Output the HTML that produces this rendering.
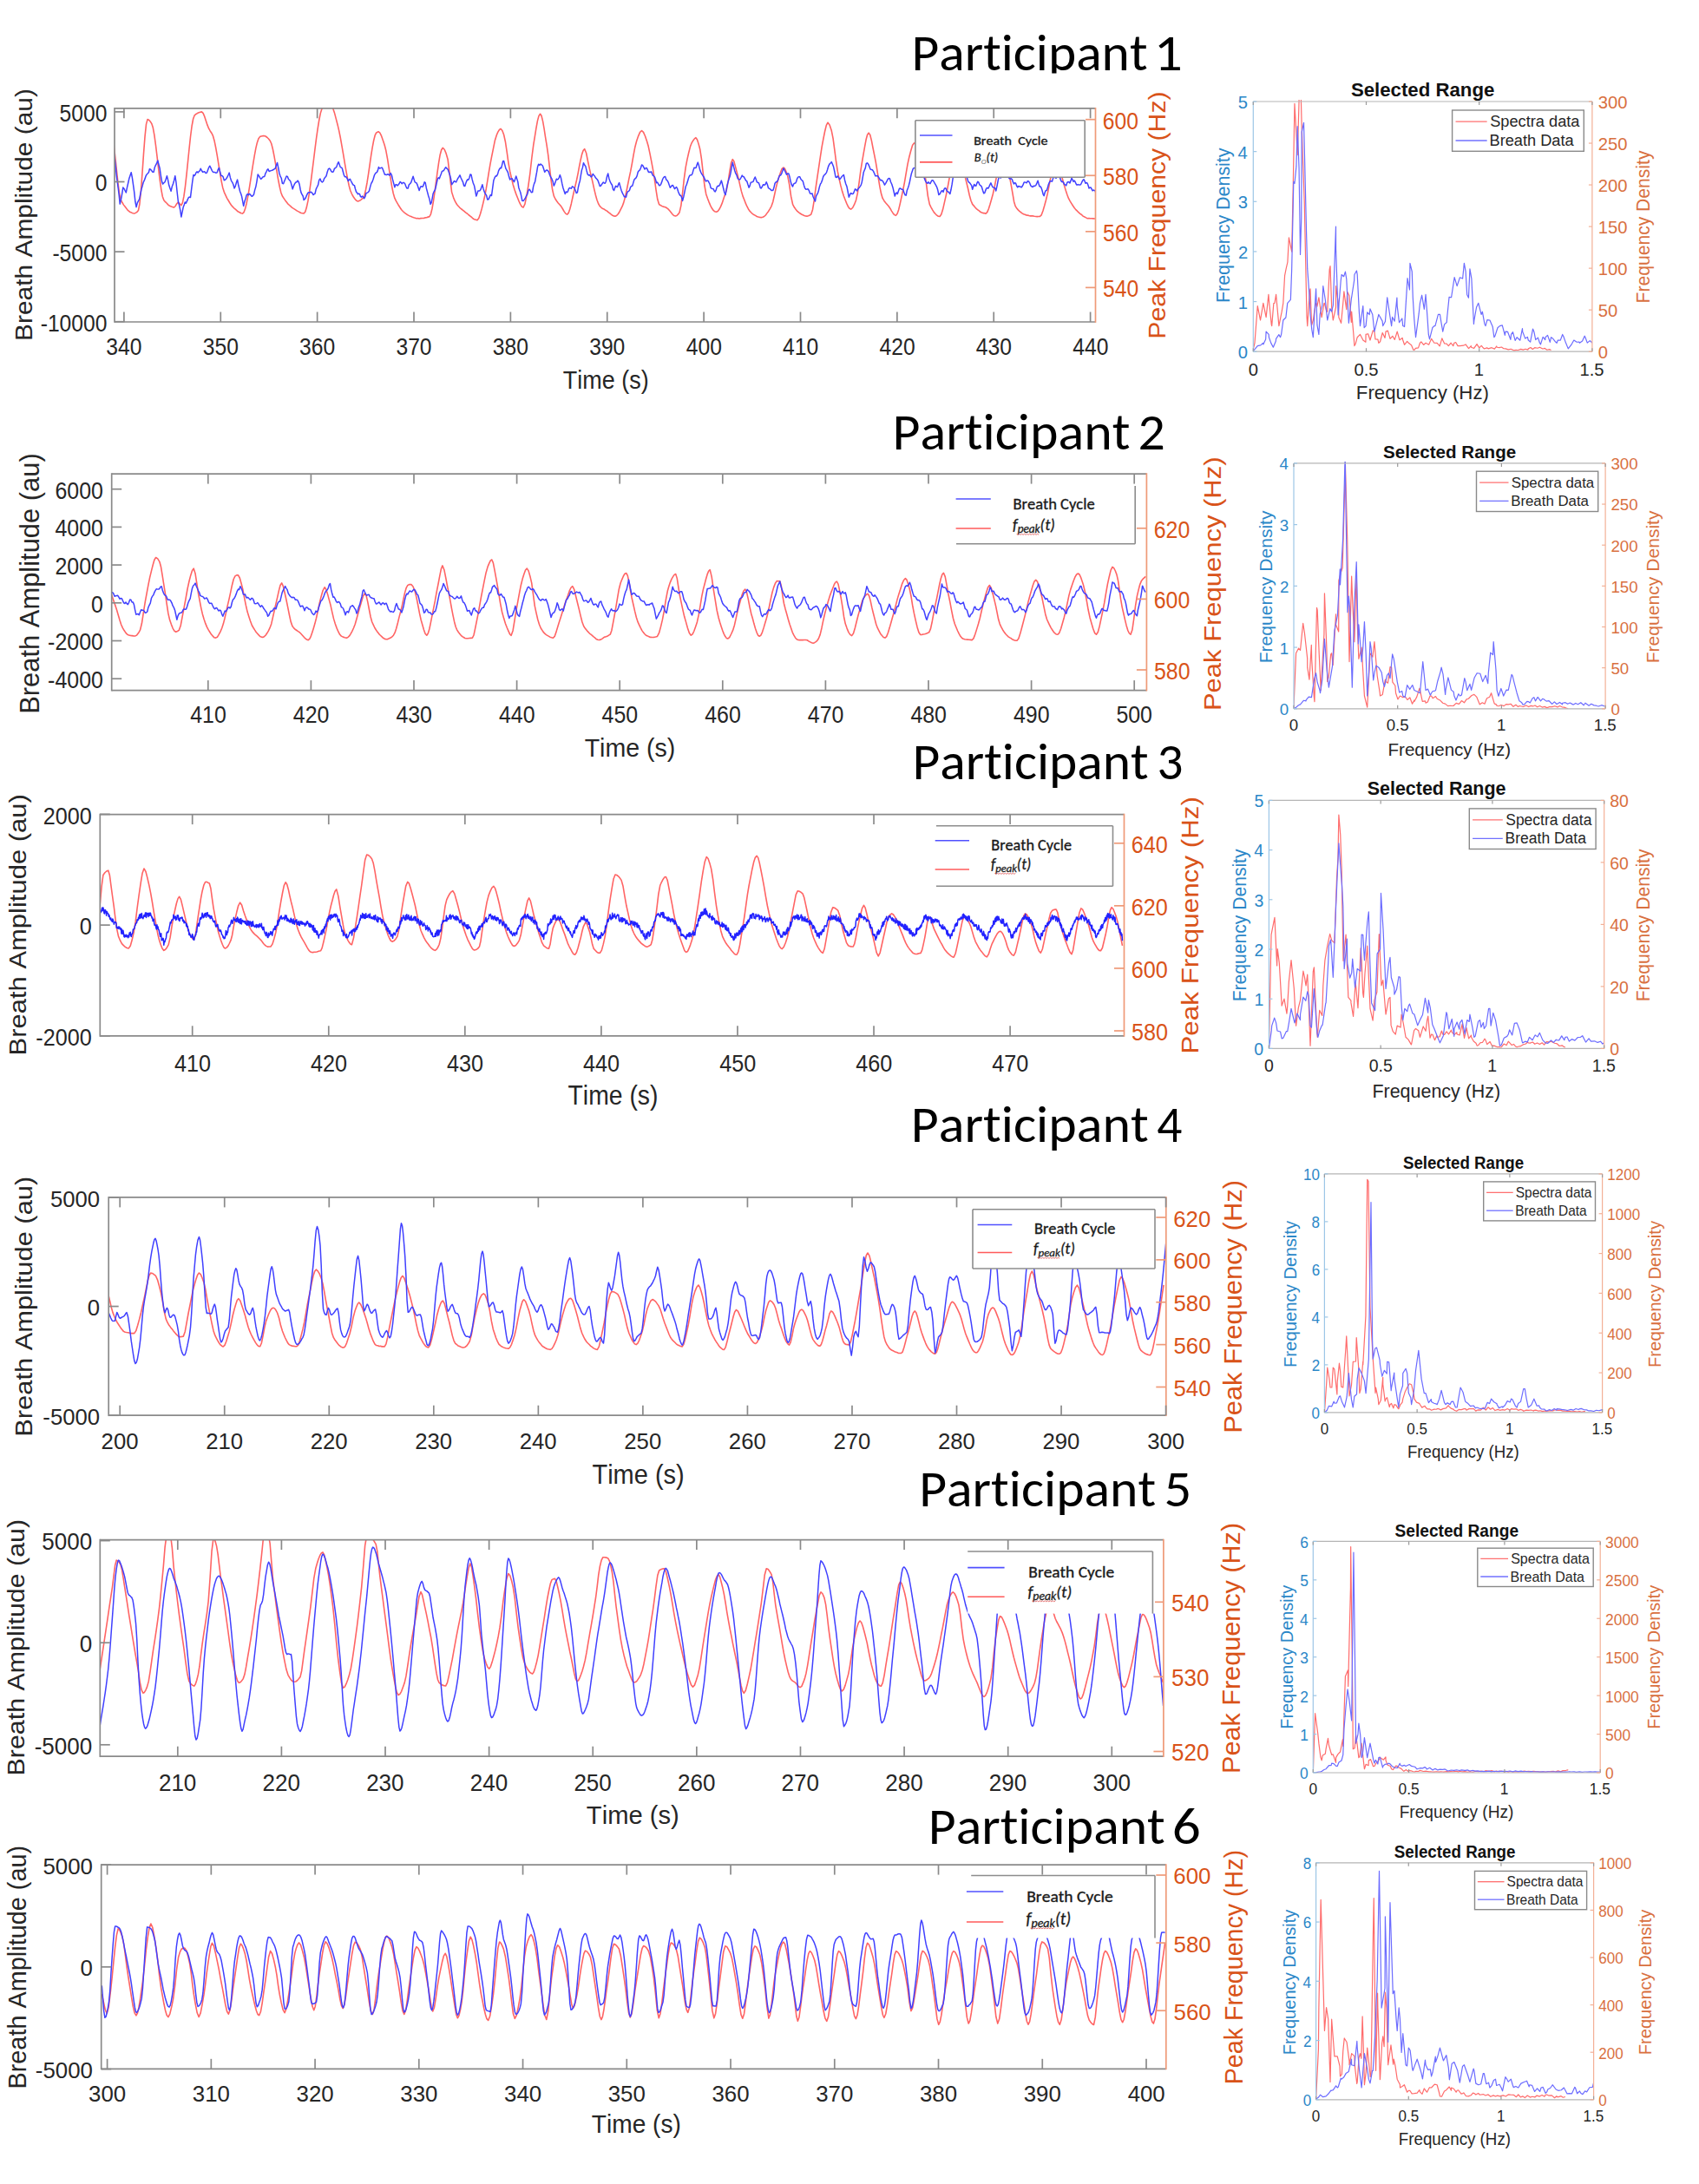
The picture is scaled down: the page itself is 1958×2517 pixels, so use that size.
<!DOCTYPE html>
<html><head><meta charset="utf-8"><title>Participants breath cycle and peak frequency</title>
<style>html,body{margin:0;padding:0;background:#fff;}svg{display:block;}text[font-family^=Carlito]{font-size-adjust:0.4775;}text{font-variant-ligatures:none;font-kerning:none;white-space:pre;}</style></head>
<body><svg width="1958" height="2517" viewBox="0 0 1958 2517">
<rect width="1958" height="2517" fill="#fff"/>
<clipPath id="cp1"><rect x="132" y="124.8" width="1130.5" height="246.2"/></clipPath>
<g clip-path="url(#cp1)">
<polyline points="131.18,166.94 132.83,181.47 134.47,197.2 136.12,212.01 137.77,224.05 139.42,230.63 140.95,233.52 142.48,236.12 144.01,238.11 145.54,240.08 147.07,242.11 148.6,243.36 150.13,244.61 151.66,245.11 153.19,245.77 154.72,246.05 156.29,245.37 157.86,244.39 159.43,242.59 160.94,235.04 162.46,219.53 163.97,199.34 165.48,177.67 167,157.6 168.51,143.11 170.02,137.63 171.59,138.15 173.16,139.96 174.73,142.34 176.3,147.11 177.87,155.66 179.44,167.08 181.01,180.15 182.58,193.82 184.15,206.72 185.72,217.82 187.29,226.47 188.86,230.68 190.54,232.69 192.22,234.27 193.9,236.12 195.58,237.31 197.27,237.95 198.95,238.62 200.63,238.98 202.2,237.45 203.77,234.71 205.34,232.98 207.1,234.91 208.87,236.61 210.4,233.67 211.93,226.21 213.46,215.12 214.99,201.44 216.52,186.34 218.05,171.29 219.58,157.01 221.11,145.25 222.64,137 224.17,132.91 225.82,131.52 227.47,130.57 229.12,129.78 230.77,129.21 232.41,128.9 234.06,130.41 235.71,134.18 237.36,139.22 239.01,144.17 240.65,148.21 242.22,150.92 243.79,153.17 245.36,156.31 246.98,161.93 248.6,169.76 250.22,178.9 251.84,188.9 253.45,198.89 255.07,208.29 256.69,216.15 258.31,221.34 259.93,224.89 261.55,228.32 263.17,231.02 264.79,233.76 266.4,236.25 268.02,238.12 269.64,239.79 271.26,241.16 272.91,242.61 274.56,244.05 276.2,244.74 277.85,245.79 279.5,246.08 281.04,244.67 282.58,240.59 284.12,234.47 285.66,226.56 287.2,217.57 288.74,207.78 290.28,197.62 291.81,188.12 293.35,178.81 294.89,170.58 296.43,164.18 297.97,159.67 299.51,157.61 301.08,157.02 302.65,156.67 304.22,156.54 305.99,157.02 307.75,158.26 309.52,159.97 311.28,162.27 312.85,165.78 314.42,171.97 315.99,179.91 317.56,188.83 319.13,198.2 320.7,207.3 322.27,215.22 323.84,221.94 325.41,226.01 326.98,228.37 328.55,230.66 330.12,232.73 331.69,234.85 333.26,236.28 334.83,237.66 336.4,239.14 337.97,240.17 339.54,241.08 341.05,242.06 342.56,243.15 344.08,243.88 345.59,244.7 347.1,245.49 348.62,245.79 350.13,245.89 351.73,244.18 353.32,239.07 354.92,231.63 356.52,221.94 358.12,210.54 359.71,198.12 361.31,185.51 362.91,172.4 364.51,159.82 366.11,148.55 367.7,138.75 369.3,130.63 370.9,125.42 372.5,123.39 374.07,123.3 375.63,122.79 377.2,122.77 378.77,122.58 380.34,122.41 381.91,122.24 383.68,124.66 385.44,129.89 387.21,136.67 388.98,143.43 390.62,150.39 392.27,158.49 393.92,167.77 395.57,177.43 397.22,187.44 398.86,196.8 400.51,205.74 402.16,213.68 403.81,219.71 405.46,223.51 407.22,226.75 408.99,229.17 410.75,231.29 412.52,231.93 414.48,231.3 416.44,229.95 418.4,228.1 419.94,225.26 421.47,218.77 423,210.73 424.53,200.96 426.06,190.27 427.59,179.61 429.12,170.16 430.65,162 432.18,155.96 433.71,152.96 436.06,151.73 437.83,153.13 439.59,156.71 441.36,161.83 443.13,167.06 444.81,173.56 446.49,182.66 448.17,193.45 449.85,204.22 451.53,214.48 453.22,222.78 454.9,228.45 456.47,231.7 458.04,234.3 459.61,237.03 461.18,239.45 462.74,241.79 464.31,243.51 465.88,244.85 467.45,246.05 469.02,247.2 470.59,248.09 472.16,248.91 473.73,249.41 475.3,250.28 476.87,250.78 478.44,251.17 480.01,251.73 481.58,251.66 483.15,251.93 484.83,251.62 486.51,251.5 488.19,251.54 489.88,250.91 491.56,250.69 493.24,250.12 494.92,249.62 496.45,246.77 497.98,240.5 499.51,231.54 501.04,221.06 502.57,209.39 504.1,198.02 505.63,187.45 507.16,178.49 508.69,172.8 510.22,170.46 512.19,172.23 514.15,176.92 516.11,183.71 518.35,202.38 520.59,221.37 522.56,227.57 524.52,232.21 526.48,235.47 528.16,237.45 529.84,239.33 531.53,240.75 533.21,242.07 534.89,243.4 536.57,244.87 538.25,245.98 539.93,247.5 541.62,248.79 543.3,250.18 544.98,251.72 546.66,252.84 548.34,253.26 550.02,253.79 551.79,251.57 553.56,246.54 555.32,240.14 557.09,232.82 558.66,226.01 560.23,217.89 561.8,208.35 563.36,198.62 564.93,189.38 566.5,181.11 568.47,171.33 570.43,161.67 572.39,155.48 573.96,151.9 575.53,149.5 577.1,148.42 578.86,150.45 580.63,155.22 582.4,163.24 584.16,174.83 585.93,187.55 587.69,197.51 589.46,205.24 591.22,212.66 592.99,218.5 594.76,223.63 596.4,227.78 598.05,231.85 599.7,235.3 601.35,238.12 603,239.08 604.96,235.07 606.92,225.23 608.88,214.06 610.84,199.79 612.81,182.25 614.77,167.1 616.32,157.55 617.88,147.93 619.43,139.39 620.98,133.57 622.54,131.22 624.04,133.55 625.55,139.62 627.06,148.23 628.56,158.07 630.07,167.07 631.72,178.64 633.37,192.73 635.01,207.08 636.66,218.77 638.31,225.87 639.96,229.25 641.61,231.75 643.25,233.96 644.9,235.82 646.55,237.64 648.32,240.49 650.08,243.66 651.85,246.15 653.61,247.17 655.18,245.4 656.75,241 658.32,234.94 659.89,227.75 661.46,220.7 663.03,214 664.54,207.51 666.06,200.07 667.57,191.88 669.09,184.45 670.6,177.89 672.11,173.6 673.63,171.66 675.59,176.24 677.55,186.03 679.51,195.17 681.19,202.36 682.87,209.42 684.56,217.09 686.24,224.19 687.92,230.23 689.6,234.77 691.28,237.56 693.05,239.3 694.81,240.61 696.58,241.32 698.35,242.58 699.86,243.36 701.37,244.89 702.89,245.79 704.4,247.07 705.91,248.27 707.43,248.89 708.94,249.18 710.59,248.52 712.24,246.76 713.88,244.2 715.53,240.93 717.18,237.69 718.75,233.39 720.32,227.78 721.89,220.79 723.46,212.98 725.03,205.06 726.6,197.88 728.36,188.65 730.13,178.47 731.9,169.19 733.66,162.52 735.62,156.85 737.58,152.39 739.55,150.54 741.51,152.36 743.47,156.72 745.43,162.44 747.2,168.55 748.96,176.81 750.73,185.85 752.5,195.28 754.26,206.21 756.03,218.87 757.79,229.76 759.56,235.49 761.13,236.57 762.7,237.42 764.27,238.12 765.84,238.5 767.41,239.02 768.98,240.08 770.55,241.45 772.11,243.36 773.68,245.29 775.25,247.23 776.82,248.59 778.39,248.91 779.96,248.45 781.53,246.93 783.1,244.67 784.87,236.85 786.63,222.13 788.4,205.88 790.16,193.15 791.93,183.95 793.7,175.97 795.46,169.08 797.23,164.56 798.8,161.93 800.37,159.88 801.94,158.71 803.51,160.96 805.08,165.88 806.65,171.72 808.41,182.83 810.18,198.62 811.94,213.76 813.71,223.67 815.39,228.53 817.07,232.87 818.75,236.82 820.43,240.01 822.12,242.44 823.8,243.81 825.48,244.18 827.16,243.44 828.84,241.3 830.52,238.18 832.21,234.13 833.89,229.1 835.57,224.22 837.25,218.97 839.02,210.2 840.78,198.48 842.55,187.92 844.31,183.66 845.88,185.86 847.45,191.85 849.02,197.82 850.79,204.63 852.55,212.33 854.32,220.13 856.09,226.13 857.66,229.97 859.23,234.15 860.79,237.73 862.36,240.71 863.93,243.16 865.5,244.76 867.18,246.29 868.87,247.54 870.55,248.4 872.23,249.48 873.91,250.03 875.59,250.37 877.27,250.6 878.96,250.17 880.64,249.5 882.32,247.99 884,245.64 885.68,243.43 887.36,240.63 889.05,237.56 890.81,232.42 892.58,224.54 894.34,216.36 896.11,209.27 897.82,203.88 899.53,198.63 901.24,194.4 902.95,193.04 904.52,194.46 906.09,198.07 907.66,202.28 909.62,212.43 911.58,226.18 913.54,235.27 915.31,238.82 917.07,241.3 918.84,243.42 920.61,244.9 922.18,245.97 923.75,247.03 925.31,247.73 926.88,248.4 928.45,249 930.02,249.12 931.59,248.8 933.16,248.07 934.73,247.05 936.5,241.69 938.26,230.88 940.03,217.11 941.8,204.85 943.56,193.17 945.33,181.16 947.09,169.6 948.86,160.21 950.58,151.5 952.31,144.32 954.04,141.22 956.16,144.13 958.28,150.61 960.04,159.43 961.81,172.57 963.57,186.23 965.34,197.67 967.1,206.21 968.87,213.89 970.64,220.6 972.4,226.06 974.05,230.31 975.7,234.37 977.35,237.95 978.99,240.28 980.64,241.13 982.6,239.5 984.57,235.71 986.53,230.69 988.29,222.8 990.06,210.56 991.82,197.15 993.59,186.12 995.1,177.48 996.6,168.83 998.11,160.78 999.62,155.24 1001.12,153.16 1002.77,155.55 1004.42,162.11 1006.07,170.73 1007.72,178.87 1009.29,186.87 1010.86,196.25 1012.42,206.35 1013.99,215.67 1015.56,223.32 1017.13,228.44 1018.9,231.42 1020.67,233.77 1022.43,235.79 1024.2,237.82 1025.84,240.2 1027.49,243.1 1029.14,245.67 1030.79,247.61 1032.44,248.36 1034.08,246.35 1035.73,241.4 1037.38,234.4 1039.03,226.65 1040.68,218.99 1042.44,210.07 1044.21,199.57 1045.97,189.41 1047.74,181.25 1049.7,173.71 1051.66,167.32 1053.63,164.82 1055.59,166.33 1057.55,169.73 1059.51,174.01 1061.47,180.23 1063.44,188.29 1065.4,197.68 1067.36,210.62 1069.32,225.84 1071.28,235.46 1072.96,238.82 1074.65,241.86 1076.33,244.59 1078.01,246.44 1079.69,248.19 1081.37,249.33 1083.05,249.56 1084.82,247.09 1086.59,241.32 1088.35,233.64 1090.12,225.83 1091.88,217.4 1093.65,207.74 1095.41,197.92 1097.18,190.46 1099.14,184.3 1101.1,178.78 1103.07,176.45 1105.03,178.85 1106.99,184.42 1108.95,190.5 1110.52,196.35 1112.09,203.05 1113.66,209.59 1115.43,216.81 1117.19,224.72 1118.96,231.22 1120.72,235.39 1122.25,237.1 1123.78,239.07 1125.31,240.66 1126.85,241.82 1128.38,242.98 1129.91,244.28 1131.44,244.98 1132.97,245.61 1134.5,245.65 1136.03,246.12 1137.68,244.59 1139.32,240.74 1140.97,235.54 1142.62,229.67 1144.27,223.7 1146.03,215.94 1147.8,206.93 1149.56,197.67 1151.33,190.82 1152.9,185.33 1154.47,180.96 1156.04,178.95 1157.61,180.79 1159.18,185.16 1160.75,190.64 1162.32,197.17 1163.89,205.6 1165.46,214.26 1167.03,223.19 1168.6,232.42 1170.16,237.61 1171.73,239.99 1173.3,241.88 1174.87,243.34 1176.44,244.63 1178.01,245.87 1179.58,246.8 1181.15,247.34 1182.72,247.87 1184.29,248.13 1185.86,248.58 1187.43,248.9 1189,248.82 1190.57,248.91 1192.14,249.31 1193.71,249.47 1195.28,249.61 1196.85,249.52 1198.42,249.42 1200.18,247.8 1201.95,242.91 1203.71,237.04 1205.48,230.49 1207.25,223.15 1209.01,213.99 1210.78,204.84 1212.54,197.56 1214.11,192.31 1215.68,187.99 1217.25,185.91 1218.82,187.99 1220.39,192.49 1221.96,197.78 1223.53,202.81 1225.1,208.7 1226.67,214.34 1228.24,219.58 1229.81,224.18 1231.38,228.42 1233.06,231.67 1234.74,234.37 1236.42,237.02 1238.1,239.43 1239.79,241.62 1241.47,243.2 1243.15,244.93 1244.83,246.31 1246.51,247.48 1248.19,249.11 1249.88,249.91 1251.56,250.88 1253.24,251.69 1254.92,251.67 1256.57,251.79 1258.22,251.69 1259.86,251.83 1261.51,251.98 1263.16,252" fill="none" stroke="#ff6464" stroke-width="1.6" stroke-linejoin="round"/>
<polyline points="131.18,174.48 132.19,181.71 133.2,191.33 134.2,201.86 135.21,209.61 136.22,217.01 137.23,225.22 138.24,235.12 139.42,230.19 140.59,223.86 141.77,216.02 142.95,217.39 144.13,219.74 145.3,221.97 146.48,216.21 147.66,210.98 148.83,205.72 150.01,202.29 151.19,198.68 152.37,204.61 153.54,212.84 154.72,221.33 155.9,232.47 157.07,238.65 158.25,233.95 159.43,231.69 160.61,229.71 161.78,224 162.96,218.11 164.14,214.17 165.31,209.79 166.32,207.91 167.33,205.13 168.34,202.24 169.35,200.83 170.36,199.81 171.37,198.7 172.38,194.81 173.56,195.18 174.73,196.67 175.91,198.34 177.09,198.32 178.26,193.08 179.44,190.32 180.62,188.1 181.8,184.98 182.97,189.62 184.15,194.02 185.33,202.3 186.5,209.15 187.68,212.11 188.86,210.73 190.04,209.73 191.21,206.57 192.39,202.8 193.57,207.44 194.74,213.6 195.92,217.08 197.1,220.29 198.28,215.07 199.45,212.06 200.63,207.94 201.81,202.64 202.98,210.27 204.16,221.52 205.34,231.97 206.52,236.33 207.69,241.87 208.87,250 210.05,244.43 211.22,238.67 212.25,235.94 213.28,233 214.31,234.19 215.34,232.14 216.37,229.63 217.4,227.55 218.43,227.12 219.46,227.59 220.64,218.08 221.82,208.9 223,201.47 224.03,202.49 225.06,201.3 226.09,198.78 227.12,197.88 228.15,199.03 229.18,197.65 230.21,196.97 231.24,194.23 232.41,196.5 233.59,198.37 234.77,198.03 235.94,197.82 237.12,199.57 238.3,199.34 239.48,196.16 240.65,193.08 241.83,191.23 243.01,193.66 244.18,196.35 245.36,198.18 246.54,198.55 247.72,198.49 248.89,199.31 250.07,199.13 251.25,195.58 252.42,193.4 253.6,197.92 254.78,202.46 255.96,202.57 257.13,203.81 258.31,207.84 259.49,207.29 260.67,206.23 261.84,204.1 263.02,201.72 264.2,199.08 265.37,204.63 266.55,208.33 267.73,210.05 268.91,212.72 270.08,217.02 271.26,214.67 272.44,210.24 273.61,207.13 274.62,212.49 275.63,216.75 276.64,220.71 277.65,223.3 278.66,226.56 279.67,231.89 280.68,237.33 281.85,232.32 283.03,228.93 284.21,224.68 285.39,223.6 286.39,224.8 287.4,223.32 288.41,224.03 289.42,225.6 290.43,226.32 291.44,225.43 292.45,224.34 293.63,219.15 294.8,215.29 295.98,209.07 297.16,201.02 298.33,202.66 299.51,204.6 300.69,206.34 301.87,205.26 302.87,203.9 303.88,203.8 304.89,203.16 305.9,199.91 306.91,198.06 307.92,195.83 308.93,194.74 310.11,197.49 311.28,197.07 312.46,196.65 313.64,196.3 314.81,195.76 315.99,194.84 317.17,194.23 318.35,190.66 319.52,187.44 320.7,193.26 321.88,199.49 323.05,203.08 324.23,205.26 325.41,211.39 326.59,211.69 327.76,208.71 328.94,205.97 330.12,203.08 331.29,203.37 332.47,206.47 333.65,207.47 334.83,209.09 336,213.14 337.18,217.88 338.36,214.55 339.54,211.9 340.71,210.25 341.89,209.73 343.07,208.08 344.08,209.44 345.08,212.44 346.09,218.23 347.1,222.2 348.11,224.29 349.12,225.73 350.13,230.48 351.31,229.51 352.48,227.5 353.66,224.65 354.84,222.21 356.02,221.74 357.02,222 358.03,221.16 359.04,221.71 360.05,222.83 361.06,224.58 362.07,223.74 363.08,223.04 364.26,217.88 365.43,215.48 366.61,213.11 367.79,207.4 368.96,206.07 370.14,209.01 371.32,209.98 372.5,208.94 373.67,205.67 374.85,204.37 376.03,202.79 377.2,198.3 378.38,194.88 379.56,194.07 380.74,195.31 381.91,197.56 383.09,198.4 384.27,197.77 385.44,194.25 386.62,193.54 387.8,192.38 388.98,188.93 390.15,186.67 391.18,189.53 392.21,192.63 393.24,193.06 394.27,193.75 395.3,197.74 396.33,201.65 397.36,203.65 398.39,203.74 399.4,204.39 400.41,206.41 401.42,208.6 402.43,206.85 403.44,206.4 404.45,208.51 405.46,210.35 406.47,212.4 407.47,213.38 408.48,213.74 409.49,217.77 410.5,221.04 411.51,222.18 412.52,223.75 413.53,223.15 414.54,223.67 415.55,226.69 416.56,227.19 417.56,226.05 418.57,226.99 419.58,228.74 420.76,226.94 421.94,222.5 423.11,222.16 424.29,221.66 425.47,219.95 426.65,215.34 427.82,211.36 429,209.48 430.18,206.21 431.35,202.2 432.36,200.24 433.37,198.98 434.38,198.59 435.39,196.4 436.4,192.58 437.41,193.96 438.42,193.72 439.43,193.33 440.43,193.27 441.44,195.85 442.45,198.56 443.46,201.16 444.47,201.19 445.48,201.53 446.66,200.81 447.83,201.1 449.01,202.07 450.19,199.52 451.37,201.78 452.54,206.93 453.72,211.34 454.9,215.69 455.94,212.78 456.99,212.78 458.04,213.85 459.08,213.02 460.13,211.49 461.18,209.45 462.22,210.35 463.27,211.66 464.31,210.56 465.49,210.52 466.67,211.79 467.85,214.83 469.02,217.08 470.2,216.94 471.38,212.81 472.55,211.68 473.73,210.21 474.91,206.69 476.09,203.32 477.09,206.61 478.1,209.73 479.11,210.5 480.12,210.92 481.13,213.39 482.14,216.39 483.15,219.57 484.16,216.37 485.17,214.67 486.18,215.14 487.18,215.13 488.19,213.1 489.2,209.82 490.21,210.66 491.39,216.96 492.57,221.4 493.74,225.78 494.92,229.39 496.1,235.38 497.13,233.52 498.16,228.53 499.19,222.95 500.22,220.72 501.25,219.22 502.28,215.22 503.31,210.49 504.34,206.11 505.35,204.74 506.36,205.83 507.36,202.93 508.37,200.45 509.38,197.37 510.39,197.09 511.4,196.51 512.58,194.34 513.76,192.77 514.93,194.21 516.11,195.06 517.23,198.16 518.35,201.43 519.47,205.7 520.59,212.72 521.6,211.36 522.61,209.83 523.62,208.53 524.63,209.31 525.64,209.85 526.65,207.79 527.66,205.63 528.83,203.95 530.01,201.83 531.19,205.01 532.37,207.53 533.54,209.94 534.72,214.3 535.75,214.47 536.78,211.25 537.81,208.51 538.84,206.82 539.87,207.29 540.9,205.01 541.93,201.03 542.96,201.18 544.14,206.67 545.31,210.96 546.49,213.7 547.67,219.5 548.85,226.1 549.86,223.29 550.86,219.91 551.87,219.99 552.88,219.69 553.89,218.54 554.9,215.63 555.91,212.83 557.09,217.68 558.26,221.19 559.44,223.56 560.62,225.12 561.8,230 562.97,229.86 564.15,227.12 565.33,224.64 566.5,225.48 567.68,216.93 568.86,208.03 570.04,204.89 571.21,202.84 572.39,202.88 573.57,200.61 574.58,196.84 575.58,194.95 576.59,193.51 577.6,193.74 578.61,190.08 579.62,185.78 580.63,185.45 581.81,190.15 582.98,194.45 584.16,196.29 585.34,198.63 586.52,203.31 587.69,206.92 588.87,206.16 590.05,205.77 591.22,207.59 592.4,209.61 593.58,206.84 594.76,203.01 595.76,206.12 596.77,209.35 597.78,216.18 598.79,219.07 599.8,221.72 600.81,226.07 601.82,231.25 603,231.56 604.17,230.11 605.35,228.45 606.53,225.75 607.7,224.03 608.88,219.5 610.06,218.13 611.24,219.78 612.41,221.79 613.59,221.63 614.6,215.16 615.61,211.66 616.62,209.41 617.63,203.58 618.64,198.17 619.64,191.96 620.65,189.3 621.83,190.39 623.01,189.08 624.18,189.95 625.36,191 626.54,194.58 627.72,198.35 628.89,196.81 630.07,195.94 631.25,196.43 632.42,198.26 633.6,201.78 634.78,204.26 635.96,206.23 637.13,209.05 638.31,214.13 639.32,211.97 640.33,209.11 641.34,206.21 642.35,206.98 643.36,206.32 644.36,204.51 645.37,201.62 646.55,205.27 647.73,211.41 648.91,216.47 650.08,219.9 651.26,223.5 652.29,220.99 653.32,221.68 654.35,220.87 655.38,217.68 656.41,216.48 657.44,216.86 658.47,217.31 659.5,214.82 660.68,215.69 661.85,216.27 663.03,219.22 664.21,222.54 665.39,221.95 666.39,216 667.4,211.63 668.41,208.2 669.42,201.91 670.43,196.1 671.44,193.13 672.45,187.64 673.63,190.01 674.8,191.39 675.98,196.42 677.16,200.77 678.33,201.95 679.34,201.53 680.35,202.78 681.36,203.94 682.37,202.73 683.38,200.42 684.39,201.87 685.4,203.03 686.57,205.14 687.75,206.2 688.93,207.79 690.11,210.86 691.28,214.57 692.29,214.37 693.3,212.73 694.31,211.31 695.32,210.09 696.33,210.96 697.34,211.23 698.35,209.25 699.52,203.38 700.7,199.99 701.88,205.69 703.05,209.08 704.23,211.47 705.41,213.24 706.59,218.3 707.6,219.58 708.6,216.63 709.61,214.34 710.62,215.14 711.63,215.47 712.64,212.47 713.65,210.58 714.83,215.07 716,219.16 717.18,222.15 718.36,224.47 719.54,226.87 720.54,226.52 721.55,227.1 722.56,222.74 723.57,220.73 724.58,220.39 725.59,219.04 726.6,215.76 727.68,214.4 728.76,214.19 729.84,210.6 730.91,206.92 731.99,205.88 733.07,204.9 734.15,202.62 735.23,198.21 736.31,196.78 737.39,195.82 738.47,193.51 739.55,189.99 740.72,190.61 741.9,192.9 743.08,195.09 744.26,193.6 745.43,193.79 746.44,196.16 747.45,198.48 748.46,198.28 749.47,198.42 750.48,197.86 751.49,200.17 752.5,202.32 753.5,202.94 754.51,203.93 755.52,207.02 756.53,210.69 757.54,210.03 758.55,211.71 759.56,213.67 760.57,213.65 761.58,212.46 762.59,209.9 763.59,206.77 764.6,204.74 765.61,203.67 766.62,203.39 767.8,207.06 768.98,207.97 770.15,210.05 771.33,213.56 772.36,216.3 773.39,215.09 774.42,213.8 775.45,213.48 776.48,215.61 777.51,217.64 778.54,216.54 779.57,215.57 780.58,217.27 781.59,220.68 782.6,223.1 783.61,225.14 784.62,225.15 785.62,227.79 786.63,231.42 787.81,226.76 788.99,221.14 790.16,215.26 791.34,212.49 792.52,208.69 793.59,205.06 794.66,202.44 795.73,201.83 796.8,201.66 797.87,200.35 798.94,196.37 800.01,193.19 801.08,193.64 802.15,193.3 803.22,189.81 804.29,187.14 805.47,191.08 806.65,195.88 807.82,198.8 809,200.79 810.18,202.7 811.35,204.21 812.53,207.26 813.71,208.95 814.89,207.96 816.06,208.4 817.07,210.43 818.08,212.11 819.09,216.4 820.1,217.21 821.11,217.53 822.12,217.64 823.13,219.97 824.16,220.98 825.19,219.17 826.22,215.4 827.25,214.24 828.28,214.42 829.31,213.34 830.34,210.9 831.37,208.13 832.54,212.31 833.72,217.24 834.9,222 836.07,224.61 837.1,218.67 838.13,213.11 839.16,209.17 840.19,205.87 841.22,203.04 842.25,198.37 843.28,192.08 844.31,187.13 845.49,191.96 846.67,196.5 847.85,199.9 849.02,201.97 850.2,205.73 851.21,206.53 852.22,207.11 853.23,206.26 854.24,204.22 855.25,202.15 856.25,203.47 857.26,203.77 858.44,205.85 859.62,208.07 860.79,208.94 861.97,212.79 863.15,216.15 864.16,214.08 865.17,210.35 866.18,209.91 867.18,209.73 868.19,209.04 869.2,205.99 870.21,203.98 871.22,206.6 872.23,209.59 873.24,210.39 874.25,210.4 875.26,212.98 876.27,216.57 877.27,216.97 878.45,214.9 879.63,212.68 880.81,213.28 881.98,212.67 883.16,209.79 884.34,212.58 885.52,216.68 886.69,217.33 887.87,218.15 889.05,219.38 890.06,219.48 891.06,219 892.07,215.62 893.08,211.17 894.09,210.03 895.1,209.47 896.11,208.61 897.25,205.2 898.39,202.22 899.53,201.95 900.67,200.3 901.81,196.91 902.95,193.95 904.13,196.25 905.3,198.49 906.48,201.25 907.66,200.04 908.83,200 910.01,203.63 911.19,209.32 912.37,213.1 913.54,215.04 914.57,212.03 915.6,211.33 916.63,211.11 917.66,209.36 918.69,205.8 919.72,204.12 920.75,203.85 921.78,203.86 922.96,206.55 924.14,207.71 925.31,208.89 926.49,213.4 927.67,217.05 928.85,218.16 930.02,218.05 931.2,217.78 932.38,219.73 933.56,222.95 934.73,223.34 935.91,222.86 937.09,226.8 938.26,229.28 939.44,232.04 940.45,226.31 941.46,224.23 942.47,222.64 943.48,219.23 944.49,214.93 945.49,211.98 946.5,210.56 947.68,207.38 948.86,203.25 950.04,201.62 951.21,200.58 952.39,199.14 953.57,195.56 954.74,191.58 955.92,189.13 957.1,188.05 958.28,186.6 959.45,189.23 960.63,192.35 961.81,197.73 962.98,204.05 964.16,204.43 965.34,202.86 966.52,204.49 967.69,206.91 968.87,205.39 970.05,203.8 971.22,202.38 972.4,201.55 973.58,207.68 974.76,212.03 975.93,214.84 977.11,220.76 978.29,227.22 979.32,224.94 980.35,222.64 981.38,223 982.41,223.56 983.44,223.01 984.47,220.52 985.5,217.89 986.53,218.46 987.7,219.94 988.88,217.59 990.06,216.53 991.24,214.88 992.25,213.35 993.25,210.12 994.26,204.48 995.27,198.44 996.28,196.06 997.29,193.64 998.3,188.44 999.48,187.82 1000.65,189.17 1001.83,191.75 1003.01,194.9 1004.18,195.55 1005.36,195.82 1006.54,197.39 1007.72,200.07 1008.89,202.87 1010.07,202.83 1011.25,202.59 1012.42,204.07 1013.43,205.67 1014.44,207.78 1015.45,207.52 1016.46,208.02 1017.47,208.95 1018.48,210.77 1019.49,213.12 1020.67,211.35 1021.84,209.23 1023.02,206.85 1024.2,205.47 1025.37,205.69 1026.55,209.75 1027.73,212.31 1028.91,215.91 1030.08,220.89 1031.26,225.96 1032.27,222.92 1033.28,222.02 1034.29,223.53 1035.3,220.43 1036.3,217.69 1037.31,216.93 1038.32,217.78 1039.5,218.36 1040.68,218.43 1041.85,221.79 1043.03,224.7 1044.21,225.11 1045.24,219.57 1046.27,217.02 1047.3,213.89 1048.33,209.74 1049.36,204.56 1050.39,199.97 1051.42,197.06 1052.45,194.12 1053.46,193.59 1054.47,193.9 1055.48,193.63 1056.48,195.22 1057.49,198.37 1058.5,196.6 1059.51,197.33 1060.56,199.37 1061.6,202.2 1062.65,203.29 1063.7,203.68 1064.74,203.71 1065.79,206.94 1066.84,209.15 1067.88,210.67 1068.93,211.29 1069.94,209.78 1070.95,211.12 1071.96,211.65 1072.96,209.64 1073.97,207.78 1074.98,207.82 1075.99,209 1077.17,211.2 1078.35,213.21 1079.52,215.26 1080.7,218.83 1081.88,224.48 1082.91,223.77 1083.94,222.18 1084.97,220.15 1086,219.61 1087.03,221.37 1088.06,217.91 1089.09,216.77 1090.12,217.21 1091.29,220.18 1092.47,220.94 1093.65,221.86 1094.83,223.46 1096,218.52 1097.18,212.18 1098.36,204.18 1099.39,201.65 1100.42,203.62 1101.45,202.73 1102.48,200.53 1103.51,199.14 1104.54,199.88 1105.57,199.81 1106.6,197.68 1107.61,197.68 1108.62,199.31 1109.62,201 1110.63,202.81 1111.64,203.72 1112.65,203.73 1113.66,203.88 1114.67,205.46 1115.68,208.85 1116.69,210.22 1117.7,210.97 1118.71,212.4 1119.71,213.95 1120.72,218.25 1121.73,215.07 1122.74,212.51 1123.75,213.97 1124.76,214.22 1125.77,211.39 1126.78,209.24 1127.79,210.14 1128.96,213 1130.14,213.82 1131.32,215.3 1132.5,219.27 1133.67,222.79 1134.7,222.56 1135.73,219.63 1136.76,217.11 1137.79,216.5 1138.82,217.12 1139.85,215.11 1140.88,212.87 1141.91,210.85 1143.09,213.84 1144.27,215.88 1145.44,216.39 1146.62,216.48 1147.8,219.94 1148.98,214.62 1150.15,208.4 1151.33,203.38 1152.34,204.58 1153.35,205.03 1154.36,203.16 1155.37,201.19 1156.38,200.09 1157.38,201.2 1158.39,202.01 1159.57,201.17 1160.75,201.07 1161.92,202.82 1163.1,205.7 1164.17,205.93 1165.24,205.83 1166.31,206.6 1167.38,209.65 1168.45,211.95 1169.52,210.73 1170.59,211.27 1171.66,214.27 1172.73,215.91 1173.8,214.49 1174.87,215.12 1175.92,215.07 1176.97,215.88 1178.01,214.86 1179.06,212.9 1180.11,210.27 1181.15,209.9 1182.2,210.46 1183.24,210.71 1184.29,208.64 1185.47,208.96 1186.65,210.85 1187.82,213.9 1189,214.99 1190.18,215.47 1191.35,214.19 1192.53,214.39 1193.71,213.7 1194.89,211.1 1196.06,208.17 1197.07,211.91 1198.08,214.94 1199.09,215.02 1200.1,216.63 1201.11,219.71 1202.12,223.91 1203.13,225.71 1204.13,221.96 1205.14,219.66 1206.15,219.62 1207.16,216.73 1208.17,213.14 1209.18,210.57 1210.19,208.7 1211.37,208.75 1212.54,209.13 1213.72,205.11 1214.9,203.77 1216.07,204.8 1217.25,205.24 1218.43,203.05 1219.61,201.92 1220.61,201.71 1221.62,205 1222.63,207.97 1223.64,209.54 1224.65,209.17 1225.66,210.43 1226.67,212.65 1227.71,213.03 1228.76,213.84 1229.81,210.45 1230.85,209.63 1231.9,209.83 1232.95,211.02 1233.99,208.37 1235.04,205.32 1236.09,207.14 1237.09,209.37 1238.1,208.15 1239.11,209.54 1240.12,211.93 1241.13,213.2 1242.14,212.57 1243.15,212.99 1244.33,213 1245.5,212.72 1246.68,210.21 1247.86,207.85 1249.03,206.7 1250.04,208.67 1251.05,211.33 1252.06,210.46 1253.07,211.06 1254.08,213.74 1255.09,217.05 1256.1,216.16 1257.11,216.11 1258.12,217.98 1259.12,219.81 1260.13,219.09 1261.14,219.4 1262.15,220.04 1263.16,223.32" fill="none" stroke="#4040ff" stroke-width="1.5" stroke-linejoin="round"/>
</g>
<line x1="132" y1="124.8" x2="1262.5" y2="124.8" stroke="#8a8a8a" stroke-width="1.7"/>
<line x1="132" y1="371" x2="1262.5" y2="371" stroke="#8a8a8a" stroke-width="1.7"/>
<line x1="132" y1="123.95" x2="132" y2="371.85" stroke="#8a8a8a" stroke-width="1.7"/>
<line x1="1262.5" y1="123.95" x2="1262.5" y2="371.85" stroke="#ef9a78" stroke-width="1.7"/>
<line x1="142.9" y1="371" x2="142.9" y2="359.5" stroke="#8a8a8a" stroke-width="1.7"/>
<line x1="142.9" y1="124.8" x2="142.9" y2="136.3" stroke="#8a8a8a" stroke-width="1.7"/>
<line x1="254.27" y1="371" x2="254.27" y2="359.5" stroke="#8a8a8a" stroke-width="1.7"/>
<line x1="254.27" y1="124.8" x2="254.27" y2="136.3" stroke="#8a8a8a" stroke-width="1.7"/>
<line x1="365.64" y1="371" x2="365.64" y2="359.5" stroke="#8a8a8a" stroke-width="1.7"/>
<line x1="365.64" y1="124.8" x2="365.64" y2="136.3" stroke="#8a8a8a" stroke-width="1.7"/>
<line x1="477.01" y1="371" x2="477.01" y2="359.5" stroke="#8a8a8a" stroke-width="1.7"/>
<line x1="477.01" y1="124.8" x2="477.01" y2="136.3" stroke="#8a8a8a" stroke-width="1.7"/>
<line x1="588.38" y1="371" x2="588.38" y2="359.5" stroke="#8a8a8a" stroke-width="1.7"/>
<line x1="588.38" y1="124.8" x2="588.38" y2="136.3" stroke="#8a8a8a" stroke-width="1.7"/>
<line x1="699.75" y1="371" x2="699.75" y2="359.5" stroke="#8a8a8a" stroke-width="1.7"/>
<line x1="699.75" y1="124.8" x2="699.75" y2="136.3" stroke="#8a8a8a" stroke-width="1.7"/>
<line x1="811.12" y1="371" x2="811.12" y2="359.5" stroke="#8a8a8a" stroke-width="1.7"/>
<line x1="811.12" y1="124.8" x2="811.12" y2="136.3" stroke="#8a8a8a" stroke-width="1.7"/>
<line x1="922.49" y1="371" x2="922.49" y2="359.5" stroke="#8a8a8a" stroke-width="1.7"/>
<line x1="922.49" y1="124.8" x2="922.49" y2="136.3" stroke="#8a8a8a" stroke-width="1.7"/>
<line x1="1033.86" y1="371" x2="1033.86" y2="359.5" stroke="#8a8a8a" stroke-width="1.7"/>
<line x1="1033.86" y1="124.8" x2="1033.86" y2="136.3" stroke="#8a8a8a" stroke-width="1.7"/>
<line x1="1145.23" y1="371" x2="1145.23" y2="359.5" stroke="#8a8a8a" stroke-width="1.7"/>
<line x1="1145.23" y1="124.8" x2="1145.23" y2="136.3" stroke="#8a8a8a" stroke-width="1.7"/>
<line x1="1256.6" y1="371" x2="1256.6" y2="359.5" stroke="#8a8a8a" stroke-width="1.7"/>
<line x1="1256.6" y1="124.8" x2="1256.6" y2="136.3" stroke="#8a8a8a" stroke-width="1.7"/>
<line x1="132" y1="128.9" x2="143.5" y2="128.9" stroke="#8a8a8a" stroke-width="1.7"/>
<line x1="132" y1="209.5" x2="143.5" y2="209.5" stroke="#8a8a8a" stroke-width="1.7"/>
<line x1="132" y1="290.1" x2="143.5" y2="290.1" stroke="#8a8a8a" stroke-width="1.7"/>
<line x1="132" y1="370.7" x2="143.5" y2="370.7" stroke="#8a8a8a" stroke-width="1.7"/>
<line x1="1262.5" y1="331.4" x2="1251" y2="331.4" stroke="#ef9a78" stroke-width="1.7"/>
<line x1="1262.5" y1="266.83" x2="1251" y2="266.83" stroke="#ef9a78" stroke-width="1.7"/>
<line x1="1262.5" y1="202.27" x2="1251" y2="202.27" stroke="#ef9a78" stroke-width="1.7"/>
<line x1="1262.5" y1="137.7" x2="1251" y2="137.7" stroke="#ef9a78" stroke-width="1.7"/>
<text x="122.34" y="408.73" font-family="'Liberation Sans', Arial, sans-serif" font-size="27.4" fill="#262626" textLength="41.14" lengthAdjust="spacingAndGlyphs">340</text>
<text x="233.71" y="408.73" font-family="'Liberation Sans', Arial, sans-serif" font-size="27.4" fill="#262626" textLength="41.14" lengthAdjust="spacingAndGlyphs">350</text>
<text x="345.08" y="408.73" font-family="'Liberation Sans', Arial, sans-serif" font-size="27.4" fill="#262626" textLength="41.14" lengthAdjust="spacingAndGlyphs">360</text>
<text x="456.45" y="408.73" font-family="'Liberation Sans', Arial, sans-serif" font-size="27.4" fill="#262626" textLength="41.14" lengthAdjust="spacingAndGlyphs">370</text>
<text x="567.82" y="408.73" font-family="'Liberation Sans', Arial, sans-serif" font-size="27.4" fill="#262626" textLength="41.14" lengthAdjust="spacingAndGlyphs">380</text>
<text x="679.19" y="408.73" font-family="'Liberation Sans', Arial, sans-serif" font-size="27.4" fill="#262626" textLength="41.14" lengthAdjust="spacingAndGlyphs">390</text>
<text x="790.75" y="408.73" font-family="'Liberation Sans', Arial, sans-serif" font-size="27.4" fill="#262626" textLength="41.14" lengthAdjust="spacingAndGlyphs">400</text>
<text x="902.12" y="408.73" font-family="'Liberation Sans', Arial, sans-serif" font-size="27.4" fill="#262626" textLength="41.14" lengthAdjust="spacingAndGlyphs">410</text>
<text x="1013.49" y="408.73" font-family="'Liberation Sans', Arial, sans-serif" font-size="27.4" fill="#262626" textLength="41.14" lengthAdjust="spacingAndGlyphs">420</text>
<text x="1124.86" y="408.73" font-family="'Liberation Sans', Arial, sans-serif" font-size="27.4" fill="#262626" textLength="41.14" lengthAdjust="spacingAndGlyphs">430</text>
<text x="1236.23" y="408.73" font-family="'Liberation Sans', Arial, sans-serif" font-size="27.4" fill="#262626" textLength="41.14" lengthAdjust="spacingAndGlyphs">440</text>
<text x="68.6" y="139.86" font-family="'Liberation Sans', Arial, sans-serif" font-size="27.4" fill="#262626" textLength="54.86" lengthAdjust="spacingAndGlyphs">5000</text>
<text x="109.75" y="220.46" font-family="'Liberation Sans', Arial, sans-serif" font-size="27.4" fill="#262626" textLength="13.71" lengthAdjust="spacingAndGlyphs">0</text>
<text x="60.39" y="301.06" font-family="'Liberation Sans', Arial, sans-serif" font-size="27.4" fill="#262626" textLength="63.07" lengthAdjust="spacingAndGlyphs">-5000</text>
<text x="46.68" y="381.66" font-family="'Liberation Sans', Arial, sans-serif" font-size="27.4" fill="#262626" textLength="76.79" lengthAdjust="spacingAndGlyphs">-10000</text>
<text x="1271.01" y="342.26" font-family="'Liberation Sans', Arial, sans-serif" font-size="27.4" fill="#D95319" textLength="41.14" lengthAdjust="spacingAndGlyphs">540</text>
<text x="1271.01" y="277.7" font-family="'Liberation Sans', Arial, sans-serif" font-size="27.4" fill="#D95319" textLength="41.14" lengthAdjust="spacingAndGlyphs">560</text>
<text x="1271.01" y="213.13" font-family="'Liberation Sans', Arial, sans-serif" font-size="27.4" fill="#D95319" textLength="41.14" lengthAdjust="spacingAndGlyphs">580</text>
<text x="1270.75" y="148.56" font-family="'Liberation Sans', Arial, sans-serif" font-size="27.4" fill="#D95319" textLength="41.14" lengthAdjust="spacingAndGlyphs">600</text>
<text x="648.79" y="447.7" font-family="'Liberation Sans', Arial, sans-serif" font-size="29.94" fill="#262626" textLength="98.88" lengthAdjust="spacingAndGlyphs">Time (s)</text>
<text transform="translate(37.2 392.95) rotate(-90)" x="0" y="0" font-family="'Liberation Sans', Arial, sans-serif" font-size="26.89" fill="#262626" textLength="290.81" lengthAdjust="spacingAndGlyphs">Breath Amplitude (au)</text>
<text transform="translate(1343.3 390.68) rotate(-90)" x="0" y="0" font-family="'Liberation Sans', Arial, sans-serif" font-size="26.89" fill="#D95319" textLength="285.25" lengthAdjust="spacingAndGlyphs">Peak Frequency (Hz)</text>
<clipPath id="tc1"><rect x="0" y="0" width="1958" height="84.4"/></clipPath><g clip-path="url(#tc1)">
<text x="1050.59" y="81" font-family="Carlito, Calibri, 'Liberation Sans', sans-serif" font-size="60.56" fill="#000" textLength="271.89" lengthAdjust="spacingAndGlyphs">Participant</text>
<text x="1329.86" y="81" font-family="Carlito, Calibri, 'Liberation Sans', sans-serif" font-size="60.56" fill="#000" textLength="33.07" lengthAdjust="spacingAndGlyphs">1</text>
</g>
<rect x="1054.9" y="138.8" width="195.3" height="65.4" fill="#fff" stroke="none"/>
<line x1="1054.9" y1="138.8" x2="1250.2" y2="138.8" stroke="#8c8c8c" stroke-width="1.6"/>
<line x1="1054.9" y1="204.2" x2="1250.2" y2="204.2" stroke="#8c8c8c" stroke-width="1.6"/>
<line x1="1054.9" y1="138.8" x2="1054.9" y2="204.2" stroke="#8c8c8c" stroke-width="1.6"/>
<line x1="1250.2" y1="138.8" x2="1250.2" y2="204.2" stroke="#8c8c8c" stroke-width="1.6"/>
<line x1="1060" y1="156" x2="1097.5" y2="156" stroke="#5050ff" stroke-width="1.6"/>
<line x1="1060" y1="186.9" x2="1097.5" y2="186.9" stroke="#ff5a5a" stroke-width="1.6"/>
<text x="1122.17" y="166.5" font-family="Carlito, Calibri, 'Liberation Sans', sans-serif" font-size="14.6" fill="#1a1a1a" textLength="85.21" lengthAdjust="spacingAndGlyphs" stroke="#1a1a1a" stroke-width="0.35">Breath  Cycle</text>
<text x="1122.8" y="185.5" font-family="Carlito, Calibri, 'Liberation Sans', sans-serif" font-size="14.6" fill="#1a1a1a" stroke="#1a1a1a" stroke-width="0.3" font-style="italic">B<tspan stroke="none" font-size="9.05" dy="3" fill="#777">O</tspan><tspan dy="-3">(t)</tspan></text>
<clipPath id="cp2"><rect x="128.7" y="546.1" width="1192.7" height="249.5"/></clipPath>
<g clip-path="url(#cp2)">
<polyline points="128.53,685.22 130.49,691.1 132.46,696.63 134.42,702.53 136.18,708.56 137.95,714.55 139.71,719.96 141.48,723.8 143.25,726.82 145.01,729.37 146.78,731.24 148.54,731.99 150.31,732.39 152.07,732.6 153.84,732.87 155.61,733.03 157.57,732.11 159.53,729.59 161.49,726.21 163.45,718.28 165.42,705.44 167.38,693.09 169.14,683.7 170.91,674.11 172.68,665.32 174.44,658.12 176.17,651.19 177.89,645.24 179.62,642.55 181.74,643.86 183.86,647.3 185.43,652.95 187,662.42 188.57,672.29 190.33,683.35 192.1,695.49 193.86,706.94 195.63,714.58 197.4,719.6 199.16,724.04 200.93,727.06 202.69,728.24 204.46,727.51 206.22,726.43 208.19,721.01 210.15,710.68 212.11,700.44 214.07,689.92 216.03,678.74 218,669.74 219.72,663.16 221.45,657.7 223.18,655.14 224.98,660.65 226.79,672.23 228.59,684.01 230.16,692.47 231.73,700.6 233.3,707.43 235.06,713.52 236.83,718.67 238.6,722.91 240.36,726.12 242.01,728.74 243.66,731.32 245.31,733.13 246.95,734.83 248.6,735.09 250.37,734.33 252.13,731.45 253.9,728.08 255.67,723.96 257.31,719.1 258.96,712.7 260.61,705.44 262.26,697.91 263.91,690.85 265.67,682.87 267.44,674.43 269.2,667.51 270.97,663.9 272.73,662.84 274.5,662.8 276.27,666.01 278.03,672.25 279.8,679.26 281.56,688.58 283.33,697.44 285.09,705.11 286.86,710.77 288.63,716.03 290.39,720.72 292.16,723.72 293.67,726.15 295.18,728.44 296.7,730.17 298.21,731.86 299.72,733.45 301.24,734.14 302.75,734.56 304.4,733.71 306.05,732.25 307.7,729.82 309.34,727.13 310.99,723.71 312.76,718.94 314.52,711.15 316.29,703.23 318.05,695.44 319.7,688.36 321.35,680.88 323,674.46 324.65,671.96 326.37,675.54 328.1,682.97 329.83,690.74 331.59,699.31 333.36,708.23 335.12,716.37 336.89,721.47 338.46,723.63 340.03,725.25 341.6,726.24 343.17,727.4 344.74,728.35 346.31,729.75 348.1,731.68 349.89,733.72 351.67,735.71 353.46,737.08 355.25,737.68 356.76,736.46 358.27,733.33 359.77,728.92 361.28,724.17 362.79,719.1 364.55,712.22 366.32,704.02 368.08,695.77 369.85,688.42 371.97,680.95 374.09,676.75 375.81,679.23 377.54,684.65 379.27,691.11 381.03,697.55 382.8,705.57 384.56,713.14 386.33,718.98 388.1,723.87 389.86,727.97 391.63,731.26 393.39,733.11 395.36,734.12 397.32,734.77 399.28,735.24 400.93,734.53 402.58,732.95 404.22,730.36 405.87,727.33 407.52,723.77 409.28,719.23 411.05,712.96 412.82,706.42 414.58,700.39 416.54,693.54 418.51,686.89 420.47,683.76 422.12,686.64 423.76,693.63 425.41,702.25 427.06,710.74 428.71,716.78 430.28,720.14 431.85,723.48 433.42,726.02 434.99,728.33 436.56,730.36 438.13,732.01 439.89,733.67 441.66,735.3 443.42,736.39 445.19,736.75 446.84,736.65 448.48,735.83 450.13,735.1 451.78,733.82 453.43,732.21 455.08,729.17 456.72,724.2 458.37,717.98 460.02,711.1 461.67,705.01 463.32,698.33 464.96,690.4 466.61,682.88 468.26,677.35 469.91,674.39 471.91,673.61 473.91,673.43 476.03,676.02 478.15,681.42 479.91,688.36 481.68,697.28 483.45,706.63 485.21,714.54 486.86,720.21 488.51,726.01 490.16,730.55 491.8,732.19 493.31,729.95 494.82,724.99 496.32,717.88 497.83,710.07 499.34,702.58 501.3,692.91 503.26,681.96 505.22,672 506.79,663.6 508.36,655.81 509.93,651.91 511.89,656.7 513.86,666.48 515.82,676.82 517.38,684.19 518.95,692.56 520.51,701.3 522.08,709.45 523.64,716.69 525.21,722.48 526.77,726.07 528.29,728.54 529.8,730.44 531.31,732.32 532.83,733.67 534.34,734.51 535.85,735.47 537.37,735.76 539.13,735.72 540.9,735.54 542.66,735.34 544.43,735.17 546,732 547.57,724.55 549.14,716.83 550.9,708.09 552.67,698.47 554.43,688.46 556.2,679.32 558.16,669.45 560.12,659.94 562.09,653.14 563.66,649.39 565.23,646.19 566.8,644.98 568.36,648.59 569.93,656.65 571.5,665.06 573.27,674.84 575.04,685.54 576.8,696.3 578.57,705.25 580.53,712.35 582.49,718.78 584.45,723.71 586.02,727.41 587.59,730.92 589.16,732.32 591.12,726.73 593.09,714.53 595.05,702.61 596.81,693.14 598.58,683.47 600.34,674.44 602.11,667.35 603.84,661.79 605.56,656.94 607.29,655.15 609.09,657.9 610.9,664.17 612.7,671.92 614.47,684.79 616.24,698.07 618,706.39 619.77,714.01 621.53,719.74 623.3,723.96 625.06,726.68 626.83,729.2 628.6,730.91 630.36,732.15 632.13,733.09 633.89,734.19 635.66,734.73 637.42,735.22 639.19,733.41 640.96,728.38 642.72,722.51 644.49,716.81 646.14,711.77 647.78,706.44 649.43,701 651.08,695.64 652.73,690.91 654.49,686.18 656.26,680.95 658.03,677.26 659.79,675.68 661.75,679.37 663.71,687.51 665.68,695.52 667.44,702.64 669.21,710.09 670.97,716.96 672.74,721.72 674.31,724.11 675.88,725.97 677.45,727.92 679.02,729.54 680.59,730.98 682.16,732.18 683.81,733.68 685.45,734.81 687.1,736.46 688.75,737.28 690.4,737.58 692.36,737.13 694.32,735.87 696.28,734.32 698.05,733.86 699.81,733.21 701.58,732.15 703.35,731.04 704.92,726.52 706.49,718.18 708.05,709.88 709.82,699.78 711.59,689.03 713.35,678.98 715.12,671.99 716.77,667.81 718.41,664 720.06,661.21 721.71,660.5 723.3,663.3 724.89,670.89 726.48,680.38 728.07,688.7 729.83,696.45 731.6,704.43 733.36,711.45 735.13,716.89 736.7,720.34 738.27,723.61 739.84,726.62 741.41,728.86 742.98,730.75 744.55,732.22 746.31,732.89 748.08,733.87 749.84,734.4 751.61,734.44 753.57,734.41 755.53,734.05 757.5,733.44 759.46,729.72 761.42,722.6 763.38,714.42 765.34,704.04 767.31,691.56 769.27,681.31 770.84,675.78 772.41,671.11 773.98,667.32 775.55,664.64 777.11,662.36 778.68,661.47 780.25,666.38 781.82,676.39 783.39,686.27 785.16,694.67 786.92,702.9 788.69,710.58 790.46,716.65 792.42,723.73 794.38,729.48 796.34,732.18 798.11,730.87 799.87,727.25 801.64,722.23 803.4,716.95 805.17,708.95 806.94,698.63 808.7,687.7 810.47,679.16 812.02,673.23 813.58,667.19 815.13,661.91 816.68,658.1 818.24,656.68 820.24,665.15 822.24,679.04 824.2,691.02 826.16,703.25 828.13,711.95 829.64,717.31 831.15,722.02 832.67,726.49 834.18,730.34 835.69,733.27 837.21,735.4 838.72,735.99 840.68,734.56 842.64,730.75 844.61,726.39 846.37,720.73 848.14,712.85 849.9,704.86 851.67,698.16 853.43,691.79 855.2,685.58 856.97,680.93 858.73,679.03 860.5,682.55 862.26,690.32 864.03,699.66 865.79,707.52 867.36,712.8 868.93,718.83 870.5,724.27 872.07,728.84 873.64,732.23 875.21,733.24 876.86,732.09 878.51,728.55 880.16,723.38 881.8,717.78 883.45,712.29 885.1,705.83 886.75,698.02 888.4,689.92 890.04,682.54 891.69,676.9 893.46,672.31 895.22,669.65 896.99,669.78 898.76,669.8 900.32,675.09 901.89,686.26 903.46,695.5 905.1,701.95 906.74,707.77 908.37,713.67 910.01,719.34 911.65,724.09 913.28,728.81 914.92,732.15 916.56,734.9 918.2,736.8 919.83,737.42 921.56,737.65 923.29,737.63 925.02,737.58 926.75,737.45 928.48,737.5 930.22,737.76 931.95,738.92 933.68,739.84 935.41,740.72 937.14,741.24 938.68,740.65 940.23,739.65 941.77,738.32 943.32,736.08 945.17,731.37 947.03,723.45 948.88,714.45 950.73,706.55 952.59,699.66 954.44,693.02 956.3,686.88 958.15,681.75 959.69,677.95 961.24,673.99 962.78,671.09 964.33,670.1 965.98,673.08 967.63,680.67 969.27,689.41 970.92,699.33 972.57,710.96 974.22,718.79 976.07,724.11 977.93,728.57 979.78,731.36 981.63,732.64 983.49,730.02 985.34,723.7 987.2,716.24 989.05,709.01 990.6,703.62 992.14,697.91 993.69,692.67 995.23,689.41 996.88,686.94 998.53,685.1 1000.17,684.35 1001.72,686.97 1003.26,692.91 1004.81,700.16 1006.35,706.56 1008,712.91 1009.65,719.27 1011.3,723.7 1013.03,727.06 1014.76,730.44 1016.49,732.57 1018.22,734.57 1019.95,735.08 1021.68,733.6 1023.41,729.17 1025.14,723.61 1026.87,717.55 1028.6,711.33 1030.46,704.86 1032.31,697.65 1034.17,690.38 1036.02,684.19 1037.87,678.59 1039.73,672.58 1041.58,668.49 1043.44,666.59 1045.08,668.39 1046.73,673.63 1048.38,679.28 1050.03,687.47 1051.68,697.75 1053.32,706.43 1055.18,714.84 1057.03,722.67 1058.89,728.78 1060.74,731.47 1062.39,731.36 1064.04,731.03 1065.68,730.75 1067.33,730.34 1068.98,729.43 1070.63,728.82 1072.48,724.57 1074.34,715.96 1076.19,705.67 1078.04,696.57 1079.61,689.33 1081.18,681.37 1082.74,673.52 1084.31,666.78 1085.87,662.06 1087.44,660.27 1089.25,664.64 1091.06,674.38 1092.88,684.5 1094.73,693.45 1096.59,703.28 1098.44,712.53 1100.29,718.99 1101.94,723.03 1103.59,727.02 1105.24,730.44 1106.89,733.29 1108.53,735.26 1110.18,736.2 1111.83,736.72 1113.48,737.03 1115.13,737.17 1116.77,737.32 1118.42,737.35 1120.07,737.59 1121.92,735.85 1123.78,730.95 1125.63,725.13 1127.49,719.02 1129.34,712.27 1131.19,704.04 1133.05,696.21 1134.9,689.15 1136.71,682.72 1138.53,677.02 1140.34,674.5 1142.24,677.47 1144.13,684.33 1146.03,691.83 1147.57,698.43 1149.12,706.14 1150.66,713.82 1152.21,719.07 1153.85,722.67 1155.5,725.72 1157.15,728.19 1158.8,730.49 1160.45,732.26 1162.09,733.83 1163.74,734.91 1165.39,735.81 1167.04,737.03 1168.69,737.77 1170.34,738.21 1171.98,738.21 1173.84,735.91 1175.69,730.36 1177.55,723.52 1179.4,716.55 1181.25,709.33 1183.11,701.63 1184.96,693.63 1186.82,686.77 1188.55,680.75 1190.28,674.85 1192.01,670.1 1193.74,668.32 1195.55,670.37 1197.36,675.89 1199.18,681.77 1201.03,689.54 1202.88,698.66 1204.74,707.69 1206.59,714.01 1208.14,717.31 1209.68,720.55 1211.23,723.64 1212.77,725.94 1214.32,728.33 1215.86,729.95 1217.41,731.04 1218.95,731.28 1220.81,729.34 1222.66,724.41 1224.51,718.04 1226.37,711.42 1228.22,703.94 1230.08,695.07 1231.93,686.15 1233.78,679.37 1235.52,674.28 1237.25,669.18 1238.98,664.84 1240.71,662.01 1242.44,660.99 1243.98,661.98 1245.53,665.36 1247.07,669.76 1248.62,674.6 1250.47,682.25 1252.33,692.48 1254.18,703.03 1256.03,711.66 1257.89,718.16 1259.74,724.44 1261.6,729.57 1263.45,731.18 1265.3,728.49 1267.16,721.66 1269.01,712.79 1270.87,704.2 1272.72,694.63 1274.57,683.73 1276.43,673.07 1278.28,664.69 1280.14,657.07 1281.99,653.46 1283.64,654.55 1285.29,657.75 1286.93,662.12 1288.48,668.88 1290.02,679.17 1291.57,690.42 1293.11,699.33 1294.76,706.54 1296.41,713.81 1298.06,720.68 1299.71,726.29 1301.35,729.77 1303,731.22 1304.86,726.04 1306.71,713.25 1308.56,698.17 1310.42,686.88 1312.07,679.85 1313.71,673.57 1315.36,669.58 1317.01,667.45 1318.66,665.89 1320.31,664.44" fill="none" stroke="#ff6464" stroke-width="1.6" stroke-linejoin="round"/>
<polyline points="128.53,683.19 129.71,682.7 130.89,684.19 132.06,687.17 133.24,686.82 134.42,686.53 135.59,686.21 136.77,687.86 137.95,690.25 139.13,689.5 140.3,689.63 141.48,692.21 142.66,694.89 143.83,695.48 145.01,693.99 146.19,695.59 147.37,696.59 148.54,694.36 149.72,691.1 150.9,691.2 152.07,694.06 153.25,693.89 154.43,696.73 155.61,702.85 156.78,708.17 157.96,707.72 159.14,707.42 160.31,708.76 161.49,705.57 162.67,702.76 163.85,703.28 165.02,703.3 166.2,704.33 167.38,706.31 168.56,705.93 169.73,705.03 170.91,699.95 172.09,697.41 173.26,695.1 174.44,689.52 175.62,687.13 176.8,685.68 177.97,682.63 179.15,680.36 180.33,678.65 181.5,679.12 182.68,678.98 183.86,678.48 185.04,676.31 186.21,675.83 187.39,680.59 188.57,683.67 189.74,685.79 190.92,686.13 192.1,688.15 193.28,691.26 194.45,691.13 195.63,691.25 196.81,692.56 197.98,694.79 199.16,698.2 200.34,700.11 201.52,703.21 202.69,708.5 203.87,714.19 205.05,709.92 206.22,707.37 207.4,706.4 208.58,706.33 209.76,705.53 210.93,703.06 212.11,701.85 213.29,702.35 214.46,702.12 215.64,699.05 216.82,694.82 218,692.15 219.17,689.81 220.35,683.64 221.53,677.96 222.7,674.96 223.88,674 225.06,672.1 226.24,675.45 227.41,677.96 228.59,680.71 229.77,683.1 230.94,686.42 232.12,687.13 233.3,687.41 234.48,688.24 235.65,689.96 236.83,689.71 238.01,688.93 239.18,690.63 240.36,693.76 241.54,695.38 242.72,695.31 243.89,695.37 245.07,698 246.25,700.42 247.42,701.81 248.6,700.81 249.78,700.58 250.96,702.46 252.13,704.05 253.31,703.12 254.49,703.86 255.67,707.88 256.84,710.27 258.02,707.21 259.2,704.07 260.37,704.8 261.55,702.95 262.73,700.43 263.91,699.85 265.08,700.91 266.26,699.22 267.44,694 268.61,690.85 269.79,689.89 270.97,687.68 272.15,684.64 273.32,681.35 274.5,679.06 275.68,679.58 276.85,675.65 278.03,677.75 279.21,680.68 280.39,685.12 281.39,685.35 282.4,684.79 283.41,687.49 284.42,689.03 285.43,688.44 286.44,689.13 287.45,690.41 288.63,691.32 289.8,689.43 290.98,689.58 292.16,691.48 293.33,695.53 294.51,695.72 295.69,695.52 296.87,694.57 298.04,696.17 299.22,698.23 300.4,699.35 301.57,697.76 302.75,699.13 303.93,701.3 305.11,702.86 306.28,704.57 307.46,706.11 308.64,710.23 309.81,709.1 310.99,706.34 312.17,704.18 313.35,704.61 314.52,703.19 315.7,701.05 316.88,700.85 318.05,701.81 319.23,697.51 320.41,694.45 321.59,693.29 322.76,692.96 323.94,688.09 325.12,683.12 326.29,680.36 327.47,678.31 328.65,675.63 329.83,677.81 331,679.56 332.18,683.77 333.36,685.55 334.54,687.21 335.71,688.28 336.89,688.78 338.07,688.32 339.24,689.01 340.42,691.36 341.6,691.34 342.78,691.48 343.95,693.79 345.13,696.87 346.31,699.26 347.48,698.43 348.66,698.15 349.84,700.54 351.02,703.81 352.19,700.66 353.37,699.78 354.55,700.44 355.72,702 356.9,701.95 358.08,703.04 359.26,705.86 360.43,707.48 361.61,708.56 362.79,707.16 363.96,704.15 365.14,705.36 366.32,703.96 367.5,699.56 368.67,696.02 369.85,692.52 371.03,691.57 372.2,689.4 373.38,686.44 374.56,683.06 375.74,681.02 376.91,680.14 378.09,678.19 379.27,674.13 380.44,672.49 381.62,679.41 382.8,684.31 383.98,688.24 385.15,688 386.33,690.38 387.51,693.25 388.68,694.46 389.86,693.44 391.04,693.98 392.22,695.83 393.39,699.74 394.57,700.12 395.75,701.64 396.92,704.95 398.1,708.71 399.28,705.16 400.46,704.66 401.63,705.87 402.81,702.32 403.99,698.89 405.16,698.62 406.34,697.67 407.52,699.17 408.7,701.05 409.87,702.78 411.05,706.92 412.23,704.24 413.4,699.59 414.58,696.9 415.76,691.98 416.94,687.94 418.11,681.01 419.29,679.79 420.47,682.51 421.65,684.93 422.82,686.15 424,685.42 425.18,685.25 426.35,687.73 427.53,688.77 428.71,689.23 429.89,689.67 431.06,689.75 432.24,693.5 433.42,695.93 434.59,695.76 435.77,694.65 436.95,694.03 438.13,695.79 439.13,696.92 440.14,695.66 441.15,694.69 442.16,695.3 443.17,696.66 444.18,695.57 445.19,695.21 446.37,698.18 447.54,702.05 448.72,703.79 449.9,705.1 451.07,704.53 452.25,705.11 453.43,705.42 454.61,703.58 455.78,698.45 456.96,695.53 458.14,698.8 459.31,702.07 460.49,702.23 461.67,703.61 462.85,706.02 464.02,702.45 465.2,698.2 466.38,691.8 467.55,687.14 468.73,684.19 469.91,684.95 471.09,682.58 472.26,680.93 473.44,681.73 474.62,682.07 475.79,680.59 476.97,679.27 478.15,679.94 479.33,682.15 480.5,684.79 481.68,685.82 482.86,690.07 484.03,695.45 485.21,696.31 486.39,697.8 487.57,701.48 488.74,706.2 489.92,705.32 491.1,702.25 492.27,702.39 493.45,705.55 494.63,706.07 495.81,705.87 496.98,707.82 498.16,708.11 499.34,707.26 500.52,704.79 501.69,704.65 502.87,700.33 504.05,695.01 505.22,689.18 506.4,683.56 507.58,681.43 508.76,679.69 509.93,676.55 511.11,672.45 512.29,675.07 513.46,677.87 514.64,680.78 515.82,681.18 516.86,681.95 517.9,685.9 518.94,686.52 519.98,687.1 521.02,687.43 522.06,688.57 523.24,689.72 524.42,690.05 525.59,689 526.77,687.26 527.95,688.81 529.13,689.57 530.3,688.9 531.48,686.87 532.66,691.26 533.83,694.11 535.01,694.75 536.19,697.05 537.37,700.55 538.54,704.16 539.72,703.79 540.9,703.6 542.07,706.69 543.25,708.99 544.43,704.93 545.61,701.57 546.78,700.7 547.96,703.93 549.14,703.99 550.31,705.82 551.49,706.97 552.67,706.03 553.85,703.44 555.02,701.59 556.2,700.14 557.38,700.15 558.56,696.7 559.73,695.18 560.91,693.28 562.09,690.32 563.26,686.04 564.44,683.01 565.48,683.01 566.51,679.98 567.55,676.21 568.58,675.79 569.62,674.53 570.68,676.58 571.74,677.7 572.8,679.21 573.86,684.37 575.04,685.66 576.21,685.94 577.39,684.45 578.57,686.32 579.74,688.16 580.92,688.24 582.1,692.23 583.28,696.56 584.45,703.27 585.63,708.49 586.81,712.55 587.98,710.06 589.16,710.04 590.34,709.52 591.52,706.13 592.69,702.97 593.87,698.37 595.05,702.85 596.22,707.74 597.4,709.5 598.58,710.4 599.76,704.52 600.93,700.34 602.11,695.28 603.29,691 604.46,686.22 605.64,682.67 606.82,680.58 608,677.28 609.17,676.19 610.35,677.41 611.53,679.03 612.7,679.7 613.88,678.53 615.06,679.36 616.24,681.85 617.41,683.89 618.59,685.52 619.77,687.78 620.94,690 622.12,691.44 623.3,692.19 624.48,690.83 625.65,690.46 626.83,691.42 628.01,691.68 629.18,690.57 630.36,693.39 631.54,696.82 632.72,701.52 633.89,706.5 635.07,711.51 636.25,707.98 637.42,706.31 638.6,706.03 639.78,703.38 640.96,699.84 642.13,694.79 643.31,697.54 644.49,702.34 645.67,703.44 646.84,702.15 648.02,701.77 649.2,704.16 650.37,699.43 651.55,695.04 652.73,691.01 653.91,690.2 655.08,687.61 656.26,685.97 657.44,682.25 658.61,681.56 659.79,683.87 660.97,684.54 662.15,683.52 663.32,683.2 664.5,682.08 665.68,682.6 666.85,683.24 668.03,682.41 669.21,684.69 670.39,686.56 671.56,690.31 672.74,692.78 673.92,692.43 675.09,691.92 676.27,692.5 677.45,694.47 678.63,693.7 679.8,691.63 680.98,689.41 682.16,693.11 683.33,696.1 684.51,697.12 685.69,696.22 686.87,696.22 688.04,698.08 689.22,699.94 690.4,695.4 691.57,693.38 692.75,693.1 693.93,697.14 695.11,699.51 696.28,702.11 697.46,704.05 698.64,706.65 699.81,710.02 700.99,711.16 702.17,706.44 703.35,703.81 704.52,701.75 705.7,703.59 706.88,703.96 708.05,703.45 709.23,704.84 710.41,704.1 711.59,702.78 712.76,700.29 713.94,696.12 715.12,696.89 716.29,697.5 717.47,696.58 718.65,690.4 719.83,685.46 721,681.76 722.18,679.39 723.36,674.01 724.54,668.06 725.71,673.68 726.89,680.02 728.07,685.35 729.24,684.23 730.42,683.44 731.6,684.22 732.78,685.88 733.95,687.13 735.13,687.28 736.31,687.35 737.48,690.02 738.66,691.75 739.84,692.34 741.02,693.06 742.19,692.91 743.37,695.41 744.55,697.47 745.72,696.98 746.9,696.76 748.08,697.12 749.26,695.9 750.43,695.74 751.61,694.97 752.79,698.31 753.96,701.18 755.14,707.45 756.32,713.17 757.5,711.05 758.67,708.96 759.85,706.11 761.03,704.62 762.2,702.15 763.38,697.96 764.56,698.65 765.74,702.04 766.91,705.21 768.09,706.48 769.27,700.63 770.44,694.08 771.62,691.49 772.8,687.49 773.98,682.06 775.15,676.31 776.33,679.49 777.51,681.18 778.68,681.59 779.86,681.36 781.04,682.99 782.22,683.77 783.39,682.47 784.57,681.69 785.75,681.68 786.92,685.56 788.1,690.81 789.28,693.23 790.46,694.67 791.47,696.99 792.47,699.88 793.48,702.2 794.49,702.85 795.5,703.6 796.51,707.13 797.52,708.97 798.7,705.48 799.87,702.97 801.05,703.3 802.23,703.66 803.4,703.4 804.58,703.99 805.76,706.1 806.94,706.06 808.11,704.24 809.29,702.2 810.47,702.45 811.65,697.09 812.82,691.89 814,684.58 815.18,678.45 816.35,678.39 817.53,678.08 818.71,677.93 819.89,676.26 821.06,674.63 822.24,676.28 823.42,677.24 824.59,677.6 825.77,676.44 826.95,677.15 828.13,683.55 829.3,685.92 830.48,688.27 831.66,692.39 832.83,695.48 834.01,697.17 835.19,698.2 836.37,699.28 837.54,700.11 838.72,702.71 839.9,704.18 841.07,703.6 842.25,705.8 843.43,708.87 844.61,711.52 845.78,708.25 846.96,705.07 848.14,704.9 849.31,704.9 850.49,699.56 851.67,692.84 852.85,689.84 854.02,689.25 855.2,688.43 856.38,686.09 857.55,683.03 858.73,682.83 859.91,682.43 861.09,679.4 862.26,680.58 863.44,681.47 864.62,683.56 865.79,685.88 866.97,689.71 868.15,690.72 869.33,692.64 870.5,694.18 871.68,696.81 872.86,698.27 874.03,698.7 875.21,698.7 876.39,704.32 877.57,709.11 878.74,710.65 879.92,708.63 881.1,707.45 882.27,708.11 883.45,706.66 884.63,704.35 885.81,702.34 886.98,703.74 888.16,703.2 889.34,701.03 890.52,695.99 891.69,692.11 892.87,688.33 894.05,685.12 895.22,680.21 896.4,675 897.58,672.69 898.76,669.96 899.93,675.56 901.11,679.16 902.29,682.55 903.46,684.39 904.64,686.93 905.82,688.62 906.94,687.78 908.06,686.08 909.18,688.71 910.29,689.12 911.41,688.34 912.53,688.18 913.65,688.1 914.89,692.26 916.12,696.9 917.36,699.23 918.6,701.06 919.83,698.73 921.07,697.97 922.3,696.82 923.54,694.69 924.78,691.49 926.01,688.45 927.25,688.32 928.48,692.56 929.72,695.71 930.96,696.78 932.19,701.3 933.43,702.3 934.66,702.85 935.9,701.69 937.14,700.2 938.37,699.83 939.61,698.92 940.84,698.48 942.08,699.64 943.32,701.94 944.55,705.8 945.79,711.88 946.82,708.89 947.85,704.97 948.88,701.23 949.91,699.76 950.94,699.09 951.97,696.64 953.21,697.1 954.44,699.1 955.68,701.9 956.91,704.67 958.15,696.92 959.39,690.37 960.62,685.34 961.86,678.05 962.89,677.57 963.92,680.15 964.95,681.77 965.98,682.06 967.01,681.31 968.04,682.58 969.07,684.96 970.1,683.06 971.13,681.62 972.16,683.72 973.19,683.76 974.22,682.78 975.25,686.27 976.28,691.79 977.31,697.28 978.34,700.66 979.37,703 980.4,709.39 981.43,708.68 982.46,705.05 983.49,701.88 984.52,699.16 985.55,697.92 986.58,697.95 987.81,698.4 989.05,697.71 990.29,701.44 991.52,704.54 992.58,699.49 993.64,695.21 994.7,690.55 995.76,688.45 996.82,685.45 997.88,680.62 998.94,675.68 1000.17,678.78 1001.41,682.01 1002.65,682.27 1003.88,682.88 1004.94,685.33 1006,686.66 1007.06,687.22 1008.12,685.74 1009.18,687.18 1010.24,688.63 1011.3,690.47 1012.36,693.13 1013.42,695.59 1014.48,696.25 1015.54,700.22 1016.6,704.76 1017.66,707.67 1018.72,708.91 1019.75,706.44 1020.78,706.16 1021.81,704.61 1022.84,701.62 1023.87,699.44 1024.9,696.28 1025.93,698.43 1026.96,702.25 1027.99,702.26 1029.02,702.22 1030.05,705.06 1031.08,707.53 1032.13,705.14 1033.19,700.68 1034.25,698.57 1035.31,698.8 1036.37,694.1 1037.43,690.22 1038.49,688.5 1039.73,686.87 1040.96,683.82 1042.2,679.53 1043.44,675.85 1044.67,674.92 1045.91,675.5 1047.14,673.74 1048.38,671.24 1049.62,674.5 1050.85,679.58 1052.09,683.73 1053.32,687.26 1054.38,687.41 1055.44,688.26 1056.5,690.63 1057.56,691.64 1058.62,691.62 1059.68,692.18 1060.74,694.18 1061.8,698.13 1062.86,701.75 1063.92,702.22 1064.98,704.29 1066.04,708.25 1067.1,712.19 1068.16,714.4 1069.19,710.75 1070.22,707.43 1071.25,705.87 1072.28,703.7 1073.31,701.28 1074.34,697.87 1075.57,698.32 1076.81,701.95 1078.04,705.66 1079.28,707 1080.31,700.13 1081.34,695.39 1082.37,690.82 1083.4,686.26 1084.43,679.42 1085.46,672.99 1086.52,676.47 1087.58,676.96 1088.64,676.97 1089.7,677.41 1090.76,679.52 1091.82,682.15 1092.88,681.34 1093.91,681.83 1094.94,683.06 1095.97,684.02 1097,684.3 1098.03,682.84 1099.06,684.02 1100.29,688.47 1101.53,692.34 1102.77,694.77 1103.82,693.3 1104.88,694.3 1105.94,695.36 1107,696.04 1108.06,695.44 1109.12,695.23 1110.18,694.03 1111.24,697.81 1112.3,701.42 1113.36,702.28 1114.42,703.24 1115.48,706.93 1116.54,710.47 1117.6,710.91 1118.63,708.4 1119.66,707.49 1120.69,706.21 1121.72,703.7 1122.75,699.9 1123.78,699.17 1125.01,702.23 1126.25,702.32 1127.49,702.95 1128.72,702.47 1129.75,701.03 1130.78,700.15 1131.81,699.12 1132.84,695.38 1133.87,693.25 1134.9,693.19 1135.93,689.5 1136.96,685.62 1137.99,685.18 1139.02,683.54 1140.05,680.66 1141.08,676.8 1142.11,678.61 1143.14,681.85 1144.17,681.23 1145.2,681.19 1146.23,683.89 1147.26,685.37 1148.5,686.22 1149.73,687.06 1150.97,687.75 1152.21,690.96 1153.31,691.3 1154.4,690.41 1155.5,689.14 1156.6,690.35 1157.7,691.35 1158.8,691.3 1159.9,689.99 1161,689.33 1162.09,690.21 1163.15,694.21 1164.21,695.75 1165.27,695.92 1166.33,699.34 1167.39,702.48 1168.45,704.88 1169.51,705.61 1170.54,704.62 1171.57,704.19 1172.6,703.79 1173.63,702.05 1174.66,699.74 1175.69,698.86 1176.72,700.85 1177.75,702.67 1178.78,702.58 1179.81,702.52 1180.84,703.69 1181.87,705.74 1182.93,703.64 1183.99,699.93 1185.05,697.38 1186.11,696.01 1187.17,695.1 1188.23,691.07 1189.29,688.78 1190.35,687.86 1191.41,685.02 1192.47,681.66 1193.53,679.69 1194.58,677.82 1195.64,676.27 1196.7,672.94 1197.94,675.45 1199.18,680.59 1200.41,684.48 1201.65,685.64 1202.71,686.6 1203.77,688.7 1204.83,690.69 1205.89,689.72 1206.95,690.08 1208,693 1209.06,693.56 1210.12,692.8 1211.18,695.43 1212.24,697.87 1213.3,698.92 1214.36,698.95 1215.42,698.99 1216.48,701.56 1217.51,701.81 1218.54,702.69 1219.57,700.29 1220.6,698.77 1221.63,698.88 1222.66,699.83 1223.69,701.93 1224.72,701.12 1225.75,702.39 1226.78,703.38 1227.81,706.29 1228.84,707.14 1229.9,703.06 1230.96,701.17 1232.02,699.08 1233.08,698.37 1234.14,694.84 1235.2,690.58 1236.26,687.81 1237.34,688.38 1238.42,686.79 1239.5,684.31 1240.58,681.13 1241.66,680.91 1242.75,680.22 1243.83,678.38 1244.91,675.47 1245.94,675.42 1246.97,678.73 1248,681.19 1249.03,682.97 1250.06,684.03 1251.09,684.2 1252.33,685.77 1253.56,689.02 1254.8,689.31 1256.03,689.99 1257.09,691.77 1258.15,693.69 1259.21,697.89 1260.27,702.14 1261.33,705.89 1262.39,709.83 1263.45,712.22 1264.51,709.13 1265.57,707.8 1266.63,707.97 1267.69,706.79 1268.75,704.14 1269.81,701.61 1270.87,701.61 1272.1,703.55 1273.34,703.53 1274.57,703.99 1275.81,703.99 1276.84,699.94 1277.87,694.58 1278.9,687.11 1279.93,682.07 1280.96,677.19 1281.99,670.91 1283.02,671.71 1284.05,672.04 1285.08,674.34 1286.11,677.42 1287.14,677.75 1288.17,677.62 1289.2,680.36 1290.23,682.08 1291.26,681.97 1292.29,681.42 1293.32,683.28 1294.35,684.98 1295.38,689.61 1296.41,691.6 1297.44,695.4 1298.47,701.12 1299.5,706.64 1300.53,709.13 1301.56,707.67 1302.59,707.66 1303.62,707.29 1304.65,705.6 1305.68,704.16 1306.71,703.45 1307.95,706.3 1309.18,708.37 1310.42,709.68 1311.45,702.71 1312.48,698.46 1313.51,693.96 1314.54,688.94 1315.57,682.62 1316.6,675.14 1317.83,678.05 1319.07,681.11 1320.31,682.48" fill="none" stroke="#4040ff" stroke-width="1.5" stroke-linejoin="round"/>
</g>
<line x1="128.7" y1="546.1" x2="1321.4" y2="546.1" stroke="#8a8a8a" stroke-width="1.7"/>
<line x1="128.7" y1="795.6" x2="1321.4" y2="795.6" stroke="#8a8a8a" stroke-width="1.7"/>
<line x1="128.7" y1="545.25" x2="128.7" y2="796.45" stroke="#8a8a8a" stroke-width="1.7"/>
<line x1="1321.4" y1="545.25" x2="1321.4" y2="796.45" stroke="#ef9a78" stroke-width="1.7"/>
<line x1="239.8" y1="795.6" x2="239.8" y2="784.1" stroke="#8a8a8a" stroke-width="1.7"/>
<line x1="239.8" y1="546.1" x2="239.8" y2="557.6" stroke="#8a8a8a" stroke-width="1.7"/>
<line x1="358.4" y1="795.6" x2="358.4" y2="784.1" stroke="#8a8a8a" stroke-width="1.7"/>
<line x1="358.4" y1="546.1" x2="358.4" y2="557.6" stroke="#8a8a8a" stroke-width="1.7"/>
<line x1="477" y1="795.6" x2="477" y2="784.1" stroke="#8a8a8a" stroke-width="1.7"/>
<line x1="477" y1="546.1" x2="477" y2="557.6" stroke="#8a8a8a" stroke-width="1.7"/>
<line x1="595.6" y1="795.6" x2="595.6" y2="784.1" stroke="#8a8a8a" stroke-width="1.7"/>
<line x1="595.6" y1="546.1" x2="595.6" y2="557.6" stroke="#8a8a8a" stroke-width="1.7"/>
<line x1="714.2" y1="795.6" x2="714.2" y2="784.1" stroke="#8a8a8a" stroke-width="1.7"/>
<line x1="714.2" y1="546.1" x2="714.2" y2="557.6" stroke="#8a8a8a" stroke-width="1.7"/>
<line x1="832.8" y1="795.6" x2="832.8" y2="784.1" stroke="#8a8a8a" stroke-width="1.7"/>
<line x1="832.8" y1="546.1" x2="832.8" y2="557.6" stroke="#8a8a8a" stroke-width="1.7"/>
<line x1="951.4" y1="795.6" x2="951.4" y2="784.1" stroke="#8a8a8a" stroke-width="1.7"/>
<line x1="951.4" y1="546.1" x2="951.4" y2="557.6" stroke="#8a8a8a" stroke-width="1.7"/>
<line x1="1070" y1="795.6" x2="1070" y2="784.1" stroke="#8a8a8a" stroke-width="1.7"/>
<line x1="1070" y1="546.1" x2="1070" y2="557.6" stroke="#8a8a8a" stroke-width="1.7"/>
<line x1="1188.6" y1="795.6" x2="1188.6" y2="784.1" stroke="#8a8a8a" stroke-width="1.7"/>
<line x1="1188.6" y1="546.1" x2="1188.6" y2="557.6" stroke="#8a8a8a" stroke-width="1.7"/>
<line x1="1307.2" y1="795.6" x2="1307.2" y2="784.1" stroke="#8a8a8a" stroke-width="1.7"/>
<line x1="1307.2" y1="546.1" x2="1307.2" y2="557.6" stroke="#8a8a8a" stroke-width="1.7"/>
<line x1="128.7" y1="563.7" x2="140.2" y2="563.7" stroke="#8a8a8a" stroke-width="1.7"/>
<line x1="128.7" y1="607.4" x2="140.2" y2="607.4" stroke="#8a8a8a" stroke-width="1.7"/>
<line x1="128.7" y1="651.1" x2="140.2" y2="651.1" stroke="#8a8a8a" stroke-width="1.7"/>
<line x1="128.7" y1="694.8" x2="140.2" y2="694.8" stroke="#8a8a8a" stroke-width="1.7"/>
<line x1="128.7" y1="738.5" x2="140.2" y2="738.5" stroke="#8a8a8a" stroke-width="1.7"/>
<line x1="128.7" y1="782.2" x2="140.2" y2="782.2" stroke="#8a8a8a" stroke-width="1.7"/>
<line x1="1321.4" y1="772" x2="1309.9" y2="772" stroke="#ef9a78" stroke-width="1.7"/>
<line x1="1321.4" y1="690.4" x2="1309.9" y2="690.4" stroke="#ef9a78" stroke-width="1.7"/>
<line x1="1321.4" y1="608.8" x2="1309.9" y2="608.8" stroke="#ef9a78" stroke-width="1.7"/>
<text x="219.2" y="833.13" font-family="'Liberation Sans', Arial, sans-serif" font-size="27.4" fill="#262626" textLength="41.6" lengthAdjust="spacingAndGlyphs">410</text>
<text x="337.8" y="833.13" font-family="'Liberation Sans', Arial, sans-serif" font-size="27.4" fill="#262626" textLength="41.6" lengthAdjust="spacingAndGlyphs">420</text>
<text x="456.4" y="833.13" font-family="'Liberation Sans', Arial, sans-serif" font-size="27.4" fill="#262626" textLength="41.6" lengthAdjust="spacingAndGlyphs">430</text>
<text x="575" y="833.13" font-family="'Liberation Sans', Arial, sans-serif" font-size="27.4" fill="#262626" textLength="41.6" lengthAdjust="spacingAndGlyphs">440</text>
<text x="693.6" y="833.13" font-family="'Liberation Sans', Arial, sans-serif" font-size="27.4" fill="#262626" textLength="41.6" lengthAdjust="spacingAndGlyphs">450</text>
<text x="812.2" y="833.13" font-family="'Liberation Sans', Arial, sans-serif" font-size="27.4" fill="#262626" textLength="41.6" lengthAdjust="spacingAndGlyphs">460</text>
<text x="930.8" y="833.13" font-family="'Liberation Sans', Arial, sans-serif" font-size="27.4" fill="#262626" textLength="41.6" lengthAdjust="spacingAndGlyphs">470</text>
<text x="1049.4" y="833.13" font-family="'Liberation Sans', Arial, sans-serif" font-size="27.4" fill="#262626" textLength="41.6" lengthAdjust="spacingAndGlyphs">480</text>
<text x="1168" y="833.13" font-family="'Liberation Sans', Arial, sans-serif" font-size="27.4" fill="#262626" textLength="41.6" lengthAdjust="spacingAndGlyphs">490</text>
<text x="1286.39" y="833.13" font-family="'Liberation Sans', Arial, sans-serif" font-size="27.4" fill="#262626" textLength="41.6" lengthAdjust="spacingAndGlyphs">500</text>
<text x="63.41" y="574.66" font-family="'Liberation Sans', Arial, sans-serif" font-size="27.4" fill="#262626" textLength="55.47" lengthAdjust="spacingAndGlyphs">6000</text>
<text x="63.41" y="618.36" font-family="'Liberation Sans', Arial, sans-serif" font-size="27.4" fill="#262626" textLength="55.47" lengthAdjust="spacingAndGlyphs">4000</text>
<text x="63.41" y="662.06" font-family="'Liberation Sans', Arial, sans-serif" font-size="27.4" fill="#262626" textLength="55.47" lengthAdjust="spacingAndGlyphs">2000</text>
<text x="105.01" y="705.76" font-family="'Liberation Sans', Arial, sans-serif" font-size="27.4" fill="#262626" textLength="13.87" lengthAdjust="spacingAndGlyphs">0</text>
<text x="55.1" y="749.46" font-family="'Liberation Sans', Arial, sans-serif" font-size="27.4" fill="#262626" textLength="63.77" lengthAdjust="spacingAndGlyphs">-2000</text>
<text x="55.1" y="793.16" font-family="'Liberation Sans', Arial, sans-serif" font-size="27.4" fill="#262626" textLength="63.77" lengthAdjust="spacingAndGlyphs">-4000</text>
<text x="1330" y="782.86" font-family="'Liberation Sans', Arial, sans-serif" font-size="27.4" fill="#D95319" textLength="41.6" lengthAdjust="spacingAndGlyphs">580</text>
<text x="1329.73" y="701.26" font-family="'Liberation Sans', Arial, sans-serif" font-size="27.4" fill="#D95319" textLength="41.6" lengthAdjust="spacingAndGlyphs">600</text>
<text x="1329.73" y="619.66" font-family="'Liberation Sans', Arial, sans-serif" font-size="27.4" fill="#D95319" textLength="41.6" lengthAdjust="spacingAndGlyphs">620</text>
<text x="673.66" y="872.2" font-family="'Liberation Sans', Arial, sans-serif" font-size="29.94" fill="#262626" textLength="104.71" lengthAdjust="spacingAndGlyphs">Time (s)</text>
<text transform="translate(44.7 822.83) rotate(-90)" x="0" y="0" font-family="'Liberation Sans', Arial, sans-serif" font-size="30.52" fill="#262626" textLength="300.55" lengthAdjust="spacingAndGlyphs">Breath Amplitude (au)</text>
<text transform="translate(1406.5 819.04) rotate(-90)" x="0" y="0" font-family="'Liberation Sans', Arial, sans-serif" font-size="28.2" fill="#D95319" textLength="292.56" lengthAdjust="spacingAndGlyphs">Peak Frequency (Hz)</text>
<text x="1028.56" y="517.7" font-family="Carlito, Calibri, 'Liberation Sans', sans-serif" font-size="60.4" fill="#000" textLength="273.93" lengthAdjust="spacingAndGlyphs">Participant</text>
<text x="1311.53" y="517.7" font-family="Carlito, Calibri, 'Liberation Sans', sans-serif" font-size="60.4" fill="#000" textLength="31.3" lengthAdjust="spacingAndGlyphs">2</text>
<rect x="1102" y="560" width="206.2" height="66.8" fill="#fff" stroke="none"/>
<line x1="1308.2" y1="560" x2="1308.2" y2="626.8" stroke="#8c8c8c" stroke-width="1.6"/>
<line x1="1102" y1="626.8" x2="1308.2" y2="626.8" stroke="#8c8c8c" stroke-width="1.6"/>
<line x1="1101.6" y1="575" x2="1141.8" y2="575" stroke="#5050ff" stroke-width="1.6"/>
<line x1="1101.6" y1="609" x2="1141.8" y2="609" stroke="#ff5a5a" stroke-width="1.6"/>
<text x="1167.4" y="586.9" font-family="Carlito, Calibri, 'Liberation Sans', sans-serif" font-size="18.48" fill="#1a1a1a" textLength="94.27" lengthAdjust="spacingAndGlyphs" stroke="#1a1a1a" stroke-width="0.35">Breath Cycle</text>
<text x="1167" y="611" font-family="Carlito, Calibri, 'Liberation Sans', sans-serif" font-size="18.5" fill="#1a1a1a" stroke="#1a1a1a" stroke-width="0.3" font-style="italic">f<tspan font-size="13.32" dy="3">peak</tspan><tspan dy="-3">(t)</tspan></text>
<path d="M1171.62 615.5 L1173.12 616.3 L1174.62 615.3 L1176.12 616.3 L1177.62 615.3 L1179.12 616.3 L1180.62 615.3 L1182.12 616.3 L1183.62 615.3 L1185.12 616.3 L1186.62 615.3 L1188.12 616.3 L1189.62 615.3 L1191.12 616.3 L1192.62 615.3 L1194.12 616.3 L1195.62 615.3 L1197.12 616.3" fill="none" stroke="#e05050" stroke-width="0.8"/>
<clipPath id="cp3"><rect x="115.3" y="938.6" width="1180.2" height="255.2"/></clipPath>
<g clip-path="url(#cp3)">
<polyline points="115.35,1041.4 117.12,1021.68 118.89,1008.49 120.85,1005.74 122.81,1004 124.77,1003.19 126.34,1008.4 127.91,1020.34 129.48,1031.99 131.25,1044.72 133.01,1058.98 134.78,1071.14 136.54,1079.31 138.51,1083.99 140.47,1087.59 142.43,1089.63 144.39,1091.32 146.35,1092.53 148.31,1092.84 150.28,1090.06 152.24,1083.09 154.2,1074.29 156.16,1062.44 158.12,1046.52 160.09,1032.01 162.05,1018.53 164.01,1006.56 165.97,1001 167.93,1004.31 169.9,1011.87 171.86,1020.4 173.62,1029.08 175.39,1039.25 177.16,1050.32 178.92,1060.32 180.49,1069.24 182.06,1077.64 183.63,1083.72 185.36,1089.01 187.08,1093.31 188.81,1095.37 190.61,1094.24 192.42,1091.94 194.22,1088.51 196.19,1080.17 198.15,1066.97 200.11,1055.57 201.76,1048.23 203.41,1040.98 205.05,1035.61 206.7,1033.34 208.43,1036.6 210.16,1043.67 211.88,1051.12 213.84,1059.39 215.81,1068.02 217.77,1074.61 219.73,1078.6 221.69,1081.63 223.65,1082.73 225.22,1077.82 226.79,1066.63 228.36,1055.76 229.93,1045.65 231.5,1035.4 233.07,1027.2 234.84,1020.2 236.6,1016.51 238.17,1016.34 239.74,1017.19 241.31,1017.92 242.88,1023.76 244.45,1035.34 246.02,1046.32 247.79,1055.8 249.55,1064.6 251.32,1072.92 253.08,1078.99 254.67,1084.01 256.26,1088.26 257.85,1091.72 259.44,1093.02 261.09,1092.11 262.74,1090.37 264.38,1087.25 266.03,1083.71 267.6,1077.7 269.17,1068.33 270.74,1060.22 272.7,1051.56 274.66,1043.78 276.63,1040.19 278.59,1043.04 280.55,1049.66 282.51,1055.56 284.28,1060.36 286.04,1064.94 287.81,1068.88 289.57,1072.09 291.14,1074.15 292.71,1075.9 294.28,1077.36 295.85,1078.71 297.42,1080.1 298.99,1081.7 300.56,1083.32 302.13,1085.34 303.7,1087.5 305.27,1089.1 306.84,1090.39 308.41,1091.14 310.17,1090.95 311.94,1090.96 313.9,1088.14 315.86,1082.03 317.83,1074.5 319.79,1063.92 321.75,1050.94 323.71,1039.2 325.52,1029.26 327.32,1020.68 329.13,1016.77 330.72,1019.24 332.31,1024.94 333.89,1032.4 335.48,1039.24 337.13,1045.63 338.78,1052.91 340.43,1060.39 342.08,1067.06 343.72,1072.01 345.49,1076.38 347.26,1080.1 349.02,1083.21 350.79,1086.18 352.43,1089.06 354.08,1092.1 355.73,1094.89 357.38,1096.71 359.03,1097.49 360.54,1097.61 362.05,1097.21 363.57,1097.25 365.08,1097.06 366.59,1096.54 368.11,1096.07 369.62,1095.77 371.19,1092.43 372.76,1086.03 374.33,1079.15 376.1,1070.92 377.86,1061.03 379.63,1051.64 381.39,1043.79 382.98,1037.74 384.57,1031.47 386.16,1027 387.75,1024.89 389.87,1032.86 391.99,1046.27 393.95,1057.67 395.91,1068.94 397.87,1076.71 399.38,1080.26 400.89,1083.64 402.39,1086.1 403.9,1088.08 405.41,1088.73 407.53,1080.86 409.65,1067.31 411.41,1056.65 413.18,1044.5 414.94,1032.19 416.71,1020.25 418.67,1005.51 420.63,991.32 422.59,985.12 424.56,985.54 426.52,987.25 428.48,989.68 430.25,994.83 432.01,1003.96 433.78,1014.99 435.54,1024.89 437.31,1034.73 439.07,1045.64 440.84,1055.34 442.61,1062.89 444.18,1067.97 445.74,1073.34 447.31,1077.99 448.88,1081.48 450.45,1084.23 452.02,1085.19 453.98,1084.35 455.95,1082.2 457.91,1079.09 459.87,1070.75 461.83,1056.74 463.79,1043.69 465.76,1032.17 467.72,1021.08 469.68,1016.44 471.45,1018.19 473.21,1023.68 474.98,1030.25 476.74,1036.96 478.39,1043.54 480.04,1051.33 481.69,1059.23 483.34,1066.3 484.98,1072.21 486.75,1076.44 488.52,1080.32 490.28,1083.69 492.05,1086.25 493.62,1088.29 495.19,1090.56 496.76,1092.3 498.32,1093.71 499.89,1094.71 501.46,1095.33 503.03,1094.21 504.6,1091.91 506.17,1088.53 507.89,1081.34 509.61,1069.56 511.33,1056.14 513.05,1043.91 514.77,1036.91 516.54,1033.21 518.3,1030.01 520.07,1027.84 521.83,1026.71 523.8,1029.89 525.76,1036.69 527.72,1043.68 529.68,1051.39 531.64,1059.86 533.61,1067.41 535.37,1072.88 537.14,1077.95 538.9,1082.56 540.67,1086.04 542.63,1090.05 544.59,1093.55 546.56,1095.03 548.52,1094.49 550.48,1093.39 552.44,1091.09 554.01,1084.48 555.58,1073.45 557.15,1062.62 559.11,1050.98 561.07,1039.86 563.04,1032.15 565,1027.04 566.96,1023.02 568.92,1021.37 570.49,1023.61 572.06,1028.59 573.63,1034.46 575.59,1042.55 577.55,1051.81 579.52,1060.17 581.48,1067.38 583.44,1073.98 585.4,1079.21 587.17,1083.19 588.93,1086.68 590.7,1089.54 592.46,1090.52 594.43,1089.53 596.39,1087.12 598.35,1083.88 600.31,1076.91 602.27,1065.84 604.24,1055.71 606.04,1046.83 607.85,1038.48 609.65,1034.93 611.38,1038.38 613.1,1045.6 614.83,1053.25 616.79,1060.54 618.75,1068.05 620.72,1074.64 622.68,1080.59 624.64,1086.43 626.6,1089.88 628.56,1091.44 630.53,1092.79 632.49,1093.15 634.06,1088.26 635.63,1077.8 637.2,1069.91 639.16,1064.78 641.12,1060.8 643.08,1059.25 645.04,1061.5 647.01,1066.5 648.97,1072.15 650.73,1076.63 652.5,1081.87 654.27,1087.07 656.03,1090.76 657.68,1093.97 659.33,1097.02 660.98,1099.62 662.62,1100.23 664.35,1097.76 666.08,1092.53 667.8,1086.08 669.37,1080.12 670.94,1073.01 672.51,1067.54 674.87,1062.87 676.44,1064.7 678,1069.39 679.57,1074.28 681.14,1081.15 682.71,1088.59 684.28,1093.39 686.05,1095.24 687.81,1097.14 689.58,1098.27 691.35,1098.3 693.31,1095.37 695.27,1088.13 697.23,1079.3 699.19,1066.69 701.16,1050.76 703.12,1036.7 705.08,1024.32 707.04,1013.08 709,1008.03 710.77,1008.5 712.54,1009.83 714.3,1011.83 716.07,1014.4 718.03,1021.31 719.99,1033.02 721.95,1044.05 723.72,1051.89 725.48,1059.94 727.25,1066.7 729.02,1072.19 730.78,1076.04 732.55,1079.21 734.31,1081.78 736.08,1083.88 737.65,1085.61 739.22,1087.34 740.79,1088.51 742.36,1089.69 743.93,1090.75 745.5,1091.11 747.07,1090.66 748.63,1089.82 750.2,1088.68 751.77,1083.28 753.34,1073.32 754.91,1062.57 756.87,1047.43 758.84,1030.71 760.8,1020.21 762.45,1016.52 764.09,1013.48 765.74,1011.11 767.39,1010.51 769.12,1014.23 770.84,1023.06 772.57,1032.12 774.53,1042.18 776.49,1053.1 778.46,1062.5 780.22,1069.56 781.99,1075.72 783.75,1081.19 785.52,1086.18 787.25,1091.1 788.97,1095.72 790.7,1097.39 792.35,1096.53 793.99,1093.19 795.64,1088.85 797.29,1083.87 799.06,1076.82 800.82,1066.81 802.59,1055.29 804.35,1043.85 806.32,1030.37 808.28,1016.06 810.24,1003.79 812.24,993.16 814.24,987.54 816.05,989.48 817.85,994.66 819.66,1001.37 821.62,1013.28 823.58,1029.43 825.54,1044.04 827.31,1054.58 829.07,1064.44 830.84,1073.01 832.61,1079.08 834.37,1082.95 836.14,1086.23 837.9,1088.82 839.67,1091.1 841.24,1092.92 842.81,1095.3 844.38,1097.07 845.95,1098.77 847.52,1100.03 849.09,1100.2 850.85,1096.87 852.62,1088.86 854.38,1077.92 856.15,1067.34 857.91,1056.25 859.68,1043.41 861.45,1030.53 863.21,1020.25 865,1011.12 866.79,1001.97 868.58,993.86 870.37,988.36 872.16,986.36 873.75,988.63 875.34,994.9 876.93,1002.77 878.52,1010.81 880.48,1021.48 882.44,1033.07 884.4,1044.01 886.17,1052.15 887.93,1059.44 889.7,1066.59 891.46,1072.06 893.11,1077.06 894.76,1081.93 896.4,1086.23 898.05,1090.09 899.7,1092.59 901.34,1093.58 903.33,1091.3 905.32,1086.52 907.3,1080.54 909.29,1072.32 911.28,1061.8 913.26,1051.59 915.25,1041.3 917.24,1031.17 919.22,1026.8 921.21,1027.24 923.19,1028.44 925.18,1030.16 926.77,1034.57 928.36,1041.89 929.95,1049.23 931.94,1058.65 933.92,1067.98 935.91,1075.43 937.7,1080.96 939.48,1085.19 941.27,1089.12 943.06,1092.36 944.81,1095.02 946.56,1097.29 948.3,1098.29 950.13,1093.58 951.96,1083.34 953.79,1073.07 955.77,1061.87 957.76,1050.96 959.75,1045.89 961.73,1046.27 963.72,1047.61 965.71,1049.31 967.69,1054.92 969.68,1064.53 971.67,1073.35 973.65,1080.08 975.64,1086.66 977.62,1089.79 979.45,1090.63 981.28,1090.87 983.11,1091.01 984.72,1087.9 986.33,1080.43 987.93,1071.47 989.54,1063.61 991.53,1055.22 993.52,1046.83 995.5,1043.31 997.09,1046.06 998.68,1052.32 1000.27,1059.01 1002.26,1065.97 1004.24,1072.99 1006.23,1080.23 1008.22,1089.06 1010.2,1097.93 1012.19,1101.93 1014.18,1098.02 1016.16,1089.3 1018.15,1080.21 1020.14,1071.46 1022.12,1062.24 1024.11,1056.52 1025.9,1054.07 1027.68,1052.82 1029.47,1054.03 1031.26,1056.63 1033.05,1059.5 1034.84,1064.09 1036.62,1068.85 1038.41,1073.38 1040.2,1077.63 1041.99,1082.37 1043.77,1086.66 1045.56,1089.94 1047.15,1092.36 1048.74,1094.45 1050.33,1096.28 1051.92,1098.1 1053.51,1099.02 1055.1,1099.46 1057.08,1099.38 1059.07,1098.69 1061.06,1098.34 1062.65,1094.9 1064.24,1087.87 1065.82,1080.36 1067.41,1071.13 1069,1061.06 1070.59,1056.53 1072.58,1059.07 1074.57,1065.18 1076.55,1070.87 1078.34,1074.62 1080.13,1078.32 1081.92,1081.97 1083.7,1085.28 1085.49,1088.33 1087.28,1091.92 1089.07,1094.82 1090.85,1096.86 1092.52,1098.68 1094.19,1100.24 1095.86,1101.54 1097.53,1102.66 1099.2,1103.17 1101.18,1098.78 1103.17,1089.81 1105.16,1080.43 1107.14,1070.58 1109.13,1061.12 1111.12,1056.55 1113.1,1057.79 1115.09,1060.4 1117.08,1063.76 1118.86,1067.94 1120.65,1074.11 1122.44,1080.35 1124.23,1085.26 1126.02,1088.7 1127.8,1091.99 1129.59,1094.64 1131.38,1096.88 1133.37,1099.5 1135.35,1101.83 1137.34,1102.88 1139.32,1099.7 1141.31,1093.23 1143.3,1087.58 1144.89,1084.31 1146.48,1081.02 1148.07,1078.1 1149.65,1075.46 1151.24,1073.82 1152.83,1073.3 1154.42,1074.31 1156.01,1076.96 1157.6,1080.51 1159.19,1084.97 1160.78,1090.43 1162.37,1094.6 1164.35,1097.86 1166.34,1100.37 1168.33,1101.22 1170.31,1097.31 1172.3,1088.91 1174.29,1080.46 1176.08,1072.24 1177.86,1063.35 1179.65,1055.87 1181.44,1052.82 1183.23,1053.99 1185.01,1057.15 1186.8,1061.27 1188.59,1065.86 1190.18,1071.64 1191.77,1078.93 1193.36,1085.12 1195.34,1090.88 1197.33,1095.91 1199.32,1098.21 1201.3,1093.97 1203.29,1084.83 1205.28,1075.4 1207.06,1067.84 1208.85,1059.49 1210.64,1052.46 1212.43,1049.55 1214.02,1048.63 1215.61,1048.16 1217.2,1048.16 1218.78,1051.49 1220.37,1059.09 1221.96,1065.99 1223.75,1071.83 1225.54,1077.47 1227.33,1082.97 1229.11,1087.41 1231.1,1092.81 1233.09,1097.37 1235.07,1099.6 1236.66,1094.89 1238.25,1085.13 1239.84,1075.49 1241.83,1063.97 1243.81,1052.28 1245.8,1046.92 1247.59,1048.21 1249.38,1051.97 1251.16,1056.72 1252.95,1061.32 1254.74,1066.69 1256.53,1073.57 1258.32,1080.18 1260.1,1084.99 1261.77,1088.05 1263.44,1090.97 1265.11,1093.64 1266.78,1095.39 1268.45,1095.73 1270.43,1092.48 1272.42,1084.23 1274.41,1075.71 1276.08,1067.48 1277.74,1057.65 1279.41,1049.05 1281.08,1045.71 1282.83,1047.53 1284.58,1051.74 1286.33,1056.35 1288.11,1062.89 1289.9,1071.66 1291.69,1080.76 1293.48,1089.84" fill="none" stroke="#ff6464" stroke-width="1.6" stroke-linejoin="round"/>
<polyline points="115.35,1053 115.86,1049.28 116.36,1050.9 116.87,1050.84 117.37,1047.13 117.88,1046.03 118.38,1049.43 118.89,1046 119.42,1048.41 119.96,1052.5 120.49,1053.02 121.03,1048.54 121.56,1048.94 122.1,1050.53 122.63,1055.29 123.17,1050.47 123.7,1052.48 124.24,1052.32 124.77,1053.1 125.28,1056.29 125.78,1054.49 126.29,1056.53 126.79,1059.23 127.29,1059.67 127.8,1058.08 128.3,1061.11 128.81,1060.16 129.31,1062.39 129.82,1058.97 130.32,1060.29 130.83,1062.23 131.33,1065.22 131.83,1063.5 132.34,1063.19 132.84,1062.34 133.35,1063.22 133.85,1063.45 134.36,1069.36 134.86,1069.36 135.37,1070.08 135.87,1068.27 136.38,1070.16 136.88,1068.04 137.38,1069.97 137.89,1068.35 138.39,1070.89 138.9,1070.43 139.4,1069.89 139.91,1075.97 140.41,1070.88 140.92,1076.26 141.42,1075.99 141.92,1072.35 142.43,1075.54 142.93,1079.52 143.44,1079.96 143.94,1077.59 144.45,1079.51 144.95,1079.58 145.46,1077.25 145.96,1079.51 146.5,1079.62 147.03,1078.02 147.57,1080.7 148.1,1077.94 148.64,1079.8 149.17,1074.93 149.71,1077.3 150.24,1074.36 150.78,1078.25 151.31,1079.57 151.85,1077.11 152.37,1075.96 152.89,1075.04 153.42,1071.05 153.94,1070.81 154.46,1070.81 154.99,1069.97 155.51,1066.85 156.03,1066.2 156.56,1063.9 157.06,1064.07 157.56,1063.55 158.07,1059.84 158.57,1060.92 159.08,1060.69 159.58,1057.22 160.09,1058.9 160.62,1054.33 161.16,1058.48 161.69,1053.47 162.23,1054.7 162.76,1057.78 163.3,1052.45 163.83,1056.41 164.37,1058.15 164.9,1058.65 165.44,1056.87 165.97,1054.58 166.48,1054.32 166.98,1056.19 167.49,1052.18 167.99,1051.75 168.49,1057.38 169,1055.48 169.5,1052.16 170.01,1053.8 170.51,1052.68 171.02,1056.46 171.52,1052.33 172.03,1055.14 172.53,1055.1 173.04,1052.04 173.56,1052.64 174.08,1055.51 174.6,1055.73 175.13,1058.1 175.65,1057.34 176.17,1061.56 176.7,1060.06 177.22,1059.17 177.74,1064.56 178.28,1066.45 178.81,1066.06 179.35,1066.22 179.88,1069.5 180.42,1070.99 180.95,1065.78 181.49,1070.1 182.02,1067.98 182.56,1071.19 183.09,1071.64 183.63,1074.2 184.15,1076.85 184.67,1079.27 185.18,1076.37 185.7,1075.85 186.22,1083.74 186.74,1083.45 187.26,1083.05 187.77,1081.25 188.29,1082.02 188.81,1089.19 189.34,1084.96 189.87,1085.74 190.4,1083.75 190.93,1082.06 191.46,1080.95 191.99,1075.73 192.52,1074.21 193.05,1074.01 193.58,1074.68 194.12,1073.25 194.65,1071.4 195.19,1068.58 195.72,1066.28 196.26,1062.75 196.79,1064.36 197.33,1062.67 197.86,1060.12 198.4,1059.95 198.93,1060.07 199.47,1059.93 200,1054.35 200.54,1055.68 201.07,1058 201.61,1058.63 202.14,1055.98 202.68,1060.49 203.21,1057.4 203.75,1059.57 204.28,1054.83 204.82,1056.48 205.34,1054.87 205.87,1060.22 206.39,1058.53 206.91,1061.59 207.43,1059.36 207.96,1057.58 208.48,1057.92 209,1058.18 209.53,1057.11 210.05,1057.15 210.57,1061.49 211.1,1059.86 211.62,1061.46 212.14,1063.85 212.67,1061.55 213.19,1063.33 213.71,1063.19 214.24,1063.85 214.76,1067.49 215.28,1064.93 215.81,1068.29 216.33,1067.63 216.85,1072.74 217.38,1071.52 217.9,1077.37 218.42,1075.39 218.94,1077.92 219.47,1077.57 220,1080.17 220.53,1079.95 221.06,1080.13 221.59,1076.58 222.12,1077.92 222.65,1082.65 223.18,1080.93 223.68,1083.29 224.18,1079.51 224.68,1079.31 225.18,1077.31 225.68,1077.32 226.18,1073.77 226.68,1074.2 227.18,1069.25 227.72,1066.89 228.25,1064.54 228.79,1064.22 229.33,1067.3 229.86,1064.41 230.4,1058.95 230.93,1057.56 231.47,1059.21 232,1058.5 232.54,1055.97 233.07,1052.36 233.58,1053.84 234.08,1057.86 234.58,1056.66 235.09,1057.12 235.59,1053.22 236.1,1055.76 236.6,1052.39 237.11,1052.94 237.61,1057.22 238.12,1052 238.62,1052.37 239.12,1051.69 239.63,1055.95 240.13,1054.55 240.67,1054.54 241.2,1056.95 241.74,1054.95 242.27,1058.67 242.81,1058.37 243.34,1055.76 243.88,1055.97 244.41,1058.67 244.95,1058.69 245.48,1061.67 246.02,1061.37 246.55,1062.84 247.09,1062.75 247.62,1061.3 248.16,1065.42 248.69,1067.89 249.23,1066.41 249.76,1067.77 250.3,1065.37 250.84,1065.45 251.37,1068.55 251.91,1070.39 252.42,1072.48 252.94,1071.93 253.46,1073.58 253.98,1071.67 254.49,1072.57 255.01,1074.25 255.53,1076.76 256.05,1077.43 256.57,1077.92 257.08,1080.43 257.63,1079.48 258.17,1081.85 258.71,1081.66 259.25,1081.12 259.79,1078.43 260.33,1072.55 260.88,1073.15 261.42,1077.39 261.96,1074.38 262.5,1074.54 263.03,1069 263.57,1068.2 264.1,1066.17 264.64,1068 265.18,1065.85 265.71,1065.49 266.25,1062.16 266.78,1060.32 267.32,1061.7 267.85,1064.31 268.39,1061.38 268.91,1060.83 269.43,1057.37 269.96,1059.89 270.48,1059.45 271,1061.23 271.52,1059.68 272.05,1062.39 272.57,1058.81 273.09,1061.89 273.62,1057.1 274.14,1058.2 274.66,1062.75 275.19,1063.26 275.71,1059.66 276.23,1059.07 276.76,1064.39 277.28,1062.01 277.8,1058.72 278.33,1064.97 278.85,1062.23 279.37,1060.54 279.9,1062.08 280.42,1061.28 280.94,1062.83 281.47,1061.85 281.99,1061.72 282.51,1064.27 283.03,1061.5 283.56,1065.2 284.08,1064.76 284.6,1066.23 285.13,1060.99 285.65,1065.93 286.17,1065.06 286.7,1061.58 287.22,1066.67 287.74,1064.02 288.27,1061.94 288.79,1062.29 289.31,1067.79 289.84,1066.58 290.36,1062.84 290.88,1067.45 291.41,1061.77 291.93,1066.38 292.45,1066.08 292.98,1067.82 293.5,1068.21 294.02,1067.15 294.54,1068.04 295.07,1065.59 295.59,1068.91 296.11,1065.62 296.64,1067.77 297.16,1068.06 297.68,1065.83 298.21,1068.79 298.73,1068.23 299.25,1064.56 299.78,1067.6 300.3,1067.04 300.82,1067.92 301.35,1064.2 301.85,1069.61 302.36,1068.38 302.86,1071.54 303.36,1069 303.87,1068.35 304.37,1072.21 304.88,1074.23 305.38,1076.02 305.89,1075.25 306.39,1078.4 306.9,1074.36 307.4,1074.93 307.9,1077.68 308.41,1080.24 308.94,1080.55 309.48,1075.36 310.01,1078.56 310.55,1076.44 311.08,1077.22 311.62,1073.87 312.15,1073.87 312.69,1076.68 313.22,1074.24 313.76,1078.13 314.29,1074.51 314.82,1072.39 315.34,1070.24 315.86,1071.5 316.39,1070.35 316.91,1067.57 317.43,1071.38 317.96,1067.2 318.48,1067.95 319,1066.3 319.51,1066.63 320.01,1061 320.52,1066.18 321.02,1063.02 321.53,1059.4 322.03,1061.65 322.54,1057.33 323.04,1059.14 323.54,1056.26 324.05,1055.25 324.55,1057.31 325.06,1059.28 325.56,1058.06 326.07,1058.59 326.57,1057.86 327.08,1057.1 327.58,1057.33 328.08,1060.09 328.59,1054.79 329.09,1057.78 329.6,1058.29 330.1,1055.02 330.61,1061.21 331.11,1060.22 331.62,1058.24 332.12,1061.67 332.62,1059.84 333.13,1061.88 333.64,1060.82 334.16,1063.08 334.67,1060.81 335.19,1058.14 335.7,1062.86 336.22,1059.39 336.73,1061.86 337.25,1064.46 337.76,1063.18 338.28,1058.88 338.79,1064.26 339.31,1065.27 339.82,1062.01 340.34,1060.73 340.85,1062.3 341.37,1062.91 341.87,1059.78 342.38,1065.39 342.88,1064.17 343.39,1062.69 343.89,1065.67 344.4,1061.48 344.9,1066.52 345.41,1066.48 345.91,1064.04 346.41,1061.74 346.92,1064.19 347.42,1062.03 347.93,1065.21 348.43,1062.61 348.94,1065.1 349.44,1064.26 349.95,1063.59 350.45,1065.27 350.96,1064.86 351.46,1067.14 351.96,1064.1 352.47,1064.88 352.97,1065.84 353.48,1061.92 353.98,1064.38 354.49,1061.86 354.99,1063.92 355.5,1063.93 356.03,1067.17 356.57,1068.08 357.1,1064.15 357.64,1068.42 358.17,1065.68 358.71,1065.38 359.24,1068.27 359.78,1066.81 360.31,1071.72 360.85,1071.95 361.38,1066.57 361.92,1073.91 362.45,1074.11 362.99,1069.86 363.52,1074.27 364.06,1074.43 364.59,1072.57 365.13,1077.14 365.66,1073.27 366.2,1076.41 366.73,1078.37 367.27,1081.23 367.8,1077.9 368.34,1076.44 368.87,1077.04 369.41,1076.87 369.94,1075.28 370.48,1072.58 371.01,1076.99 371.55,1072.04 372.08,1071.26 372.62,1070.83 373.15,1075.27 373.69,1067.95 374.22,1070.38 374.76,1068.75 375.29,1065.12 375.83,1067.62 376.36,1062.22 376.9,1060.5 377.43,1058.62 377.97,1061.65 378.5,1056.23 379.04,1058.77 379.57,1058.73 380.11,1054.64 380.64,1060.2 381.18,1054.23 381.71,1055.2 382.25,1058.1 382.78,1054.15 383.32,1057.31 383.85,1056.43 384.39,1056.53 384.92,1053.61 385.46,1053.46 385.99,1055.32 386.53,1056.9 387.06,1053.35 387.6,1054.35 388.14,1056.12 388.67,1055.15 389.21,1060.46 389.74,1062.48 390.28,1059.91 390.81,1059.2 391.35,1061.55 391.88,1066.32 392.42,1066.99 392.95,1067.59 393.49,1069.83 394.02,1073.43 394.56,1073.14 395.09,1072.07 395.63,1078.39 396.16,1074.36 396.7,1076.72 397.23,1076.88 397.77,1077.95 398.3,1079.05 398.84,1080.54 399.37,1076.43 399.91,1080.44 400.44,1081.04 400.98,1080 401.51,1079.37 402.05,1077.49 402.58,1076.5 403.09,1074.15 403.59,1075.36 404.1,1073.93 404.6,1074.53 405.1,1072.21 405.61,1077.95 406.11,1073.91 406.62,1071.36 407.12,1071.25 407.63,1073.1 408.13,1070.25 408.64,1073.95 409.14,1071.13 409.65,1073.07 410.15,1069.85 410.65,1069 411.16,1071.18 411.66,1067.11 412.17,1069.03 412.67,1066.24 413.18,1065.56 413.68,1064.28 414.19,1061.93 414.69,1059.07 415.19,1060.39 415.7,1054.83 416.2,1055.09 416.71,1057.7 417.21,1057.97 417.72,1052.38 418.22,1057.55 418.73,1055.29 419.23,1053.67 419.74,1058.47 420.24,1056.15 420.74,1053.92 421.25,1058.47 421.75,1052.67 422.26,1057.03 422.76,1057.17 423.27,1057.25 423.77,1055.45 424.29,1054.4 424.82,1053.99 425.34,1057.79 425.86,1056.16 426.39,1053.07 426.91,1057.74 427.43,1058.1 427.96,1058.65 428.48,1056.64 429,1058.17 429.53,1057.79 430.05,1059.18 430.57,1055.76 431.1,1055.55 431.62,1059.91 432.14,1056.1 432.67,1054.59 433.19,1059.21 433.69,1060.25 434.2,1061.14 434.7,1062.28 435.21,1056.44 435.71,1062.69 436.22,1058.53 436.72,1057.86 437.22,1059.2 437.73,1058.23 438.23,1057.99 438.74,1059.29 439.24,1062.41 439.75,1059.39 440.25,1064.46 440.76,1059.98 441.26,1062.13 441.76,1062.44 442.27,1062.78 442.77,1062.66 443.28,1066.79 443.78,1064.47 444.29,1065.47 444.79,1065.36 445.3,1071.68 445.8,1067.77 446.31,1070.16 446.81,1073.3 447.31,1069.7 447.84,1071.96 448.36,1075.95 448.88,1075.37 449.41,1072.77 449.93,1076.17 450.45,1079.1 450.98,1077.87 451.5,1076.84 452.02,1077.21 452.56,1081.29 453.09,1077.16 453.63,1075.18 454.16,1075.08 454.7,1076.62 455.23,1077.74 455.77,1075.77 456.3,1074.77 456.84,1072.38 457.37,1070.95 457.91,1073.3 458.44,1069.86 458.98,1068.17 459.51,1069.91 460.05,1069.82 460.58,1068.05 461.12,1061.83 461.65,1064.9 462.19,1062.1 462.72,1057.61 463.26,1061.36 463.79,1058.28 464.3,1057.78 464.8,1054.88 465.31,1058.11 465.81,1057.51 466.32,1059.78 466.82,1060.26 467.33,1054.89 467.83,1060.09 468.34,1056.52 468.84,1053.86 469.34,1058.77 469.85,1059.09 470.35,1058.89 470.86,1054.45 471.38,1058.62 471.9,1060.12 472.43,1060.48 472.95,1056.65 473.47,1060.12 474,1055.34 474.52,1060.81 475.04,1058.96 475.57,1059.67 476.09,1060.56 476.61,1057.33 477.14,1057.31 477.66,1056.39 478.18,1061 478.71,1056.58 479.23,1056.69 479.75,1061.18 480.27,1060.32 480.8,1064.08 481.32,1058.65 481.84,1061.73 482.37,1059.83 482.89,1064.36 483.41,1065.78 483.94,1066.24 484.46,1060.86 484.98,1065.44 485.51,1064.6 486.03,1061.94 486.55,1064.62 487.08,1066.98 487.6,1067.33 488.12,1065.93 488.65,1063.79 489.17,1066.21 489.69,1066.18 490.22,1066.9 490.74,1071.51 491.26,1069.76 491.78,1070.38 492.31,1066.63 492.83,1069.47 493.35,1072.91 493.88,1069.23 494.4,1068.84 494.92,1071.2 495.45,1070.7 495.97,1074.2 496.49,1073.01 497.02,1076.92 497.54,1077.16 498.06,1074.93 498.59,1079.12 499.11,1079.35 499.61,1079.63 500.12,1079.61 500.62,1079 501.13,1079.14 501.63,1075.71 502.14,1079.14 502.64,1074.08 503.15,1076.56 503.65,1072.02 504.15,1078.5 504.66,1076.2 505.16,1071.74 505.67,1077.78 506.17,1075.39 506.69,1072.51 507.21,1071.88 507.73,1073.79 508.25,1072.2 508.77,1065.55 509.29,1065.06 509.82,1063.33 510.34,1061.09 510.86,1060.55 511.38,1062.3 511.9,1061.45 512.42,1061.01 512.92,1061.26 513.43,1060.19 513.93,1061.58 514.44,1055.23 514.94,1061.53 515.44,1057.76 515.95,1059.75 516.45,1058.48 516.96,1059.47 517.46,1058.62 517.97,1054.97 518.47,1057.38 518.98,1053.9 519.48,1059.36 519.98,1058.53 520.49,1055.63 520.99,1055.88 521.5,1055.98 522,1054.64 522.51,1057.58 523.01,1058.77 523.52,1056.42 524.02,1057.09 524.53,1060.13 525.03,1059.08 525.53,1055.4 526.04,1056.03 526.54,1060.72 527.05,1059.42 527.55,1056.61 528.06,1059.29 528.56,1059.13 529.07,1061.24 529.57,1063.43 530.07,1063.53 530.58,1060.67 531.08,1060.79 531.59,1060.3 532.09,1061.97 532.6,1065.07 533.1,1065.65 533.61,1065.16 534.11,1066.98 534.62,1062.84 535.12,1063.54 535.62,1063.79 536.13,1067.74 536.63,1067.6 537.14,1065.96 537.64,1069.53 538.15,1065.82 538.65,1070.45 539.16,1070.55 539.66,1065.87 540.16,1069.53 540.67,1069.5 541.2,1068.08 541.74,1069.28 542.27,1069.55 542.81,1072.59 543.34,1076.3 543.88,1074.58 544.41,1078.78 544.95,1077.09 545.48,1080.41 546.02,1079.24 546.56,1082.27 547.09,1081.45 547.63,1079.33 548.16,1076.84 548.7,1074.43 549.23,1073.9 549.77,1075.68 550.3,1074.15 550.84,1070 551.37,1073.27 551.91,1067.98 552.44,1067.34 552.95,1071.68 553.45,1067.86 553.95,1067.13 554.46,1068.05 554.96,1066.32 555.47,1064.52 555.97,1068.17 556.48,1065.41 556.98,1063.7 557.49,1062.6 557.99,1062.91 558.49,1063.86 559,1060.27 559.5,1058.5 560.04,1057.21 560.57,1062.18 561.11,1062.39 561.64,1060.69 562.18,1058.83 562.71,1058.81 563.25,1058.34 563.78,1053.92 564.32,1055.21 564.85,1055.21 565.39,1053.55 565.89,1056.08 566.4,1059.03 566.9,1058.23 567.41,1055.59 567.91,1056.52 568.42,1059.88 568.92,1057.84 569.43,1056.22 569.93,1058.72 570.43,1055.86 570.94,1060.48 571.44,1057.87 571.95,1058.04 572.45,1061.24 572.97,1057.2 573.48,1059.77 574,1057.74 574.51,1059.73 575.03,1059.97 575.54,1064.62 576.06,1063.47 576.57,1060.13 577.09,1060.03 577.6,1060.58 578.12,1062.82 578.63,1064.66 579.15,1066.72 579.66,1064.23 580.18,1062.32 580.69,1062.19 581.2,1066.25 581.7,1067.63 582.21,1069.12 582.71,1065.09 583.22,1065.3 583.72,1066.07 584.22,1069.37 584.73,1071.99 585.23,1069.55 585.74,1069.43 586.24,1069.34 586.75,1072.39 587.25,1071.52 587.76,1074.71 588.26,1074.06 588.76,1075.88 589.27,1073.18 589.77,1076.58 590.28,1076.87 590.78,1078.58 591.29,1076.45 591.82,1075.09 592.36,1074.87 592.89,1077.32 593.43,1078.44 593.96,1075.63 594.5,1075.05 595.03,1074.29 595.57,1076.68 596.1,1072.02 596.64,1069.43 597.17,1071.12 597.7,1069.12 598.22,1066.95 598.74,1066.4 599.27,1067.21 599.79,1067.58 600.31,1059.31 600.84,1058.74 601.36,1057.74 601.88,1059.68 602.42,1056.38 602.95,1056.27 603.49,1057.72 604.02,1054.96 604.56,1056.96 605.09,1053.47 605.63,1054.97 606.16,1058.69 606.7,1056.14 607.23,1056.76 607.77,1054.13 608.27,1053.61 608.78,1058.52 609.28,1056.56 609.79,1055.81 610.29,1057.89 610.79,1059.55 611.3,1059.54 611.8,1056.56 612.31,1061.41 612.81,1058.33 613.32,1058.2 613.82,1057 614.33,1063.07 614.83,1060.69 615.37,1061.54 615.9,1064.91 616.44,1060.02 616.97,1062.32 617.51,1061.7 618.04,1065.36 618.58,1063.09 619.11,1070.07 619.65,1068.11 620.18,1071.09 620.72,1072.2 621.25,1073.57 621.79,1070.34 622.32,1073.57 622.86,1074.64 623.39,1077.53 623.93,1074.07 624.46,1077.55 625,1079.44 625.53,1078.71 626.07,1076.46 626.6,1082.39 627.14,1075.82 627.67,1077.05 628.21,1074.77 628.74,1074.35 629.28,1076.03 629.81,1075.11 630.35,1073.28 630.88,1071.53 631.42,1064.63 631.95,1067.03 632.49,1065.34 633.02,1065.4 633.56,1063.09 634.09,1064.77 634.63,1059.01 635.16,1063.45 635.7,1063.17 636.23,1059.64 636.77,1059.38 637.3,1055.31 637.84,1059.76 638.37,1059 638.91,1054.22 639.44,1057 639.98,1054.73 640.51,1060.45 641.05,1058.97 641.58,1059.89 642.12,1057.79 642.65,1059.68 643.19,1055.89 643.72,1057.73 644.26,1058.68 644.79,1060.86 645.33,1057.79 645.86,1055.97 646.4,1059.51 646.93,1058.27 647.47,1058.5 648.01,1059.01 648.54,1063.91 649.08,1061.32 649.61,1061.13 650.15,1061.41 650.67,1064.2 651.19,1064.52 651.71,1066.51 652.24,1068.23 652.76,1069.56 653.28,1067.24 653.81,1069.16 654.33,1072.22 654.85,1072.59 655.38,1069.41 655.9,1072.86 656.42,1072.92 656.95,1075.4 657.47,1073.87 657.99,1077.29 658.52,1077.69 659.04,1079.09 659.56,1080.39 660.1,1076.85 660.63,1074.97 661.17,1072.49 661.7,1075.08 662.24,1075.29 662.77,1069.52 663.31,1069.3 663.84,1066.5 664.38,1070.12 664.91,1067.56 665.45,1068.09 665.98,1064.2 666.52,1061.96 667.05,1062.87 667.59,1060.88 668.12,1060.42 668.66,1062.27 669.19,1060.04 669.73,1056.96 670.26,1057.15 670.8,1059.68 671.33,1057.54 671.87,1059.77 672.4,1059.84 672.94,1055.31 673.47,1057.67 674.01,1060.82 674.54,1059.17 675.08,1060.25 675.61,1062.62 676.15,1059.98 676.69,1059.15 677.22,1060.65 677.76,1063.03 678.29,1065.34 678.83,1062.77 679.36,1064.41 679.9,1069.31 680.43,1070.8 680.97,1070.91 681.5,1072.48 682.04,1071.64 682.57,1076.12 683.11,1071.99 683.64,1077.13 684.18,1077.2 684.71,1078.16 685.25,1080.24 685.78,1076.18 686.32,1077.28 686.85,1078.78 687.39,1077.6 687.92,1079.86 688.46,1080.87 688.99,1080.51 689.5,1083.22 690,1078.63 690.51,1081.46 691.01,1080.9 691.51,1078.21 692.02,1081.24 692.52,1080.49 693.03,1074.69 693.53,1075.55 694.04,1076.88 694.54,1078.26 695.05,1077.1 695.55,1076.15 696.05,1075.93 696.59,1073.04 697.12,1074.21 697.66,1067.1 698.2,1069.52 698.73,1067.24 699.27,1065.57 699.8,1060.75 700.34,1059.65 700.87,1062.36 701.41,1060.17 701.94,1058.13 702.48,1057.93 703.01,1053.99 703.55,1057.34 704.08,1059.91 704.62,1057.17 705.15,1058.91 705.69,1052.37 706.22,1058.23 706.76,1055.06 707.29,1055.21 707.83,1056.74 708.33,1053.17 708.84,1056.15 709.34,1057.36 709.84,1058.85 710.35,1056.5 710.85,1055.19 711.36,1054.87 711.86,1053.87 712.37,1055.55 712.87,1054.5 713.38,1061.04 713.88,1060.21 714.38,1062.17 714.89,1060.21 715.39,1057.61 715.9,1057.76 716.4,1062.15 716.91,1062.59 717.41,1057.83 717.92,1061.9 718.42,1059.84 718.93,1058.47 719.43,1059.49 719.93,1060.95 720.44,1059.26 720.94,1064.72 721.45,1064.63 721.95,1063.16 722.46,1060.62 722.96,1064.26 723.47,1063.42 723.97,1064.78 724.47,1066.07 724.98,1065.13 725.48,1065.38 725.99,1065.24 726.49,1065.61 727,1061.37 727.5,1064.25 728.01,1063.17 728.51,1061.49 729.02,1064.73 729.52,1066.29 730.02,1065.78 730.53,1061.95 731.03,1063.22 731.54,1067.99 732.04,1062.7 732.55,1065.2 733.05,1064.11 733.56,1063.89 734.06,1068.42 734.56,1063.98 735.07,1069.12 735.57,1066.3 736.08,1068.26 736.58,1066.78 737.09,1070.86 737.59,1070.04 738.1,1072.99 738.6,1072.65 739.11,1075.57 739.61,1073.36 740.11,1072.82 740.62,1072.62 741.12,1077.23 741.63,1078.69 742.13,1079.15 742.64,1076.05 743.14,1081.78 743.65,1082.8 744.15,1079.24 744.65,1078.32 745.16,1075.58 745.66,1081.42 746.17,1076.82 746.67,1074.08 747.18,1075.21 747.68,1074.13 748.19,1079.21 748.69,1078 749.2,1078.02 749.7,1073.03 750.2,1071.5 750.71,1071.39 751.21,1072.98 751.72,1068.64 752.22,1068.14 752.73,1068.66 753.23,1066.13 753.74,1062.44 754.24,1062.29 754.74,1060.64 755.25,1061.17 755.75,1056.75 756.26,1056.24 756.76,1054.73 757.27,1053.94 757.79,1054.42 758.31,1052.69 758.84,1053.17 759.36,1054.63 759.88,1054.45 760.41,1056.49 760.93,1056.68 761.45,1052.23 761.98,1051.87 762.48,1054.15 762.98,1052.15 763.49,1051.54 763.99,1057.27 764.5,1051.62 765,1052.81 765.51,1058.18 766.01,1057.37 766.52,1057.72 767.02,1056.54 767.53,1057.44 768.03,1058.71 768.53,1057.65 769.04,1061.25 769.54,1060.36 770.05,1056.77 770.55,1061.04 771.06,1058.74 771.56,1058.01 772.07,1059.56 772.57,1062.46 773.07,1060.94 773.58,1059.06 774.08,1059.85 774.59,1058.91 775.09,1062.07 775.6,1059.02 776.1,1062.52 776.63,1060.19 777.15,1065.11 777.67,1064.79 778.19,1061.13 778.72,1062.91 779.24,1064.6 779.76,1065.61 780.29,1066.87 780.81,1067.82 781.31,1070.38 781.82,1068.95 782.32,1067.84 782.83,1072.98 783.33,1069.13 783.84,1072.59 784.34,1071.13 784.85,1078.57 785.35,1077.31 785.86,1076.52 786.36,1078.34 786.86,1076.98 787.37,1077.56 787.87,1078.99 788.38,1078.22 788.88,1079.91 789.39,1080.24 789.89,1081.47 790.4,1079.35 790.9,1082.44 791.4,1077.26 791.91,1076.82 792.41,1079.01 792.92,1079.01 793.42,1076.74 793.93,1075.38 794.43,1079.58 794.94,1074.79 795.47,1075.21 796.01,1078.05 796.54,1079.44 797.08,1076.26 797.61,1076.81 798.15,1074.65 798.68,1073 799.22,1078.08 799.75,1076.45 800.29,1074.75 800.82,1077.69 801.36,1073.03 801.89,1070.41 802.43,1067.45 802.96,1065.41 803.5,1067.76 804.03,1067.16 804.57,1060 805.1,1058.28 805.64,1061.17 806.17,1054.67 806.71,1056.34 807.24,1058.28 807.78,1051.73 808.31,1051.31 808.85,1055.5 809.38,1050.95 809.92,1051.81 810.45,1054.23 810.99,1051.18 811.52,1047.73 812.06,1053.57 812.59,1050.38 813.13,1046.92 813.66,1053.91 814.2,1049.64 814.73,1051.15 815.27,1055.21 815.8,1055.01 816.34,1056.59 816.87,1054.97 817.41,1057.84 817.94,1052.66 818.48,1056.48 818.98,1056.29 819.49,1056.66 819.99,1059.38 820.5,1060.37 821,1055.47 821.51,1059.8 822.01,1058.01 822.52,1057.86 823.02,1059.72 823.52,1058.94 824.03,1064.08 824.53,1063.5 825.04,1064.9 825.54,1061 826.05,1062.64 826.55,1061.97 827.06,1064.82 827.56,1061.89 828.07,1065.18 828.57,1064.52 829.07,1063.29 829.58,1066.81 830.08,1065.95 830.59,1067.65 831.09,1066.02 831.6,1067.3 832.1,1062.93 832.61,1068.41 833.14,1064.39 833.68,1068.06 834.21,1064.89 834.75,1067.48 835.28,1066.26 835.82,1070.1 836.35,1071.33 836.89,1066.24 837.42,1072.07 837.96,1072.36 838.49,1072.8 839.03,1069.11 839.56,1069.74 840.1,1075.14 840.63,1074.19 841.17,1075.88 841.7,1078.27 842.24,1075.65 842.77,1080 843.31,1079.66 843.84,1080.44 844.38,1078.68 844.88,1081.97 845.39,1083.54 845.89,1079.64 846.4,1082.85 846.9,1075.98 847.4,1078.16 847.91,1080.97 848.41,1077.46 848.92,1074.96 849.42,1076.3 849.93,1078.33 850.43,1075.26 850.94,1078.09 851.44,1073.26 851.94,1072.25 852.45,1076.72 852.95,1076.16 853.46,1072.27 853.96,1069.63 854.47,1073.97 854.97,1068.01 855.48,1073.61 855.98,1067.08 856.49,1067.9 856.99,1071.54 857.49,1065.82 858,1065.76 858.5,1065.56 859.01,1069.26 859.51,1065.72 860.02,1066.4 860.52,1062.59 861.03,1064.96 861.53,1064.31 862.03,1060.35 862.54,1061.39 863.04,1062.45 863.55,1059.09 864.05,1059.36 864.56,1054.48 865.06,1057.48 865.57,1057.72 866.07,1053.96 866.58,1058.52 867.08,1053.84 867.58,1052.62 868.09,1053.77 868.59,1053.02 869.1,1058.3 869.6,1056.58 870.11,1057.06 870.61,1058.86 871.12,1053.41 871.62,1056.11 872.12,1055.26 872.63,1056.51 873.13,1055.96 873.64,1053.96 874.14,1054.93 874.65,1055.18 875.15,1059.87 875.66,1055.27 876.16,1057.93 876.67,1058.12 877.17,1058.47 877.67,1055.68 878.18,1057.49 878.68,1061.8 879.19,1058.39 879.69,1059.29 880.2,1059.46 880.7,1058.47 881.21,1056.55 881.71,1059.92 882.21,1062.6 882.72,1062.22 883.22,1058.57 883.73,1059.77 884.23,1058.05 884.74,1060.35 885.24,1061.9 885.75,1060.62 886.25,1057.93 886.76,1059.17 887.26,1057.63 887.76,1060.54 888.27,1060.47 888.77,1059.24 889.28,1064.02 889.78,1063.72 890.29,1062.87 890.79,1063.19 891.3,1062.17 891.8,1065.8 892.3,1066.35 892.81,1065.73 893.31,1065.2 893.82,1067.85 894.33,1067.81 894.85,1071.09 895.36,1067.43 895.87,1074.52 896.39,1075.4 896.9,1077.14 897.42,1071.86 897.93,1076.09 898.45,1075.89 898.96,1077.02 899.5,1078.67 900.04,1080.29 900.58,1078.17 901.13,1079.49 901.67,1079.99 902.21,1076.21 902.75,1074.01 903.29,1076.04 903.84,1077.16 904.38,1074.13 904.92,1077.79 905.45,1076.01 905.98,1074.98 906.51,1071.26 907.04,1076.41 907.57,1068.91 908.1,1068.89 908.63,1072.78 909.16,1072.25 909.69,1070.62 910.22,1069.64 910.75,1062.68 911.28,1067.67 911.81,1065.75 912.34,1062.67 912.86,1062.39 913.39,1057.47 913.92,1058.42 914.45,1056.06 914.96,1057.13 915.48,1055.97 915.99,1059.52 916.5,1055.88 917.01,1055.43 917.52,1056.92 918.03,1058.37 918.54,1054.06 919.05,1056.57 919.56,1059.84 920.07,1054.73 920.58,1056.52 921.09,1059.65 921.61,1058.52 922.12,1057.26 922.63,1057.48 923.14,1054.53 923.65,1054.27 924.16,1061.14 924.67,1057.63 925.18,1056.66 925.69,1057.57 926.2,1061.51 926.71,1058.72 927.22,1060.91 927.74,1056.46 928.25,1061.88 928.76,1059.44 929.27,1061.5 929.78,1062.52 930.29,1058.75 930.8,1062.86 931.31,1061.64 931.82,1062.05 932.33,1062.03 932.84,1065.98 933.35,1060.56 933.86,1063.8 934.38,1061.94 934.89,1065.34 935.4,1063.41 935.91,1066.13 936.42,1070.01 936.93,1070.37 937.44,1066.44 937.95,1069.25 938.46,1067.94 938.97,1069.67 939.48,1074.39 939.99,1073.84 940.51,1072.5 941.02,1075.6 941.53,1078.92 942.04,1075.38 942.55,1078.3 943.06,1079.1 943.6,1075.32 944.14,1081.1 944.68,1075.09 945.23,1074.96 945.77,1074.11 946.31,1077.37 946.85,1076.32 947.39,1072.55 947.94,1071.34 948.48,1073.85 949.02,1071.09 949.56,1073.25 950.1,1067.38 950.64,1066.97 951.19,1066.7 951.73,1067.23 952.27,1067.99 952.81,1066.65 953.35,1063.05 953.9,1060.56 954.44,1060.36 954.98,1056.08 955.49,1059.81 956,1058.41 956.51,1057.77 957.02,1058.98 957.53,1060.23 958.04,1055.08 958.55,1058.98 959.07,1058.04 959.58,1059.58 960.09,1055.31 960.6,1056.93 961.11,1059.09 961.62,1056.11 962.13,1056.58 962.64,1060 963.15,1058.68 963.66,1054.6 964.17,1061.24 964.68,1061.42 965.19,1058.82 965.71,1060.81 966.22,1056.81 966.73,1061.05 967.24,1062.39 967.75,1062.11 968.26,1058.02 968.77,1060.32 969.28,1064.46 969.79,1063.99 970.3,1064.11 970.81,1064.38 971.32,1066.06 971.84,1065.67 972.35,1070.03 972.86,1067.77 973.37,1072.4 973.88,1070.96 974.39,1074.17 974.9,1072.8 975.41,1072.86 975.92,1072.9 976.43,1078.24 976.97,1074.05 977.52,1076.37 978.06,1078.82 978.6,1076.78 979.14,1077.94 979.68,1076.56 980.23,1072.02 980.77,1073.5 981.31,1076.57 981.85,1070.77 982.39,1072.06 982.9,1071.98 983.41,1070.68 983.92,1070.79 984.44,1068.72 984.95,1068.97 985.46,1068.71 985.97,1067.4 986.48,1061.11 986.99,1060.17 987.5,1058.13 988.01,1060.2 988.52,1060.19 989.03,1058.72 989.54,1057.39 990.09,1052.91 990.63,1056.16 991.17,1052.87 991.71,1056.9 992.25,1053.88 992.79,1057.66 993.34,1055.39 993.88,1056.85 994.42,1057.24 994.96,1057.18 995.5,1059.76 996.01,1056.18 996.52,1058.63 997.04,1058 997.55,1057.79 998.06,1059.68 998.57,1062.11 999.08,1059.82 999.59,1061.52 1000.1,1060.3 1000.61,1060.7 1001.12,1061.2 1001.63,1061.47 1002.14,1064.76 1002.65,1069.12 1003.2,1065.85 1003.74,1069.79 1004.28,1069.49 1004.82,1068.8 1005.36,1071.31 1005.9,1077.05 1006.45,1077.78 1006.99,1076.85 1007.53,1078.41 1008.07,1076.83 1008.61,1080.49 1009.16,1083.47 1009.7,1079.47 1010.24,1081.01 1010.78,1074.66 1011.32,1073.56 1011.86,1076.7 1012.41,1071.58 1012.95,1076.86 1013.49,1075.29 1014.03,1072.69 1014.57,1073.82 1015.08,1070.82 1015.59,1070.27 1016.11,1066.72 1016.62,1067.93 1017.13,1063.09 1017.64,1067.57 1018.15,1062.13 1018.66,1065.56 1019.17,1061.49 1019.68,1062.29 1020.19,1059.67 1020.7,1058.51 1021.21,1059 1021.72,1056.24 1022.24,1058.98 1022.75,1061.13 1023.26,1059.98 1023.77,1059.68 1024.28,1055.78 1024.79,1056.73 1025.3,1056.47 1025.81,1055.51 1026.32,1057.05 1026.83,1058.15 1027.34,1059.01 1027.85,1060.48 1028.37,1057.72 1028.88,1059 1029.39,1061.73 1029.9,1059.05 1030.41,1061.09 1030.92,1062.29 1031.43,1061.08 1031.94,1064 1032.45,1058.67 1032.96,1061.16 1033.47,1062.78 1033.98,1063.74 1034.49,1060.89 1035.01,1065.93 1035.52,1066.62 1036.03,1061.72 1036.53,1062.69 1037.03,1065.75 1037.53,1062.59 1038.03,1066.6 1038.54,1067.21 1039.04,1065.07 1039.54,1064.79 1040.04,1067.94 1040.54,1065.41 1041.05,1068.01 1041.55,1070.16 1042.05,1070.15 1042.55,1065.3 1043.05,1071.44 1043.56,1065.41 1044.06,1070.8 1044.56,1071.75 1045.06,1066.98 1045.56,1067.65 1046.07,1072.59 1046.58,1070.05 1047.1,1070.9 1047.61,1071.01 1048.12,1075.77 1048.63,1070.2 1049.14,1076.41 1049.65,1074.63 1050.16,1072.56 1050.67,1074.99 1051.18,1077.75 1051.69,1078.92 1052.2,1074.73 1052.71,1076.19 1053.22,1077.92 1053.74,1078.75 1054.25,1076.47 1054.76,1076.93 1055.27,1077.01 1055.78,1070.55 1056.29,1076.28 1056.8,1069.47 1057.31,1072.04 1057.82,1070.73 1058.33,1069.87 1058.84,1071.38 1059.35,1069.08 1059.87,1068.26 1060.41,1069.84 1060.95,1066.32 1061.49,1068.33 1062.03,1066.94 1062.57,1063.71 1063.12,1063.73 1063.66,1060.81 1064.2,1062.46 1064.74,1057.33 1065.28,1055.49 1065.82,1058.97 1066.37,1057.1 1066.91,1054.23 1067.45,1055.59 1067.99,1059.89 1068.53,1056.86 1069.08,1059.41 1069.62,1061.07 1070.16,1056.24 1070.7,1058.03 1071.24,1058.64 1071.78,1057.73 1072.29,1056.89 1072.79,1057.88 1073.29,1063.78 1073.79,1058.11 1074.29,1061.98 1074.8,1059.81 1075.3,1063.74 1075.8,1059.76 1076.3,1060.59 1076.8,1061.93 1077.3,1062.94 1077.81,1058.97 1078.31,1060.65 1078.81,1061.17 1079.31,1059.61 1079.81,1062.63 1080.32,1059.92 1080.82,1062.4 1081.32,1061.68 1081.83,1060.86 1082.34,1063.34 1082.85,1066.77 1083.36,1065.92 1083.87,1067.27 1084.38,1066.3 1084.9,1069.37 1085.41,1068.95 1085.92,1070.55 1086.43,1065.73 1086.94,1068.56 1087.45,1070.75 1087.96,1070.66 1088.47,1067.94 1088.98,1069.43 1089.49,1070.39 1090,1071.56 1090.51,1071.95 1091.02,1076.36 1091.54,1076.9 1092.05,1072.33 1092.56,1078.67 1093.07,1077.11 1093.58,1076.17 1094.09,1077.24 1094.6,1078.63 1095.11,1081.71 1095.62,1078.8 1096.13,1076.48 1096.64,1075.96 1097.15,1078.27 1097.67,1073.21 1098.18,1072.16 1098.69,1071.44 1099.2,1073.45 1099.71,1072.53 1100.22,1067.63 1100.73,1065.51 1101.24,1064.91 1101.75,1067.37 1102.26,1063.65 1102.77,1066.8 1103.28,1066.29 1103.8,1060.66 1104.31,1059.13 1104.82,1059.34 1105.33,1060.21 1105.84,1058.57 1106.35,1059.85 1106.86,1058.51 1107.37,1057.04 1107.88,1059.1 1108.39,1057.63 1108.9,1058.94 1109.41,1053.99 1109.92,1058.09 1110.44,1053.3 1110.95,1057.16 1111.46,1054.41 1111.97,1056.09 1112.48,1058.48 1112.99,1055.65 1113.5,1060.1 1114.01,1059.46 1114.52,1056.75 1115.03,1061.11 1115.54,1061.48 1116.05,1055.54 1116.57,1058.68 1117.08,1056.04 1117.59,1061 1118.1,1060.97 1118.61,1062.29 1119.12,1062.65 1119.63,1060.33 1120.14,1062.81 1120.65,1064.26 1121.16,1064.44 1121.67,1062.91 1122.18,1067.13 1122.7,1067.2 1123.21,1067.53 1123.72,1065.38 1124.23,1066.02 1124.74,1067.33 1125.25,1065.65 1125.76,1069.01 1126.27,1071.3 1126.78,1071.66 1127.29,1070.07 1127.8,1066.27 1128.31,1068.42 1128.82,1072.27 1129.34,1071.99 1129.85,1074.13 1130.36,1072.77 1130.87,1070.68 1131.38,1073.07 1131.92,1076.85 1132.46,1077.8 1133,1078.43 1133.55,1073.28 1134.09,1075.88 1134.63,1078.91 1135.17,1081.85 1135.71,1077.33 1136.25,1082.5 1136.8,1080.71 1137.34,1083.61 1137.88,1079.38 1138.42,1081.51 1138.96,1074.94 1139.51,1073.73 1140.05,1073.76 1140.59,1074.37 1141.13,1073.7 1141.67,1069.04 1142.21,1069.99 1142.76,1069.36 1143.3,1066.81 1143.84,1068.07 1144.38,1066.36 1144.92,1061.16 1145.47,1065.51 1146.01,1064.98 1146.55,1059.47 1147.09,1057.98 1147.63,1062.35 1148.17,1056.62 1148.72,1060.93 1149.26,1055.98 1149.8,1058.82 1150.34,1060.61 1150.88,1056.26 1151.42,1059.51 1151.97,1059.36 1152.51,1060.29 1153.05,1061.76 1153.59,1063.5 1154.13,1063.97 1154.68,1059.09 1155.22,1064.17 1155.76,1063.39 1156.3,1059.38 1156.84,1063.96 1157.38,1067.2 1157.93,1064.92 1158.47,1065.08 1159.01,1067.31 1159.55,1064.85 1160.09,1063.74 1160.63,1065.84 1161.18,1067.3 1161.71,1068.71 1162.24,1073.52 1162.77,1074.26 1163.3,1070.75 1163.83,1072.94 1164.35,1073.92 1164.88,1078.5 1165.41,1080.9 1165.94,1077.52 1166.49,1077.03 1167.03,1081.01 1167.57,1079.98 1168.11,1074.96 1168.65,1073.58 1169.19,1075.47 1169.74,1074.61 1170.28,1071.94 1170.82,1069.43 1171.36,1073.72 1171.9,1070.84 1172.42,1069.99 1172.95,1067.47 1173.47,1066.02 1173.99,1067.67 1174.51,1064.27 1175.03,1063.55 1175.55,1067.07 1176.08,1062.21 1176.6,1063.5 1177.12,1060.53 1177.64,1059.66 1178.16,1058.67 1178.68,1057.66 1179.2,1058.24 1179.73,1059.37 1180.25,1055.8 1180.76,1058.96 1181.27,1055.8 1181.78,1053.44 1182.29,1057.45 1182.8,1059.81 1183.31,1059.02 1183.82,1056.87 1184.33,1057.75 1184.84,1060.93 1185.35,1062.24 1185.87,1057.31 1186.38,1058.02 1186.89,1064.17 1187.4,1062.22 1187.94,1059.64 1188.48,1062 1189.02,1061.57 1189.57,1065.99 1190.11,1063.35 1190.65,1067.19 1191.19,1067.4 1191.73,1072.02 1192.27,1070.43 1192.82,1071.51 1193.36,1074.35 1193.89,1074.79 1194.42,1073.23 1194.95,1077.54 1195.48,1074.94 1196.01,1079.95 1196.54,1076.16 1197.07,1080.75 1197.6,1081.34 1198.13,1080.01 1198.64,1081.84 1199.15,1083.07 1199.66,1075.99 1200.17,1075.34 1200.68,1078.43 1201.19,1078.59 1201.7,1075.48 1202.21,1072.39 1202.72,1073.22 1203.23,1073.13 1203.74,1072.93 1204.25,1069.05 1204.77,1066.48 1205.28,1067.04 1205.8,1068.29 1206.32,1067.93 1206.84,1063.93 1207.36,1063.7 1207.88,1066.34 1208.41,1062.17 1208.93,1064.73 1209.45,1062.92 1209.97,1061.61 1210.49,1062.55 1211.01,1057.36 1211.53,1060.58 1212.06,1058.03 1212.58,1054.58 1213.1,1055.95 1213.62,1059.56 1214.13,1058.95 1214.64,1056.64 1215.15,1055.5 1215.66,1056.49 1216.17,1056.32 1216.68,1061.29 1217.2,1057.04 1217.71,1056.44 1218.22,1057.91 1218.73,1062.41 1219.24,1058 1219.75,1061.09 1220.26,1058.59 1220.77,1059.84 1221.29,1064.61 1221.81,1066.61 1222.34,1063.76 1222.86,1069.15 1223.38,1066.08 1223.9,1071.46 1224.42,1073.17 1224.94,1074.18 1225.46,1070.33 1225.99,1073.8 1226.51,1073.94 1227.03,1078.68 1227.55,1080.26 1228.07,1077.33 1228.59,1082.95 1229.11,1078.21 1229.66,1083.93 1230.2,1080.75 1230.74,1077.69 1231.28,1078.72 1231.82,1074.97 1232.37,1079.02 1232.91,1075.38 1233.45,1076.44 1233.99,1070.46 1234.53,1069.76 1235.07,1071.57 1235.62,1069.89 1236.16,1066.14 1236.7,1066.88 1237.24,1064.34 1237.78,1063.99 1238.32,1061.29 1238.87,1062.73 1239.41,1059.64 1239.95,1059.62 1240.49,1056.9 1241.03,1059.57 1241.54,1057.53 1242.05,1056.93 1242.57,1060.14 1243.08,1058.69 1243.59,1059.77 1244.1,1059.06 1244.61,1058.36 1245.12,1056.78 1245.63,1055.53 1246.14,1059.84 1246.65,1054.32 1247.16,1056.39 1247.67,1054.87 1248.18,1056.85 1248.7,1058.42 1249.21,1059.25 1249.72,1061.54 1250.23,1056.57 1250.74,1059.16 1251.25,1058.23 1251.76,1060.05 1252.27,1058.03 1252.78,1063.63 1253.29,1061.87 1253.8,1062.36 1254.31,1060.14 1254.83,1059.88 1255.34,1065.34 1255.86,1062.64 1256.38,1066.65 1256.9,1065.97 1257.42,1067.24 1257.94,1070.41 1258.46,1066.23 1258.99,1072.37 1259.51,1071.64 1260.03,1070.84 1260.55,1073.74 1261.07,1072.1 1261.59,1075.31 1262.12,1072.94 1262.64,1079.23 1263.16,1080.56 1263.68,1079.82 1264.22,1078.02 1264.76,1075.61 1265.3,1075.35 1265.85,1076.49 1266.39,1071.8 1266.93,1072.96 1267.47,1071.05 1268.01,1072.37 1268.56,1067.3 1269.1,1070.64 1269.64,1065.63 1270.15,1066.02 1270.66,1069.31 1271.17,1065.47 1271.68,1064.28 1272.19,1063.9 1272.7,1060.22 1273.21,1062.48 1273.73,1057.56 1274.24,1059.96 1274.75,1061.11 1275.26,1055.3 1275.77,1059.16 1276.28,1053.48 1276.79,1052.6 1277.3,1057 1277.81,1056.84 1278.32,1053.06 1278.83,1058.14 1279.34,1054.68 1279.86,1057.48 1280.37,1053.82 1280.88,1056.96 1281.39,1057.79 1281.9,1059.05 1282.41,1060.04 1282.92,1054.83 1283.43,1058.38 1283.94,1056.8 1284.47,1061.91 1285,1057.19 1285.53,1062.29 1286.06,1065.36 1286.59,1065.42 1287.12,1064.76 1287.65,1064.49 1288.18,1065.17 1288.71,1067.81 1289.24,1070.62 1289.77,1071.04 1290.3,1074.55 1290.83,1070.84 1291.36,1076.72 1291.89,1074.61 1292.42,1078.49 1292.95,1076.5 1293.48,1084.2" fill="none" stroke="#2222ff" stroke-width="1.5" stroke-linejoin="round"/>
</g>
<line x1="115.3" y1="938.6" x2="1295.5" y2="938.6" stroke="#8a8a8a" stroke-width="1.7"/>
<line x1="115.3" y1="1193.8" x2="1295.5" y2="1193.8" stroke="#8a8a8a" stroke-width="1.7"/>
<line x1="115.3" y1="937.75" x2="115.3" y2="1194.65" stroke="#8a8a8a" stroke-width="1.7"/>
<line x1="1295.5" y1="937.75" x2="1295.5" y2="1194.65" stroke="#ef9a78" stroke-width="1.7"/>
<line x1="221.7" y1="1193.8" x2="221.7" y2="1182.3" stroke="#8a8a8a" stroke-width="1.7"/>
<line x1="221.7" y1="938.6" x2="221.7" y2="950.1" stroke="#8a8a8a" stroke-width="1.7"/>
<line x1="378.77" y1="1193.8" x2="378.77" y2="1182.3" stroke="#8a8a8a" stroke-width="1.7"/>
<line x1="378.77" y1="938.6" x2="378.77" y2="950.1" stroke="#8a8a8a" stroke-width="1.7"/>
<line x1="535.83" y1="1193.8" x2="535.83" y2="1182.3" stroke="#8a8a8a" stroke-width="1.7"/>
<line x1="535.83" y1="938.6" x2="535.83" y2="950.1" stroke="#8a8a8a" stroke-width="1.7"/>
<line x1="692.9" y1="1193.8" x2="692.9" y2="1182.3" stroke="#8a8a8a" stroke-width="1.7"/>
<line x1="692.9" y1="938.6" x2="692.9" y2="950.1" stroke="#8a8a8a" stroke-width="1.7"/>
<line x1="849.97" y1="1193.8" x2="849.97" y2="1182.3" stroke="#8a8a8a" stroke-width="1.7"/>
<line x1="849.97" y1="938.6" x2="849.97" y2="950.1" stroke="#8a8a8a" stroke-width="1.7"/>
<line x1="1007.03" y1="1193.8" x2="1007.03" y2="1182.3" stroke="#8a8a8a" stroke-width="1.7"/>
<line x1="1007.03" y1="938.6" x2="1007.03" y2="950.1" stroke="#8a8a8a" stroke-width="1.7"/>
<line x1="1164.1" y1="1193.8" x2="1164.1" y2="1182.3" stroke="#8a8a8a" stroke-width="1.7"/>
<line x1="1164.1" y1="938.6" x2="1164.1" y2="950.1" stroke="#8a8a8a" stroke-width="1.7"/>
<line x1="115.3" y1="938.4" x2="126.8" y2="938.4" stroke="#8a8a8a" stroke-width="1.7"/>
<line x1="115.3" y1="1066.1" x2="126.8" y2="1066.1" stroke="#8a8a8a" stroke-width="1.7"/>
<line x1="115.3" y1="1193.8" x2="126.8" y2="1193.8" stroke="#8a8a8a" stroke-width="1.7"/>
<line x1="1295.5" y1="1188" x2="1284" y2="1188" stroke="#ef9a78" stroke-width="1.7"/>
<line x1="1295.5" y1="1115.93" x2="1284" y2="1115.93" stroke="#ef9a78" stroke-width="1.7"/>
<line x1="1295.5" y1="1043.87" x2="1284" y2="1043.87" stroke="#ef9a78" stroke-width="1.7"/>
<line x1="1295.5" y1="971.8" x2="1284" y2="971.8" stroke="#ef9a78" stroke-width="1.7"/>
<text x="200.88" y="1235.04" font-family="'Liberation Sans', Arial, sans-serif" font-size="28" fill="#262626" textLength="42.05" lengthAdjust="spacingAndGlyphs">410</text>
<text x="357.95" y="1235.04" font-family="'Liberation Sans', Arial, sans-serif" font-size="28" fill="#262626" textLength="42.05" lengthAdjust="spacingAndGlyphs">420</text>
<text x="515.01" y="1235.04" font-family="'Liberation Sans', Arial, sans-serif" font-size="28" fill="#262626" textLength="42.05" lengthAdjust="spacingAndGlyphs">430</text>
<text x="672.08" y="1235.04" font-family="'Liberation Sans', Arial, sans-serif" font-size="28" fill="#262626" textLength="42.05" lengthAdjust="spacingAndGlyphs">440</text>
<text x="829.15" y="1235.04" font-family="'Liberation Sans', Arial, sans-serif" font-size="28" fill="#262626" textLength="42.05" lengthAdjust="spacingAndGlyphs">450</text>
<text x="986.21" y="1235.04" font-family="'Liberation Sans', Arial, sans-serif" font-size="28" fill="#262626" textLength="42.05" lengthAdjust="spacingAndGlyphs">460</text>
<text x="1143.28" y="1235.04" font-family="'Liberation Sans', Arial, sans-serif" font-size="28" fill="#262626" textLength="42.05" lengthAdjust="spacingAndGlyphs">470</text>
<text x="49.72" y="949.57" font-family="'Liberation Sans', Arial, sans-serif" font-size="28" fill="#262626" textLength="56.06" lengthAdjust="spacingAndGlyphs">2000</text>
<text x="91.77" y="1077.27" font-family="'Liberation Sans', Arial, sans-serif" font-size="28" fill="#262626" textLength="14.02" lengthAdjust="spacingAndGlyphs">0</text>
<text x="41.33" y="1204.97" font-family="'Liberation Sans', Arial, sans-serif" font-size="28" fill="#262626" textLength="64.45" lengthAdjust="spacingAndGlyphs">-2000</text>
<text x="1303.99" y="1199.07" font-family="'Liberation Sans', Arial, sans-serif" font-size="28" fill="#D95319" textLength="42.05" lengthAdjust="spacingAndGlyphs">580</text>
<text x="1303.72" y="1127.01" font-family="'Liberation Sans', Arial, sans-serif" font-size="28" fill="#D95319" textLength="42.05" lengthAdjust="spacingAndGlyphs">600</text>
<text x="1303.72" y="1054.94" font-family="'Liberation Sans', Arial, sans-serif" font-size="28" fill="#D95319" textLength="42.05" lengthAdjust="spacingAndGlyphs">620</text>
<text x="1303.72" y="982.87" font-family="'Liberation Sans', Arial, sans-serif" font-size="28" fill="#D95319" textLength="42.05" lengthAdjust="spacingAndGlyphs">640</text>
<text x="654.56" y="1273.4" font-family="'Liberation Sans', Arial, sans-serif" font-size="32.12" fill="#262626" textLength="103.89" lengthAdjust="spacingAndGlyphs">Time (s)</text>
<text transform="translate(30.3 1216.54) rotate(-90)" x="0" y="0" font-family="'Liberation Sans', Arial, sans-serif" font-size="28.34" fill="#262626" textLength="301.46" lengthAdjust="spacingAndGlyphs">Breath Amplitude (au)</text>
<text transform="translate(1380.5 1214.57) rotate(-90)" x="0" y="0" font-family="'Liberation Sans', Arial, sans-serif" font-size="28.34" fill="#D95319" textLength="296.52" lengthAdjust="spacingAndGlyphs">Peak Frequency (Hz)</text>
<text x="1051.59" y="898" font-family="Carlito, Calibri, 'Liberation Sans', sans-serif" font-size="60.56" fill="#000" textLength="272.09" lengthAdjust="spacingAndGlyphs">Participant</text>
<text x="1333.45" y="898" font-family="Carlito, Calibri, 'Liberation Sans', sans-serif" font-size="60.56" fill="#000" textLength="30" lengthAdjust="spacingAndGlyphs">3</text>
<rect x="1078.9" y="951.8" width="203.6" height="69.5" fill="#fff" stroke="none"/>
<line x1="1078.9" y1="951.8" x2="1282.5" y2="951.8" stroke="#8c8c8c" stroke-width="1.6"/>
<line x1="1078.9" y1="1021.3" x2="1282.5" y2="1021.3" stroke="#8c8c8c" stroke-width="1.6"/>
<line x1="1282.5" y1="951.8" x2="1282.5" y2="1021.3" stroke="#8c8c8c" stroke-width="1.6"/>
<line x1="1077.7" y1="968.8" x2="1117" y2="968.8" stroke="#5050ff" stroke-width="1.6"/>
<line x1="1077.7" y1="1002" x2="1117" y2="1002" stroke="#ff5a5a" stroke-width="1.6"/>
<text x="1142.32" y="980" font-family="Carlito, Calibri, 'Liberation Sans', sans-serif" font-size="17.86" fill="#1a1a1a" textLength="92.64" lengthAdjust="spacingAndGlyphs" stroke="#1a1a1a" stroke-width="0.35">Breath Cycle</text>
<text x="1142" y="1002" font-family="Carlito, Calibri, 'Liberation Sans', sans-serif" font-size="17.5" fill="#1a1a1a" stroke="#1a1a1a" stroke-width="0.3" font-style="italic">f<tspan font-size="12.6" dy="3">peak</tspan><tspan dy="-3">(t)</tspan></text>
<path d="M1146.38 1006.5 L1147.88 1007.3 L1149.38 1006.3 L1150.88 1007.3 L1152.38 1006.3 L1153.88 1007.3 L1155.38 1006.3 L1156.88 1007.3 L1158.38 1006.3 L1159.88 1007.3 L1161.38 1006.3 L1162.88 1007.3 L1164.38 1006.3 L1165.88 1007.3 L1167.38 1006.3 L1168.88 1007.3 L1170.38 1006.3" fill="none" stroke="#e05050" stroke-width="0.8"/>
<clipPath id="cp4"><rect x="125.2" y="1379.9" width="1218.6" height="251.3"/></clipPath>
<g clip-path="url(#cp4)">
<polyline points="125.35,1494.07 126.92,1500.74 128.49,1507.58 130.06,1512.87 131.83,1517.26 133.59,1521.14 135.36,1524.53 137.13,1527.25 138.89,1529.92 140.66,1532.25 142.42,1534.38 144.19,1535.28 145.7,1535.55 147.22,1535.78 148.73,1536.04 150.24,1536.5 151.76,1536.58 153.27,1536.65 154.78,1536.67 156.75,1533.65 158.71,1527.25 160.67,1520.12 162.63,1512.26 164.59,1503.12 166.56,1494.33 168.32,1485.7 170.09,1477.05 171.85,1470.04 173.62,1467.1 175.58,1467.44 177.54,1468.82 179.5,1470.47 181.47,1474.84 183.43,1481.71 185.39,1489.48 187.35,1499.66 189.31,1511.79 191.28,1520.1 193.04,1524.2 194.81,1527.28 196.57,1529.64 198.34,1531.81 199.91,1533.88 201.48,1535.84 203.05,1537.62 204.62,1539.25 206.19,1540.52 207.76,1540.61 209.52,1540.41 211.29,1540.13 213.25,1534.68 215.21,1523.92 217.17,1513 218.94,1504.26 220.7,1495.47 222.47,1486.73 224.24,1480.01 225.96,1474.11 227.69,1469.28 229.42,1467.01 231.22,1468.65 233.03,1472.78 234.83,1477.62 236.79,1486.05 238.75,1497.62 240.72,1508.14 242.48,1516.91 244.25,1525.79 246.01,1533.67 247.78,1538.95 249.35,1542.09 250.92,1545.18 252.49,1547.77 254.06,1549.97 255.63,1551.18 257.2,1551.93 258.96,1550.32 260.73,1546.05 262.49,1540.24 264.26,1534.38 266.22,1525.86 268.18,1516.28 270.15,1508.49 271.71,1503.16 273.28,1498.44 274.85,1496.7 276.82,1499.03 278.78,1504.7 280.74,1510.57 282.51,1516.26 284.27,1522.97 286.04,1529.17 287.8,1534.15 289.48,1538 291.17,1541.3 292.85,1544.47 294.53,1547.36 296.21,1549.69 297.89,1551.43 299.57,1551.8 301.34,1548.03 303.11,1539.27 304.87,1529.79 306.64,1522.39 308.29,1517.98 309.93,1513.78 311.58,1510.28 313.23,1507.9 314.88,1507.19 316.45,1507.87 318.02,1510.03 319.59,1513 321.55,1518.94 323.51,1527.59 325.47,1534.05 327.04,1538 328.61,1541.75 330.18,1544.9 331.75,1547.88 333.32,1549.66 334.89,1550.57 336.66,1551.12 338.42,1551.34 340.19,1551.74 341.95,1551.75 343.72,1550.11 345.48,1545.25 347.25,1538.64 349.02,1531.65 350.78,1523.65 352.55,1513.56 354.31,1503.12 356.08,1494.07 357.73,1486.41 359.37,1477.82 361.02,1470.34 362.67,1465.33 364.32,1463.12 366.28,1464.78 368.24,1468.22 370.2,1473.14 371.97,1479.43 373.74,1488.68 375.5,1498.9 377.27,1508.3 379.03,1517.5 380.8,1527.39 382.56,1536.13 384.33,1541.42 386.01,1544.23 387.69,1546.52 389.38,1548.82 391.06,1550.67 392.74,1551.95 394.42,1552.86 396.1,1553.04 397.87,1551.54 399.63,1547.58 401.4,1542.09 403.16,1536.72 405.13,1528.52 407.09,1518.22 409.05,1510.84 410.62,1506.5 412.19,1502.8 413.76,1501.05 415.72,1503.37 417.68,1507.64 419.65,1513.2 421.41,1518.39 423.18,1524.59 424.94,1531.08 426.71,1536.6 428.47,1541.19 430.24,1545.7 432.01,1549.22 433.77,1550.56 435.34,1550.83 436.91,1551.49 438.48,1551.36 440.05,1551.87 441.62,1551.67 443.19,1551.98 444.95,1548.83 446.72,1541.18 448.49,1531.42 450.25,1522.58 452.02,1513.95 453.78,1505.25 455.55,1496.6 457.31,1489.62 458.96,1483.35 460.61,1477.12 462.26,1472.49 463.91,1470.44 465.63,1472.43 467.36,1477.26 469.09,1482.4 470.85,1488.03 472.62,1494.33 474.38,1501.08 476.15,1508.24 477.91,1516.43 479.68,1525.25 481.45,1533.14 483.21,1539.04 484.73,1542.17 486.24,1544.8 487.75,1547.62 489.27,1549.77 490.78,1551.65 492.29,1552.56 493.81,1552.92 495.77,1549.76 497.73,1542.5 499.69,1534.03 501.65,1525.28 503.62,1515.81 505.58,1508.45 507.15,1503.97 508.72,1500.35 510.29,1499.02 512.25,1502.41 514.21,1509.73 516.17,1517.87 517.89,1524.23 519.61,1531.84 521.33,1539.36 523.05,1545.06 524.77,1548.44 526.34,1549.51 527.91,1550.93 529.48,1551.59 531.05,1552.29 532.62,1552.87 534.19,1552.97 535.95,1552.5 537.72,1551.15 539.49,1548.83 541.25,1545.77 543.21,1538.89 545.18,1527.91 547.14,1517.71 549.1,1509.57 551.06,1501.93 553.02,1496.36 555.14,1492.45 557.26,1490.78 558.99,1492.21 560.71,1496.36 562.44,1501.43 564.4,1510.34 566.36,1522.42 568.33,1531.89 569.97,1536.98 571.62,1541.97 573.27,1545.82 574.92,1549.05 576.57,1550.6 578.14,1551.8 579.71,1552.62 581.28,1553.26 582.85,1553.73 584.41,1553.95 585.98,1554.32 587.75,1552.76 589.52,1549.29 591.28,1544.15 593.05,1538.74 595.01,1530.31 596.97,1519.8 598.93,1510.52 600.5,1505.04 602.07,1499.8 603.64,1497.73 605.6,1499.77 607.57,1504.89 609.53,1510.49 611.29,1517.13 613.06,1525.59 614.82,1533.21 616.59,1538.97 618.16,1541.94 619.73,1544.66 621.3,1546.89 622.87,1548.87 624.44,1550.83 626.01,1551.99 627.66,1553.02 629.3,1553.99 630.95,1554.83 632.6,1555.05 634.25,1555.42 636.01,1554.32 637.78,1551.61 639.55,1547.97 641.31,1543.72 643.08,1538.13 644.84,1530.15 646.61,1522.31 648.37,1515.43 650.34,1508.85 652.3,1502.81 654.26,1499.01 656.03,1496.87 657.79,1496.23 659.75,1498.52 661.71,1504.34 663.68,1510.81 665.44,1516.94 667.21,1524.1 668.97,1531.09 670.74,1536.48 672.51,1540.39 674.27,1543.79 676.04,1546.43 677.8,1548.28 679.32,1549.76 680.83,1551.36 682.34,1552.47 683.86,1553.66 685.37,1554.4 686.88,1555.05 688.4,1555.4 690.36,1551.82 692.32,1543.45 694.28,1534.14 696.25,1524.46 698.21,1513.18 700.17,1503.45 701.74,1496.68 703.31,1491.06 704.88,1488.48 706.64,1488.72 708.41,1489.33 710.17,1490.33 711.94,1491.66 713.9,1495.32 715.86,1501.44 717.83,1508.47 719.59,1515.37 721.36,1523.41 723.12,1530.81 724.89,1536.45 726.54,1540.22 728.19,1544 729.83,1546.61 731.48,1548.87 733.13,1549.57 734.9,1548.1 736.66,1544.62 738.43,1539.41 740.19,1534.21 742.15,1525.9 744.12,1515.8 746.08,1508.11 748.04,1503.25 750,1499.19 751.96,1497.53 753.73,1498.52 755.5,1499.85 757.26,1502.35 759.03,1504.85 760.79,1508.62 762.56,1513.9 764.32,1519.8 766.09,1524.93 767.74,1529.21 769.39,1533.57 771.03,1537.76 772.68,1541.25 774.33,1543.63 776.01,1545.44 777.69,1547.01 779.38,1548.82 781.06,1549.97 782.74,1550.81 784.42,1551.49 786.1,1552 787.87,1549.33 789.63,1543.28 791.4,1535.38 793.16,1527.28 795.13,1516.11 797.09,1503.54 799.05,1494.14 801.01,1487.87 802.97,1483.35 804.94,1481.03 806.51,1483.58 808.08,1488.3 809.65,1494.04 811.41,1501.81 813.18,1511.04 814.94,1519.91 816.71,1527.16 818.47,1532.28 820.24,1536.85 822.01,1540.41 823.77,1543.74 825.28,1546.18 826.8,1548.41 828.31,1550.7 829.83,1552.64 831.34,1553.96 832.85,1555.16 834.37,1555.52 836.13,1552.82 837.9,1546.32 839.66,1538.79 841.43,1532.01 843.19,1525.04 844.96,1517.85 846.73,1512.05 848.49,1509.52 850.45,1511.16 852.42,1515.61 854.38,1519.97 856.14,1524.25 857.91,1528.7 859.67,1532.93 861.44,1536.71 863.01,1539.27 864.58,1541.84 866.15,1544.51 867.72,1546.58 869.29,1547.97 870.86,1548.48 872.62,1546.85 874.39,1542.93 876.15,1537.58 877.92,1531.85 879.49,1525.47 881.06,1517.24 882.63,1510.49 884.2,1505.44 885.77,1500.81 887.34,1498.9 888.91,1499.62 890.48,1501.23 892.05,1503.47 893.81,1507.69 895.58,1514.42 897.34,1521.45 899.11,1527.21 900.84,1531.9 902.58,1537.36 904.31,1542.15 906.05,1546.09 907.78,1548.68 909.52,1550.06 911.15,1546.93 912.78,1539.79 914.41,1531.31 916.04,1525.25 917.6,1520.58 919.17,1516.41 920.73,1512.51 922.29,1509.94 923.86,1509.15 925.6,1510.44 927.34,1513.67 929.07,1517.25 930.64,1521.73 932.2,1527.78 933.77,1533.9 935.33,1539.65 936.9,1543.6 938.46,1545.86 940.03,1548.04 941.59,1549.55 943.15,1550.88 944.72,1551.35 946.28,1549.66 947.85,1545.29 949.41,1539.42 950.98,1533.14 952.54,1527.92 954.28,1521.13 956.02,1513.91 957.76,1510.92 959.32,1511.7 960.88,1514.21 962.45,1517.68 964.01,1521.31 965.58,1525.2 967.14,1529.67 968.71,1535.66 970.27,1541.39 971.84,1546.22 973.4,1548.54 975.14,1549.46 976.88,1549.61 978.62,1550.03 980.35,1546.41 982.09,1539.08 983.83,1530.24 985.39,1522.48 986.96,1513.66 988.52,1504.5 990.09,1494.97 991.65,1486.2 993.32,1475.94 994.99,1464.59 996.66,1454.32 998.33,1446.75 1000,1444 1002,1447.34 1003.99,1455.79 1005.99,1465.32 1007.62,1472.5 1009.25,1481.23 1010.88,1489.9 1012.51,1499.11 1014.08,1509.05 1015.64,1520.39 1017.21,1531.04 1018.77,1540.48 1020.33,1545.89 1021.9,1549.25 1023.46,1551.58 1025.03,1553.95 1026.59,1555.27 1028.16,1556.33 1029.89,1557.1 1031.63,1557.97 1033.37,1558.6 1035.11,1559.35 1036.85,1559.51 1038.59,1559.52 1040.15,1558.06 1041.72,1553.34 1043.28,1547.43 1044.84,1541.38 1046.41,1535.77 1047.97,1529.96 1049.54,1523.55 1051.1,1517.02 1052.67,1512.77 1054.23,1510.9 1055.8,1512.79 1057.36,1517.65 1058.92,1523.68 1060.49,1530.2 1062.05,1535.44 1063.62,1539.86 1065.18,1544.13 1066.75,1548.06 1068.31,1551.33 1069.88,1553.94 1071.44,1555.88 1073,1557.62 1074.57,1558.8 1076.13,1559.85 1077.7,1560.24 1079.26,1558.51 1080.83,1554.17 1082.39,1547.94 1083.96,1541.55 1085.52,1535.52 1087.26,1529.38 1089,1523.18 1090.73,1517.51 1092.36,1511.81 1093.99,1506.35 1095.62,1502.31 1097.25,1500.27 1098.82,1500.91 1100.38,1502.88 1101.95,1505.85 1103.51,1508.98 1105.08,1512.29 1106.6,1515.89 1108.12,1520.56 1109.64,1526.1 1111.16,1531.75 1112.68,1536.67 1114.2,1540.66 1115.94,1544.83 1117.68,1549.01 1119.42,1552.82 1121.15,1556.05 1122.89,1558.1 1124.63,1558.86 1126.2,1558.44 1127.76,1556.44 1129.32,1553.4 1130.89,1549.73 1132.45,1545.93 1134.08,1539.53 1135.71,1530.31 1137.34,1520.9 1138.97,1514.92 1140.71,1510.98 1142.45,1507.94 1144.19,1506.95 1145.82,1508.2 1147.45,1511.37 1149.08,1515.64 1150.71,1519.75 1152.27,1524.89 1153.83,1531.33 1155.4,1537.73 1156.96,1543.81 1158.53,1548.5 1160.09,1552.19 1161.66,1555.77 1163.22,1558.72 1164.79,1560.93 1166.35,1561.53 1167.91,1560.72 1169.48,1558.48 1171.04,1554.92 1172.61,1550.83 1174.17,1546.19 1175.74,1539.34 1177.3,1529.98 1178.87,1519.25 1180.43,1508.46 1181.99,1499.03 1183.82,1488.56 1185.64,1477.24 1187.47,1468.68 1189.3,1465.03 1191.21,1469.13 1193.12,1477.45 1195.03,1486.24 1196.6,1491.88 1198.16,1498.19 1199.73,1504.36 1201.29,1510.54 1202.85,1517.46 1204.42,1525.31 1205.98,1534.01 1207.55,1543.11 1209.11,1550.09 1210.68,1553.88 1212.41,1555.72 1214.15,1557.2 1215.89,1558.41 1217.63,1559.54 1219.37,1560.3 1221.11,1560.24 1222.67,1558.82 1224.23,1554.69 1225.8,1549.1 1227.36,1542.54 1228.93,1535.74 1230.56,1526.63 1232.19,1515.46 1233.82,1504.35 1235.45,1496.49 1237.45,1489.56 1239.44,1483.84 1241.44,1481.18 1243.36,1484.4 1245.27,1491.28 1247.18,1499.05 1248.74,1505.53 1250.31,1512.48 1251.87,1520.15 1253.44,1527.23 1255,1533.11 1256.57,1537.97 1258.13,1543.12 1259.7,1547.51 1261.26,1551.24 1262.82,1553.64 1264.39,1555.91 1265.95,1558.15 1267.52,1560.01 1269.08,1561.18 1270.65,1561.5 1272.21,1560.03 1273.78,1555.63 1275.34,1549.44 1276.9,1542.41 1278.47,1535.61 1280.03,1528.33 1281.6,1519.44 1283.16,1510.45 1284.73,1501.48 1286.29,1493.71 1288.2,1484.45 1290.12,1475.49 1292.03,1471.64 1293.85,1473.48 1295.68,1478.34 1297.5,1484.48 1299.33,1491.32 1300.89,1497.64 1302.46,1506.12 1304.02,1514.57 1305.59,1523.28 1307.15,1530.39 1308.72,1536.83 1310.28,1543.3 1311.84,1549.2 1313.41,1553.94 1314.97,1556.46 1316.71,1557.93 1318.45,1559.09 1320.19,1560.28 1321.93,1560.87 1323.66,1561.48 1325.4,1561.72 1326.97,1559.65 1328.53,1554.36 1330.1,1546.94 1331.66,1538.41 1333.23,1530.55 1334.79,1521.97 1336.35,1512.26 1337.92,1501.9 1339.48,1491.08 1341.05,1480.76" fill="none" stroke="#ff6464" stroke-width="1.6" stroke-linejoin="round"/>
<polyline points="125.35,1513.16 126.53,1516.14 127.71,1519.01 128.89,1521.43 130.06,1522.54 131.24,1522.38 132.42,1522.21 133.59,1517.09 134.77,1512.43 135.95,1514.8 137.13,1517.91 138.3,1519.3 139.48,1518.8 140.66,1517.87 141.83,1517.44 142.89,1516.79 143.95,1515.54 145.01,1513.57 146.07,1512.65 147.48,1517.47 148.9,1527.11 150.07,1535.6 151.25,1545.4 152.43,1553.26 153.61,1561.22 154.78,1568.08 155.96,1571.6 157.14,1570.23 158.31,1566.6 159.49,1559.9 160.67,1552.79 161.85,1543.1 163.02,1530.44 164.2,1516.62 165.38,1506.11 166.56,1498.36 167.73,1491.88 168.91,1485.22 170.09,1477.29 171.26,1468.29 172.44,1458.38 173.62,1449.89 174.8,1442.66 175.85,1437.39 176.91,1432.29 177.97,1428.51 179.03,1427.25 180.03,1429.75 181.03,1434.55 182.03,1440 183.04,1446.92 184.21,1458.91 185.39,1475.59 186.57,1489.74 187.74,1500.6 188.92,1508.98 190.1,1512.9 191.28,1509.47 192.45,1507.31 193.63,1509.69 194.81,1515.18 195.98,1518.19 197.16,1517.97 198.34,1516.44 199.52,1515.32 200.69,1515.39 201.87,1517.89 203.05,1522.33 204.22,1527.08 205.4,1533.78 206.58,1543.59 207.76,1550.72 208.82,1555.43 209.87,1558.87 210.93,1561.02 211.99,1561.94 212.99,1561.46 213.99,1558.95 215,1555.02 216,1550.66 217.17,1544.88 218.35,1538.58 219.53,1529.69 220.7,1513.71 221.88,1492.45 223.06,1473.15 224.24,1459.2 225.41,1446.18 226.59,1437.1 228,1429.14 229.42,1425.57 230.47,1428.67 231.53,1436.49 232.59,1445.83 233.65,1455.88 234.83,1470.68 236.01,1490.03 237.18,1506.58 238.36,1513.52 239.54,1513.35 240.72,1513.38 241.89,1513.83 243.07,1514.39 244.13,1513.09 245.19,1508.74 246.25,1505.27 247.31,1503.08 248.31,1505.97 249.31,1512.58 250.31,1520.35 251.31,1526.87 252.49,1535.1 253.67,1543.16 254.84,1546.87 256.02,1545.6 257.2,1542.23 258.37,1537.54 259.55,1534.01 260.73,1532.57 261.91,1531.01 263.08,1529.82 264.26,1521.19 265.44,1506.91 266.61,1494.04 267.65,1485.37 268.69,1476.98 269.72,1469.15 270.76,1464.48 271.79,1461.77 272.85,1463.41 273.91,1469.22 274.97,1475.9 276.03,1480.22 277.21,1482.41 278.39,1483.9 279.56,1486.88 280.74,1493.4 281.92,1502.8 283.09,1508.87 284.27,1510.91 285.45,1512.95 286.63,1514.51 287.8,1515.17 288.98,1513.51 290.16,1509.43 291.33,1507.37 292.51,1511.9 293.69,1521 294.87,1528.73 296.04,1534.62 297.22,1539.97 298.4,1543.64 299.57,1545 300.75,1542.53 301.93,1538.17 303.11,1532.06 304.28,1525.2 305.46,1516.43 306.64,1505.55 307.81,1493.83 308.99,1484.78 310.05,1477 311.11,1469.19 312.17,1462.31 313.23,1459.71 314.27,1462.91 315.3,1469.43 316.34,1478.23 317.37,1486.55 318.41,1491.78 319.59,1494.87 320.76,1498.34 321.94,1501.58 323.12,1503.92 324.29,1505.97 325.47,1508.23 326.65,1509.33 327.83,1510.48 329,1510.99 330.18,1510.29 331.36,1510.1 332.54,1509.25 333.71,1512.34 334.89,1520.25 336.07,1527.06 337.24,1533.2 338.42,1538.78 339.6,1543.96 340.78,1547.68 341.95,1549.41 342.96,1549.23 343.97,1548.68 344.98,1548.12 345.99,1546.44 347,1544.95 348.01,1542.77 349.02,1541.31 350.19,1537.92 351.37,1531.39 352.55,1523.21 353.72,1514.25 354.9,1506 356.08,1497.1 357.26,1488.75 358.43,1479.09 359.61,1469.69 360.79,1459.34 361.96,1445.65 363.14,1430.16 364.32,1417.96 365.5,1413.49 366.67,1416.92 367.85,1424.39 369.03,1435.21 370.2,1458.24 371.38,1489.75 372.56,1508.62 373.74,1512.95 374.91,1515.11 376.09,1515.39 377.27,1510.72 378.44,1507.35 379.62,1509.55 380.8,1513.95 381.98,1515.4 382.98,1514.78 383.99,1513.86 385,1512.79 386.01,1511.26 387.02,1509.71 388.03,1508.51 389.04,1507.98 390.22,1513.36 391.39,1524.09 392.57,1532.39 393.75,1536.66 394.92,1539.48 396.1,1540.87 397.11,1540.94 398.12,1540.26 399.13,1538.58 400.14,1535.93 401.15,1533.03 402.16,1530.39 403.16,1527.02 404.34,1519.97 405.52,1507.9 406.7,1493.98 407.87,1481.79 409.05,1470.93 410.23,1460.2 411.4,1450.79 412.58,1447.38 413.76,1452.32 414.94,1463.02 416.11,1474.84 417.29,1488.96 418.47,1504.07 419.65,1510.94 420.82,1509 422,1505.67 423.18,1503.15 424.35,1504.59 425.53,1508.39 426.71,1511.43 427.89,1513.4 429.06,1512.97 430.24,1510.98 431.42,1509.8 432.59,1508.95 433.77,1514.58 434.95,1524.37 436.13,1532.27 437.3,1535.99 438.48,1538.75 439.66,1540.33 440.83,1541.17 442.01,1539.7 443.19,1536.98 444.37,1534.94 445.54,1533.5 446.72,1535.68 447.9,1539.74 449.07,1541.84 450.25,1540.21 451.43,1534 452.61,1525.48 453.78,1514.39 454.96,1503.62 456.02,1491.41 457.08,1476.82 458.14,1461.37 459.2,1447.5 460.3,1431.93 461.4,1416.47 462.49,1409.68 463.55,1412.68 464.61,1421.7 465.67,1434.14 466.73,1447.89 467.91,1470.4 469.09,1498.96 470.26,1512.32 471.44,1511.77 472.62,1509.6 473.79,1507.44 474.97,1506.2 476.15,1507.69 477.33,1510.49 478.5,1513.51 479.68,1515.73 480.86,1516.14 482.03,1515.23 483.21,1515.24 484.39,1514.98 485.57,1518.28 486.74,1525.33 487.92,1532.61 488.96,1537 489.99,1541.49 491.03,1545.3 492.06,1549.5 493.1,1550.81 494.18,1550.12 495.27,1547.26 496.35,1543 497.43,1537.04 498.52,1531.54 499.69,1521.51 500.87,1507.84 502.05,1493.72 503.22,1482.89 504.31,1475.11 505.39,1467.37 506.47,1460.85 507.56,1456.6 508.64,1455.35 509.64,1459.76 510.64,1468.99 511.64,1480.39 512.64,1489.24 513.82,1498.16 515,1507.11 516.17,1511.17 517.19,1510.21 518.2,1508.46 519.21,1505.83 520.23,1504.32 521.24,1503.4 522.42,1506.31 523.59,1510.14 524.77,1513.03 525.95,1513.68 527.13,1513.76 528.3,1515.34 529.48,1519.27 530.66,1525.19 531.83,1529.17 533.01,1532.4 534.19,1535.15 535.37,1537.97 536.54,1539.56 537.72,1540.31 538.9,1540.29 540.07,1540.59 541.25,1541.44 542.43,1539.12 543.61,1534.26 544.78,1527.67 545.96,1520.02 547.14,1511.82 548.31,1502.97 549.49,1494.39 550.67,1485.2 551.75,1475.36 552.84,1463.48 553.92,1452.3 555,1444.73 556.08,1442.15 557.08,1445.9 558.09,1454.76 559.09,1465.27 560.09,1475.25 561.26,1487.85 562.44,1500.78 563.62,1505.98 564.8,1504.99 565.97,1503.3 567.15,1501.46 568.33,1501.08 569.5,1504.16 570.68,1509.24 571.86,1512.03 573.04,1511.98 574.21,1512.22 575.39,1512.57 576.57,1512.94 577.74,1512.07 578.92,1510.42 580.1,1514.4 581.28,1523.06 582.45,1531.94 583.63,1539.66 584.81,1545.54 585.98,1548.1 587.16,1546.95 588.34,1544.61 589.52,1541.31 590.69,1537.16 591.87,1528.97 593.05,1517.52 594.22,1504.3 595.4,1493.58 596.58,1485.25 597.76,1476.56 598.93,1468.41 600.11,1462.61 601.29,1460.02 602.46,1462.89 603.64,1470.37 604.82,1479.17 606,1485 607.17,1488.05 608.35,1490.65 609.53,1493.78 610.7,1496.86 611.88,1499.44 613.06,1501.76 614.24,1503.59 615.41,1505.55 616.59,1508.76 617.77,1510.99 618.94,1512.24 620.12,1510.47 621.3,1506.99 622.48,1504.57 623.65,1503.69 624.83,1505.54 626.01,1509 627.18,1513.34 628.36,1517.79 629.54,1522.62 630.72,1528.79 631.89,1532.17 633.07,1530.95 634.25,1528.01 635.42,1525.66 636.43,1526.13 637.44,1527.87 638.45,1529.46 639.46,1531.6 640.47,1534.31 641.48,1534.81 642.49,1535.34 643.67,1531.49 644.84,1524.43 646.02,1514.62 647.2,1506.11 648.37,1498.14 649.55,1489.05 650.73,1480.55 651.91,1472.65 653.08,1465.34 654.26,1458.34 655.44,1452.29 656.61,1449.56 657.79,1453.15 658.97,1461.39 660.15,1470.38 661.32,1480.94 662.5,1492.21 663.68,1498.79 664.85,1501.68 666.03,1503.48 667.21,1506.07 668.39,1508.33 669.56,1511.24 670.74,1513.16 671.92,1514.47 673.09,1514.96 674.27,1514.78 675.45,1512.44 676.63,1509.36 677.8,1506.81 678.98,1505.58 680.16,1510.07 681.33,1519.67 682.51,1527.53 683.69,1533.53 684.87,1539.47 686.04,1543.55 687.22,1545.95 688.4,1545.75 689.57,1543.98 690.75,1542.26 691.93,1541.31 693.11,1543.09 694.28,1546.42 695.46,1548.04 696.64,1538.58 697.81,1517.63 698.99,1498.89 700.17,1485.86 701.35,1478.34 702.52,1481.35 703.7,1485.33 704.88,1487.2 706.05,1483.99 707.23,1477.35 708.41,1470.63 709.47,1462.9 710.53,1455 711.59,1447.21 712.65,1443.14 713.68,1446.56 714.72,1454.43 715.75,1464.81 716.79,1474.77 717.83,1482.22 719,1488.31 720.18,1493.08 721.36,1498.7 722.54,1504.04 723.71,1508.68 724.89,1512.28 726.07,1517.62 727.24,1525.63 728.42,1534.93 729.6,1542.61 730.78,1545.7 731.95,1544.86 733.13,1542.7 734.31,1540.33 735.48,1539.48 736.66,1538.21 737.84,1537.38 739.02,1536.16 740.19,1531.16 741.37,1521.1 742.55,1509.01 743.72,1499 744.9,1491.66 746.08,1486.66 747.26,1484.4 748.43,1482.99 749.61,1482.22 750.79,1480.25 751.96,1478.48 753.14,1475.94 754.32,1473.46 755.5,1470.25 756.67,1464.63 757.85,1460.23 759.03,1463.44 760.2,1470.08 761.38,1477.86 762.56,1486.09 763.74,1497.23 764.91,1506.72 766.09,1510.96 767.27,1508.71 768.44,1505.36 769.62,1503.02 770.8,1504.19 771.98,1506.48 773.15,1510.07 774.33,1513.04 775.51,1516.14 776.68,1519.55 777.86,1522.89 779.04,1526.88 780.05,1531.31 781.06,1534.74 782.07,1538.56 783.07,1542.91 784.08,1546.28 785.09,1548.31 786.1,1550.21 787.13,1548.55 788.16,1545.19 789.19,1539.78 790.22,1534.6 791.25,1528.32 792.28,1521.83 793.31,1514.59 794.34,1508.32 795.37,1501.69 796.4,1495.67 797.43,1489.13 798.46,1482.1 799.49,1474.88 800.52,1468.23 801.55,1462.77 802.58,1458.76 803.6,1455.46 804.62,1452.4 805.64,1450.82 806.64,1452.46 807.64,1456.98 808.64,1462.22 809.65,1468.2 810.82,1474.84 812,1481.75 813.18,1490.07 814.35,1501.41 815.53,1513.96 816.71,1519.9 817.89,1519.93 819.06,1520.08 820.24,1519.05 821.42,1517.38 822.59,1514.38 823.77,1509.71 824.95,1507.22 826.13,1513.22 827.3,1523.21 828.48,1531.76 829.66,1535.91 830.83,1539.7 832.01,1543.28 833.19,1544.43 834.37,1542.68 835.54,1539.86 836.72,1535.52 837.9,1531.48 839.07,1525.3 840.25,1516.65 841.43,1505.97 842.61,1495.92 843.78,1489.27 844.78,1485.6 845.78,1481.67 846.78,1478.69 847.79,1477.31 848.84,1478.84 849.9,1482.71 850.96,1487.74 852.02,1491.32 853.2,1492.26 854.38,1493.03 855.55,1493.37 856.73,1494.37 857.91,1495.96 859.09,1501.37 860.26,1510.28 861.44,1518.51 862.62,1524.27 863.79,1531.34 864.97,1536.45 866.15,1539.13 867.33,1539.38 868.5,1539.06 869.68,1538.78 870.86,1538.54 872.03,1539.86 873.21,1542.48 874.39,1543.68 875.57,1541.43 876.74,1534.83 877.92,1525.74 879.1,1515.42 880.27,1506.24 881.45,1493.64 882.63,1479.89 883.81,1470.9 884.98,1466.61 886.16,1464.32 887.34,1463.83 888.52,1464.84 889.69,1467.37 890.87,1471.14 892.05,1475.01 893.22,1481.27 894.4,1490.33 895.58,1498.39 896.76,1501.73 897.93,1501.44 899.11,1501.15 900.29,1501.22 901.46,1505.99 902.64,1516.64 903.82,1528.01 905,1536.16 906.07,1541.13 907.14,1545.65 908.21,1547.27 909.26,1546.32 910.3,1542.79 911.34,1537.14 912.39,1530.7 913.43,1524.73 914.47,1518.49 915.52,1509.93 916.56,1501.27 917.6,1492.47 918.64,1485.95 919.69,1480.28 920.73,1475.24 921.77,1471.05 922.82,1467.85 923.86,1466.92 924.9,1468.18 925.95,1472.69 926.99,1478.7 928.03,1485.51 929.07,1491.63 930.38,1500.09 931.68,1504.73 932.99,1501.96 934.29,1499.63 935.59,1506.45 936.9,1519.94 938.2,1530.4 939.5,1537.2 940.81,1541.49 942.11,1543.46 943.15,1542.11 944.2,1540.82 945.24,1538.56 946.28,1534.88 947.33,1530.43 948.63,1519.88 949.93,1505.39 951.24,1494.1 952.38,1486.92 953.53,1480.12 954.68,1474.12 955.83,1469.89 956.97,1468.32 958.15,1470.37 959.32,1474.45 960.49,1478.97 961.67,1483.05 962.97,1487.49 964.27,1491.27 965.58,1495.41 966.88,1499.48 968.19,1508.29 969.49,1520.62 970.79,1530.4 972.1,1535.32 973.4,1538.45 974.7,1540.84 976.01,1542.46 977.31,1543.49 978.62,1546.16 979.92,1555.04 981.22,1562.13 982.53,1552.76 983.83,1540.5 985.13,1535.95 986.44,1534.35 987.74,1538.05 989.05,1540.79 990.35,1528.24 991.65,1501.91 992.96,1478.06 994.26,1458.94 995.56,1448.67 996.87,1453.16 998.17,1461.02 999.47,1465.26 1000.78,1462.02 1002.08,1457.29 1003.39,1454.7 1004.69,1455.87 1005.99,1457.7 1007.3,1459.72 1008.6,1465.41 1009.9,1474.28 1011.21,1483.35 1012.51,1491.03 1013.82,1497.94 1015.12,1503.51 1016.16,1506.24 1017.21,1508.91 1018.25,1511.65 1019.29,1513.83 1020.33,1514.87 1021.64,1514.85 1022.94,1514.56 1024.25,1514.55 1025.55,1511.15 1026.85,1506.39 1028.16,1503.28 1029.46,1504.21 1030.76,1507.04 1032.07,1512.15 1033.37,1522.37 1034.68,1536.37 1035.98,1543.37 1037.02,1542.55 1038.06,1541.9 1039.11,1540.78 1040.15,1539.76 1041.19,1538.53 1042.5,1537.56 1043.8,1536.53 1045.1,1535.22 1046.41,1527.83 1047.71,1512.66 1049.02,1499.68 1050.06,1491.31 1051.1,1483.66 1052.14,1476.59 1053.19,1472.03 1054.23,1470.38 1055.27,1472.8 1056.32,1476.45 1057.36,1481.33 1058.4,1485.96 1059.45,1488.07 1060.75,1489.81 1062.05,1490.55 1063.36,1491.54 1064.66,1497.03 1065.96,1504.97 1067.27,1508.92 1068.31,1509.51 1069.35,1509.14 1070.4,1508.14 1071.44,1506.81 1072.48,1506.55 1073.79,1511.95 1075.09,1522.81 1076.39,1543.74 1077.7,1559.07 1079,1554.66 1080.3,1546.4 1081.61,1540.67 1082.91,1539.39 1084.22,1537.89 1085.52,1535.67 1086.82,1528.05 1088.13,1515.78 1089.43,1504.27 1090.47,1495.96 1091.52,1487.86 1092.56,1479.92 1093.6,1474.1 1094.65,1471.72 1095.95,1472.34 1097.25,1474.14 1098.56,1475.28 1099.86,1474.43 1101.16,1472 1102.47,1470.27 1103.77,1473.1 1105.08,1479.1 1106.38,1485.54 1107.68,1491.16 1108.99,1496.02 1110.29,1499.71 1111.59,1500.01 1112.9,1500.58 1114.2,1501.31 1115.51,1504.82 1116.81,1510.93 1118.11,1517.72 1119.16,1523.81 1120.2,1530.85 1121.24,1537.81 1122.28,1543.69 1123.33,1546.05 1124.63,1546.47 1125.93,1546.23 1127.24,1545.48 1128.54,1544.63 1129.85,1543.07 1131.15,1540.74 1132.45,1533.45 1133.76,1520.97 1135.06,1509.71 1136.1,1503.16 1137.15,1498.92 1138.19,1494.57 1139.23,1490.08 1140.28,1483.86 1141.58,1467.61 1142.88,1448.56 1144.19,1438.94 1145.49,1440.81 1146.79,1446.39 1148.1,1452.37 1149.4,1467.06 1150.71,1487.29 1152.01,1498.57 1153.31,1499.83 1154.62,1501.21 1155.92,1502.38 1157.22,1503.13 1158.53,1504.49 1159.83,1506.35 1161.14,1512.11 1162.44,1521.08 1163.74,1530.96 1165.05,1546.49 1166.35,1556.76 1167.65,1550.81 1168.96,1541.33 1170.26,1535.5 1171.56,1534.71 1172.87,1533.8 1174.17,1532.74 1175.48,1536.37 1176.78,1540.35 1178.08,1529 1179.39,1510.23 1180.43,1496.25 1181.47,1480.67 1182.52,1466.21 1183.56,1456.29 1184.6,1452.02 1185.64,1452.42 1186.69,1452.41 1187.73,1452.07 1188.77,1451.98 1189.82,1452.19 1190.86,1456.09 1191.9,1463.68 1192.95,1473.23 1193.99,1482.65 1195.03,1487.99 1196.07,1491.74 1197.12,1493.87 1198.16,1495.94 1199.2,1497.4 1200.25,1498.53 1201.29,1500.82 1202.33,1504.15 1203.38,1507 1204.42,1509.43 1205.46,1509.61 1206.77,1507.66 1208.07,1505.18 1209.37,1504.31 1210.68,1506.3 1211.98,1509.7 1213.28,1514.82 1214.59,1532.94 1215.89,1548.29 1217.19,1544.87 1218.5,1537.23 1219.8,1533.35 1220.85,1532.8 1221.89,1533.33 1222.93,1534.17 1223.97,1534.99 1225.02,1536.15 1226.32,1536.77 1227.62,1537.73 1228.93,1538.05 1230.23,1533.08 1231.54,1521.84 1232.84,1509.39 1233.88,1498.02 1234.93,1483.19 1235.97,1467.78 1237.01,1456.35 1238.05,1451.76 1239.14,1453.42 1240.23,1456.73 1241.31,1461.07 1242.4,1465.87 1243.49,1471.62 1244.57,1478.39 1245.88,1489.16 1247.18,1502.05 1248.48,1509.41 1249.53,1510.62 1250.57,1512.57 1251.61,1513.92 1252.66,1514.94 1253.7,1515.01 1254.79,1514.33 1255.87,1513.41 1256.96,1512.69 1258.04,1511.87 1259.13,1510.88 1260.22,1509.96 1261.52,1507.53 1262.82,1506.4 1264.13,1514.47 1265.43,1528.33 1266.74,1535.72 1267.82,1535.87 1268.91,1535.53 1270,1535.22 1271.08,1535.55 1272.17,1535.55 1273.25,1536.12 1274.3,1535.95 1275.34,1536.13 1276.38,1536 1277.43,1536.15 1278.47,1536.95 1279.51,1534.64 1280.56,1528.88 1281.6,1520.17 1282.64,1510.34 1283.68,1501.32 1284.73,1490.94 1285.77,1478.34 1286.81,1465.79 1287.86,1456.61 1288.9,1452 1289.99,1453.6 1291.07,1456.98 1292.16,1463.16 1293.24,1470.74 1294.33,1478.62 1295.42,1486.54 1296.72,1499.88 1298.03,1514.77 1299.33,1521.74 1300.63,1518.04 1301.94,1511.41 1303.24,1507.06 1304.33,1507.88 1305.41,1508.91 1306.5,1510.77 1307.59,1512.58 1308.67,1514.13 1309.76,1514.92 1311.06,1513.15 1312.37,1508.8 1313.67,1506.66 1314.97,1509.3 1316.28,1515.12 1317.58,1519.96 1318.62,1524.9 1319.67,1530.53 1320.71,1537.15 1321.75,1541.95 1322.8,1543.57 1323.84,1542.94 1324.88,1540.92 1325.92,1539.74 1326.97,1537.98 1328.01,1535.73 1329.05,1533.69 1330.1,1530.92 1331.14,1528.53 1332.18,1526.38 1333.23,1523 1334.27,1517.97 1335.31,1511.43 1336.35,1502.86 1337.4,1494.28 1338.44,1485.72 1339.48,1476.85 1340.53,1466.77 1341.57,1455.76 1342.61,1444.1 1343.65,1433.35" fill="none" stroke="#4040ff" stroke-width="1.5" stroke-linejoin="round"/>
</g>
<line x1="125.2" y1="1379.9" x2="1343.8" y2="1379.9" stroke="#8a8a8a" stroke-width="1.7"/>
<line x1="125.2" y1="1631.2" x2="1343.8" y2="1631.2" stroke="#8a8a8a" stroke-width="1.7"/>
<line x1="125.2" y1="1379.05" x2="125.2" y2="1632.05" stroke="#8a8a8a" stroke-width="1.7"/>
<line x1="1343.8" y1="1379.05" x2="1343.8" y2="1632.05" stroke="#ef9a78" stroke-width="1.7"/>
<line x1="138.2" y1="1631.2" x2="138.2" y2="1619.7" stroke="#8a8a8a" stroke-width="1.7"/>
<line x1="138.2" y1="1379.9" x2="138.2" y2="1391.4" stroke="#8a8a8a" stroke-width="1.7"/>
<line x1="258.74" y1="1631.2" x2="258.74" y2="1619.7" stroke="#8a8a8a" stroke-width="1.7"/>
<line x1="258.74" y1="1379.9" x2="258.74" y2="1391.4" stroke="#8a8a8a" stroke-width="1.7"/>
<line x1="379.28" y1="1631.2" x2="379.28" y2="1619.7" stroke="#8a8a8a" stroke-width="1.7"/>
<line x1="379.28" y1="1379.9" x2="379.28" y2="1391.4" stroke="#8a8a8a" stroke-width="1.7"/>
<line x1="499.82" y1="1631.2" x2="499.82" y2="1619.7" stroke="#8a8a8a" stroke-width="1.7"/>
<line x1="499.82" y1="1379.9" x2="499.82" y2="1391.4" stroke="#8a8a8a" stroke-width="1.7"/>
<line x1="620.36" y1="1631.2" x2="620.36" y2="1619.7" stroke="#8a8a8a" stroke-width="1.7"/>
<line x1="620.36" y1="1379.9" x2="620.36" y2="1391.4" stroke="#8a8a8a" stroke-width="1.7"/>
<line x1="740.9" y1="1631.2" x2="740.9" y2="1619.7" stroke="#8a8a8a" stroke-width="1.7"/>
<line x1="740.9" y1="1379.9" x2="740.9" y2="1391.4" stroke="#8a8a8a" stroke-width="1.7"/>
<line x1="861.44" y1="1631.2" x2="861.44" y2="1619.7" stroke="#8a8a8a" stroke-width="1.7"/>
<line x1="861.44" y1="1379.9" x2="861.44" y2="1391.4" stroke="#8a8a8a" stroke-width="1.7"/>
<line x1="981.98" y1="1631.2" x2="981.98" y2="1619.7" stroke="#8a8a8a" stroke-width="1.7"/>
<line x1="981.98" y1="1379.9" x2="981.98" y2="1391.4" stroke="#8a8a8a" stroke-width="1.7"/>
<line x1="1102.52" y1="1631.2" x2="1102.52" y2="1619.7" stroke="#8a8a8a" stroke-width="1.7"/>
<line x1="1102.52" y1="1379.9" x2="1102.52" y2="1391.4" stroke="#8a8a8a" stroke-width="1.7"/>
<line x1="1223.06" y1="1631.2" x2="1223.06" y2="1619.7" stroke="#8a8a8a" stroke-width="1.7"/>
<line x1="1223.06" y1="1379.9" x2="1223.06" y2="1391.4" stroke="#8a8a8a" stroke-width="1.7"/>
<line x1="1343.6" y1="1631.2" x2="1343.6" y2="1619.7" stroke="#8a8a8a" stroke-width="1.7"/>
<line x1="1343.6" y1="1379.9" x2="1343.6" y2="1391.4" stroke="#8a8a8a" stroke-width="1.7"/>
<line x1="125.2" y1="1379.9" x2="136.7" y2="1379.9" stroke="#8a8a8a" stroke-width="1.7"/>
<line x1="125.2" y1="1505.55" x2="136.7" y2="1505.55" stroke="#8a8a8a" stroke-width="1.7"/>
<line x1="125.2" y1="1631.2" x2="136.7" y2="1631.2" stroke="#8a8a8a" stroke-width="1.7"/>
<line x1="1343.8" y1="1598.5" x2="1332.3" y2="1598.5" stroke="#ef9a78" stroke-width="1.7"/>
<line x1="1343.8" y1="1549.62" x2="1332.3" y2="1549.62" stroke="#ef9a78" stroke-width="1.7"/>
<line x1="1343.8" y1="1500.75" x2="1332.3" y2="1500.75" stroke="#ef9a78" stroke-width="1.7"/>
<line x1="1343.8" y1="1451.88" x2="1332.3" y2="1451.88" stroke="#ef9a78" stroke-width="1.7"/>
<line x1="1343.8" y1="1403" x2="1332.3" y2="1403" stroke="#ef9a78" stroke-width="1.7"/>
<text x="116.6" y="1670.47" font-family="'Liberation Sans', Arial, sans-serif" font-size="26.6" fill="#262626" textLength="42.92" lengthAdjust="spacingAndGlyphs">200</text>
<text x="237.14" y="1670.47" font-family="'Liberation Sans', Arial, sans-serif" font-size="26.6" fill="#262626" textLength="42.92" lengthAdjust="spacingAndGlyphs">210</text>
<text x="357.68" y="1670.47" font-family="'Liberation Sans', Arial, sans-serif" font-size="26.6" fill="#262626" textLength="42.92" lengthAdjust="spacingAndGlyphs">220</text>
<text x="478.22" y="1670.47" font-family="'Liberation Sans', Arial, sans-serif" font-size="26.6" fill="#262626" textLength="42.92" lengthAdjust="spacingAndGlyphs">230</text>
<text x="598.76" y="1670.47" font-family="'Liberation Sans', Arial, sans-serif" font-size="26.6" fill="#262626" textLength="42.92" lengthAdjust="spacingAndGlyphs">240</text>
<text x="719.3" y="1670.47" font-family="'Liberation Sans', Arial, sans-serif" font-size="26.6" fill="#262626" textLength="42.92" lengthAdjust="spacingAndGlyphs">250</text>
<text x="839.84" y="1670.47" font-family="'Liberation Sans', Arial, sans-serif" font-size="26.6" fill="#262626" textLength="42.92" lengthAdjust="spacingAndGlyphs">260</text>
<text x="960.38" y="1670.47" font-family="'Liberation Sans', Arial, sans-serif" font-size="26.6" fill="#262626" textLength="42.92" lengthAdjust="spacingAndGlyphs">270</text>
<text x="1080.92" y="1670.47" font-family="'Liberation Sans', Arial, sans-serif" font-size="26.6" fill="#262626" textLength="42.92" lengthAdjust="spacingAndGlyphs">280</text>
<text x="1201.46" y="1670.47" font-family="'Liberation Sans', Arial, sans-serif" font-size="26.6" fill="#262626" textLength="42.92" lengthAdjust="spacingAndGlyphs">290</text>
<text x="1322.15" y="1670.47" font-family="'Liberation Sans', Arial, sans-serif" font-size="26.6" fill="#262626" textLength="42.92" lengthAdjust="spacingAndGlyphs">300</text>
<text x="57.88" y="1390.58" font-family="'Liberation Sans', Arial, sans-serif" font-size="26.6" fill="#262626" textLength="57.22" lengthAdjust="spacingAndGlyphs">5000</text>
<text x="100.8" y="1516.23" font-family="'Liberation Sans', Arial, sans-serif" font-size="26.6" fill="#262626" textLength="14.31" lengthAdjust="spacingAndGlyphs">0</text>
<text x="49.32" y="1641.88" font-family="'Liberation Sans', Arial, sans-serif" font-size="26.6" fill="#262626" textLength="65.79" lengthAdjust="spacingAndGlyphs">-5000</text>
<text x="1352.57" y="1609.08" font-family="'Liberation Sans', Arial, sans-serif" font-size="26.6" fill="#D95319" textLength="42.92" lengthAdjust="spacingAndGlyphs">540</text>
<text x="1352.57" y="1560.21" font-family="'Liberation Sans', Arial, sans-serif" font-size="26.6" fill="#D95319" textLength="42.92" lengthAdjust="spacingAndGlyphs">560</text>
<text x="1352.57" y="1511.33" font-family="'Liberation Sans', Arial, sans-serif" font-size="26.6" fill="#D95319" textLength="42.92" lengthAdjust="spacingAndGlyphs">580</text>
<text x="1352.29" y="1462.46" font-family="'Liberation Sans', Arial, sans-serif" font-size="26.6" fill="#D95319" textLength="42.92" lengthAdjust="spacingAndGlyphs">600</text>
<text x="1352.29" y="1413.58" font-family="'Liberation Sans', Arial, sans-serif" font-size="26.6" fill="#D95319" textLength="42.92" lengthAdjust="spacingAndGlyphs">620</text>
<text x="682.45" y="1709.7" font-family="'Liberation Sans', Arial, sans-serif" font-size="30.96" fill="#262626" textLength="106.25" lengthAdjust="spacingAndGlyphs">Time (s)</text>
<text transform="translate(37.3 1655.73) rotate(-90)" x="0" y="0" font-family="'Liberation Sans', Arial, sans-serif" font-size="28.2" fill="#262626" textLength="299.94" lengthAdjust="spacingAndGlyphs">Breath Amplitude (au)</text>
<text transform="translate(1430.5 1651.83) rotate(-90)" x="0" y="0" font-family="'Liberation Sans', Arial, sans-serif" font-size="29.8" fill="#D95319" textLength="291.75" lengthAdjust="spacingAndGlyphs">Peak Frequency (Hz)</text>
<text x="1049.86" y="1316.2" font-family="Carlito, Calibri, 'Liberation Sans', sans-serif" font-size="60.56" fill="#000" textLength="273.83" lengthAdjust="spacingAndGlyphs">Participant</text>
<text x="1333.32" y="1316.2" font-family="Carlito, Calibri, 'Liberation Sans', sans-serif" font-size="60.56" fill="#000" textLength="29.14" lengthAdjust="spacingAndGlyphs">4</text>
<rect x="1121" y="1393.8" width="210" height="68.2" fill="#fff" stroke="none"/>
<line x1="1121" y1="1393.8" x2="1331" y2="1393.8" stroke="#8c8c8c" stroke-width="1.6"/>
<line x1="1121" y1="1462" x2="1331" y2="1462" stroke="#8c8c8c" stroke-width="1.6"/>
<line x1="1121" y1="1393.8" x2="1121" y2="1462" stroke="#8c8c8c" stroke-width="1.6"/>
<line x1="1331" y1="1393.8" x2="1331" y2="1462" stroke="#8c8c8c" stroke-width="1.6"/>
<line x1="1126.6" y1="1411.5" x2="1166.3" y2="1411.5" stroke="#5050ff" stroke-width="1.6"/>
<line x1="1126.6" y1="1443.5" x2="1166.3" y2="1443.5" stroke="#ff5a5a" stroke-width="1.6"/>
<text x="1192.01" y="1422" font-family="Carlito, Calibri, 'Liberation Sans', sans-serif" font-size="17.86" fill="#1a1a1a" textLength="93.35" lengthAdjust="spacingAndGlyphs" stroke="#1a1a1a" stroke-width="0.35">Breath Cycle</text>
<text x="1191" y="1445" font-family="Carlito, Calibri, 'Liberation Sans', sans-serif" font-size="18.1" fill="#1a1a1a" stroke="#1a1a1a" stroke-width="0.3" font-style="italic">f<tspan font-size="13.03" dy="3">peak</tspan><tspan dy="-3">(t)</tspan></text>
<path d="M1195.53 1449.5 L1197.03 1450.3 L1198.53 1449.3 L1200.03 1450.3 L1201.53 1449.3 L1203.03 1450.3 L1204.53 1449.3 L1206.03 1450.3 L1207.53 1449.3 L1209.03 1450.3 L1210.53 1449.3 L1212.03 1450.3 L1213.53 1449.3 L1215.03 1450.3 L1216.53 1449.3 L1218.03 1450.3 L1219.53 1449.3 L1221.03 1450.3" fill="none" stroke="#e05050" stroke-width="0.8"/>
<clipPath id="cp5"><rect x="115.3" y="1774.6" width="1225.6" height="249.6"/></clipPath>
<g clip-path="url(#cp5)">
<polyline points="115.35,1923.08 117.12,1911.36 118.89,1899.61 120.65,1887.89 122.42,1876.04 124.18,1864.31 125.95,1852.13 127.71,1840.53 129.48,1829.04 131.05,1816.4 132.62,1804.05 134.19,1798.1 135.76,1798.87 137.33,1800.46 138.9,1802.98 140.47,1808.84 142.04,1818.45 143.61,1828.74 145.37,1839.54 147.14,1851.12 148.9,1862.53 150.67,1873.45 152.43,1884.65 154.2,1895.26 155.97,1906.02 157.73,1915.82 159.5,1926.7 161.26,1938.59 163.03,1947.45 164.8,1951.17 166.36,1950.45 167.93,1947.81 169.5,1944.14 171.27,1937.63 173.04,1926.71 174.8,1914.19 176.57,1901.72 178.33,1890.63 180.1,1878.85 181.86,1866.45 183.63,1852.56 185.2,1837.79 186.77,1821.54 188.34,1805.18 190.1,1783.1 191.87,1769.83 193.44,1769.92 195.01,1770.04 196.58,1769.8 198.34,1783.54 200.11,1805.25 201.68,1820.01 203.25,1834.47 204.82,1847.69 206.58,1861.54 208.35,1874.74 210.12,1887.4 211.88,1899.31 213.84,1914.64 215.81,1928.67 217.77,1937.26 219.73,1940.33 221.69,1942.08 223.65,1943.16 225.22,1941.04 226.79,1936.29 228.36,1929.9 229.93,1920.48 231.5,1907.47 233.07,1894.96 234.84,1882.71 236.6,1871.72 238.37,1859.8 240.13,1845.52 242.1,1818.49 244.06,1787.28 246.02,1772.36 247.79,1775.47 249.55,1781.61 251.12,1791.12 252.69,1804.21 254.26,1817.23 256.03,1830.05 257.79,1843.55 259.56,1856.15 261.32,1868.82 263.09,1881.75 264.85,1894.83 266.62,1906.44 268.39,1916.14 270.15,1924.08 271.92,1931.59 273.68,1937.23 275.45,1939.38 277.02,1938.68 278.59,1937 280.16,1934.88 281.92,1929.79 283.69,1920.65 285.45,1909.97 287.22,1899.68 288.99,1888.92 290.75,1877.4 292.52,1865.12 294.28,1852.44 296.05,1839.03 297.81,1824.56 299.58,1809.42 301.35,1793.37 303.7,1770.17 305.66,1769.81 307.62,1770 309.59,1770.14 311.16,1778.95 312.73,1798.75 314.29,1817.27 316.26,1833.92 318.22,1849.56 320.18,1864.02 322.14,1878.6 324.1,1892.23 326.07,1904.33 328.03,1914.67 329.99,1924.05 331.95,1930.29 333.72,1933.39 335.48,1936.06 337.25,1937.65 339.02,1938.33 340.78,1938.02 342.55,1936.76 344.31,1934.83 346.08,1932.41 347.65,1925.63 349.22,1913.88 350.79,1902.04 352.55,1890.04 354.32,1877.68 356.08,1865.15 357.85,1852.34 359.81,1835.86 361.77,1819.15 363.74,1807.78 365.38,1802.04 367.03,1796.69 368.68,1792.71 370.33,1789.95 371.98,1788.91 373.55,1791.6 375.11,1798.01 376.68,1805.26 378.45,1814.56 380.22,1825.63 381.98,1838.53 383.75,1852.51 385.71,1871.55 387.67,1893.02 389.63,1911.44 391.6,1926.57 393.56,1939.78 395.52,1945.2 397.28,1944.08 399.05,1940.46 400.82,1935.72 402.58,1930.08 404.35,1922.75 406.11,1912.31 407.88,1900.33 409.65,1887.66 411.41,1874.67 413.18,1860.27 414.94,1844.93 416.71,1828.8 418.67,1805.79 420.63,1781.43 422.59,1770.08 424.11,1770.38 425.62,1770.95 427.13,1771.73 428.65,1773.08 430.16,1774.66 431.67,1777.05 433.19,1779.59 434.76,1787.68 436.33,1802.55 437.9,1817.17 439.66,1830.95 441.43,1844.33 443.19,1858.04 444.96,1871.27 446.73,1885.04 448.49,1898.91 450.26,1912.06 452.02,1923.14 453.79,1933.28 455.55,1943.23 457.32,1950.47 459.09,1953.5 460.85,1952.4 462.62,1949.28 464.38,1944.59 466.15,1939.59 467.91,1931.88 469.68,1920.6 471.45,1908.5 473.21,1897.02 475.17,1885.67 477.14,1874.66 479.1,1864.1 481.06,1851.81 483.02,1839.95 484.98,1834.56 486.55,1837.83 488.12,1844.81 489.69,1852.45 491.46,1860.44 493.22,1869.09 494.99,1878.57 496.76,1887.52 498.32,1897.03 499.89,1907.76 501.46,1918.73 503.03,1928.39 504.6,1936.02 506.17,1939.46 508.03,1940.76 509.88,1942.11 511.74,1942.62 513.59,1943.06 515.56,1939.11 517.52,1930.36 519.48,1920.86 521.25,1912.24 523.01,1902.47 524.78,1892.68 526.54,1883.06 528.31,1874.2 530.07,1865.68 531.84,1857.2 533.61,1847.72 535.18,1837.76 536.75,1826.81 538.31,1817.13 540.08,1807.1 541.85,1801.94 543.42,1805.76 544.99,1815.47 546.56,1826.53 548.52,1841.9 550.48,1859.67 552.44,1876 554.4,1889.98 556.36,1902.34 558.33,1911.23 560.13,1916.75 561.94,1921.17 563.74,1923.22 565.47,1920.62 567.19,1915.36 568.92,1909.07 570.69,1902.35 572.45,1894.47 574.22,1885.95 575.98,1875.94 577.95,1861.63 579.91,1844.99 581.87,1831.41 583.87,1819.63 585.87,1813.47 587.68,1815.85 589.48,1821.41 591.29,1828.91 593.25,1841.75 595.21,1859.65 597.17,1876.06 598.94,1888.2 600.7,1899.64 602.47,1909.67 604.24,1915.88 605.81,1919.59 607.38,1922.62 608.94,1925.02 610.51,1927.06 612.08,1928.32 613.65,1929.11 615.22,1926.74 616.79,1921.89 618.36,1915.96 620.13,1908.11 621.89,1897.95 623.66,1886.89 625.42,1875.79 627.19,1865.11 628.96,1853.44 630.72,1842.67 632.49,1833.5 634.25,1825.32 636.02,1820.63 637.79,1819.75 639.55,1819.39 641.12,1822.33 642.69,1828.71 644.26,1835.74 646.03,1844.55 647.79,1854.99 649.56,1865.99 651.32,1876.1 653.09,1885.29 654.85,1894.18 656.62,1903.2 658.39,1911.23 660.03,1919.52 661.68,1928.18 663.33,1934.93 664.98,1937.62 666.48,1936.8 667.99,1933.91 669.5,1930.05 671,1925.65 672.51,1920.56 674.28,1913.42 676.04,1904.15 677.81,1893.28 679.57,1883.14 681.34,1873.08 683.11,1862.74 684.87,1851.97 686.64,1840.74 688.21,1828.42 689.78,1814.91 691.35,1805.31 693.11,1798.18 694.88,1794.72 696.84,1794.79 698.8,1795.11 700.76,1795.93 702.33,1798.84 703.9,1804.61 705.47,1812.27 707.04,1823.71 708.61,1838.62 710.18,1852.47 711.95,1865.48 713.71,1878.51 715.48,1890.12 717.24,1899.69 719.01,1907.44 720.78,1914.1 722.54,1920.42 724.31,1925.27 725.95,1930.02 727.6,1934.57 729.25,1937.81 730.9,1938.89 732.41,1938.48 733.91,1937.42 735.42,1935.14 736.93,1932.88 738.43,1930.06 740.2,1925.02 741.96,1917.73 743.73,1908.58 745.5,1899.33 747.26,1889.44 749.03,1878 750.79,1866.15 752.56,1854.79 754.32,1841.82 756.09,1827.6 757.86,1815.5 759.62,1810 761.58,1808.7 763.55,1808 765.51,1807.67 767.47,1811.43 769.43,1819.5 771.39,1828.68 773.16,1837.84 774.92,1848.07 776.69,1859.04 778.46,1868.88 780.22,1877.85 781.99,1886.1 783.75,1894.16 785.52,1901.75 787.28,1909.57 789.05,1917.04 790.82,1924.25 792.58,1930.1 794.54,1936.21 796.51,1941.75 798.47,1944.17 800.43,1942.13 802.39,1936.58 804.35,1930.18 806.12,1922.11 807.89,1910.92 809.65,1899.1 811.42,1887.55 813.06,1877.56 814.71,1867.44 816.36,1857.28 818.01,1848.41 819.66,1840.62 821.3,1833.59 822.95,1826.82 824.6,1820.45 826.25,1816.45 827.9,1814.55 829.47,1816.91 831.04,1822.7 832.61,1828.93 834.37,1837.06 836.14,1847.41 837.9,1858.8 839.67,1868.95 841.24,1877.3 842.81,1885.17 844.38,1893.32 845.95,1900.99 847.52,1908.51 849.09,1915.9 850.73,1924.55 852.38,1933.81 854.03,1942.45 855.68,1948.68 857.33,1951.42 859.29,1948.23 861.25,1940.99 863.21,1932.42 864.98,1924.29 866.74,1914.14 868.51,1903.31 870.27,1892.45 872.04,1881.76 873.81,1870.53 875.57,1859.06 877.34,1847.51 879.3,1831.47 881.26,1815 883.22,1807.82 885.19,1808.57 887.15,1811.15 889.11,1814.53 890.68,1823.08 892.25,1837.24 893.82,1850.09 896.06,1863.43 898.3,1875.93 899.95,1885.57 901.61,1895.56 903.26,1904.92 904.92,1912.97 906.57,1920.06 908.23,1926.94 909.88,1932.08 911.54,1935.44 913.31,1937.08 915.07,1938.14 916.84,1939.42 918.6,1941.45 920.37,1943.76 922.13,1944.62 923.9,1943.35 925.67,1939.16 927.43,1934.39 929.02,1928.18 930.61,1919.61 932.2,1909.52 933.79,1899.26 935.38,1889.03 937.14,1878.38 938.91,1867.17 940.67,1857.47 942.44,1847.75 944.21,1838.64 945.97,1834.77 947.96,1836.73 949.94,1841.4 951.6,1849.16 953.26,1862.02 954.91,1876.63 956.57,1889.13 958.22,1900.23 959.88,1911.3 961.53,1921.1 963.19,1929.01 964.98,1935.94 966.76,1942.12 968.55,1946.85 970.34,1948.85 972.19,1947.15 974.05,1942.36 975.9,1935.88 977.75,1929.11 979.41,1920.33 981.07,1909.24 982.72,1898.23 984.38,1889.15 986.03,1881.81 987.69,1875.16 989.34,1870.21 991,1868.01 992.65,1869.74 994.31,1874.18 995.96,1880.18 997.62,1886.7 999.27,1893.6 1000.93,1902.35 1002.59,1910.7 1004.24,1918.22 1005.9,1924.61 1007.55,1930.95 1009.21,1935.97 1010.86,1939.41 1012.36,1941.39 1013.86,1942.82 1015.36,1943.3 1017.22,1939.61 1019.07,1930.86 1020.93,1918.89 1022.78,1907.73 1024.37,1898.34 1025.96,1888.11 1027.55,1877.3 1029.14,1866.96 1030.73,1857.25 1032.38,1846.74 1034.04,1835.64 1035.69,1826.62 1037.35,1823.11 1039.11,1824.93 1040.88,1829.86 1042.65,1836.23 1044.3,1844.02 1045.96,1854.62 1047.61,1865.86 1049.27,1875.99 1050.86,1884.32 1052.44,1892.4 1054.03,1899.74 1055.62,1906.77 1057.21,1913.15 1058.8,1919.11 1060.39,1925.44 1061.98,1931.18 1063.57,1935.15 1065.16,1936.97 1066.92,1936.62 1068.69,1935.46 1070.46,1934.06 1072.04,1931.89 1073.63,1928.32 1075.22,1923.58 1076.81,1918.45 1078.4,1913.05 1079.99,1906.82 1081.58,1899.52 1083.17,1891.9 1084.76,1883.57 1086.35,1875.82 1088,1867.27 1089.66,1858.17 1091.31,1849.84 1092.97,1844.13 1094.73,1839.7 1096.5,1836.41 1098.27,1834.91 1099.92,1836.25 1101.58,1839.36 1103.23,1844.05 1104.89,1849.49 1106.65,1860.37 1108.42,1876.2 1110.18,1889.25 1111.77,1897.34 1113.36,1904.31 1114.95,1910.55 1116.54,1915.93 1118.13,1921.09 1119.72,1925.3 1121.31,1929.08 1122.9,1932.59 1124.49,1936.01 1126.08,1939.41 1127.66,1943.42 1129.25,1947.48 1130.84,1951.28 1132.43,1954.4 1134.02,1955.42 1135.61,1954.08 1137.2,1950.97 1138.79,1946.34 1140.38,1940.64 1141.97,1934.36 1143.73,1921.89 1145.5,1904.2 1147.26,1889.08 1149.03,1877.35 1150.8,1867.04 1152.56,1862.63 1154.15,1863.48 1155.74,1866.29 1157.33,1870.08 1158.92,1874.32 1160.51,1878.43 1162.1,1883.7 1163.69,1889.93 1165.27,1897.14 1166.86,1904.03 1168.45,1910.55 1170.04,1916.34 1171.63,1921.9 1173.22,1927.53 1174.81,1932.79 1176.4,1936.85 1177.99,1940.76 1179.58,1944.67 1181.17,1948.21 1182.76,1950.69 1184.34,1951.44 1185.93,1950.99 1187.52,1949.12 1189.11,1946.32 1190.7,1943.34 1192.29,1939.48 1193.88,1933.12 1195.47,1923.68 1197.06,1911.57 1198.65,1899.79 1200.24,1889.18 1202,1878.34 1203.77,1867.57 1205.53,1859.94 1207.3,1854.91 1209.06,1850.93 1210.83,1849.48 1212.6,1852.57 1214.36,1859.42 1216.13,1865.25 1217.72,1868.76 1219.31,1871.65 1220.89,1874.73 1222.48,1877.71 1224.07,1881.38 1225.66,1885.94 1227.25,1891.39 1228.84,1897.41 1230.43,1904.1 1232.02,1910.37 1233.61,1917.02 1235.2,1924.53 1236.79,1931.99 1238.38,1939.15 1239.96,1944.97 1241.73,1950.56 1243.5,1955.96 1245.26,1957.98 1246.85,1956.57 1248.44,1952.59 1250.03,1946.83 1251.62,1940.53 1253.21,1934.16 1254.8,1927.89 1256.39,1921.32 1257.98,1913.93 1259.56,1905.71 1261.15,1897.09 1262.92,1884.48 1264.68,1870.22 1266.45,1859.98 1268.44,1852.83 1270.42,1849.45 1272.41,1853.2 1274.4,1860.01 1275.99,1866.26 1277.57,1873.44 1279.16,1881.42 1280.75,1889.44 1282.34,1897.2 1283.93,1905.06 1285.52,1913.56 1287.11,1921.54 1288.7,1928.81 1290.29,1934.28 1292.05,1939.11 1293.82,1943.04 1295.59,1944.64 1297.17,1943.12 1298.76,1939.22 1300.35,1933.68 1301.94,1927.37 1303.53,1921.06 1305.12,1914.07 1306.71,1906.23 1308.3,1897.32 1309.89,1888.99 1311.48,1881.07 1313.24,1872.39 1315.01,1863.88 1316.77,1860.23 1318.36,1861.12 1319.95,1863.5 1321.54,1867.16 1323.13,1871.43 1324.72,1875.99 1326.31,1882.29 1327.9,1891.48 1329.49,1901.71 1331.08,1910.93 1332.67,1918.51 1334.25,1923.48 1335.84,1927.77 1337.43,1931.51 1339.02,1935.45 1340.61,1939.38" fill="none" stroke="#ff6464" stroke-width="1.6" stroke-linejoin="round"/>
<polyline points="115.35,1987.97 116.53,1980.45 117.71,1973.17 118.89,1966.24 120.06,1958.51 121.24,1950.8 122.42,1942.39 123.59,1933.03 124.77,1923.24 125.95,1910.55 127.13,1896.05 128.3,1879.68 129.48,1863.92 130.66,1847.43 131.83,1830.46 133.01,1817.37 134.19,1808.07 135.37,1800.77 136.54,1798.15 137.55,1798.66 138.56,1800.95 139.57,1803.43 140.58,1806.43 141.59,1809.64 142.6,1813.17 143.61,1816.92 144.78,1822.81 145.96,1829.13 147.14,1835.19 148.31,1838.07 149.49,1838.68 150.67,1839.95 151.85,1841.13 153.02,1843.92 154.2,1851.07 155.38,1860.26 156.56,1871.17 157.73,1889.19 158.91,1913.78 160.09,1934.76 161.26,1950.95 162.44,1964.05 163.62,1974.62 164.62,1981.33 165.62,1987 166.62,1990.59 167.62,1992.18 168.7,1991.1 169.79,1989.23 170.87,1985.5 171.95,1981.8 173.04,1977.13 174.21,1971.95 175.39,1966.27 176.57,1959.82 177.74,1952.62 178.92,1944.81 180.1,1934.94 181.28,1923.53 182.45,1911.6 183.63,1899.65 184.81,1885.75 185.98,1870.85 187.16,1856.68 188.34,1845.22 189.35,1837.17 190.36,1829.9 191.37,1822.97 192.37,1816.9 193.38,1812.35 194.39,1808.94 195.4,1807.5 196.58,1808.17 197.76,1810.96 198.93,1814.5 200.11,1818.72 201.29,1821.65 202.46,1824.64 203.64,1827.99 204.82,1832.17 206,1836.29 207.17,1840.79 208.35,1846.09 209.53,1852.65 210.7,1860.6 211.88,1869.07 213.06,1878.13 214.24,1888.03 215.41,1899.01 216.59,1910.98 217.77,1922.85 218.94,1936.34 220.12,1950.32 221.3,1963.09 222.48,1975.95 223.65,1989.53 224.83,2000.76 226.01,2005 227.18,2003.34 228.36,1997.59 229.54,1989.95 230.72,1982.08 231.89,1968.45 233.07,1948.75 234.25,1927.86 235.42,1911.39 236.6,1898.6 237.78,1887.61 238.96,1877.77 240.13,1867.84 241.31,1859.02 242.49,1851.28 243.67,1843.95 244.84,1837.34 246.02,1831.3 247.2,1826.23 248.37,1822.4 249.55,1819.09 250.73,1817.27 251.91,1816.36 253.08,1816.53 254.26,1818.64 255.44,1820.82 256.61,1823.78 257.62,1826.86 258.63,1829.94 259.64,1833.57 260.65,1836.88 261.66,1841.45 262.67,1846.61 263.68,1852.61 264.85,1861.71 266.03,1873.34 267.21,1885.94 268.39,1899.15 269.56,1912.9 270.74,1927.55 271.92,1941.52 273.09,1954.23 274.27,1964.9 275.45,1975.42 276.63,1984.6 277.8,1992.05 278.98,1995.27 280.16,1992.85 281.33,1986.9 282.51,1981.39 283.69,1976.39 284.87,1970.39 286.04,1963.78 287.22,1956.94 288.4,1948.97 289.57,1940.18 290.75,1930.44 291.93,1920.61 293.11,1909.89 294.28,1899.52 295.46,1888.72 296.64,1876.13 297.81,1865.45 298.99,1856.06 300.17,1849.95 301.35,1847.85 302.52,1844.99 303.7,1837.55 304.88,1826.79 306.05,1817.09 307.23,1810.45 308.41,1803.43 309.59,1800.22 310.76,1802.16 311.94,1807.25 313.12,1814.62 314.29,1822.23 315.47,1828.9 316.65,1834.89 317.83,1841.8 319,1848.34 320.18,1855.27 321.36,1862.49 322.54,1867.97 323.71,1873.63 324.89,1879.44 326.07,1885.21 327.24,1891.84 328.42,1899.23 329.6,1904.68 330.78,1906.68 331.95,1905.98 333.13,1906.06 334.31,1906.63 335.48,1906.58 336.66,1914.54 337.84,1932.27 339.02,1948.97 340.19,1963.35 341.37,1977.56 342.55,1986.89 343.72,1991.3 344.9,1994.04 346.08,1995.42 347.26,1993.15 348.43,1989.46 349.61,1983.26 350.79,1977.44 351.96,1970.79 353.14,1963.72 354.32,1955.38 355.5,1946.81 356.5,1937.55 357.51,1926.65 358.52,1913.83 359.53,1900.99 360.54,1888.1 361.55,1875.74 362.56,1864.17 363.74,1851.2 364.91,1838.32 366.09,1826.69 367.27,1817.27 368.44,1808.54 369.62,1799.98 370.8,1793.63 371.98,1791.13 373.15,1792.12 374.33,1794.88 375.51,1798.87 376.68,1803.16 377.86,1807.04 379.04,1811.94 380.22,1817.71 381.39,1824.07 382.57,1830.89 383.75,1838.09 384.92,1846.28 386.1,1855.03 387.28,1863.9 388.46,1874.21 389.63,1885.88 390.81,1898.47 391.99,1911.26 393.16,1927.41 394.34,1946.48 395.52,1964.84 396.7,1976.88 397.78,1984.81 398.86,1991.78 399.95,1996.86 401.03,2000.3 402.11,2001.36 403.15,1999.68 404.18,1994.12 405.22,1986.43 406.25,1978.22 407.29,1970 408.3,1963.51 409.31,1956.6 410.32,1950.24 411.33,1943.52 412.34,1936.17 413.34,1928.66 414.35,1920.8 415.36,1911.57 416.37,1902.72 417.38,1892.35 418.39,1882.11 419.4,1871.84 420.41,1861.32 421.42,1851.78 422.45,1842.2 423.48,1831.14 424.51,1819.85 425.54,1808.56 426.57,1798.07 427.6,1789.86 428.63,1785.15 429.66,1783.13 430.69,1783.74 431.72,1785.19 432.75,1788.22 433.78,1791.3 434.81,1795.51 435.84,1800.16 436.87,1804.08 437.9,1807.4 438.91,1811.05 439.91,1814.46 440.92,1818.12 441.93,1822.33 442.94,1826.14 443.95,1830.78 444.96,1835.42 446.14,1843.46 447.31,1853.39 448.49,1864.59 449.67,1875.94 450.85,1887.79 452.02,1900.21 453.2,1913.2 454.38,1927.06 455.55,1940.07 456.64,1952.93 457.72,1966.91 458.8,1980.54 459.89,1990.69 460.97,1995 462.01,1993.84 463.04,1991.21 464.08,1986.57 465.11,1981.68 466.15,1976.87 467.33,1971.59 468.5,1965.48 469.68,1957.48 470.86,1948.73 472.03,1938.19 473.21,1924.78 474.39,1910.77 475.57,1896.66 476.74,1883.22 477.92,1869.82 479.1,1855.81 480.27,1843.39 481.45,1835.81 482.63,1831.33 483.81,1827.23 484.98,1823.92 486.16,1822.42 487.34,1824.93 488.52,1829.59 489.69,1832.4 490.87,1833.14 492.05,1833.78 493.22,1834.85 494.4,1835.99 495.58,1840.08 496.76,1848.03 497.93,1856.09 499.11,1864.27 500.29,1870.21 501.46,1875.92 502.64,1882.54 503.82,1890.22 504.88,1899.58 505.94,1911.67 507,1925.06 508.06,1939.33 509.12,1952.37 510.18,1963.59 511.24,1970.33 512.42,1975.34 513.59,1979.45 514.77,1982.51 515.95,1984.01 517.13,1982.85 518.3,1979.29 519.48,1973.88 520.66,1967.76 521.83,1962.89 523.01,1958.78 524.19,1953.83 525.37,1948.31 526.54,1941.39 527.72,1933.77 528.9,1923.31 530.07,1911.98 531.25,1899.85 532.43,1883.26 533.61,1862.69 534.78,1843.17 535.96,1828.6 537,1819.3 538.03,1810.66 539.07,1803.06 540.1,1798.08 541.14,1795.72 542.22,1797.37 543.31,1801.11 544.39,1805.98 545.47,1811.79 546.56,1817.21 547.73,1822.37 548.91,1827.28 550.09,1834.04 551.26,1841.34 552.44,1850.38 553.62,1866.05 554.8,1883.01 555.97,1894.25 557.15,1904.92 558.33,1914.81 559.5,1925.41 560.68,1938.89 561.86,1952.47 563.04,1962.85 564.21,1970.65 565.39,1977.07 566.57,1979.58 567.74,1978.87 568.92,1976.72 570.1,1973.36 571.28,1970.06 572.45,1965.43 573.63,1958.47 574.81,1947.66 575.98,1934.86 577.16,1919.61 578.34,1901.5 579.52,1882.51 580.69,1864.24 581.73,1848.03 582.76,1829.26 583.8,1812.68 584.84,1800.43 585.87,1796 586.96,1797.37 588.04,1800.85 589.12,1805.72 590.2,1811.18 591.29,1816.79 592.46,1823.43 593.64,1830.68 594.82,1838.15 596,1846.01 597.17,1854.65 598.35,1864.06 599.53,1874.51 600.7,1885.19 601.88,1894.79 603.06,1904.07 604.24,1912.95 605.41,1922.04 606.59,1930.32 607.77,1937.82 608.94,1945.04 610.12,1950.7 611.3,1955.5 612.36,1959.73 613.42,1963.06 614.48,1966.65 615.54,1969.01 616.6,1970.43 617.66,1971.29 618.72,1969.5 619.77,1965.8 620.83,1959.79 621.89,1953.73 623.07,1943.47 624.25,1929.02 625.42,1914.29 626.6,1901.77 627.78,1892.26 628.96,1882.8 630.13,1874.13 631.31,1866.76 632.49,1859.54 633.67,1852.32 634.84,1845.4 636.02,1839.11 637.2,1832.96 638.37,1828.48 639.46,1825.27 640.54,1822.68 641.62,1820.65 642.71,1818.79 643.79,1817.87 644.82,1819.22 645.86,1822.23 646.9,1826.16 647.93,1830.06 648.97,1833.29 650.15,1836.34 651.32,1840.13 652.5,1843.82 653.68,1847.91 654.85,1853.42 656.03,1859.4 657.21,1867.11 658.39,1875.93 659.56,1886.46 660.74,1898.66 661.92,1911.16 663.09,1922.68 664.27,1933.16 665.45,1942.79 666.63,1951.17 667.8,1958.27 668.98,1965.13 670.16,1971.99 671.33,1975.01 672.51,1974.51 673.69,1972.21 674.87,1969.55 676.04,1966.55 677.22,1962.99 678.4,1958.16 679.57,1949.75 680.75,1940.78 681.93,1932.19 682.94,1925.3 683.95,1918.24 684.96,1911.49 685.96,1903.8 686.97,1896.54 687.98,1889.41 688.99,1882.52 690,1876.87 691.01,1870.64 692.02,1864.28 693.03,1857.87 694.04,1851.9 695.05,1846.6 696.05,1840.61 697.06,1834.08 698.07,1826.58 699.08,1819.2 700.09,1811.76 701.1,1806.31 702.11,1802.34 703.12,1800.82 704.29,1801.94 705.47,1804.4 706.65,1808.31 707.83,1812.15 709,1816.55 710.18,1820.79 711.36,1826.01 712.54,1831.19 713.54,1836.29 714.55,1842.7 715.56,1849.59 716.57,1856.34 717.58,1863.14 718.59,1869.54 719.6,1875.48 720.61,1881.01 721.62,1886.73 722.62,1890.92 723.63,1895.36 724.64,1900.1 725.65,1905.29 726.66,1911.2 727.67,1918.8 728.68,1927.84 729.69,1937.67 730.7,1947.13 731.71,1955.97 732.71,1963.35 733.72,1968.07 734.9,1970.97 736.08,1973.16 737.26,1975.1 738.43,1976.77 739.61,1977.14 740.79,1976.4 741.96,1974.97 743.14,1972.2 744.32,1968.79 745.5,1965.22 746.67,1961.02 747.85,1955.09 749.03,1948.2 750.2,1939.37 751.38,1928.16 752.56,1914.17 753.74,1898.96 754.91,1883.96 756.09,1871.06 757.27,1861.17 758.44,1851.56 759.62,1843.41 760.8,1835.61 761.98,1828.83 763.01,1823.22 764.05,1816.71 765.08,1812.24 766.12,1808.94 767.16,1807.36 768.24,1808.38 769.32,1810.04 770.4,1814.01 771.49,1817.95 772.57,1821.71 773.75,1826.38 774.92,1831.1 776.1,1836 777.28,1841.64 778.46,1847.52 779.47,1852.98 780.47,1857.34 781.48,1862.68 782.49,1867.36 783.5,1873.08 784.51,1879.47 785.52,1886.06 786.7,1893.73 787.87,1902.2 789.05,1911.04 790.23,1920.6 791.4,1930.4 792.58,1940.09 793.76,1950.15 794.94,1958.24 796.11,1965.59 797.2,1970.93 798.28,1976.43 799.36,1981.78 800.45,1985.07 801.53,1986.51 802.56,1985.19 803.6,1982.29 804.64,1978.41 805.67,1974.75 806.71,1970.33 807.89,1964.28 809.06,1956.56 810.24,1948.1 811.42,1939.76 812.59,1928.61 813.77,1915.57 814.95,1900.9 816.13,1887.17 817.3,1875.91 818.48,1866.65 819.66,1857.99 820.83,1850.06 822.01,1842.92 823.19,1836.18 824.37,1829.51 825.54,1822.69 826.72,1817.37 827.9,1813.18 829.07,1812.54 830.25,1813.15 831.43,1814.66 832.61,1817.01 833.78,1819.32 834.96,1821.4 836.14,1822.41 837.31,1824.22 838.49,1825.98 839.67,1829.98 840.85,1835.4 842.02,1842.07 843.2,1849.31 844.38,1856.84 845.55,1865.57 846.73,1876.5 847.91,1887.68 849.09,1899.69 850.26,1911.32 851.44,1923.2 852.62,1935.63 853.79,1947.79 854.97,1960.02 856.15,1970.39 857.33,1979.8 858.5,1988.75 859.68,1992.46 860.86,1990.85 862.03,1987.9 863.21,1983.69 864.39,1979.92 865.57,1975.64 866.74,1970.68 867.92,1964.72 869.1,1958.19 870.27,1947.75 871.45,1932.99 872.63,1916.29 873.81,1900.71 874.98,1887.68 876.16,1877.84 877.34,1869.49 878.52,1861.62 879.69,1854.41 880.87,1847.54 881.88,1841.51 882.89,1835.77 883.9,1830.39 884.91,1825.4 885.91,1821.38 886.92,1818.39 887.93,1817.18 889.11,1817.45 890.29,1819.76 891.46,1822.69 892.64,1825.75 893.68,1828.11 894.72,1831.2 895.76,1835.18 896.79,1839.6 897.83,1843.94 898.87,1848.98 899.91,1853.18 900.95,1857.32 902.08,1861.77 903.22,1866.78 904.35,1871.93 905.49,1877.66 906.62,1881.75 907.76,1886.05 908.89,1888.97 909.95,1891.21 911.01,1893 912.07,1895 913.13,1896.88 914.19,1899.97 915.51,1906.3 916.84,1916.42 918.16,1928.97 919.49,1945.31 920.81,1961.12 922.13,1971.61 923.46,1981.01 924.78,1984.57 925.84,1983.38 926.9,1981.11 927.96,1977.43 929.02,1973.63 930.08,1968.76 931.14,1963.29 932.2,1955.86 933.26,1947.56 934.32,1939.06 935.38,1929.29 936.44,1917.62 937.5,1904.77 938.56,1890.26 939.62,1875.87 940.67,1862.47 941.73,1848.06 942.79,1831.26 943.85,1815.24 944.91,1803.58 945.97,1798.72 947.08,1799.82 948.18,1801.23 949.28,1803.31 950.39,1805.79 951.49,1808.79 952.59,1812.4 953.7,1816.11 954.8,1821.59 955.9,1828.37 957.01,1834.92 958.11,1842.13 959.21,1849.36 960.27,1856.42 961.33,1863.64 962.39,1871.59 963.45,1879.87 964.51,1889.32 965.84,1904.7 967.16,1923.67 968.48,1942.01 969.81,1961.82 971.13,1981.38 972.46,1989.73 973.56,1988.39 974.66,1986.46 975.77,1983.33 976.87,1978.59 977.98,1972.47 979.08,1965.77 980.4,1949.53 981.73,1924.89 983.05,1902.53 984.38,1885.01 985.7,1869.14 987.02,1857.26 988.08,1850.18 989.14,1844.03 990.2,1838.72 991.26,1835.4 992.32,1833.62 993.43,1833.82 994.53,1834.69 995.63,1836.3 996.74,1839.23 997.84,1841.56 998.94,1844.36 1000,1847.57 1001.06,1851.76 1002.12,1857.43 1003.18,1863.71 1004.24,1871.06 1005.3,1878.52 1006.36,1887.71 1007.42,1897.51 1008.48,1907.47 1009.54,1918.37 1010.64,1930.57 1011.74,1945.32 1012.85,1960.06 1013.95,1973.35 1015.06,1982.02 1016.16,1985.63 1017.26,1984.6 1018.37,1983.13 1019.47,1979.89 1020.57,1975.55 1021.68,1970.72 1022.78,1965.92 1023.88,1958.86 1024.99,1949.47 1026.09,1938.58 1027.2,1926.62 1028.3,1914.05 1029.4,1902.89 1030.51,1891.38 1031.61,1878.66 1032.71,1866.76 1033.82,1855.4 1034.92,1844.98 1036.02,1836.55 1037.08,1828.33 1038.14,1819.72 1039.2,1812.56 1040.26,1807.78 1041.32,1806.05 1042.38,1806.2 1043.44,1807.8 1044.5,1809.33 1045.56,1812.26 1046.62,1815.1 1047.68,1818.95 1048.74,1824.66 1049.8,1830.69 1050.86,1837.31 1051.92,1843.95 1052.97,1850.12 1054.03,1856.85 1055.09,1862.63 1056.15,1868.94 1057.21,1875.84 1058.27,1883.12 1059.33,1891.39 1060.39,1900.56 1061.45,1909.49 1062.51,1918.55 1063.83,1932.2 1065.16,1946.12 1066.48,1952.47 1067.59,1952.35 1068.69,1950.31 1069.79,1947.19 1070.9,1944.52 1072,1942.49 1073.1,1942.2 1074.16,1943.39 1075.22,1946.31 1076.28,1948.78 1077.34,1951.25 1078.4,1952.55 1079.46,1950.22 1080.52,1944.44 1081.58,1936.04 1082.64,1926.94 1083.7,1918.08 1084.83,1910.33 1085.97,1902.6 1087.1,1895.36 1088.24,1887.02 1089.37,1879.06 1090.51,1870.84 1091.64,1862.61 1092.7,1854.1 1093.76,1845.09 1094.82,1835.73 1095.88,1827.74 1096.94,1822.84 1098.07,1819.48 1099.19,1816.61 1100.32,1814.54 1101.44,1813.94 1102.46,1814.3 1103.47,1815.75 1104.49,1818.27 1105.5,1821.96 1106.52,1825.14 1107.54,1828.68 1108.59,1832.03 1109.65,1835.93 1110.71,1840.84 1111.77,1845.35 1112.83,1849.82 1114.16,1854.24 1115.48,1857.97 1116.81,1861.45 1118.13,1864.39 1119.45,1867.01 1120.78,1870.39 1121.84,1873.8 1122.9,1877.01 1123.96,1880.42 1125.02,1883.8 1126.08,1888.67 1127.4,1899.34 1128.72,1913.68 1130.05,1928.91 1131.11,1943.36 1132.17,1960.18 1133.23,1976.37 1134.29,1989.05 1135.35,1993.55 1136.45,1993.12 1137.55,1989.27 1138.66,1983.32 1139.76,1976.19 1140.86,1968.5 1141.97,1960.8 1143.03,1950.84 1144.09,1937 1145.15,1921.17 1146.2,1904.53 1147.26,1888.98 1148.59,1868.86 1149.91,1849.76 1151.24,1836.49 1152.34,1829.66 1153.44,1823.36 1154.55,1817.82 1155.65,1813.39 1156.75,1810.19 1157.86,1809.78 1158.99,1810.85 1160.13,1813.25 1161.26,1817.05 1162.4,1821.56 1163.53,1826.63 1164.67,1831.5 1165.8,1836.67 1166.86,1840.8 1167.92,1845.19 1168.98,1850.1 1170.04,1854.73 1171.1,1859.88 1172.16,1865.98 1173.22,1871.02 1174.28,1876.74 1175.34,1882.23 1176.4,1889.04 1177.46,1896.04 1178.52,1904.16 1179.58,1912.66 1180.64,1920.93 1181.7,1928.9 1182.83,1938.62 1183.97,1950.01 1185.1,1961.35 1186.24,1972.22 1187.37,1981.35 1188.51,1987.29 1189.64,1989.39 1190.78,1988.56 1191.91,1983.84 1193.05,1977.19 1194.18,1968.39 1195.32,1959.02 1196.45,1949.06 1197.59,1939.82 1198.65,1929.19 1199.71,1916.43 1200.77,1902.41 1201.83,1888.1 1202.88,1875.78 1203.94,1863.96 1205,1850.37 1206.06,1837.55 1207.12,1827.84 1208.18,1822.94 1209.24,1820.58 1210.3,1818.56 1211.36,1816.33 1212.42,1814.54 1213.48,1812.81 1214.54,1811.7 1215.6,1811.34 1216.66,1810.96 1217.72,1810.24 1218.78,1809.7 1219.91,1810.68 1221.05,1813.33 1222.18,1817.03 1223.32,1821.97 1224.45,1826.65 1225.59,1831.37 1226.72,1836.38 1227.78,1840.41 1228.84,1845.39 1229.9,1849.19 1230.96,1854.22 1232.02,1859.66 1233.34,1867.9 1234.67,1878.13 1235.99,1889.19 1237.1,1901.01 1238.2,1914.76 1239.3,1929.94 1240.41,1944.14 1241.51,1956.13 1242.61,1963.48 1243.72,1967.7 1244.82,1971.38 1245.92,1974.2 1247.03,1976.97 1248.13,1978.46 1249.23,1979.73 1250.34,1978.34 1251.44,1975.5 1252.55,1971.33 1253.65,1966.49 1254.75,1961.15 1255.86,1955.08 1256.96,1949.01 1258.06,1941.47 1259.17,1932.47 1260.27,1923.04 1261.37,1913.04 1262.48,1902.45 1263.8,1888.27 1265.13,1872.91 1266.45,1860.07 1267.59,1850.42 1268.72,1841.03 1269.86,1830.9 1270.99,1822.68 1272.13,1815.78 1273.26,1811.21 1274.4,1809.97 1275.53,1810.85 1276.67,1812.7 1277.8,1815.22 1278.94,1819.86 1280.07,1824.83 1281.21,1830.71 1282.34,1836.11 1283.67,1846.45 1284.99,1859.53 1286.05,1872.12 1287.11,1885.61 1288.17,1898.95 1289.23,1912.5 1290.29,1923.53 1291.39,1935.08 1292.5,1946.53 1293.6,1958.08 1294.7,1967.77 1295.81,1974.52 1296.91,1976.22 1298.01,1975.74 1299.12,1973.18 1300.22,1969.79 1301.32,1965.92 1302.43,1960.94 1303.53,1955.36 1304.63,1948.72 1305.74,1939.87 1306.84,1930.08 1307.95,1919.51 1309.05,1907.86 1310.15,1896.87 1311.48,1883.98 1312.8,1871.19 1314.13,1859.9 1315.26,1851.02 1316.4,1841.54 1317.53,1831.61 1318.67,1823.1 1319.8,1815.62 1320.94,1811.51 1322.07,1810.06 1323.21,1812.17 1324.34,1816.94 1325.48,1823.47 1326.61,1832.12 1327.75,1841.49 1328.88,1851.36 1330.02,1860.45 1331.08,1867.93 1332.14,1875.75 1333.19,1883.66 1334.25,1892.38 1335.31,1902.38 1336.37,1913.72 1337.43,1926.08 1338.49,1939.54 1339.55,1952.57 1340.61,1965.82" fill="none" stroke="#4040ff" stroke-width="1.5" stroke-linejoin="round"/>
</g>
<line x1="115.3" y1="1774.6" x2="1340.9" y2="1774.6" stroke="#8a8a8a" stroke-width="1.7"/>
<line x1="115.3" y1="2024.2" x2="1340.9" y2="2024.2" stroke="#8a8a8a" stroke-width="1.7"/>
<line x1="115.3" y1="1773.75" x2="115.3" y2="2025.05" stroke="#8a8a8a" stroke-width="1.7"/>
<line x1="1340.9" y1="1773.75" x2="1340.9" y2="2025.05" stroke="#ef9a78" stroke-width="1.7"/>
<line x1="204.8" y1="2024.2" x2="204.8" y2="2012.7" stroke="#8a8a8a" stroke-width="1.7"/>
<line x1="204.8" y1="1774.6" x2="204.8" y2="1786.1" stroke="#8a8a8a" stroke-width="1.7"/>
<line x1="324.41" y1="2024.2" x2="324.41" y2="2012.7" stroke="#8a8a8a" stroke-width="1.7"/>
<line x1="324.41" y1="1774.6" x2="324.41" y2="1786.1" stroke="#8a8a8a" stroke-width="1.7"/>
<line x1="444.02" y1="2024.2" x2="444.02" y2="2012.7" stroke="#8a8a8a" stroke-width="1.7"/>
<line x1="444.02" y1="1774.6" x2="444.02" y2="1786.1" stroke="#8a8a8a" stroke-width="1.7"/>
<line x1="563.63" y1="2024.2" x2="563.63" y2="2012.7" stroke="#8a8a8a" stroke-width="1.7"/>
<line x1="563.63" y1="1774.6" x2="563.63" y2="1786.1" stroke="#8a8a8a" stroke-width="1.7"/>
<line x1="683.24" y1="2024.2" x2="683.24" y2="2012.7" stroke="#8a8a8a" stroke-width="1.7"/>
<line x1="683.24" y1="1774.6" x2="683.24" y2="1786.1" stroke="#8a8a8a" stroke-width="1.7"/>
<line x1="802.86" y1="2024.2" x2="802.86" y2="2012.7" stroke="#8a8a8a" stroke-width="1.7"/>
<line x1="802.86" y1="1774.6" x2="802.86" y2="1786.1" stroke="#8a8a8a" stroke-width="1.7"/>
<line x1="922.47" y1="2024.2" x2="922.47" y2="2012.7" stroke="#8a8a8a" stroke-width="1.7"/>
<line x1="922.47" y1="1774.6" x2="922.47" y2="1786.1" stroke="#8a8a8a" stroke-width="1.7"/>
<line x1="1042.08" y1="2024.2" x2="1042.08" y2="2012.7" stroke="#8a8a8a" stroke-width="1.7"/>
<line x1="1042.08" y1="1774.6" x2="1042.08" y2="1786.1" stroke="#8a8a8a" stroke-width="1.7"/>
<line x1="1161.69" y1="2024.2" x2="1161.69" y2="2012.7" stroke="#8a8a8a" stroke-width="1.7"/>
<line x1="1161.69" y1="1774.6" x2="1161.69" y2="1786.1" stroke="#8a8a8a" stroke-width="1.7"/>
<line x1="1281.3" y1="2024.2" x2="1281.3" y2="2012.7" stroke="#8a8a8a" stroke-width="1.7"/>
<line x1="1281.3" y1="1774.6" x2="1281.3" y2="1786.1" stroke="#8a8a8a" stroke-width="1.7"/>
<line x1="115.3" y1="1775.6" x2="126.8" y2="1775.6" stroke="#8a8a8a" stroke-width="1.7"/>
<line x1="115.3" y1="1893.2" x2="126.8" y2="1893.2" stroke="#8a8a8a" stroke-width="1.7"/>
<line x1="115.3" y1="2010.8" x2="126.8" y2="2010.8" stroke="#8a8a8a" stroke-width="1.7"/>
<line x1="1340.9" y1="2018.5" x2="1329.4" y2="2018.5" stroke="#ef9a78" stroke-width="1.7"/>
<line x1="1340.9" y1="1932.4" x2="1329.4" y2="1932.4" stroke="#ef9a78" stroke-width="1.7"/>
<line x1="1340.9" y1="1846.3" x2="1329.4" y2="1846.3" stroke="#ef9a78" stroke-width="1.7"/>
<text x="182.95" y="2064.02" font-family="'Liberation Sans', Arial, sans-serif" font-size="27.1" fill="#262626" textLength="43.41" lengthAdjust="spacingAndGlyphs">210</text>
<text x="302.56" y="2064.02" font-family="'Liberation Sans', Arial, sans-serif" font-size="27.1" fill="#262626" textLength="43.41" lengthAdjust="spacingAndGlyphs">220</text>
<text x="422.17" y="2064.02" font-family="'Liberation Sans', Arial, sans-serif" font-size="27.1" fill="#262626" textLength="43.41" lengthAdjust="spacingAndGlyphs">230</text>
<text x="541.78" y="2064.02" font-family="'Liberation Sans', Arial, sans-serif" font-size="27.1" fill="#262626" textLength="43.41" lengthAdjust="spacingAndGlyphs">240</text>
<text x="661.4" y="2064.02" font-family="'Liberation Sans', Arial, sans-serif" font-size="27.1" fill="#262626" textLength="43.41" lengthAdjust="spacingAndGlyphs">250</text>
<text x="781.01" y="2064.02" font-family="'Liberation Sans', Arial, sans-serif" font-size="27.1" fill="#262626" textLength="43.41" lengthAdjust="spacingAndGlyphs">260</text>
<text x="900.62" y="2064.02" font-family="'Liberation Sans', Arial, sans-serif" font-size="27.1" fill="#262626" textLength="43.41" lengthAdjust="spacingAndGlyphs">270</text>
<text x="1020.23" y="2064.02" font-family="'Liberation Sans', Arial, sans-serif" font-size="27.1" fill="#262626" textLength="43.41" lengthAdjust="spacingAndGlyphs">280</text>
<text x="1139.84" y="2064.02" font-family="'Liberation Sans', Arial, sans-serif" font-size="27.1" fill="#262626" textLength="43.41" lengthAdjust="spacingAndGlyphs">290</text>
<text x="1259.61" y="2064.02" font-family="'Liberation Sans', Arial, sans-serif" font-size="27.1" fill="#262626" textLength="43.41" lengthAdjust="spacingAndGlyphs">300</text>
<text x="48.34" y="1786.46" font-family="'Liberation Sans', Arial, sans-serif" font-size="27.1" fill="#262626" textLength="57.88" lengthAdjust="spacingAndGlyphs">5000</text>
<text x="91.75" y="1904.06" font-family="'Liberation Sans', Arial, sans-serif" font-size="27.1" fill="#262626" textLength="14.47" lengthAdjust="spacingAndGlyphs">0</text>
<text x="39.68" y="2021.66" font-family="'Liberation Sans', Arial, sans-serif" font-size="27.1" fill="#262626" textLength="66.54" lengthAdjust="spacingAndGlyphs">-5000</text>
<text x="1349.96" y="2029.26" font-family="'Liberation Sans', Arial, sans-serif" font-size="27.1" fill="#D95319" textLength="43.41" lengthAdjust="spacingAndGlyphs">520</text>
<text x="1349.96" y="1943.16" font-family="'Liberation Sans', Arial, sans-serif" font-size="27.1" fill="#D95319" textLength="43.41" lengthAdjust="spacingAndGlyphs">530</text>
<text x="1349.96" y="1857.06" font-family="'Liberation Sans', Arial, sans-serif" font-size="27.1" fill="#D95319" textLength="43.41" lengthAdjust="spacingAndGlyphs">540</text>
<text x="675.84" y="2102" font-family="'Liberation Sans', Arial, sans-serif" font-size="30.09" fill="#262626" textLength="106.96" lengthAdjust="spacingAndGlyphs">Time (s)</text>
<text transform="translate(28.1 2046.49) rotate(-90)" x="0" y="0" font-family="'Liberation Sans', Arial, sans-serif" font-size="28.34" fill="#262626" textLength="295.58" lengthAdjust="spacingAndGlyphs">Breath Amplitude (au)</text>
<text transform="translate(1429 2044.01) rotate(-90)" x="0" y="0" font-family="'Liberation Sans', Arial, sans-serif" font-size="29.07" fill="#D95319" textLength="289.11" lengthAdjust="spacingAndGlyphs">Peak Frequency (Hz)</text>
<text x="1059.17" y="1736.2" font-family="Carlito, Calibri, 'Liberation Sans', sans-serif" font-size="59.32" fill="#000" textLength="273.01" lengthAdjust="spacingAndGlyphs">Participant</text>
<text x="1341.46" y="1736.2" font-family="Carlito, Calibri, 'Liberation Sans', sans-serif" font-size="59.32" fill="#000" textLength="31.74" lengthAdjust="spacingAndGlyphs">5</text>
<rect x="1115.2" y="1788" width="215.8" height="71.6" fill="#fff" stroke="none"/>
<line x1="1115.2" y1="1788" x2="1328.4" y2="1788" stroke="#8c8c8c" stroke-width="1.6"/>
<line x1="1328.4" y1="1788" x2="1328.4" y2="1859.6" stroke="#8c8c8c" stroke-width="1.6"/>
<line x1="1115.2" y1="1806.6" x2="1157.6" y2="1806.6" stroke="#5050ff" stroke-width="1.6"/>
<line x1="1115.2" y1="1840.2" x2="1157.6" y2="1840.2" stroke="#ff5a5a" stroke-width="1.6"/>
<text x="1185.34" y="1817.7" font-family="Carlito, Calibri, 'Liberation Sans', sans-serif" font-size="18.17" fill="#1a1a1a" textLength="98.76" lengthAdjust="spacingAndGlyphs" stroke="#1a1a1a" stroke-width="0.35">Breath Cycle</text>
<text x="1184.5" y="1840.5" font-family="Carlito, Calibri, 'Liberation Sans', sans-serif" font-size="19.2" fill="#1a1a1a" stroke="#1a1a1a" stroke-width="0.3" font-style="italic">f<tspan font-size="13.82" dy="3">peak</tspan><tspan dy="-3">(t)</tspan></text>
<path d="M1189.3 1845 L1190.8 1845.8 L1192.3 1844.8 L1193.8 1845.8 L1195.3 1844.8 L1196.8 1845.8 L1198.3 1844.8 L1199.8 1845.8 L1201.3 1844.8 L1202.8 1845.8 L1204.3 1844.8 L1205.8 1845.8 L1207.3 1844.8 L1208.8 1845.8 L1210.3 1844.8 L1211.8 1845.8 L1213.3 1844.8 L1214.8 1845.8 L1216.3 1844.8" fill="none" stroke="#e05050" stroke-width="0.8"/>
<clipPath id="cp6"><rect x="116.7" y="2149.1" width="1227.1" height="235.2"/></clipPath>
<g clip-path="url(#cp6)">
<polyline points="117.35,2298.12 119.32,2307.25 121.28,2316.23 123.24,2320.28 125.2,2313.14 127.16,2297.21 129.13,2279.16 130.89,2261.24 132.66,2243.81 134.42,2230.06 136.19,2222.58 137.76,2224.2 139.33,2227.66 140.9,2232.05 142.66,2240.53 144.43,2253.33 146.19,2267.05 147.96,2279.19 149.75,2290.31 151.54,2301.7 153.33,2312.38 155.12,2319.89 156.91,2322.87 158.41,2320.21 159.92,2313.65 161.43,2304.81 162.93,2294.38 164.44,2283.86 166.4,2267.02 168.36,2247.45 170.33,2232.14 172.09,2221.86 173.86,2216.96 175.82,2221.29 177.78,2231.63 179.74,2243.92 181.71,2258.71 183.67,2276.68 185.63,2291.11 187.28,2300.21 188.93,2309.28 190.57,2317.03 192.22,2322.47 193.87,2324.57 195.83,2320.77 197.79,2312.67 199.76,2302.76 201.72,2287.71 203.68,2269.02 205.64,2255.47 207.41,2249.64 209.17,2246.22 210.94,2245.21 212.7,2245.1 214.67,2247.64 216.63,2254.2 218.59,2262.69 220.16,2272.77 221.73,2286.3 223.3,2298.15 225.26,2309.86 227.22,2319.81 229.18,2324.49 231.15,2319.82 233.11,2309.71 235.07,2298.17 236.64,2287.04 238.21,2273.98 239.78,2262.64 241.35,2252.36 242.92,2243.01 244.49,2239.35 246.45,2242.61 248.41,2251.1 250.37,2260.44 252.34,2269.89 254.3,2280.96 256.26,2290.84 258.03,2300.51 259.79,2310.32 261.56,2318 263.32,2321.24 265.09,2316.4 266.85,2305.3 268.62,2291.51 270.39,2279.18 272.15,2267.42 273.92,2254.79 275.68,2244.47 277.45,2240.16 279.02,2242.08 280.59,2245.9 282.16,2250.92 283.92,2258.98 285.69,2269.79 287.45,2281.28 289.22,2290.79 290.79,2298 292.36,2305.1 293.93,2311.78 295.5,2317.46 297.07,2321.48 298.64,2322.63 300.4,2318.53 302.17,2308.53 303.93,2295.7 305.7,2283.79 307.66,2269.7 309.62,2255.21 311.59,2248.42 313.55,2251.51 315.51,2258.65 317.47,2267.52 319.04,2276.64 320.61,2288.34 322.18,2298.2 324.14,2307.93 326.1,2316.07 328.07,2319.71 330.03,2314.63 331.99,2303.31 333.95,2290.94 335.91,2277.3 337.88,2262.13 339.84,2250.84 341.41,2245.16 342.98,2240.93 344.55,2238.97 346.51,2241.57 348.47,2248.14 350.43,2255.47 352.39,2265.89 354.36,2278.76 356.32,2291.12 358.12,2302.06 359.93,2312.08 361.73,2316.72 363.32,2312.14 364.91,2300.33 366.5,2286.27 368.09,2274.58 369.86,2263.09 371.62,2251.06 373.39,2241.73 375.15,2237.81 377.11,2239.98 379.08,2244.84 381.04,2250.97 382.8,2257.56 384.57,2265.9 386.34,2275.3 388.1,2283.72 389.87,2292.97 391.63,2303.21 393.4,2311.18 395.16,2314.65 396.93,2310.08 398.7,2299.33 400.46,2285.94 402.23,2274.6 403.99,2263.23 405.76,2251.49 407.53,2242.05 409.29,2238.14 411.25,2239.29 413.21,2242.1 415.18,2246.29 417.14,2254.48 419.1,2266.77 421.06,2279.35 422.71,2289.41 424.36,2300.44 426.01,2311 427.65,2318.54 429.3,2321.46 431.07,2316.1 432.83,2302.7 434.6,2287.41 436.37,2274.66 437.94,2265.15 439.5,2255.66 441.07,2246.04 442.64,2238.5 444.21,2232.85 445.78,2231.1 447.74,2232.88 449.71,2237.94 451.67,2243.67 453.43,2251.23 455.2,2261.91 456.97,2273.26 458.73,2283.9 460.5,2295.04 462.26,2307.44 464.03,2317.43 465.79,2321.37 467.56,2316.93 469.33,2305.28 471.09,2291.39 472.86,2279.25 474.62,2268.17 476.39,2256.53 478.15,2247.66 479.92,2243.7 481.69,2245.14 483.45,2248.38 485.22,2252.94 486.98,2257.81 488.75,2264.47 490.52,2273.64 492.28,2283.44 494.05,2293.31 495.62,2303.15 497.19,2313.31 498.76,2317.88 500.52,2313.45 502.29,2302.49 504.05,2289.56 505.82,2279.06 507.67,2270.2 509.53,2261.31 511.38,2254.15 513.24,2251.26 514.81,2254.86 516.38,2262.97 517.95,2272.14 519.52,2281.87 521.09,2292.74 522.66,2302.59 524.23,2312.53 525.8,2321.71 527.37,2325.77 528.94,2322.92 530.51,2316.24 532.07,2307.45 533.64,2294.52 535.21,2277.42 536.78,2262.75 538.59,2249.16 540.39,2237.11 542.2,2232.15 543.92,2235.38 545.65,2242.35 547.38,2250.97 549.14,2261.25 550.91,2274.14 552.68,2287.23 554.44,2298.11 556.09,2306.11 557.74,2314.57 559.38,2321.48 561.03,2326.65 562.68,2328.43 564.64,2323.49 566.6,2311.64 568.57,2297.9 570.33,2282.29 572.1,2262.5 573.86,2245.15 575.63,2237.96 577.2,2239.29 578.77,2242.4 580.34,2246.08 582.3,2254.46 584.26,2266.32 586.22,2279.02 587.99,2292.75 589.76,2307.9 591.52,2321.08 593.29,2326.36 595.25,2322.56 597.21,2313.58 599.17,2302.78 600.94,2289.34 602.7,2271.78 604.47,2254.81 606.24,2244 608.2,2237.11 610.16,2231.91 612.12,2229.62 613.69,2231.98 615.26,2237.19 616.83,2243.97 618.79,2255.76 620.75,2271.63 622.72,2286.32 624.48,2299.17 626.25,2312.66 628.01,2322.98 629.78,2327.47 631.74,2317.57 633.7,2297.3 635.67,2279.02 637.43,2267.01 639.2,2254.41 640.96,2245.4 642.73,2241.68 644.69,2243.74 646.65,2249.3 648.61,2255.45 650.38,2262.54 652.15,2271.51 653.91,2281.35 655.68,2290.75 657.25,2300.67 658.82,2309.96 660.39,2314.52 661.96,2311.71 663.52,2305.31 665.09,2297.98 666.66,2288.53 668.23,2277.45 669.8,2267.35 671.37,2258.93 672.94,2251.37 674.51,2248.15 676.47,2249.12 678.44,2251.74 680.4,2255.48 682.36,2264.27 684.32,2277.56 686.28,2290.92 687.93,2302.11 689.58,2313.97 691.23,2323.69 692.88,2327.56 694.38,2324.35 695.89,2316.27 697.4,2305.73 698.9,2294.16 700.41,2284.03 702.17,2271.16 703.94,2256.91 705.71,2245.28 707.47,2240.31 709.43,2241.25 711.4,2243.37 713.36,2246.07 715.32,2253.79 717.28,2266.28 719.24,2279.32 721.01,2292.24 722.78,2307.33 724.54,2319.75 726.31,2325.03 728.07,2320.57 729.84,2309.19 731.6,2295.48 733.37,2283.8 735.02,2273.74 736.67,2263.03 738.31,2253.02 739.96,2245.71 741.61,2242.52 743.57,2243.43 745.53,2245.43 747.5,2248.73 749.46,2255.36 751.42,2266.5 753.38,2279.35 755.34,2296.74 757.31,2316.55 759.27,2325.78 761.03,2320.47 762.8,2308.06 764.56,2292.65 766.33,2279.21 768.1,2267.01 769.86,2253.84 771.63,2243.5 773.39,2238.98 775.36,2239.97 777.32,2242.5 779.28,2246.25 781.24,2254.19 783.2,2266.59 785.16,2279.18 786.67,2288.44 788.18,2299.26 789.69,2309.17 791.19,2316.18 792.7,2319.39 794.35,2314.21 795.99,2301.85 797.64,2287.21 799.29,2274.33 801.06,2261.88 802.82,2248.49 804.59,2237.49 806.35,2233.14 808.32,2234.77 810.28,2238.66 812.24,2243.95 813.81,2252.38 815.38,2265.53 816.95,2279.22 818.91,2297.95 820.87,2317.18 822.83,2325.82 824.6,2320.71 826.37,2308.31 828.13,2292.85 829.9,2279.34 831.86,2264.05 833.82,2249.16 835.78,2242.83 837.74,2243.69 839.71,2247.11 841.67,2250.9 843.43,2256.64 845.2,2265.7 846.97,2276.24 848.73,2286.19 850.5,2297.82 852.26,2310.78 854.03,2321.9 855.79,2326.21 857.56,2320.96 859.33,2307.71 861.09,2292.38 862.86,2279.16 864.62,2267.65 866.39,2255.6 868.15,2246.47 869.92,2242.82 871.88,2244.04 873.84,2248.06 875.81,2253.08 877.77,2262.51 879.73,2276.23 881.69,2291.02 883.81,2312.46 885.93,2326.09 887.44,2321.92 888.94,2311.72 890.45,2298.23 891.96,2284.86 893.46,2274.61 895.04,2266.26 896.62,2257.9 898.2,2250.32 899.79,2243.87 901.37,2239.6 902.95,2238.13 904.6,2240.54 906.26,2247.27 907.91,2255.75 909.57,2264.28 911.33,2274.8 913.1,2286.78 914.86,2298.94 916.37,2311.01 917.87,2323.82 919.37,2329.35 920.89,2325.02 922.41,2314.43 923.94,2301.73 925.46,2290.75 927.05,2280.52 928.64,2269.31 930.23,2258.92 931.82,2251.32 933.4,2248.66 935.17,2250.26 936.94,2254.29 938.7,2259.05 940.36,2266.2 942.01,2276.01 943.67,2286.55 945.32,2296.39 947.18,2306.55 949.03,2317.28 950.89,2325.78 952.74,2329.52 954.53,2324.37 956.31,2312.67 958.1,2298.37 959.89,2285.59 961.55,2274.48 963.2,2262.11 964.86,2252.52 966.51,2248.6 968.17,2249.79 969.82,2252.84 971.48,2256.96 973.13,2261.86 974.79,2268.55 976.44,2277.37 978.1,2287.27 979.75,2296.38 981.41,2305.45 983.07,2315.42 984.72,2323.64 986.38,2326.62 988.03,2322.3 989.69,2311.56 991.34,2298.38 993,2285.66 994.65,2272.44 996.31,2256.89 997.96,2244.41 999.62,2239.36 1001.27,2240.79 1002.93,2244.97 1004.59,2250.45 1006.24,2256.34 1007.9,2264.29 1009.55,2274.96 1011.21,2286.22 1012.86,2296.11 1014.38,2305.25 1015.91,2314.65 1017.43,2322.25 1018.95,2325.3 1020.74,2320.99 1022.53,2310.53 1024.32,2297.6 1026.1,2285.73 1027.76,2274.75 1029.42,2262.4 1031.07,2252.63 1032.73,2248.66 1034.38,2249.63 1036.04,2251.77 1037.69,2255.08 1039.35,2258.98 1041,2264.61 1042.66,2272.5 1044.31,2281.32 1045.97,2291.06 1047.96,2307.05 1049.94,2317.57 1051.6,2314.23 1053.25,2305.66 1054.91,2295.54 1056.56,2285.5 1058.22,2274.89 1059.87,2262.79 1061.53,2252.75 1063.19,2248.39 1064.84,2249.35 1066.5,2251.64 1068.15,2255.01 1069.81,2259 1071.46,2265.59 1073.12,2275.83 1074.77,2287.58 1076.43,2298.86 1078.19,2312.8 1079.96,2326.89 1081.73,2333.32 1083.31,2330.1 1084.9,2322.21 1086.49,2311.38 1088.08,2300.24 1089.67,2290.79 1091.22,2282.58 1092.76,2273.04 1094.31,2263.93 1095.85,2256.11 1097.4,2250.67 1098.94,2248.63 1100.6,2249.7 1102.25,2252.64 1103.91,2256.71 1105.56,2261.97 1107.33,2270.68 1109.09,2283.3 1110.86,2296.2 1112.63,2310.74 1114.39,2325.17 1116.16,2332.05 1117.75,2328.78 1119.34,2319.95 1120.92,2308.44 1122.51,2296.13 1124.1,2285.81 1125.69,2275.29 1127.28,2263.73 1128.87,2253.09 1130.46,2245 1132.05,2242.11 1133.7,2243.15 1135.36,2246.49 1137.01,2251.04 1138.67,2256.55 1140.44,2265.4 1142.2,2277.87 1143.97,2291.1 1145.91,2307.28 1147.85,2324.3 1149.79,2332.07 1151.65,2326.79 1153.5,2314.22 1155.36,2299.02 1157.21,2285.85 1158.87,2274.16 1160.52,2262.38 1162.18,2252.57 1163.83,2248.56 1165.42,2249.33 1167.01,2251.29 1168.6,2254.29 1170.19,2257.97 1171.78,2261.82 1173.43,2268.3 1175.09,2277.99 1176.74,2289.05 1178.4,2298.88 1180.05,2309.12 1181.71,2320.6 1183.36,2329.46 1185.02,2333.26 1186.61,2329.95 1188.2,2321.16 1189.79,2309.31 1191.38,2296.84 1192.97,2285.69 1194.56,2274.77 1196.14,2262.12 1197.73,2250.08 1199.32,2241.52 1200.91,2237.92 1202.57,2238.72 1204.22,2240.2 1205.88,2242.63 1207.53,2245.79 1209.3,2256.91 1211.06,2275.02 1212.83,2290.75 1214.53,2302.44 1216.22,2313.5 1217.92,2323.45 1219.61,2330.47 1221.31,2333.38 1223.16,2327.57 1225.01,2313.94 1226.87,2298.29 1228.72,2285.63 1230.31,2277.46 1231.9,2269.61 1233.49,2262.08 1235.08,2256.95 1236.67,2255.08 1238.43,2257.31 1240.2,2261.67 1241.96,2267.05 1243.62,2272.92 1245.28,2280.26 1246.93,2288.43 1248.59,2296.3 1250.24,2304.89 1251.9,2314.47 1253.55,2323.1 1255.21,2328.05 1256.97,2330.67 1258.74,2332.46 1260.5,2333.51 1262.27,2324.89 1264.04,2307.19 1265.8,2291.01 1267.39,2279.99 1268.98,2268.41 1270.57,2258.7 1272.16,2251.47 1273.75,2248.4 1275.4,2249.55 1277.06,2252.82 1278.71,2257.06 1280.37,2261.69 1282.02,2268.94 1283.68,2278.35 1285.34,2289.22 1286.99,2298.88 1288.65,2308.6 1290.3,2319.13 1291.96,2327.29 1293.61,2330.78 1295.2,2327.52 1296.79,2318.91 1298.38,2307.84 1299.97,2296.05 1301.56,2285.56 1303.35,2273.84 1305.13,2260.58 1306.92,2250.09 1308.71,2245.92 1310.23,2247.28 1311.75,2251.05 1313.28,2256.26 1314.8,2261.85 1316.46,2269.47 1318.11,2279.35 1319.77,2289.72 1321.42,2298.86 1323.01,2307.36 1324.6,2316.18 1326.19,2324.16 1327.78,2329.95 1329.37,2332.07 1331.02,2326.81 1332.68,2314.7 1334.33,2299.32 1335.99,2285.57 1337.64,2274.02 1339.3,2262.28 1340.96,2250.86 1342.61,2239.17" fill="none" stroke="#ff6464" stroke-width="1.6" stroke-linejoin="round"/>
<polyline points="117.35,2288.43 118.53,2302.7 119.71,2317.91 120.89,2325.33 122.06,2324.19 123.24,2319.7 124.42,2313.78 125.59,2306.6 126.77,2293.91 127.95,2273.82 129.13,2256.04 130.3,2240.38 131.48,2226.31 132.66,2219.95 133.83,2219.88 135.01,2220.49 136.19,2221.26 137.37,2221.83 138.54,2223.7 139.72,2226.88 140.9,2231.79 142.07,2237.09 143.25,2243.57 144.43,2249.7 145.61,2255.25 146.78,2261.31 147.96,2267.2 149.14,2272.98 150.31,2279.34 151.32,2285.58 152.33,2292.98 153.34,2299.86 154.35,2306.87 155.36,2313.43 156.37,2318.07 157.38,2319.54 158.56,2318.11 159.73,2315.73 160.91,2312.45 162.09,2308.04 163.26,2303.17 164.44,2291.4 165.62,2273.11 166.8,2255.09 168.21,2233.61 169.62,2220.86 170.7,2221.13 171.79,2221.14 172.87,2221.98 173.95,2222.91 175.04,2224.48 176.21,2227.7 177.39,2231.96 178.57,2236.78 179.74,2244.75 180.92,2253.48 182.1,2262.47 183.28,2268.68 184.45,2274.11 185.63,2279.43 186.81,2285.63 187.98,2292.23 189.16,2297.19 190.34,2302.29 191.52,2306.3 192.69,2310.11 193.87,2312.48 195.05,2313.19 196.22,2311.05 197.4,2306.07 198.58,2299.08 199.76,2290.92 200.93,2277.02 202.11,2258.15 203.29,2243.95 204.46,2235.5 205.64,2229.73 206.82,2227.89 208,2230.31 209.17,2235.78 210.35,2242.17 211.53,2245.69 212.7,2247.39 213.88,2248.27 215.06,2248.81 216.24,2251.18 217.41,2254.71 218.59,2259.69 219.77,2264.67 220.94,2269.79 222.12,2274.34 223.3,2279.4 224.48,2287.28 225.65,2298.41 226.83,2307.7 228.01,2312.44 229.18,2311.85 230.36,2310.54 231.54,2307.94 232.72,2304.44 233.89,2296.96 235.07,2282.91 236.25,2267.26 237.42,2255.4 238.6,2248.67 239.78,2243.52 240.96,2239.3 242.13,2234.01 243.31,2230.05 244.49,2227.4 245.67,2229.68 246.84,2234.98 248.02,2241.1 249.2,2246.51 250.37,2249.61 251.55,2250.88 252.73,2252.32 253.91,2255.18 255.08,2259.43 256.26,2265.98 257.44,2272.45 258.61,2279.41 259.79,2287.22 260.97,2297.11 262.15,2306.24 263.32,2313.93 264.5,2316.77 265.68,2312.46 266.85,2300.99 268.03,2285.71 269.21,2271.2 270.39,2259.93 271.56,2252.32 272.74,2244.19 273.92,2237.6 275.09,2233.05 276.27,2230.9 277.45,2231.2 278.63,2232.74 279.8,2235.54 280.98,2239.17 282.16,2242.05 283.33,2244.65 284.51,2248.81 285.69,2252.87 286.87,2258.03 288.04,2263.17 289.22,2267.69 290.4,2273.22 291.57,2279.17 292.75,2287.89 293.93,2299.25 295.11,2308.72 296.28,2312.78 297.46,2311.49 298.64,2307.97 299.81,2304.65 300.99,2300.49 302.17,2293.15 303.35,2280.65 304.52,2266.58 305.7,2255.21 306.88,2245.02 308.05,2236.62 309.23,2232.56 310.41,2232.67 311.59,2233.07 312.76,2234.82 313.94,2237.53 315.12,2239.77 316.29,2242.11 317.47,2245.52 318.65,2249.81 319.83,2254.74 321,2260.38 322.18,2265.99 323.36,2272.35 324.54,2279.61 325.71,2292.35 326.89,2307.62 328.07,2315.13 329.24,2315.38 330.42,2313.85 331.6,2311.13 332.78,2307.06 333.95,2295.68 335.13,2275.64 336.31,2255.52 337.48,2244.06 338.49,2240.9 339.5,2237.2 340.51,2234.3 341.52,2232.29 342.53,2230.89 343.54,2230.11 344.55,2229.95 345.72,2230.74 346.9,2232.93 348.08,2236.46 349.26,2241.59 350.43,2246.63 351.61,2252.49 352.79,2261.06 353.96,2269.89 355.14,2279.06 356.32,2288.22 357.5,2298.89 358.67,2307.08 359.85,2309.57 361.03,2309.26 362.2,2309.01 363.38,2308.19 364.56,2307.47 365.74,2299.39 366.91,2281.88 368.09,2262.49 369.27,2250.57 370.37,2245.68 371.46,2241.3 372.56,2238.05 373.66,2235.12 374.76,2232.74 375.86,2231.8 376.9,2232.78 377.93,2235.21 378.97,2238.36 380,2240.75 381.04,2243.42 382.22,2246.48 383.39,2250.04 384.57,2254.12 385.75,2258.79 386.92,2263.34 388.1,2269.42 389.28,2276.68 390.46,2283.51 391.49,2290.78 392.53,2299.29 393.56,2306.96 394.6,2312.17 395.64,2313.81 396.73,2310.83 397.83,2302.74 398.93,2291.01 400.03,2277.73 401.13,2265.06 402.23,2255.43 403.4,2247.27 404.58,2239.47 405.76,2233.51 406.94,2231.41 408.11,2231.57 409.29,2233.43 410.47,2237.34 411.65,2240.66 412.82,2244.29 414,2246.56 415.18,2248.24 416.35,2250.09 417.53,2252.37 418.71,2255.63 419.89,2259.58 421.06,2263.66 422.24,2268.28 423.42,2273.96 424.59,2285.6 425.77,2301.38 426.95,2315.87 428.13,2321.55 429.3,2320.57 430.48,2318.55 431.66,2315.33 432.83,2311.75 434.01,2307.3 435.19,2298.92 436.37,2284.8 437.54,2268.34 438.72,2254.18 439.9,2246.08 441.07,2242.31 442.25,2238.09 443.43,2234.83 444.61,2231.95 445.78,2231.66 446.96,2232.67 448.14,2233.31 449.31,2234.03 450.49,2235.44 451.67,2236.48 452.85,2241.46 454.02,2248.85 455.2,2256.36 456.38,2260.79 457.55,2264.53 458.73,2268.51 459.91,2272.84 461.09,2279.23 462.26,2289.68 463.44,2303.03 464.62,2314.35 465.79,2318.95 466.97,2317.86 468.15,2314.9 469.33,2310.29 470.5,2304.83 471.68,2297.44 472.86,2286.25 474.03,2268.26 475.21,2248.38 476.39,2233.12 477.57,2226.23 478.74,2226.74 479.92,2229.01 481.1,2232.16 482.27,2234.34 483.45,2236 484.63,2236.56 485.81,2237.29 486.98,2239.04 488.16,2244.42 489.34,2254.01 490.52,2264.96 491.69,2274.47 492.87,2284.28 494.05,2294.8 495.22,2306.19 496.4,2313.93 497.58,2316.8 498.76,2313.99 499.93,2306.14 501.11,2295.8 502.29,2284.99 503.46,2274.28 504.5,2264.25 505.54,2251.47 506.57,2238.21 507.61,2228.44 508.64,2224.9 509.78,2226.23 510.92,2227.95 512.06,2229.69 513.24,2231.98 514.42,2234.74 515.59,2239.27 516.77,2245.95 517.95,2253.86 519.13,2262.43 520.3,2271.35 521.48,2281.24 522.66,2290.77 523.83,2300.84 525.01,2311.52 526.19,2319.53 527.37,2322.33 528.54,2320.39 529.72,2316.1 530.9,2310.02 532.07,2302.16 533.25,2291.04 534.43,2278.83 535.61,2262.81 536.78,2243.63 537.96,2227.29 539.14,2219.98 540.31,2219.88 541.49,2220.39 542.67,2221.46 543.85,2222.63 545.02,2225.1 546.2,2228.16 547.38,2231.7 548.56,2236.92 549.73,2244.77 550.91,2252.42 552.09,2260.78 553.26,2267.85 554.44,2275.24 555.62,2282.77 556.8,2291.26 557.97,2301.43 559.15,2311.97 560.33,2316.56 561.5,2317.21 562.68,2317.64 563.86,2318.04 565.04,2318.48 566.21,2311.5 567.39,2295.09 568.57,2279.53 569.74,2264.75 570.92,2250.25 572.1,2237.19 573.28,2227.47 574.3,2221.3 575.32,2215.63 576.34,2213.09 577.34,2215.58 578.34,2222.12 579.34,2229.43 580.34,2234.96 581.52,2238.34 582.69,2241.48 583.87,2246.21 585.05,2253.32 586.22,2261.54 587.4,2269.92 588.58,2278.41 589.76,2288.79 590.93,2300.59 592.11,2310.95 593.29,2318.43 594.46,2321.33 595.64,2320.95 596.82,2319.72 598,2317.24 599.17,2313.94 600.35,2309.41 601.53,2296.75 602.7,2275.48 603.88,2256.01 604.88,2240.41 605.88,2224.2 606.88,2211.49 607.88,2205.83 608.97,2206.71 610.05,2209.28 611.13,2213.16 612.22,2217.03 613.3,2220.73 614.48,2223.83 615.65,2227.82 616.83,2233.17 618.01,2238.92 619.18,2247.04 620.36,2257.45 621.54,2268.36 622.72,2279.41 623.89,2291.28 625.07,2305.7 626.25,2317.24 627.42,2322.16 628.6,2320.59 629.78,2318.4 630.96,2313.64 632.13,2309.49 633.31,2300.08 634.49,2284.48 635.67,2268.04 636.84,2255.52 638.02,2249.33 639.2,2244.09 640.37,2239.79 641.55,2235.73 642.55,2231.8 643.55,2227.87 644.55,2224.25 645.55,2222.48 646.61,2224.8 647.67,2229.31 648.73,2234.19 649.79,2238.84 650.97,2244.32 652.15,2250.66 653.32,2258.16 654.5,2272.57 655.68,2291.74 656.85,2309.41 658.03,2316.34 659.21,2315.78 660.39,2313.83 661.56,2311.63 662.74,2308 663.92,2300.33 665.09,2288.03 666.27,2274.25 667.45,2262.34 668.63,2251.54 669.8,2241.07 670.98,2234.58 671.98,2232.3 672.98,2229.96 673.98,2228.57 674.98,2228.56 676.04,2230.45 677.1,2234.63 678.16,2239.24 679.22,2243.48 680.4,2247.19 681.57,2250.66 682.75,2253.96 683.93,2258.04 685.11,2264.05 686.28,2272.57 687.46,2282.45 688.64,2291.37 689.81,2299.78 690.99,2307.4 692.17,2310.7 693.35,2309.89 694.52,2309.36 695.7,2307.81 696.88,2302.05 698.05,2290.89 699.23,2277.79 700.41,2266.95 701.59,2259.08 702.76,2251.52 703.94,2245.34 705.12,2239.31 706.29,2233.88 707.47,2231.03 708.65,2231.3 709.83,2232.39 711,2233.96 712.18,2234.57 713.36,2232.7 714.54,2230 715.71,2232.5 716.89,2238.44 718.07,2246.76 719.24,2255.56 720.25,2264.87 721.26,2276.21 722.27,2288.59 723.28,2302.1 724.29,2313.02 725.3,2321.38 726.31,2324.11 727.48,2321.37 728.66,2314 729.84,2305.22 731.02,2295.99 732.19,2283.45 733.37,2266.74 734.55,2248.99 735.72,2235.47 736.9,2230.91 738.08,2231.84 739.26,2234.24 740.43,2236.22 741.61,2236.61 742.63,2234.42 743.65,2231.03 744.67,2229.79 745.71,2231.63 746.74,2234.69 747.78,2239.66 748.81,2245.19 749.85,2250.63 751.03,2256.85 752.2,2263.78 753.38,2271.32 754.56,2279.06 755.62,2289.46 756.68,2302.78 757.74,2314.63 758.8,2319.31 759.83,2318.8 760.87,2317.17 761.9,2313.94 762.94,2310.8 763.98,2307.62 765.15,2299.03 766.33,2284.1 767.51,2267.41 768.68,2255.27 769.86,2246.21 771.04,2238.73 772.22,2231.6 773.39,2226.08 774.57,2223.23 775.75,2226.89 776.92,2234.65 778.1,2243.2 779.28,2246.51 780.46,2243.55 781.63,2239.15 782.81,2236.12 783.99,2241.55 785.16,2252.8 786.34,2266.84 787.52,2279.12 788.7,2292.6 789.87,2304.91 791.05,2312.11 792.23,2312.89 793.4,2313.54 794.58,2313.55 795.59,2310.45 796.6,2302.18 797.61,2291.21 798.62,2278.33 799.63,2266.01 800.64,2253.85 801.65,2243.97 802.7,2235.07 803.76,2225.74 804.82,2219.25 805.88,2217.37 806.92,2218.1 807.95,2220.67 808.99,2224.35 810.03,2228.1 811.06,2232.44 812.24,2235.9 813.42,2239.29 814.59,2246.12 815.77,2256.3 816.95,2267.85 818.13,2279.17 819.3,2292.79 820.48,2305.99 821.66,2311.83 822.83,2311.77 824.01,2311.92 825.19,2311.98 826.37,2305.42 827.54,2287.75 828.72,2268.41 829.9,2255.6 830.91,2249.16 831.91,2244.07 832.92,2238.45 833.93,2233.85 834.94,2229.66 835.95,2227.73 836.96,2227.1 838.14,2227.7 839.31,2229.61 840.49,2231.66 841.67,2234.11 842.85,2238.22 844.02,2244.25 845.2,2251 846.38,2257.53 847.55,2264.42 848.73,2271.44 849.91,2278.7 851.09,2285.89 852.26,2294.32 853.44,2303.91 854.62,2311.95 855.79,2314.46 856.97,2312.81 858.15,2308.93 859.33,2303.93 860.5,2298.21 861.68,2290.43 862.86,2279.67 864.03,2267.05 865.21,2255.09 866.39,2242.51 867.57,2229.53 868.74,2223.16 869.92,2223.75 871.1,2225.58 872.27,2228.5 873.45,2231.9 874.63,2236.14 875.81,2241.04 876.98,2247.15 878.16,2254.6 879.34,2262.5 880.35,2270.77 881.36,2280.98 882.36,2291.34 883.37,2302.03 884.38,2310.31 885.39,2316.6 886.4,2319.45 887.58,2318.32 888.76,2314.24 889.93,2308.95 891.11,2302.12 892.29,2291.93 893.46,2275.5 894.64,2260.49 895.82,2250.91 896.9,2246.76 897.99,2243.6 899.08,2241.3 900.16,2239.04 901.25,2236.73 902.34,2234.58 903.42,2233.31 904.51,2232.92 905.59,2232.64 906.65,2236.1 907.71,2243.06 908.77,2253.31 909.83,2262.94 910.89,2272.06 912.22,2281.28 913.54,2288.93 914.86,2296.37 916.19,2304.66 917.51,2313.16 918.84,2317.03 920.16,2316.19 921.49,2312.43 922.81,2307.04 924.13,2293.92 925.46,2275.4 926.78,2259.36 928.11,2246.11 929.43,2235.31 930.76,2230.32 931.86,2230.55 932.96,2231.07 934.07,2231.79 935.17,2232.8 936.27,2234.87 937.38,2236.81 938.48,2239.16 939.58,2242.36 940.69,2245.67 941.79,2250.29 942.9,2256.07 944,2262.66 945.32,2271.95 946.65,2284.17 947.97,2295.72 949.03,2304.98 950.09,2312.6 951.15,2316.86 952.34,2315.36 953.53,2313.23 954.73,2309.94 955.92,2306.51 956.98,2298.15 958.04,2282.12 959.1,2264.14 960.16,2248.97 961.21,2241.01 962.32,2237.77 963.42,2235.15 964.53,2234 965.63,2233.08 966.73,2231.89 967.84,2231.65 968.9,2232.42 969.95,2234.07 971.01,2237.69 972.07,2241.56 973.13,2246.63 974.46,2253.19 975.78,2262.81 977.11,2271.96 978.17,2280.82 979.23,2290.75 980.28,2299.02 981.34,2306.01 982.4,2309.26 983.73,2310.6 985.05,2311.64 986.38,2312.22 987.44,2308.04 988.5,2296.58 989.55,2282.47 990.61,2269.18 991.67,2259.13 992.78,2252.12 993.88,2244.92 994.98,2237.83 996.09,2231.69 997.19,2228.36 998.29,2227.45 999.35,2228.4 1000.41,2230.29 1001.47,2232.19 1002.53,2233.79 1003.59,2234.77 1004.92,2234.54 1006.24,2234.25 1007.3,2237.65 1008.36,2245.6 1009.42,2256.7 1010.48,2268.4 1011.54,2277.94 1012.64,2285.79 1013.74,2294.19 1014.85,2302.1 1015.95,2308 1017.06,2312.92 1018.16,2314.25 1019.26,2311.81 1020.37,2304.86 1021.47,2295.05 1022.57,2283.48 1023.68,2272.44 1024.78,2264.08 1025.88,2257.18 1026.99,2250.11 1028.09,2242.28 1029.2,2235.71 1030.3,2231.81 1031.4,2229.93 1032.51,2230 1033.61,2229.67 1034.71,2229.02 1035.82,2228.74 1036.92,2228.8 1038.02,2229.17 1039.35,2232.71 1040.67,2241.19 1042,2250.69 1043.06,2258.48 1044.12,2267.37 1045.17,2276.06 1046.23,2284.97 1047.29,2293.14 1048.62,2306.72 1049.94,2314.65 1051.05,2313.14 1052.15,2308 1053.25,2300.27 1054.36,2291.15 1055.46,2282.06 1056.56,2273.02 1057.62,2260.73 1058.68,2244.88 1059.74,2229.51 1060.8,2217.49 1061.86,2212.94 1062.92,2215.67 1063.98,2220.87 1065.04,2227.82 1066.1,2234.72 1067.16,2240.48 1068.48,2245.37 1069.81,2249.32 1071.13,2253.54 1072.46,2259.84 1073.78,2267.26 1075.1,2275.23 1076.21,2282.99 1077.31,2291.71 1078.41,2300.93 1079.52,2309.21 1080.62,2315.39 1081.73,2317.5 1082.78,2317.55 1083.84,2316.3 1084.9,2314.08 1085.96,2311.63 1087.02,2309.18 1088.13,2302.73 1089.23,2289.04 1090.33,2272.45 1091.44,2255.97 1092.54,2242.15 1093.64,2235.28 1094.7,2232.53 1095.76,2230.85 1096.82,2228.77 1097.88,2227.22 1098.94,2226.35 1100.04,2227.94 1101.15,2230.5 1102.25,2234.61 1103.36,2238.52 1104.46,2243.23 1105.56,2248.46 1106.89,2255.85 1108.21,2265.42 1109.54,2275.43 1110.86,2289.44 1112.18,2304.45 1113.51,2311.76 1114.61,2312.32 1115.72,2312.21 1116.82,2310.68 1117.92,2309.83 1119.03,2307.86 1120.13,2306.55 1121.19,2299.22 1122.25,2283.65 1123.31,2264.7 1124.37,2247.45 1125.43,2237.58 1126.49,2233.5 1127.55,2230.18 1128.61,2227.34 1129.66,2225.46 1130.72,2224.71 1131.78,2225.1 1132.84,2228.14 1133.9,2232.23 1134.96,2236.85 1136.02,2240.86 1137.08,2245.1 1138.14,2250.11 1139.2,2255.46 1140.26,2261.43 1141.32,2267.07 1142.45,2274.55 1143.59,2281.94 1144.72,2290.74 1145.86,2298.68 1146.99,2306.06 1148.13,2310.9 1149.26,2311.96 1150.37,2310.22 1151.47,2304.71 1152.57,2297.65 1153.68,2289.22 1154.78,2280.94 1155.89,2272.4 1156.99,2263.68 1158.09,2253.19 1159.2,2242.68 1160.3,2234.29 1161.4,2227.33 1162.51,2225.09 1163.64,2225.22 1164.78,2225.72 1165.91,2228.16 1167.05,2230.34 1168.18,2233.45 1169.32,2236.31 1170.45,2239.22 1171.51,2243.9 1172.57,2251.62 1173.63,2260.87 1174.69,2269.53 1175.75,2277.74 1176.85,2286.32 1177.96,2296.15 1179.06,2306.26 1180.16,2314.79 1181.27,2320.43 1182.37,2322.43 1183.48,2321.39 1184.58,2320.07 1185.68,2317.81 1186.79,2314.19 1187.89,2309.42 1188.99,2304.28 1190.05,2294.17 1191.11,2278.64 1192.17,2261.49 1193.23,2246.4 1194.29,2238.14 1195.43,2234.42 1196.56,2231.33 1197.7,2229.57 1198.83,2228.16 1199.97,2226.15 1201.1,2224.53 1202.24,2224.26 1203.34,2225.2 1204.44,2227.71 1205.55,2230.38 1206.65,2233.31 1207.75,2236.5 1208.86,2240.27 1209.96,2244.89 1211.06,2251.15 1212.17,2258.18 1213.27,2264.69 1214.38,2271.23 1215.48,2277.55 1216.61,2284.56 1217.75,2292.71 1218.88,2300.9 1220.02,2308.34 1221.15,2314.32 1222.29,2318.33 1223.42,2319.85 1224.53,2317.25 1225.63,2310.01 1226.74,2299.19 1227.84,2286.77 1228.94,2274.51 1230.05,2264.06 1231.11,2255.1 1232.16,2245 1233.22,2235.11 1234.28,2227.29 1235.34,2224.07 1236.67,2229.76 1237.99,2240.08 1239.32,2249.08 1240.38,2252.81 1241.44,2256.03 1242.49,2258.89 1243.55,2261.54 1244.61,2264.37 1245.67,2267.36 1246.73,2268.59 1247.79,2270.07 1248.85,2271.86 1249.91,2275.31 1250.97,2281.98 1252.03,2291.94 1253.09,2302.34 1254.15,2310.72 1255.21,2314.41 1256.27,2314.5 1257.33,2313.5 1258.39,2311.08 1259.45,2308.14 1260.5,2304.81 1261.64,2299.88 1262.78,2289.97 1263.91,2276.96 1265.05,2263.39 1266.18,2250.61 1267.32,2241.35 1268.45,2235.97 1269.55,2232.92 1270.66,2229.73 1271.76,2227.04 1272.86,2225.81 1273.97,2225.31 1275.07,2225.08 1276.18,2226.02 1277.28,2228.8 1278.38,2233.02 1279.49,2238.6 1280.59,2243.89 1281.69,2249.1 1282.75,2252.79 1283.81,2256.85 1284.87,2261.52 1285.93,2266.67 1286.99,2272.75 1288.09,2279.81 1289.2,2289.55 1290.3,2299.45 1291.4,2309.18 1292.51,2316.31 1293.61,2319 1294.67,2317.58 1295.73,2314.11 1296.79,2309.85 1297.85,2304.59 1298.91,2299.54 1299.97,2289.38 1301.03,2273.3 1302.09,2257.13 1303.15,2243.39 1304.21,2235.93 1305.27,2231.85 1306.33,2228.99 1307.38,2226.33 1308.44,2224.97 1309.5,2224.71 1310.83,2227.3 1312.15,2230.86 1313.48,2234.74 1314.58,2238.7 1315.68,2243.31 1316.79,2247.93 1317.89,2252.89 1318.99,2258.09 1320.1,2264.24 1321.2,2272.66 1322.31,2285.64 1323.41,2298.98 1324.51,2310.98 1325.62,2319.29 1326.72,2322.23 1327.78,2321.08 1328.84,2319.36 1329.9,2316.77 1330.96,2312.07 1332.02,2307.2 1333.12,2297.18 1334.22,2281.13 1335.33,2263.13 1336.43,2246.1 1337.53,2233.2 1338.64,2227.28 1339.96,2226.91 1341.29,2227.06 1342.61,2227.31" fill="none" stroke="#4040ff" stroke-width="1.5" stroke-linejoin="round"/>
</g>
<line x1="116.7" y1="2149.1" x2="1343.8" y2="2149.1" stroke="#8a8a8a" stroke-width="1.7"/>
<line x1="116.7" y1="2384.3" x2="1343.8" y2="2384.3" stroke="#8a8a8a" stroke-width="1.7"/>
<line x1="116.7" y1="2148.25" x2="116.7" y2="2385.15" stroke="#8a8a8a" stroke-width="1.7"/>
<line x1="1343.8" y1="2148.25" x2="1343.8" y2="2385.15" stroke="#ef9a78" stroke-width="1.7"/>
<line x1="123.6" y1="2384.3" x2="123.6" y2="2372.8" stroke="#8a8a8a" stroke-width="1.7"/>
<line x1="123.6" y1="2149.1" x2="123.6" y2="2160.6" stroke="#8a8a8a" stroke-width="1.7"/>
<line x1="243.34" y1="2384.3" x2="243.34" y2="2372.8" stroke="#8a8a8a" stroke-width="1.7"/>
<line x1="243.34" y1="2149.1" x2="243.34" y2="2160.6" stroke="#8a8a8a" stroke-width="1.7"/>
<line x1="363.08" y1="2384.3" x2="363.08" y2="2372.8" stroke="#8a8a8a" stroke-width="1.7"/>
<line x1="363.08" y1="2149.1" x2="363.08" y2="2160.6" stroke="#8a8a8a" stroke-width="1.7"/>
<line x1="482.82" y1="2384.3" x2="482.82" y2="2372.8" stroke="#8a8a8a" stroke-width="1.7"/>
<line x1="482.82" y1="2149.1" x2="482.82" y2="2160.6" stroke="#8a8a8a" stroke-width="1.7"/>
<line x1="602.56" y1="2384.3" x2="602.56" y2="2372.8" stroke="#8a8a8a" stroke-width="1.7"/>
<line x1="602.56" y1="2149.1" x2="602.56" y2="2160.6" stroke="#8a8a8a" stroke-width="1.7"/>
<line x1="722.3" y1="2384.3" x2="722.3" y2="2372.8" stroke="#8a8a8a" stroke-width="1.7"/>
<line x1="722.3" y1="2149.1" x2="722.3" y2="2160.6" stroke="#8a8a8a" stroke-width="1.7"/>
<line x1="842.04" y1="2384.3" x2="842.04" y2="2372.8" stroke="#8a8a8a" stroke-width="1.7"/>
<line x1="842.04" y1="2149.1" x2="842.04" y2="2160.6" stroke="#8a8a8a" stroke-width="1.7"/>
<line x1="961.78" y1="2384.3" x2="961.78" y2="2372.8" stroke="#8a8a8a" stroke-width="1.7"/>
<line x1="961.78" y1="2149.1" x2="961.78" y2="2160.6" stroke="#8a8a8a" stroke-width="1.7"/>
<line x1="1081.52" y1="2384.3" x2="1081.52" y2="2372.8" stroke="#8a8a8a" stroke-width="1.7"/>
<line x1="1081.52" y1="2149.1" x2="1081.52" y2="2160.6" stroke="#8a8a8a" stroke-width="1.7"/>
<line x1="1201.26" y1="2384.3" x2="1201.26" y2="2372.8" stroke="#8a8a8a" stroke-width="1.7"/>
<line x1="1201.26" y1="2149.1" x2="1201.26" y2="2160.6" stroke="#8a8a8a" stroke-width="1.7"/>
<line x1="1321" y1="2384.3" x2="1321" y2="2372.8" stroke="#8a8a8a" stroke-width="1.7"/>
<line x1="1321" y1="2149.1" x2="1321" y2="2160.6" stroke="#8a8a8a" stroke-width="1.7"/>
<line x1="116.7" y1="2149.1" x2="128.2" y2="2149.1" stroke="#8a8a8a" stroke-width="1.7"/>
<line x1="116.7" y1="2266.85" x2="128.2" y2="2266.85" stroke="#8a8a8a" stroke-width="1.7"/>
<line x1="116.7" y1="2384.6" x2="128.2" y2="2384.6" stroke="#8a8a8a" stroke-width="1.7"/>
<line x1="1343.8" y1="2317.2" x2="1332.3" y2="2317.2" stroke="#ef9a78" stroke-width="1.7"/>
<line x1="1343.8" y1="2239.1" x2="1332.3" y2="2239.1" stroke="#ef9a78" stroke-width="1.7"/>
<line x1="1343.8" y1="2161" x2="1332.3" y2="2161" stroke="#ef9a78" stroke-width="1.7"/>
<text x="102.06" y="2421.82" font-family="'Liberation Sans', Arial, sans-serif" font-size="26.1" fill="#262626" textLength="43.11" lengthAdjust="spacingAndGlyphs">300</text>
<text x="221.8" y="2421.82" font-family="'Liberation Sans', Arial, sans-serif" font-size="26.1" fill="#262626" textLength="43.11" lengthAdjust="spacingAndGlyphs">310</text>
<text x="341.54" y="2421.82" font-family="'Liberation Sans', Arial, sans-serif" font-size="26.1" fill="#262626" textLength="43.11" lengthAdjust="spacingAndGlyphs">320</text>
<text x="461.28" y="2421.82" font-family="'Liberation Sans', Arial, sans-serif" font-size="26.1" fill="#262626" textLength="43.11" lengthAdjust="spacingAndGlyphs">330</text>
<text x="581.02" y="2421.82" font-family="'Liberation Sans', Arial, sans-serif" font-size="26.1" fill="#262626" textLength="43.11" lengthAdjust="spacingAndGlyphs">340</text>
<text x="700.76" y="2421.82" font-family="'Liberation Sans', Arial, sans-serif" font-size="26.1" fill="#262626" textLength="43.11" lengthAdjust="spacingAndGlyphs">350</text>
<text x="820.5" y="2421.82" font-family="'Liberation Sans', Arial, sans-serif" font-size="26.1" fill="#262626" textLength="43.11" lengthAdjust="spacingAndGlyphs">360</text>
<text x="940.24" y="2421.82" font-family="'Liberation Sans', Arial, sans-serif" font-size="26.1" fill="#262626" textLength="43.11" lengthAdjust="spacingAndGlyphs">370</text>
<text x="1059.98" y="2421.82" font-family="'Liberation Sans', Arial, sans-serif" font-size="26.1" fill="#262626" textLength="43.11" lengthAdjust="spacingAndGlyphs">380</text>
<text x="1179.72" y="2421.82" font-family="'Liberation Sans', Arial, sans-serif" font-size="26.1" fill="#262626" textLength="43.11" lengthAdjust="spacingAndGlyphs">390</text>
<text x="1299.65" y="2421.82" font-family="'Liberation Sans', Arial, sans-serif" font-size="26.1" fill="#262626" textLength="43.11" lengthAdjust="spacingAndGlyphs">400</text>
<text x="49.43" y="2159.61" font-family="'Liberation Sans', Arial, sans-serif" font-size="26.1" fill="#262626" textLength="57.48" lengthAdjust="spacingAndGlyphs">5000</text>
<text x="92.54" y="2277.36" font-family="'Liberation Sans', Arial, sans-serif" font-size="26.1" fill="#262626" textLength="14.37" lengthAdjust="spacingAndGlyphs">0</text>
<text x="40.82" y="2395.11" font-family="'Liberation Sans', Arial, sans-serif" font-size="26.1" fill="#262626" textLength="66.09" lengthAdjust="spacingAndGlyphs">-5000</text>
<text x="1352.57" y="2327.61" font-family="'Liberation Sans', Arial, sans-serif" font-size="26.1" fill="#D95319" textLength="43.11" lengthAdjust="spacingAndGlyphs">560</text>
<text x="1352.57" y="2249.51" font-family="'Liberation Sans', Arial, sans-serif" font-size="26.1" fill="#D95319" textLength="43.11" lengthAdjust="spacingAndGlyphs">580</text>
<text x="1352.29" y="2171.41" font-family="'Liberation Sans', Arial, sans-serif" font-size="26.1" fill="#D95319" textLength="43.11" lengthAdjust="spacingAndGlyphs">600</text>
<text x="681.77" y="2457.7" font-family="'Liberation Sans', Arial, sans-serif" font-size="30.09" fill="#262626" textLength="103.18" lengthAdjust="spacingAndGlyphs">Time (s)</text>
<text transform="translate(29.5 2407.57) rotate(-90)" x="0" y="0" font-family="'Liberation Sans', Arial, sans-serif" font-size="28.92" fill="#262626" textLength="280.76" lengthAdjust="spacingAndGlyphs">Breath Amplitude (au)</text>
<text transform="translate(1432 2402.25) rotate(-90)" x="0" y="0" font-family="'Liberation Sans', Arial, sans-serif" font-size="29.8" fill="#D95319" textLength="270.32" lengthAdjust="spacingAndGlyphs">Peak Frequency (Hz)</text>
<text x="1069.77" y="2125" font-family="Carlito, Calibri, 'Liberation Sans', sans-serif" font-size="59.63" fill="#000" textLength="273.01" lengthAdjust="spacingAndGlyphs">Participant</text>
<text x="1350.68" y="2125" font-family="Carlito, Calibri, 'Liberation Sans', sans-serif" font-size="59.63" fill="#000" textLength="32.98" lengthAdjust="spacingAndGlyphs">6</text>
<rect x="1119.2" y="2161.5" width="211.8" height="72" fill="#fff" stroke="none"/>
<line x1="1119.2" y1="2161.5" x2="1331" y2="2161.5" stroke="#8c8c8c" stroke-width="1.6"/>
<line x1="1331" y1="2161.5" x2="1331" y2="2233.5" stroke="#8c8c8c" stroke-width="1.6"/>
<line x1="1113.9" y1="2180" x2="1156.3" y2="2180" stroke="#5050ff" stroke-width="1.6"/>
<line x1="1113.9" y1="2215" x2="1156.3" y2="2215" stroke="#ff5a5a" stroke-width="1.6"/>
<text x="1183.23" y="2192" font-family="Carlito, Calibri, 'Liberation Sans', sans-serif" font-size="18.17" fill="#1a1a1a" textLength="99.48" lengthAdjust="spacingAndGlyphs" stroke="#1a1a1a" stroke-width="0.35">Breath Cycle</text>
<text x="1182.5" y="2217.5" font-family="Carlito, Calibri, 'Liberation Sans', sans-serif" font-size="19.6" fill="#1a1a1a" stroke="#1a1a1a" stroke-width="0.3" font-style="italic">f<tspan font-size="14.11" dy="3">peak</tspan><tspan dy="-3">(t)</tspan></text>
<path d="M1187.4 2222 L1188.9 2222.8 L1190.4 2221.8 L1191.9 2222.8 L1193.4 2221.8 L1194.9 2222.8 L1196.4 2221.8 L1197.9 2222.8 L1199.4 2221.8 L1200.9 2222.8 L1202.4 2221.8 L1203.9 2222.8 L1205.4 2221.8 L1206.9 2222.8 L1208.4 2221.8 L1209.9 2222.8 L1211.4 2221.8 L1212.9 2222.8 L1214.4 2221.8" fill="none" stroke="#e05050" stroke-width="0.8"/>
<clipPath id="sp1"><rect x="1444.3" y="115" width="390.6" height="290.2"/></clipPath>
<g clip-path="url(#sp1)" opacity="0.8">
<polyline points="1443.68,405.14 1443.68,405.14 1445.98,395.29 1449.26,352.6 1452.55,369.02 1455.83,349.31 1459.12,365.73 1461.94,339.42 1462.4,346.03 1465.25,374 1465.69,375.59 1467.84,349.49 1468.97,349.31 1470.61,339.46 1473.9,375.59 1477.18,359.16 1478.82,349.31 1480.58,317.68 1482.11,309.9 1483.89,302.18 1485.39,273.77 1488.68,290.19 1490.32,211.37 1491.96,119.41 1495.24,178.53 1496.89,122.7 1498.19,65.33 1500.17,145.69 1503.21,232.49 1503.46,244.21 1505.96,363.82 1506.74,375.59 1509.23,336.13 1510.02,332.89 1511.59,374.78 1513.31,369.02 1514.62,359.74 1516.59,349.31 1517.93,353.21 1519.88,342.74 1523.16,365.73 1525.95,349.48 1526.45,349.31 1528.83,359.43 1529.73,359.16 1532.16,310.61 1533.01,306.62 1534.67,354.28 1536.3,369.02 1539.51,354.09 1539.58,329.61 1542.64,351.3 1542.87,365.73 1545.57,372.38 1547.79,349.31 1548.87,335.93 1551.73,356.62 1552.72,336.17 1554.9,340.64 1557.32,371.37 1557.65,359.16 1559.91,385.43 1560.93,398.58 1562.29,395.95 1564.21,388.72 1567.5,385.44 1570.76,391.74 1570.78,392.01 1573.91,394.27 1574.07,385.44 1576.61,384.72 1578.99,392.01 1582.28,380.85 1583.92,382.15 1584.96,390.94 1587.92,391.03 1588.85,395.29 1590.55,393.75 1593.23,383.49 1596.05,389.42 1597.06,382.15 1599.36,381.13 1602.03,390.3 1603.63,388.72 1604.84,387.32 1607.34,391.44 1610.19,382.15 1612.97,391.9 1616.09,389.48 1616.76,392.01 1618.54,397.3 1621.67,393.44 1623.33,395.29 1626.56,397.65 1628.84,403.19 1629.9,403.5 1631.34,401.42 1634.54,400.88 1636.47,395.29 1637.85,393.87 1640.63,397.45 1643.04,395.29 1646.63,397.2 1649.61,390.37 1652.87,395.22 1656.17,395.29 1659.19,398.83 1661.85,389.88 1662.74,392.01 1664.69,395.96 1667.09,396.06 1669.31,398.58 1672.14,395.26 1674.72,398.7 1675.88,395.29 1677.6,394.52 1680.04,398.59 1682.45,398.58 1686.5,398.22 1689.02,396.93 1692.58,401.59 1695.36,398.58 1695.59,400.22 1698.69,401.45 1702.02,396.57 1702.15,396.93 1704.74,400.83 1707.21,398.4 1708.72,400.22 1710.39,401.94 1713.47,400.82 1715.29,401.86 1719.06,400.69 1722.37,402.1 1724.73,398.99 1725.14,400.22 1727.84,400.69 1730.44,400.03 1732.9,401.73 1735,401.86 1738.28,402.88 1741.27,402.26 1744.53,403.82 1747.2,403.35 1748.13,403.5 1749.57,403.48 1752.7,402.43 1755.4,403.14 1757.84,402.24 1760.9,403.14 1761.27,401.86 1763.99,400.53 1766.28,402.48 1768.66,400.7 1771.96,401.25 1774.41,400.22 1777.86,402 1780.33,401.45 1782.83,403.22 1785.63,402.63 1787.55,403.5" fill="none" stroke="#ff4848" stroke-width="1.2" stroke-linejoin="round"/>
<polyline points="1443.68,405.14 1443.68,405.14 1446.59,401.96 1449.26,398.58 1452.82,397.83 1455.44,395.42 1455.83,396.93 1458.65,391.07 1459.12,382.15 1462.18,385.42 1462.4,388.72 1464.67,395.11 1467.33,400.22 1470.29,393.21 1470.61,390.37 1473.86,385.64 1475.54,388.72 1476.62,385.32 1478.82,369.02 1481.88,365.99 1483.75,349.31 1487.35,345.36 1488.68,309.9 1490.8,209.29 1491.96,211.37 1493.91,191.91 1495.24,145.69 1497.05,193.44 1498.53,293.48 1499.75,251.5 1500.17,152.25 1502.52,141.37 1503.46,178.53 1505.54,266.93 1506.74,309.9 1508.91,339.54 1510.02,362.45 1511.76,379.77 1513.31,388.72 1515.04,358.6 1516.59,332.89 1517.95,374.72 1519.88,385.44 1521.18,362.16 1523.8,351.93 1524.8,329.61 1527.33,345.52 1529.73,369.02 1532.9,355.67 1534.66,359.16 1536.35,351.86 1539.49,261.08 1539.58,286.91 1542.11,362.99 1542.87,352.6 1545.2,323.68 1546.15,316.47 1548.59,318.69 1550.42,313.18 1551.77,321.5 1554.36,372.3 1557.41,343.87 1557.65,342.74 1560.66,323.12 1560.93,316.47 1563.41,311.98 1564.21,316.47 1566.39,360.09 1567.5,375.59 1569.61,360.6 1570.78,352.6 1572.17,377.61 1574.07,375.59 1575.73,359.92 1578.2,362.52 1578.99,355.88 1581.78,362.46 1583.92,382.15 1587.1,369.44 1588.85,362.45 1593.13,370.16 1593.77,375.59 1596.43,370.44 1598.7,342.74 1602.22,366.78 1603.63,375.59 1604.63,365.41 1607.17,370.22 1609.91,343.13 1610.19,352.6 1612.53,371.75 1615.79,366.97 1616.76,375.59 1618.59,376.55 1620.05,352.6 1622.05,320.51 1624.47,333.99 1624.97,303.33 1627.27,312.99 1628.26,342.74 1629.78,367.34 1631.54,388.72 1635.11,361.95 1636.47,349.31 1638.62,340.23 1641.34,356.29 1643.04,339.46 1644.86,363.88 1646.32,385.44 1647.5,390.88 1650.94,377.46 1652.89,375.59 1653.94,375.63 1657.45,362.39 1659.46,362.45 1661.05,372.35 1662.74,382.15 1664.6,373.86 1667.23,371.44 1667.67,365.73 1670.06,342.34 1672.6,342.74 1676.14,319.69 1679.16,329.61 1682.45,319.75 1685.63,321.02 1687.38,303.33 1689.14,312.95 1690.66,339.46 1692.44,343.26 1693.94,309.9 1695.87,321.09 1698.44,373.52 1698.87,369.02 1701.51,354.26 1703.8,349.31 1707.08,362.45 1708.35,359.19 1710.94,373.41 1712.01,375.59 1713.93,368.69 1716.93,369.02 1720.18,376.43 1721.86,388.72 1722.94,387.18 1725.96,377.74 1728.43,375.59 1731.29,374.91 1734.32,386.36 1735,382.15 1737.58,382.45 1740.88,391.36 1741.57,385.44 1743.46,382.71 1746.14,392.43 1748.13,388.72 1751.81,392.2 1754.48,378.71 1754.7,382.15 1757.73,390.11 1760.36,388.43 1761.27,392.01 1763.65,394.1 1766.5,379.08 1767.84,382.15 1769.74,391.54 1772.44,389.09 1774.41,395.29 1775.47,396.88 1778.15,388.43 1780.76,391.62 1780.98,388.72 1783.53,386.38 1786.28,394.41 1787.55,388.72 1789.34,389.9 1792.68,394.02 1794.11,395.29 1795.36,392.08 1798.31,392.14 1800.68,385.44 1801.87,387.81 1804.47,395.09 1807.25,401.86 1810.77,397.43 1813.82,392.01 1817.13,394.26 1820.01,394.13 1820.39,395.29 1823.58,393.05 1826.2,387.21 1826.96,388.72 1829.27,395.17 1832.27,392.59 1835.17,395.29" fill="none" stroke="#4848ff" stroke-width="1.2" stroke-linejoin="round"/>
</g>
<line x1="1444.3" y1="117" x2="1834.9" y2="117" stroke="#b5b5b5" stroke-width="1.2"/>
<line x1="1444.3" y1="405.2" x2="1834.9" y2="405.2" stroke="#b5b5b5" stroke-width="1.2"/>
<line x1="1444.3" y1="117" x2="1444.3" y2="405.2" stroke="#9cc6e6" stroke-width="1.2"/>
<line x1="1834.9" y1="117" x2="1834.9" y2="405.2" stroke="#f3b096" stroke-width="1.2"/>
<line x1="1444.3" y1="405.2" x2="1444.3" y2="401.2" stroke="#9a9a9a" stroke-width="1.2"/>
<line x1="1444.3" y1="117" x2="1444.3" y2="121" stroke="#9a9a9a" stroke-width="1.2"/>
<text x="1438.68" y="432.7" font-family="'Liberation Sans', Arial, sans-serif" font-size="20.2" fill="#262626" textLength="11.23" lengthAdjust="spacingAndGlyphs">0</text>
<line x1="1574.5" y1="405.2" x2="1574.5" y2="401.2" stroke="#9a9a9a" stroke-width="1.2"/>
<line x1="1574.5" y1="117" x2="1574.5" y2="121" stroke="#9a9a9a" stroke-width="1.2"/>
<text x="1560.49" y="432.7" font-family="'Liberation Sans', Arial, sans-serif" font-size="20.2" fill="#262626" textLength="28.08" lengthAdjust="spacingAndGlyphs">0.5</text>
<line x1="1704.7" y1="405.2" x2="1704.7" y2="401.2" stroke="#9a9a9a" stroke-width="1.2"/>
<line x1="1704.7" y1="117" x2="1704.7" y2="121" stroke="#9a9a9a" stroke-width="1.2"/>
<text x="1698.81" y="432.7" font-family="'Liberation Sans', Arial, sans-serif" font-size="20.2" fill="#262626" textLength="11.23" lengthAdjust="spacingAndGlyphs">1</text>
<line x1="1834.9" y1="405.2" x2="1834.9" y2="401.2" stroke="#9a9a9a" stroke-width="1.2"/>
<line x1="1834.9" y1="117" x2="1834.9" y2="121" stroke="#9a9a9a" stroke-width="1.2"/>
<text x="1820.51" y="432.7" font-family="'Liberation Sans', Arial, sans-serif" font-size="20.2" fill="#262626" textLength="28.08" lengthAdjust="spacingAndGlyphs">1.5</text>
<line x1="1444.3" y1="405.2" x2="1448.3" y2="405.2" stroke="#9cc6e6" stroke-width="1.2"/>
<text x="1426.65" y="413.15" font-family="'Liberation Sans', Arial, sans-serif" font-size="20.2" fill="#2b87c8" textLength="11.23" lengthAdjust="spacingAndGlyphs">0</text>
<line x1="1444.3" y1="347.56" x2="1448.3" y2="347.56" stroke="#9cc6e6" stroke-width="1.2"/>
<text x="1426.85" y="355.51" font-family="'Liberation Sans', Arial, sans-serif" font-size="20.2" fill="#2b87c8" textLength="11.23" lengthAdjust="spacingAndGlyphs">1</text>
<line x1="1444.3" y1="289.92" x2="1448.3" y2="289.92" stroke="#9cc6e6" stroke-width="1.2"/>
<text x="1426.88" y="297.87" font-family="'Liberation Sans', Arial, sans-serif" font-size="20.2" fill="#2b87c8" textLength="11.23" lengthAdjust="spacingAndGlyphs">2</text>
<line x1="1444.3" y1="232.28" x2="1448.3" y2="232.28" stroke="#9cc6e6" stroke-width="1.2"/>
<text x="1426.75" y="240.23" font-family="'Liberation Sans', Arial, sans-serif" font-size="20.2" fill="#2b87c8" textLength="11.23" lengthAdjust="spacingAndGlyphs">3</text>
<line x1="1444.3" y1="174.64" x2="1448.3" y2="174.64" stroke="#9cc6e6" stroke-width="1.2"/>
<text x="1426.46" y="182.59" font-family="'Liberation Sans', Arial, sans-serif" font-size="20.2" fill="#2b87c8" textLength="11.23" lengthAdjust="spacingAndGlyphs">4</text>
<line x1="1444.3" y1="117" x2="1448.3" y2="117" stroke="#9cc6e6" stroke-width="1.2"/>
<text x="1426.71" y="124.95" font-family="'Liberation Sans', Arial, sans-serif" font-size="20.2" fill="#2b87c8" textLength="11.23" lengthAdjust="spacingAndGlyphs">5</text>
<line x1="1834.9" y1="405.2" x2="1830.9" y2="405.2" stroke="#f3b096" stroke-width="1.2"/>
<text x="1841.7" y="413.15" font-family="'Liberation Sans', Arial, sans-serif" font-size="20.2" fill="#D9703F" textLength="11.23" lengthAdjust="spacingAndGlyphs">0</text>
<line x1="1834.9" y1="357.17" x2="1830.9" y2="357.17" stroke="#f3b096" stroke-width="1.2"/>
<text x="1841.7" y="365.12" font-family="'Liberation Sans', Arial, sans-serif" font-size="20.2" fill="#D9703F" textLength="22.47" lengthAdjust="spacingAndGlyphs">50</text>
<line x1="1834.9" y1="309.13" x2="1830.9" y2="309.13" stroke="#f3b096" stroke-width="1.2"/>
<text x="1841.7" y="317.08" font-family="'Liberation Sans', Arial, sans-serif" font-size="20.2" fill="#D9703F" textLength="33.7" lengthAdjust="spacingAndGlyphs">100</text>
<line x1="1834.9" y1="261.1" x2="1830.9" y2="261.1" stroke="#f3b096" stroke-width="1.2"/>
<text x="1841.7" y="269.05" font-family="'Liberation Sans', Arial, sans-serif" font-size="20.2" fill="#D9703F" textLength="33.7" lengthAdjust="spacingAndGlyphs">150</text>
<line x1="1834.9" y1="213.07" x2="1830.9" y2="213.07" stroke="#f3b096" stroke-width="1.2"/>
<text x="1841.7" y="221.02" font-family="'Liberation Sans', Arial, sans-serif" font-size="20.2" fill="#D9703F" textLength="33.7" lengthAdjust="spacingAndGlyphs">200</text>
<line x1="1834.9" y1="165.03" x2="1830.9" y2="165.03" stroke="#f3b096" stroke-width="1.2"/>
<text x="1841.7" y="172.98" font-family="'Liberation Sans', Arial, sans-serif" font-size="20.2" fill="#D9703F" textLength="33.7" lengthAdjust="spacingAndGlyphs">250</text>
<line x1="1834.9" y1="117" x2="1830.9" y2="117" stroke="#f3b096" stroke-width="1.2"/>
<text x="1841.7" y="124.95" font-family="'Liberation Sans', Arial, sans-serif" font-size="20.2" fill="#D9703F" textLength="33.7" lengthAdjust="spacingAndGlyphs">300</text>
<text x="1556.92" y="110.84" font-family="'Liberation Sans', Arial, sans-serif" font-size="22.22" fill="#111" textLength="165.48" lengthAdjust="spacingAndGlyphs" font-weight="bold">Selected Range</text>
<text x="1562.82" y="460.44" font-family="'Liberation Sans', Arial, sans-serif" font-size="22.22" fill="#262626" textLength="153.11" lengthAdjust="spacingAndGlyphs">Frequency (Hz)</text>
<text transform="translate(1417.01 349.06) rotate(-90)" x="0" y="0" font-family="'Liberation Sans', Arial, sans-serif" font-size="22.22" fill="#2b87c8" textLength="178.6" lengthAdjust="spacingAndGlyphs">Frequency Density</text>
<text transform="translate(1901.31 349.43) rotate(-90)" x="0" y="0" font-family="'Liberation Sans', Arial, sans-serif" font-size="22.22" fill="#D9703F" textLength="175.87" lengthAdjust="spacingAndGlyphs">Frequency Density</text>
<rect x="1673.6" y="127" width="151.7" height="47.3" fill="#fff" stroke="#8a8a8a" stroke-width="1.4"/>
<line x1="1677.54" y1="140.1" x2="1713.65" y2="140.1" stroke="#ff7070" stroke-width="1.3"/>
<line x1="1677.54" y1="162" x2="1713.65" y2="162" stroke="#7070ff" stroke-width="1.3"/>
<text x="1717.22" y="146.36" font-family="'Liberation Sans', Arial, sans-serif" font-size="18.18" fill="#262626" textLength="103.22" lengthAdjust="spacingAndGlyphs">Spectra data</text>
<text x="1716.55" y="168.26" font-family="'Liberation Sans', Arial, sans-serif" font-size="18.18" fill="#262626" textLength="97.14" lengthAdjust="spacingAndGlyphs">Breath Data</text>
<clipPath id="sp2"><rect x="1491" y="531.9" width="359.1" height="284.9"/></clipPath>
<g clip-path="url(#sp2)" opacity="0.8">
<polyline points="1490.97,814.67 1490.97,815.14 1493.6,752.74 1496.59,747.01 1498.53,749.46 1501.68,718.28 1503.46,729.75 1506.66,758.68 1506.74,769.16 1508.94,783.04 1511.32,743.34 1511.67,759.31 1514.32,802.66 1514.95,808.58 1517.52,700.3 1518.23,703.48 1520.19,753.26 1522.18,795.44 1525.92,730.92 1526.45,683.77 1528.89,747.2 1529.73,785.59 1531.23,779.98 1533.69,754.15 1534.66,752.74 1536.2,766.37 1539.5,707.92 1539.58,719.9 1542.7,728 1542.87,668.99 1545.22,660.31 1547.14,654.21 1550.42,535.98 1552.72,621.37 1555.02,762.6 1557.65,664.07 1558.74,693.34 1560.93,739.61 1563.23,660.78 1564.31,721.31 1565.86,759.31 1569.14,746.17 1572.43,802.01 1575.71,815.14 1578.99,752.74 1581.88,757.16 1583.92,739.61 1587.2,779.02 1590.24,798.69 1590.49,802.01 1593.26,800.4 1596.43,783.18 1597.06,785.59 1599.49,787.13 1601.99,768.48 1603.63,769.16 1604.86,786.11 1607.89,790.27 1608.55,798.72 1610.91,805.91 1613.48,802.01 1616.76,803.7 1619.53,802.98 1621.84,806.49 1623.33,805.29 1624.85,803.93 1627.57,811.23 1629.81,807 1629.9,808.58 1632.78,803.11 1635.92,793.2 1636.47,795.44 1639.26,808.41 1642.55,807.94 1643.04,810.22 1645.31,809 1647.95,802.16 1649.61,802.01 1651.17,804.74 1654.44,802.59 1656.17,805.29 1659.96,807.32 1662.74,810.22 1665.55,811.15 1668.58,813.62 1671.92,813.27 1672.6,813.5 1674.95,813.48 1678.18,810.33 1681.4,811.33 1682.45,810.22 1684.38,807.59 1687.44,809.84 1690.1,805.86 1692.3,805.29 1696.03,801.47 1698.87,800.37 1701.9,803.42 1705.24,811.78 1705.44,811.86 1708.32,809.77 1710.99,811.19 1712.01,808.58 1713.55,804.83 1716.72,803.33 1718.58,798.72 1722.17,810.86 1724.67,812.1 1725.14,813.5 1727,813.77 1729.95,812.47 1733.24,813.64 1735.69,811.59 1738.28,811.86 1741.03,811.24 1743.98,814.3 1746.96,812.26 1749.31,814.38 1751.42,813.5 1755.46,814.49 1758.69,812.97 1761.66,814.55 1764.26,813.36 1766.65,813.94 1767.84,813.5 1768.99,812.99 1771.7,814.78 1774.45,813.49 1777.36,815.05 1780.26,814.39 1782.53,815.61 1784.26,815.14 1785.76,814.51 1788.78,814.62 1791.79,813.7 1795.01,814.92 1797.4,813.5 1800.18,814.8 1802.5,815.17 1805.12,816.17 1807.25,816.79" fill="none" stroke="#ff4848" stroke-width="1.2" stroke-linejoin="round"/>
<polyline points="1490.97,816.78 1490.97,816.79 1493.49,815.38 1496.38,812.78 1498.53,811.86 1502.49,807.23 1505.09,807.85 1505.1,806.93 1508.24,803.12 1511.47,803.57 1511.67,802.01 1514.7,782.06 1516.59,775.73 1518.09,785.82 1521.06,795.83 1521.52,798.72 1523.81,783.51 1526.45,736.32 1529.21,772.54 1531.37,792.15 1535.51,767.53 1537.94,726.47 1541.38,709.44 1544.28,655.75 1544.51,673.92 1547.66,620.76 1550.34,516.85 1550.42,545.83 1552.99,705.68 1554.36,687.06 1555.55,700.6 1558.3,792.15 1560.93,693.63 1563.23,647.65 1565.34,741.89 1565.86,719.9 1567.86,744.54 1569.14,762.6 1570.75,746.49 1572.43,716.62 1574.17,753.16 1575.71,802.01 1577.57,774.67 1578.99,739.61 1580.14,747.01 1582.69,783.86 1583.92,775.73 1585.87,767.13 1588.85,769.16 1592.22,775.01 1593.77,785.59 1595.47,791.39 1598.51,778.42 1600.34,775.73 1602.03,781.77 1604.65,753.96 1606.25,759.31 1609.87,783.17 1610.19,785.59 1612.74,798.03 1615.7,796.47 1616.76,802.01 1619.11,803.55 1621.69,789.62 1623.33,792.15 1624.71,794.35 1627.76,789.51 1629.9,795.44 1633.65,797.18 1636.47,798.72 1639.75,762.6 1643.04,795.44 1645.56,794.15 1648.38,801.2 1649.61,798.72 1651,796.72 1653.75,796.15 1654.53,795.44 1656.8,784.96 1660.14,773.84 1661.1,769.16 1663.03,777.13 1665.63,800.45 1666.03,795.44 1668.87,780.84 1669.31,782.3 1672.46,795.14 1675.13,797.15 1675.88,802.01 1677.96,807.02 1680.85,799.74 1682.45,802.01 1684.45,800.89 1687.8,781.68 1689.02,785.59 1690.76,795.75 1694,788.33 1695.59,795.44 1699.19,780.94 1702.15,775.73 1705.78,776.28 1708.72,785.59 1712.2,778.28 1714.73,787.74 1715.29,775.73 1717.72,752.1 1720.5,754.65 1721.2,739.61 1723.97,771.93 1725.14,795.44 1726.94,802.25 1729.86,793.47 1731.71,798.72 1732.73,802.07 1735.91,795.16 1738.28,795.44 1742.1,777.46 1743.21,779.02 1744.88,786.03 1748.13,798.72 1750.95,807.83 1753.75,809.66 1754.7,811.86 1756.69,811.84 1759.77,808.4 1761.27,808.58 1763.3,809.94 1766.13,804.72 1767.84,803.65 1769.45,807.87 1772.2,803.4 1775.51,807.96 1777.69,805.29 1778.97,805.75 1782.12,808.13 1785.12,807.67 1787.55,810.22 1788.65,811.36 1791.37,808.85 1794.1,811.49 1797.46,809.43 1800.57,811.79 1800.68,810.22 1804.03,809.63 1806.62,811.33 1809.38,810.01 1812.57,811.89 1813.82,811.86 1815.81,810.47 1818.54,811.75 1821.78,809.72 1825.17,812.77 1826.96,810.22 1831.12,813.2 1833.89,811.23 1837.05,812.85 1839.47,813.18 1840.09,813.5 1842.19,814.02 1845.75,812.69 1848.67,813.72 1849.29,813.5" fill="none" stroke="#4848ff" stroke-width="1.2" stroke-linejoin="round"/>
</g>
<line x1="1491" y1="533.9" x2="1850.1" y2="533.9" stroke="#b5b5b5" stroke-width="1.2"/>
<line x1="1491" y1="816.8" x2="1850.1" y2="816.8" stroke="#b5b5b5" stroke-width="1.2"/>
<line x1="1491" y1="533.9" x2="1491" y2="816.8" stroke="#9cc6e6" stroke-width="1.2"/>
<line x1="1850.1" y1="533.9" x2="1850.1" y2="816.8" stroke="#f3b096" stroke-width="1.2"/>
<line x1="1491" y1="816.8" x2="1491" y2="812.8" stroke="#9a9a9a" stroke-width="1.2"/>
<line x1="1491" y1="533.9" x2="1491" y2="537.9" stroke="#9a9a9a" stroke-width="1.2"/>
<text x="1485.8" y="842.26" font-family="'Liberation Sans', Arial, sans-serif" font-size="18.7" fill="#262626" textLength="10.4" lengthAdjust="spacingAndGlyphs">0</text>
<line x1="1610.7" y1="816.8" x2="1610.7" y2="812.8" stroke="#9a9a9a" stroke-width="1.2"/>
<line x1="1610.7" y1="533.9" x2="1610.7" y2="537.9" stroke="#9a9a9a" stroke-width="1.2"/>
<text x="1597.73" y="842.26" font-family="'Liberation Sans', Arial, sans-serif" font-size="18.7" fill="#262626" textLength="26" lengthAdjust="spacingAndGlyphs">0.5</text>
<line x1="1730.4" y1="816.8" x2="1730.4" y2="812.8" stroke="#9a9a9a" stroke-width="1.2"/>
<line x1="1730.4" y1="533.9" x2="1730.4" y2="537.9" stroke="#9a9a9a" stroke-width="1.2"/>
<text x="1724.94" y="842.26" font-family="'Liberation Sans', Arial, sans-serif" font-size="18.7" fill="#262626" textLength="10.4" lengthAdjust="spacingAndGlyphs">1</text>
<line x1="1850.1" y1="816.8" x2="1850.1" y2="812.8" stroke="#9a9a9a" stroke-width="1.2"/>
<line x1="1850.1" y1="533.9" x2="1850.1" y2="537.9" stroke="#9a9a9a" stroke-width="1.2"/>
<text x="1836.78" y="842.26" font-family="'Liberation Sans', Arial, sans-serif" font-size="18.7" fill="#262626" textLength="26" lengthAdjust="spacingAndGlyphs">1.5</text>
<line x1="1491" y1="816.8" x2="1495" y2="816.8" stroke="#9cc6e6" stroke-width="1.2"/>
<text x="1474.67" y="824.23" font-family="'Liberation Sans', Arial, sans-serif" font-size="18.7" fill="#2b87c8" textLength="10.4" lengthAdjust="spacingAndGlyphs">0</text>
<line x1="1491" y1="746.07" x2="1495" y2="746.07" stroke="#9cc6e6" stroke-width="1.2"/>
<text x="1474.85" y="753.5" font-family="'Liberation Sans', Arial, sans-serif" font-size="18.7" fill="#2b87c8" textLength="10.4" lengthAdjust="spacingAndGlyphs">1</text>
<line x1="1491" y1="675.35" x2="1495" y2="675.35" stroke="#9cc6e6" stroke-width="1.2"/>
<text x="1474.88" y="682.78" font-family="'Liberation Sans', Arial, sans-serif" font-size="18.7" fill="#2b87c8" textLength="10.4" lengthAdjust="spacingAndGlyphs">2</text>
<line x1="1491" y1="604.62" x2="1495" y2="604.62" stroke="#9cc6e6" stroke-width="1.2"/>
<text x="1474.76" y="612.05" font-family="'Liberation Sans', Arial, sans-serif" font-size="18.7" fill="#2b87c8" textLength="10.4" lengthAdjust="spacingAndGlyphs">3</text>
<line x1="1491" y1="533.9" x2="1495" y2="533.9" stroke="#9cc6e6" stroke-width="1.2"/>
<text x="1474.48" y="541.33" font-family="'Liberation Sans', Arial, sans-serif" font-size="18.7" fill="#2b87c8" textLength="10.4" lengthAdjust="spacingAndGlyphs">4</text>
<line x1="1850.1" y1="816.8" x2="1846.1" y2="816.8" stroke="#f3b096" stroke-width="1.2"/>
<text x="1856.4" y="824.23" font-family="'Liberation Sans', Arial, sans-serif" font-size="18.7" fill="#D9703F" textLength="10.4" lengthAdjust="spacingAndGlyphs">0</text>
<line x1="1850.1" y1="769.65" x2="1846.1" y2="769.65" stroke="#f3b096" stroke-width="1.2"/>
<text x="1856.4" y="777.08" font-family="'Liberation Sans', Arial, sans-serif" font-size="18.7" fill="#D9703F" textLength="20.8" lengthAdjust="spacingAndGlyphs">50</text>
<line x1="1850.1" y1="722.5" x2="1846.1" y2="722.5" stroke="#f3b096" stroke-width="1.2"/>
<text x="1856.4" y="729.93" font-family="'Liberation Sans', Arial, sans-serif" font-size="18.7" fill="#D9703F" textLength="31.2" lengthAdjust="spacingAndGlyphs">100</text>
<line x1="1850.1" y1="675.35" x2="1846.1" y2="675.35" stroke="#f3b096" stroke-width="1.2"/>
<text x="1856.4" y="682.78" font-family="'Liberation Sans', Arial, sans-serif" font-size="18.7" fill="#D9703F" textLength="31.2" lengthAdjust="spacingAndGlyphs">150</text>
<line x1="1850.1" y1="628.2" x2="1846.1" y2="628.2" stroke="#f3b096" stroke-width="1.2"/>
<text x="1856.4" y="635.63" font-family="'Liberation Sans', Arial, sans-serif" font-size="18.7" fill="#D9703F" textLength="31.2" lengthAdjust="spacingAndGlyphs">200</text>
<line x1="1850.1" y1="581.05" x2="1846.1" y2="581.05" stroke="#f3b096" stroke-width="1.2"/>
<text x="1856.4" y="588.48" font-family="'Liberation Sans', Arial, sans-serif" font-size="18.7" fill="#D9703F" textLength="31.2" lengthAdjust="spacingAndGlyphs">250</text>
<line x1="1850.1" y1="533.9" x2="1846.1" y2="533.9" stroke="#f3b096" stroke-width="1.2"/>
<text x="1856.4" y="541.33" font-family="'Liberation Sans', Arial, sans-serif" font-size="18.7" fill="#D9703F" textLength="31.2" lengthAdjust="spacingAndGlyphs">300</text>
<text x="1594.01" y="528.2" font-family="'Liberation Sans', Arial, sans-serif" font-size="20.57" fill="#111" textLength="153.19" lengthAdjust="spacingAndGlyphs" font-weight="bold">Selected Range</text>
<text x="1599.47" y="871.48" font-family="'Liberation Sans', Arial, sans-serif" font-size="20.57" fill="#262626" textLength="141.74" lengthAdjust="spacingAndGlyphs">Frequency (Hz)</text>
<text transform="translate(1465.72 764.33) rotate(-90)" x="0" y="0" font-family="'Liberation Sans', Arial, sans-serif" font-size="20.57" fill="#2b87c8" textLength="175.87" lengthAdjust="spacingAndGlyphs">Frequency Density</text>
<text transform="translate(1912.32 764.33) rotate(-90)" x="0" y="0" font-family="'Liberation Sans', Arial, sans-serif" font-size="20.57" fill="#D9703F" textLength="175.87" lengthAdjust="spacingAndGlyphs">Frequency Density</text>
<rect x="1701.5" y="543.2" width="140.2" height="46.3" fill="#fff" stroke="#8a8a8a" stroke-width="1.4"/>
<line x1="1705.15" y1="556.03" x2="1738.51" y2="556.03" stroke="#ff7070" stroke-width="1.3"/>
<line x1="1705.15" y1="577.46" x2="1738.51" y2="577.46" stroke="#7070ff" stroke-width="1.3"/>
<text x="1741.81" y="561.81" font-family="'Liberation Sans', Arial, sans-serif" font-size="16.83" fill="#262626" textLength="95.4" lengthAdjust="spacingAndGlyphs">Spectra data</text>
<text x="1741.2" y="583.25" font-family="'Liberation Sans', Arial, sans-serif" font-size="16.83" fill="#262626" textLength="89.78" lengthAdjust="spacingAndGlyphs">Breath Data</text>
<clipPath id="sp3"><rect x="1462.4" y="920.4" width="386.3" height="288"/></clipPath>
<g clip-path="url(#sp3)" opacity="0.8">
<polyline points="1462.4,1208.4 1462.4,1208.43 1465.03,1077.06 1468.97,1057.35 1471.61,1112.95 1472.25,1093.48 1474.3,1109.92 1477.18,1159.16 1479.95,1151.13 1482.96,1168.16 1483.75,1159.16 1485.33,1131.62 1488.02,1106.62 1491.29,1139.15 1493.6,1182.15 1496.34,1161.43 1498.53,1152.6 1501.88,1119.19 1503.46,1126.32 1505.05,1135.93 1506.74,1123.04 1508.02,1151.05 1510.02,1205.14 1511.33,1171.23 1513.31,1119.75 1514.39,1114.89 1517.62,1187.18 1518.23,1195.29 1520.71,1164.37 1523.73,1170.41 1524.8,1136.17 1526.9,1106.86 1529.73,1090.19 1532.66,1076.38 1534.66,1083.63 1537.94,1086.91 1540.57,1011.37 1541.96,988.88 1542.87,939.12 1544.74,961.88 1546.15,1001.52 1548.02,1107.32 1551.08,1077.06 1553.83,1149.26 1556.87,1153.14 1556.99,1155.88 1559.59,1171.49 1561.99,1132.96 1562.57,1136.17 1564.96,1161.77 1568.15,1092.66 1569.14,1106.62 1570.68,1144.63 1571.44,1149.31 1572.99,1121.69 1575.71,1090.19 1578.79,1157.43 1578.99,1162.45 1582.11,1176.09 1583.92,1152.6 1586.87,1143.28 1589.35,1076.58 1589.83,1086.91 1591.98,1135.78 1593.77,1129.61 1597.06,1169.02 1600.41,1150.91 1601.98,1149.31 1603.09,1181.63 1605.27,1188.72 1608.27,1192 1610.19,1182.15 1614.08,1184.06 1615.12,1169.02 1617.23,1179.03 1620.05,1195.29 1623.05,1198.1 1626.35,1203.89 1626.62,1203.5 1629.64,1187.65 1631.54,1185.44 1634.69,1187.68 1636.47,1195.29 1640.21,1182.94 1643.07,1188.31 1644.68,1175.59 1645.75,1171.08 1648.02,1196.27 1649.61,1192.01 1650.98,1192.31 1653.51,1198.69 1655.77,1193.53 1656.17,1195.29 1659.11,1194.74 1661.39,1188.02 1662.74,1192.01 1664.64,1192.46 1667.08,1188.86 1669.5,1191.96 1672.55,1187.11 1672.6,1188.72 1675.86,1192.57 1678.9,1189.78 1679.16,1192.01 1682.1,1192.99 1685.21,1179.81 1685.73,1185.44 1687.53,1196.31 1690.04,1184.58 1692.64,1196.85 1695.51,1193.04 1695.59,1195.29 1698.25,1200.03 1701.01,1202.29 1702.15,1205.14 1703.4,1204.77 1706.16,1201.57 1708.55,1201.32 1710.95,1197.19 1712.01,1198.58 1713.78,1203.6 1717.09,1200.52 1719.44,1205.33 1721.86,1205.14 1725.61,1206.69 1727.85,1206.6 1728.43,1206.79 1730.4,1206.62 1733.09,1203.12 1736.19,1204.58 1738.28,1200.22 1742.11,1204.44 1744.44,1203.44 1746.75,1206.08 1748.13,1206.79 1749.36,1206.26 1752.26,1205.71 1755.61,1203.7 1757.96,1203.28 1760.5,1200.98 1761.27,1201.86 1763.37,1202.17 1766.28,1201.05 1768.72,1203.31 1771.51,1201.94 1774.41,1203.5 1777.15,1201.79 1779.6,1204.09 1782.17,1200.62 1785.39,1200.96 1787.55,1200.22 1791.64,1202.26 1794.52,1202.95 1797.15,1205.49 1800.08,1204.85 1802.46,1206.53 1803.97,1206.79" fill="none" stroke="#ff4848" stroke-width="1.2" stroke-linejoin="round"/>
<polyline points="1462.4,1208.4 1462.4,1208.43 1465.21,1187.88 1465.69,1182.15 1468.69,1173.16 1470.61,1178.87 1471.97,1187.99 1475.55,1188.96 1477.18,1196.93 1478.97,1196.1 1482.44,1188.57 1483.75,1188.72 1485.67,1177.34 1488.02,1162.45 1491.96,1178.87 1494.94,1167.97 1498.51,1175.6 1498.53,1169.02 1501.86,1149.15 1504.82,1153.34 1506.74,1142.74 1508.13,1147.59 1510.02,1182.15 1511.43,1184.18 1514.29,1139.46 1517.91,1190.51 1518.89,1195.29 1520.73,1187.91 1523.16,1182.15 1524.18,1181 1527.75,1156.18 1528.09,1155.88 1530.76,1108.48 1531.37,1090.19 1533.66,1083 1536.3,1126.32 1539.58,1044.21 1542.87,971.96 1546.57,1021.51 1547.79,1044.21 1549.17,1116.47 1552.41,1082.16 1552.72,1109.9 1555.69,1127.04 1557.65,1121.4 1558.71,1105.12 1561.57,1137.96 1564.21,1116.47 1567.94,1119.14 1569.14,1077.06 1570.73,1077.35 1572.43,1106.62 1575.78,1063.2 1577.35,1050.78 1578.61,1103.53 1580.64,1155.88 1584.6,1164.54 1585.56,1136.17 1587.12,1099.17 1590.57,1093.93 1591.47,1029.44 1594.1,1072.34 1597.06,1139.46 1600.48,1110.13 1601.98,1103.33 1603.34,1126.51 1606.85,1138.51 1606.91,1146.03 1609.51,1140.32 1611.96,1125.65 1613.48,1126.32 1615.4,1162.41 1616.76,1175.59 1618.86,1162.31 1621.72,1165.72 1623.33,1159.16 1624.54,1157.08 1627.82,1167.63 1629.9,1169.02 1633.75,1181.8 1636.47,1175.59 1639.49,1169.51 1642.45,1150.3 1645.66,1167.21 1646.32,1152.6 1648.31,1161.39 1650.79,1180.77 1652.89,1185.44 1656.72,1195.21 1659.46,1201.86 1663.32,1193.7 1666.87,1166.67 1667.67,1169.02 1669.83,1185.76 1673.25,1174.33 1675.74,1194.3 1675.88,1185.44 1679.15,1177.98 1681.77,1186.1 1682.45,1178.87 1684.91,1175.47 1688.13,1191.86 1689.02,1185.44 1690.8,1175.54 1693.21,1177.43 1693.94,1169.02 1696.78,1183.47 1698.87,1195.29 1700.16,1194.09 1703.61,1177.15 1705.44,1175.59 1706.89,1183.84 1709.45,1178.59 1710.37,1185.44 1712.62,1182.23 1715.56,1162.46 1716.93,1162.45 1718.16,1182.26 1720.74,1167.3 1723.5,1175.59 1727.25,1196.95 1728.43,1205.14 1730.25,1204.21 1733.31,1196.29 1736.74,1194.39 1738.28,1192.01 1739.62,1186.78 1742.7,1192.95 1745.35,1179.37 1748.13,1178.87 1751.22,1186.72 1754.25,1200.63 1754.7,1201.86 1757.76,1200.18 1760.16,1201.06 1761.27,1198.58 1762.57,1195.31 1766.08,1198.72 1767.84,1195.29 1769.26,1192.85 1771.88,1194.88 1774.41,1190.37 1777.83,1198.62 1780.98,1201.86 1783.87,1202.3 1787.46,1198.92 1790.39,1201.36 1793.31,1198.23 1794.11,1198.58 1796.74,1198.85 1799.75,1193.82 1802.78,1198.68 1803.97,1195.29 1805.97,1194.97 1808.38,1200.1 1811.67,1197.59 1813.82,1198.58 1814.87,1199.12 1818.38,1195.52 1821.53,1195.28 1823.67,1193.65 1827.51,1201.01 1831.04,1196.78 1833.53,1200.22 1837.59,1199.78 1841.14,1201.42 1844.5,1200.19 1846.9,1203.07 1848.31,1201.86" fill="none" stroke="#4848ff" stroke-width="1.2" stroke-linejoin="round"/>
</g>
<line x1="1462.4" y1="922.4" x2="1848.7" y2="922.4" stroke="#b5b5b5" stroke-width="1.2"/>
<line x1="1462.4" y1="1208.4" x2="1848.7" y2="1208.4" stroke="#b5b5b5" stroke-width="1.2"/>
<line x1="1462.4" y1="922.4" x2="1462.4" y2="1208.4" stroke="#9cc6e6" stroke-width="1.2"/>
<line x1="1848.7" y1="922.4" x2="1848.7" y2="1208.4" stroke="#f3b096" stroke-width="1.2"/>
<line x1="1462.4" y1="1208.4" x2="1462.4" y2="1204.4" stroke="#9a9a9a" stroke-width="1.2"/>
<line x1="1462.4" y1="922.4" x2="1462.4" y2="926.4" stroke="#9a9a9a" stroke-width="1.2"/>
<text x="1456.98" y="1234.95" font-family="'Liberation Sans', Arial, sans-serif" font-size="19.5" fill="#262626" textLength="10.84" lengthAdjust="spacingAndGlyphs">0</text>
<line x1="1591.17" y1="1208.4" x2="1591.17" y2="1204.4" stroke="#9a9a9a" stroke-width="1.2"/>
<line x1="1591.17" y1="922.4" x2="1591.17" y2="926.4" stroke="#9a9a9a" stroke-width="1.2"/>
<text x="1577.64" y="1234.95" font-family="'Liberation Sans', Arial, sans-serif" font-size="19.5" fill="#262626" textLength="27.11" lengthAdjust="spacingAndGlyphs">0.5</text>
<line x1="1719.93" y1="1208.4" x2="1719.93" y2="1204.4" stroke="#9a9a9a" stroke-width="1.2"/>
<line x1="1719.93" y1="922.4" x2="1719.93" y2="926.4" stroke="#9a9a9a" stroke-width="1.2"/>
<text x="1714.24" y="1234.95" font-family="'Liberation Sans', Arial, sans-serif" font-size="19.5" fill="#262626" textLength="10.84" lengthAdjust="spacingAndGlyphs">1</text>
<line x1="1848.7" y1="1208.4" x2="1848.7" y2="1204.4" stroke="#9a9a9a" stroke-width="1.2"/>
<line x1="1848.7" y1="922.4" x2="1848.7" y2="926.4" stroke="#9a9a9a" stroke-width="1.2"/>
<text x="1834.81" y="1234.95" font-family="'Liberation Sans', Arial, sans-serif" font-size="19.5" fill="#262626" textLength="27.11" lengthAdjust="spacingAndGlyphs">1.5</text>
<line x1="1462.4" y1="1208.4" x2="1466.4" y2="1208.4" stroke="#9cc6e6" stroke-width="1.2"/>
<text x="1445.37" y="1216.11" font-family="'Liberation Sans', Arial, sans-serif" font-size="19.5" fill="#2b87c8" textLength="10.84" lengthAdjust="spacingAndGlyphs">0</text>
<line x1="1462.4" y1="1151.2" x2="1466.4" y2="1151.2" stroke="#9cc6e6" stroke-width="1.2"/>
<text x="1445.56" y="1158.91" font-family="'Liberation Sans', Arial, sans-serif" font-size="19.5" fill="#2b87c8" textLength="10.84" lengthAdjust="spacingAndGlyphs">1</text>
<line x1="1462.4" y1="1094" x2="1466.4" y2="1094" stroke="#9cc6e6" stroke-width="1.2"/>
<text x="1445.59" y="1101.71" font-family="'Liberation Sans', Arial, sans-serif" font-size="19.5" fill="#2b87c8" textLength="10.84" lengthAdjust="spacingAndGlyphs">2</text>
<line x1="1462.4" y1="1036.8" x2="1466.4" y2="1036.8" stroke="#9cc6e6" stroke-width="1.2"/>
<text x="1445.46" y="1044.51" font-family="'Liberation Sans', Arial, sans-serif" font-size="19.5" fill="#2b87c8" textLength="10.84" lengthAdjust="spacingAndGlyphs">3</text>
<line x1="1462.4" y1="979.6" x2="1466.4" y2="979.6" stroke="#9cc6e6" stroke-width="1.2"/>
<text x="1445.18" y="987.31" font-family="'Liberation Sans', Arial, sans-serif" font-size="19.5" fill="#2b87c8" textLength="10.84" lengthAdjust="spacingAndGlyphs">4</text>
<line x1="1462.4" y1="922.4" x2="1466.4" y2="922.4" stroke="#9cc6e6" stroke-width="1.2"/>
<text x="1445.42" y="930.11" font-family="'Liberation Sans', Arial, sans-serif" font-size="19.5" fill="#2b87c8" textLength="10.84" lengthAdjust="spacingAndGlyphs">5</text>
<line x1="1848.7" y1="1208.4" x2="1844.7" y2="1208.4" stroke="#f3b096" stroke-width="1.2"/>
<text x="1855.26" y="1216.11" font-family="'Liberation Sans', Arial, sans-serif" font-size="19.5" fill="#D9703F" textLength="10.84" lengthAdjust="spacingAndGlyphs">0</text>
<line x1="1848.7" y1="1136.9" x2="1844.7" y2="1136.9" stroke="#f3b096" stroke-width="1.2"/>
<text x="1855.26" y="1144.61" font-family="'Liberation Sans', Arial, sans-serif" font-size="19.5" fill="#D9703F" textLength="21.69" lengthAdjust="spacingAndGlyphs">20</text>
<line x1="1848.7" y1="1065.4" x2="1844.7" y2="1065.4" stroke="#f3b096" stroke-width="1.2"/>
<text x="1855.26" y="1073.11" font-family="'Liberation Sans', Arial, sans-serif" font-size="19.5" fill="#D9703F" textLength="21.69" lengthAdjust="spacingAndGlyphs">40</text>
<line x1="1848.7" y1="993.9" x2="1844.7" y2="993.9" stroke="#f3b096" stroke-width="1.2"/>
<text x="1855.26" y="1001.61" font-family="'Liberation Sans', Arial, sans-serif" font-size="19.5" fill="#D9703F" textLength="21.69" lengthAdjust="spacingAndGlyphs">60</text>
<line x1="1848.7" y1="922.4" x2="1844.7" y2="922.4" stroke="#f3b096" stroke-width="1.2"/>
<text x="1855.26" y="930.11" font-family="'Liberation Sans', Arial, sans-serif" font-size="19.5" fill="#D9703F" textLength="21.69" lengthAdjust="spacingAndGlyphs">80</text>
<text x="1575.74" y="916.46" font-family="'Liberation Sans', Arial, sans-serif" font-size="21.45" fill="#111" textLength="159.74" lengthAdjust="spacingAndGlyphs" font-weight="bold">Selected Range</text>
<text x="1581.43" y="1265.08" font-family="'Liberation Sans', Arial, sans-serif" font-size="21.45" fill="#262626" textLength="147.8" lengthAdjust="spacingAndGlyphs">Frequency (Hz)</text>
<text transform="translate(1436.33 1154.33) rotate(-90)" x="0" y="0" font-family="'Liberation Sans', Arial, sans-serif" font-size="21.45" fill="#2b87c8" textLength="175.87" lengthAdjust="spacingAndGlyphs">Frequency Density</text>
<text transform="translate(1901.03 1154.33) rotate(-90)" x="0" y="0" font-family="'Liberation Sans', Arial, sans-serif" font-size="21.45" fill="#D9703F" textLength="175.87" lengthAdjust="spacingAndGlyphs">Frequency Density</text>
<rect x="1693.3" y="931.9" width="145.8" height="46.6" fill="#fff" stroke="#8a8a8a" stroke-width="1.4"/>
<line x1="1697.09" y1="944.81" x2="1731.79" y2="944.81" stroke="#ff7070" stroke-width="1.3"/>
<line x1="1697.09" y1="966.38" x2="1731.79" y2="966.38" stroke="#7070ff" stroke-width="1.3"/>
<text x="1735.22" y="950.85" font-family="'Liberation Sans', Arial, sans-serif" font-size="17.55" fill="#262626" textLength="99.21" lengthAdjust="spacingAndGlyphs">Spectra data</text>
<text x="1734.58" y="972.42" font-family="'Liberation Sans', Arial, sans-serif" font-size="17.55" fill="#262626" textLength="93.37" lengthAdjust="spacingAndGlyphs">Breath Data</text>
<clipPath id="sp4"><rect x="1526.4" y="1350.9" width="320.2" height="277"/></clipPath>
<g clip-path="url(#sp4)" opacity="0.8">
<polyline points="1526.45,1627.9 1526.45,1627.92 1529.16,1587.83 1529.73,1576.03 1531.91,1588.73 1533.01,1599.02 1534.9,1598.97 1536.3,1576.03 1537.79,1577.77 1540.88,1606.93 1541.22,1592.45 1543.44,1571.22 1544.51,1579.31 1545.78,1598.17 1547.79,1599.02 1551.1,1551.01 1551.73,1539.9 1554.4,1592.97 1555.02,1608.87 1557.5,1596.18 1559.29,1569.46 1562.45,1569 1563.23,1541.54 1565.81,1577.44 1566.84,1605.59 1568.15,1600.95 1570.72,1569.01 1570.78,1572.74 1573.94,1516.55 1575.71,1359.26 1577,1361.27 1578.99,1507.06 1582.28,1566.17 1585.02,1605.37 1585.56,1599.02 1588.25,1612.03 1588.85,1618.72 1591.34,1613.85 1593.71,1587.38 1593.77,1595.73 1596.2,1614.94 1597.06,1612.15 1598.53,1610.72 1601.27,1621.53 1601.98,1618.72 1603.54,1617.46 1605.83,1622.84 1606.91,1618.72 1608.6,1619.14 1611.44,1623.43 1611.84,1623.65 1613.73,1619.05 1616.08,1616.21 1616.76,1612.15 1619.06,1604.55 1621.69,1599.02 1624.32,1594.73 1626.62,1595.73 1629.29,1606.77 1629.9,1612.15 1632.49,1616.18 1635.63,1617.42 1636.47,1618.72 1638.76,1622.11 1642.02,1620.31 1643.04,1622.01 1645.02,1623.91 1647.29,1623.8 1649.61,1625.29 1652.82,1624.08 1655.21,1624.26 1656.17,1623.65 1657.77,1623.51 1660.43,1624.89 1662.74,1623.65 1666.39,1622.95 1669.17,1619.76 1669.31,1620.37 1672.16,1623.17 1675.4,1624.35 1675.88,1625.29 1678.62,1626.28 1681.22,1624.46 1682.45,1624.63 1684.2,1624.62 1687.13,1623.62 1689.02,1623.65 1690.03,1625.18 1692.87,1623.61 1695.59,1623.65 1698.47,1623.67 1700.78,1626.13 1702.15,1625.29 1703.69,1624.85 1706.39,1625.13 1709.52,1622.24 1712.28,1625 1714.89,1621.84 1715.29,1622.01 1717.7,1624.22 1720.3,1622.55 1722.99,1625.53 1726.2,1624.4 1728.43,1625.29 1731.76,1624.56 1734.06,1625.16 1737.2,1623.5 1739.93,1625.29 1741.57,1623.65 1744.65,1624.14 1747.28,1623.82 1749.69,1625.32 1752.47,1624.36 1754.7,1625.29 1755.81,1626.3 1759.02,1625.12 1761.83,1625.43 1764.5,1625.02 1767.23,1626.05 1767.84,1625.29 1769.87,1625.11 1772.77,1626.04 1775.12,1625.73 1777.7,1626.59 1780.42,1625.96 1780.98,1626.28 1783.77,1626.21 1787.02,1625.62 1789.68,1625.88 1792.01,1624.76 1794.11,1625.29 1798.06,1625.16 1801,1626.13 1803.68,1626.15 1806.12,1626.5 1808.81,1626.42 1810.54,1626.93 1812.06,1626.94 1814.72,1626.68 1817.48,1627.19 1820.33,1626.7 1822.74,1627.32 1825.7,1626.67 1826.96,1626.93" fill="none" stroke="#ff4848" stroke-width="1.2" stroke-linejoin="round"/>
<polyline points="1526.45,1627.9 1526.45,1627.92 1529.33,1625.25 1531.37,1620.37 1534.64,1620.94 1537.16,1615.17 1537.94,1617.08 1540.36,1616.93 1543.4,1609.46 1544.51,1608.87 1546.51,1615.57 1549.13,1620.95 1549.44,1622.01 1552.13,1609.95 1554.36,1582.6 1557.48,1612.91 1559.29,1622.01 1560.86,1609.3 1563.51,1606.77 1564.21,1589.16 1566.02,1576.57 1569.14,1582.6 1572.39,1591.36 1574.07,1605.59 1577.35,1566.17 1579.98,1385.54 1581.6,1544 1582.28,1566.17 1584.79,1554.07 1586.55,1553.04 1590.08,1567.29 1590.49,1572.74 1592.79,1586.1 1595.42,1579.31 1598.25,1583.19 1598.7,1569.46 1600.67,1569.78 1603.2,1602.6 1603.63,1599.02 1606.76,1582.02 1606.91,1589.16 1610.23,1611.66 1611.84,1622.01 1613.44,1606.59 1616.52,1596.96 1616.76,1582.6 1620.05,1577.29 1621.69,1582.6 1623.3,1605.32 1625.81,1610.7 1626.62,1618.72 1629.38,1603.74 1631.54,1579.31 1634.83,1556.32 1638.11,1589.16 1641.26,1605.63 1643.04,1605.59 1646.42,1616.63 1649.31,1612.55 1649.61,1615.44 1652.67,1617.28 1655.58,1618.17 1656.17,1618.72 1658.6,1612.38 1661.1,1602.3 1664.52,1616.41 1666.03,1618.72 1668.02,1616.74 1671.05,1618.63 1672.6,1615.44 1674.62,1615.08 1677.46,1621.98 1679.16,1622.01 1680.3,1615.05 1683.11,1599.02 1686.04,1604.51 1688.62,1614.86 1689.02,1615.44 1691.86,1617.53 1694.63,1620.61 1695.59,1620.37 1698.09,1619.98 1700.58,1622.8 1702.15,1622.01 1705.72,1623.49 1708.53,1623.14 1710.37,1623.65 1711.51,1622.68 1714.21,1616.36 1716.61,1617.51 1718.58,1612.15 1721.7,1615.75 1725.08,1617.74 1725.14,1618.72 1727.5,1622.65 1731.05,1620.92 1731.71,1622.01 1734.47,1619.57 1737.18,1614.6 1740.23,1615.94 1741.57,1612.15 1743.05,1612.94 1746.62,1620.67 1748.13,1622.01 1749.63,1617.58 1752.52,1615.38 1755.74,1600.71 1757.33,1600.66 1759.04,1611.33 1761.27,1622.01 1764.74,1619.17 1767.84,1612.15 1771.19,1620.28 1773.69,1619.9 1774.41,1622.01 1776.36,1623.86 1779.93,1624.09 1780.98,1625.29 1782.52,1626 1785.65,1624.58 1788.24,1625.45 1791.22,1623.52 1793.91,1625.19 1794.11,1623.65 1796.98,1623.84 1799.7,1624.45 1803.3,1624.79 1806.71,1625.57 1807.25,1625.29 1810.28,1624.4 1813.05,1625.19 1816.1,1623.52 1819.08,1624.53 1820.39,1623.65 1822.47,1623.38 1825.56,1624.73 1828.46,1624.87 1831.03,1625.94 1833.53,1625.95 1836.77,1626.52 1839.64,1625.26 1843.02,1625.76 1845.54,1624.83 1846.01,1625.29" fill="none" stroke="#4848ff" stroke-width="1.2" stroke-linejoin="round"/>
</g>
<line x1="1526.4" y1="1352.9" x2="1846.6" y2="1352.9" stroke="#b5b5b5" stroke-width="1.2"/>
<line x1="1526.4" y1="1627.9" x2="1846.6" y2="1627.9" stroke="#b5b5b5" stroke-width="1.2"/>
<line x1="1526.4" y1="1352.9" x2="1526.4" y2="1627.9" stroke="#9cc6e6" stroke-width="1.2"/>
<line x1="1846.6" y1="1352.9" x2="1846.6" y2="1627.9" stroke="#f3b096" stroke-width="1.2"/>
<line x1="1526.4" y1="1627.9" x2="1526.4" y2="1623.9" stroke="#9a9a9a" stroke-width="1.2"/>
<line x1="1526.4" y1="1352.9" x2="1526.4" y2="1356.9" stroke="#9a9a9a" stroke-width="1.2"/>
<text x="1521.67" y="1653.22" font-family="'Liberation Sans', Arial, sans-serif" font-size="18.6" fill="#262626" textLength="9.45" lengthAdjust="spacingAndGlyphs">0</text>
<line x1="1633.13" y1="1627.9" x2="1633.13" y2="1623.9" stroke="#9a9a9a" stroke-width="1.2"/>
<line x1="1633.13" y1="1352.9" x2="1633.13" y2="1356.9" stroke="#9a9a9a" stroke-width="1.2"/>
<text x="1621.34" y="1653.22" font-family="'Liberation Sans', Arial, sans-serif" font-size="18.6" fill="#262626" textLength="23.63" lengthAdjust="spacingAndGlyphs">0.5</text>
<line x1="1739.87" y1="1627.9" x2="1739.87" y2="1623.9" stroke="#9a9a9a" stroke-width="1.2"/>
<line x1="1739.87" y1="1352.9" x2="1739.87" y2="1356.9" stroke="#9a9a9a" stroke-width="1.2"/>
<text x="1734.91" y="1653.22" font-family="'Liberation Sans', Arial, sans-serif" font-size="18.6" fill="#262626" textLength="9.45" lengthAdjust="spacingAndGlyphs">1</text>
<line x1="1846.6" y1="1627.9" x2="1846.6" y2="1623.9" stroke="#9a9a9a" stroke-width="1.2"/>
<line x1="1846.6" y1="1352.9" x2="1846.6" y2="1356.9" stroke="#9a9a9a" stroke-width="1.2"/>
<text x="1834.49" y="1653.22" font-family="'Liberation Sans', Arial, sans-serif" font-size="18.6" fill="#262626" textLength="23.63" lengthAdjust="spacingAndGlyphs">1.5</text>
<line x1="1526.4" y1="1627.9" x2="1530.4" y2="1627.9" stroke="#9cc6e6" stroke-width="1.2"/>
<text x="1511.55" y="1635.29" font-family="'Liberation Sans', Arial, sans-serif" font-size="18.6" fill="#2b87c8" textLength="9.45" lengthAdjust="spacingAndGlyphs">0</text>
<line x1="1526.4" y1="1572.9" x2="1530.4" y2="1572.9" stroke="#9cc6e6" stroke-width="1.2"/>
<text x="1511.74" y="1580.29" font-family="'Liberation Sans', Arial, sans-serif" font-size="18.6" fill="#2b87c8" textLength="9.45" lengthAdjust="spacingAndGlyphs">2</text>
<line x1="1526.4" y1="1517.9" x2="1530.4" y2="1517.9" stroke="#9cc6e6" stroke-width="1.2"/>
<text x="1511.38" y="1525.29" font-family="'Liberation Sans', Arial, sans-serif" font-size="18.6" fill="#2b87c8" textLength="9.45" lengthAdjust="spacingAndGlyphs">4</text>
<line x1="1526.4" y1="1462.9" x2="1530.4" y2="1462.9" stroke="#9cc6e6" stroke-width="1.2"/>
<text x="1511.63" y="1470.29" font-family="'Liberation Sans', Arial, sans-serif" font-size="18.6" fill="#2b87c8" textLength="9.45" lengthAdjust="spacingAndGlyphs">6</text>
<line x1="1526.4" y1="1407.9" x2="1530.4" y2="1407.9" stroke="#9cc6e6" stroke-width="1.2"/>
<text x="1511.62" y="1415.29" font-family="'Liberation Sans', Arial, sans-serif" font-size="18.6" fill="#2b87c8" textLength="9.45" lengthAdjust="spacingAndGlyphs">8</text>
<line x1="1526.4" y1="1352.9" x2="1530.4" y2="1352.9" stroke="#9cc6e6" stroke-width="1.2"/>
<text x="1502.09" y="1360.29" font-family="'Liberation Sans', Arial, sans-serif" font-size="18.6" fill="#2b87c8" textLength="18.91" lengthAdjust="spacingAndGlyphs">10</text>
<line x1="1846.6" y1="1627.9" x2="1842.6" y2="1627.9" stroke="#f3b096" stroke-width="1.2"/>
<text x="1852.32" y="1635.29" font-family="'Liberation Sans', Arial, sans-serif" font-size="18.6" fill="#D9703F" textLength="9.45" lengthAdjust="spacingAndGlyphs">0</text>
<line x1="1846.6" y1="1582.07" x2="1842.6" y2="1582.07" stroke="#f3b096" stroke-width="1.2"/>
<text x="1852.32" y="1589.46" font-family="'Liberation Sans', Arial, sans-serif" font-size="18.6" fill="#D9703F" textLength="28.36" lengthAdjust="spacingAndGlyphs">200</text>
<line x1="1846.6" y1="1536.23" x2="1842.6" y2="1536.23" stroke="#f3b096" stroke-width="1.2"/>
<text x="1852.32" y="1543.62" font-family="'Liberation Sans', Arial, sans-serif" font-size="18.6" fill="#D9703F" textLength="28.36" lengthAdjust="spacingAndGlyphs">400</text>
<line x1="1846.6" y1="1490.4" x2="1842.6" y2="1490.4" stroke="#f3b096" stroke-width="1.2"/>
<text x="1852.32" y="1497.79" font-family="'Liberation Sans', Arial, sans-serif" font-size="18.6" fill="#D9703F" textLength="28.36" lengthAdjust="spacingAndGlyphs">600</text>
<line x1="1846.6" y1="1444.57" x2="1842.6" y2="1444.57" stroke="#f3b096" stroke-width="1.2"/>
<text x="1852.32" y="1451.96" font-family="'Liberation Sans', Arial, sans-serif" font-size="18.6" fill="#D9703F" textLength="28.36" lengthAdjust="spacingAndGlyphs">800</text>
<line x1="1846.6" y1="1398.73" x2="1842.6" y2="1398.73" stroke="#f3b096" stroke-width="1.2"/>
<text x="1852.32" y="1406.12" font-family="'Liberation Sans', Arial, sans-serif" font-size="18.6" fill="#D9703F" textLength="37.82" lengthAdjust="spacingAndGlyphs">1000</text>
<line x1="1846.6" y1="1352.9" x2="1842.6" y2="1352.9" stroke="#f3b096" stroke-width="1.2"/>
<text x="1852.32" y="1360.29" font-family="'Liberation Sans', Arial, sans-serif" font-size="18.6" fill="#D9703F" textLength="37.82" lengthAdjust="spacingAndGlyphs">1200</text>
<text x="1616.92" y="1347.23" font-family="'Liberation Sans', Arial, sans-serif" font-size="20.46" fill="#111" textLength="139.27" lengthAdjust="spacingAndGlyphs" font-weight="bold">Selected Range</text>
<text x="1621.88" y="1679.94" font-family="'Liberation Sans', Arial, sans-serif" font-size="20.46" fill="#262626" textLength="128.86" lengthAdjust="spacingAndGlyphs">Frequency (Hz)</text>
<text transform="translate(1493.59 1576.06) rotate(-90)" x="0" y="0" font-family="'Liberation Sans', Arial, sans-serif" font-size="20.46" fill="#2b87c8" textLength="169.2" lengthAdjust="spacingAndGlyphs">Frequency Density</text>
<text transform="translate(1913.99 1576.06) rotate(-90)" x="0" y="0" font-family="'Liberation Sans', Arial, sans-serif" font-size="20.46" fill="#D9703F" textLength="169.2" lengthAdjust="spacingAndGlyphs">Frequency Density</text>
<rect x="1709.7" y="1361.9" width="128.8" height="45" fill="#fff" stroke="#8a8a8a" stroke-width="1.4"/>
<line x1="1713.05" y1="1374.37" x2="1743.7" y2="1374.37" stroke="#ff7070" stroke-width="1.3"/>
<line x1="1713.05" y1="1395.2" x2="1743.7" y2="1395.2" stroke="#7070ff" stroke-width="1.3"/>
<text x="1746.74" y="1380.12" font-family="'Liberation Sans', Arial, sans-serif" font-size="16.74" fill="#262626" textLength="87.64" lengthAdjust="spacingAndGlyphs">Spectra data</text>
<text x="1746.17" y="1400.96" font-family="'Liberation Sans', Arial, sans-serif" font-size="16.74" fill="#262626" textLength="82.48" lengthAdjust="spacingAndGlyphs">Breath Data</text>
<clipPath id="sp5"><rect x="1513.3" y="1774.4" width="330.9" height="268.6"/></clipPath>
<g clip-path="url(#sp5)" opacity="0.8">
<polyline points="1513.31,2042.99 1513.31,2042.99 1515.61,1974.68 1518.74,1997.75 1519.88,2009.16 1521.85,2024.79 1523.16,2028.87 1524.3,2022.93 1527.31,2021.19 1528.09,2015.73 1530.47,2003.34 1531.37,2010.81 1533.48,2018.47 1534.66,2022.3 1536.27,2021.85 1539.55,2031.31 1539.58,2025.59 1541.95,2021.62 1544.51,2019.02 1547.43,2004.63 1547.79,2012.45 1550.42,1931.98 1553.46,1924.79 1553.7,1943.48 1556.43,1830.29 1556.66,1782.55 1558.74,1951.43 1559.29,2015.73 1561.17,2014.68 1562.57,1999.31 1564,2009.68 1565.86,2025.59 1566.96,2024.52 1569.14,2009.16 1571.86,2033.98 1572.43,2038.72 1574.19,2033.3 1577.04,2034.7 1577.35,2028.87 1579.58,2027.65 1582.58,2035.72 1583.92,2035.44 1585.61,2032.42 1588.44,2029.41 1590.49,2025.59 1594.38,2028.15 1596.96,2024.85 1597.06,2028.87 1599.21,2034.31 1602.4,2035.56 1603.63,2038.72 1605.32,2039.54 1608.64,2035.07 1610.19,2035.44 1611.89,2036.93 1614.91,2038.39 1616.76,2040.37 1617.9,2041.35 1620.53,2039.6 1622.95,2041.51 1623.33,2040.37 1626.2,2040.79 1628.75,2041.76 1629.9,2042.01 1631.85,2041.32 1634.63,2041.49 1636.47,2040.37 1640.4,2041.52 1643.66,2041.22 1646.99,2041.83 1649.42,2041.77 1649.61,2042.01 1652.74,2042.15 1655.43,2041.76 1658.34,2042.11 1660.62,2041.88 1662.74,2042.01 1663.81,2042.21 1667.12,2041.65 1669.5,2041.91 1671.83,2041.55 1675,2041.76 1677.38,2041.41 1679.16,2041.35 1680.18,2042.08 1682.61,2041.29 1685.27,2041.96 1688.26,2041.6 1691.16,2042.27 1694.22,2041.7 1695.59,2042.01 1697.4,2042.28 1700.72,2041.28 1703.91,2041.73 1706.88,2041.06 1710.2,2041.77 1712.01,2040.69 1716.34,2041.29 1719.04,2040.63 1722.1,2041.9 1724.69,2041.01 1727.63,2042.01 1728.43,2041.35 1730.58,2041.22 1733.59,2041.94 1735.91,2041.43 1738.23,2042.09 1740.57,2041.52 1743.5,2042.25 1744.85,2042.01 1745.99,2041.86 1748.56,2041.95 1751.41,2041.63 1753.93,2041.82 1756.44,2041.14 1759.47,2041.7 1761.27,2041.35 1764.54,2041.7 1767.74,2041.23 1770.28,2041.74 1772.54,2041.74 1775.57,2042.09 1777.69,2042.01 1778.87,2041.92 1781.4,2042.28 1784.01,2041.75 1786.79,2041.72 1790.07,2041.38 1792.77,2041.99 1794.11,2041.35 1795.6,2040.84 1798.61,2041.85 1801.16,2040.59 1803.91,2040.71 1806.37,2039.79 1807.25,2040.37" fill="none" stroke="#ff4848" stroke-width="1.2" stroke-linejoin="round"/>
<polyline points="1513.31,2042.99 1513.31,2042.99 1516.87,2042.61 1520.27,2041.98 1521.52,2042.01 1523.4,2041.32 1525.92,2039.48 1528.09,2038.72 1531.67,2034.49 1534.09,2034.67 1534.66,2032.15 1537.14,2032.7 1539.74,2035.42 1541.22,2035.44 1542.98,2031.03 1546,2029 1547.79,2022.3 1548.97,1992.22 1551.08,1966.47 1553.05,1946.76 1555.02,1959.9 1557.65,1982.89 1559.94,1789.12 1561.46,1909.09 1562.57,2009.16 1564.95,1998.98 1565.86,1986.17 1567.68,1999.36 1569.14,2025.59 1570.18,2022.93 1572.43,2002.6 1575.71,2025.59 1578.99,2009.16 1582.89,2028.64 1583.92,2032.15 1585.31,2028.32 1587.89,2033.02 1588.85,2025.59 1590.4,2025.16 1593.47,2037.08 1593.77,2035.44 1596.01,2033.4 1599.35,2032.84 1600.34,2032.15 1601.78,2032.77 1604.24,2035.43 1606.91,2037.08 1610.47,2037.43 1613.28,2032.26 1613.48,2033.8 1615.73,2035.38 1618.25,2034.35 1620.05,2035.44 1624.22,2033.55 1626.62,2035.44 1630.62,2036.25 1633.05,2038.79 1633.18,2038.72 1636.38,2037.71 1639.49,2037.97 1641.9,2036.61 1643.04,2037.08 1644.32,2038.93 1647.67,2037.29 1651.2,2039.99 1652.89,2038.72 1654.08,2038.38 1656.92,2039.91 1659.43,2039.14 1662.34,2039.4 1662.74,2039.38 1665.26,2038.96 1668.68,2041.02 1672.28,2040.02 1675.27,2040.45 1675.88,2040.37 1678.7,2039.74 1681.91,2040.53 1684.37,2039.92 1687.88,2040.39 1689.02,2040.37 1691.16,2039.93 1693.81,2041 1697.27,2040.42 1700.07,2041.14 1702.97,2040.86 1706.44,2041.69 1708.72,2041.35 1712.63,2041.65 1716.17,2041.17 1718.87,2041.91 1721.79,2041.26 1725.39,2041.71 1727.97,2041.07 1728.43,2041.35 1730.63,2041.47 1733.44,2041.29 1736.94,2041.51 1740.07,2041.01 1743.52,2041.93 1746.12,2040.94 1748.13,2041.35 1749.56,2041.7 1752.95,2041.18 1755.97,2041.81 1758.88,2041.49 1762.27,2041.86 1765.12,2041.72 1767.84,2042.01 1771.64,2041.79 1774.49,2042.09 1777.69,2041.82 1780.76,2042.21 1783.94,2041.79 1787.13,2042.02 1787.55,2042.01 1789.98,2041.76 1793.15,2042.04 1796.44,2041.84 1799.11,2042.11 1802.17,2041.98 1805.12,2042.15 1807.25,2042.01 1808.38,2041.95 1810.86,2042.01 1813.97,2041.88 1816.68,2042.36 1820.24,2041.96 1823.39,2042.31 1826.47,2041.99 1826.96,2042.01 1829.44,2042.09 1832.83,2041.8 1835.47,2042.07 1838.11,2041.87 1840.95,2042.22 1844.04,2042.01" fill="none" stroke="#4848ff" stroke-width="1.2" stroke-linejoin="round"/>
</g>
<line x1="1513.3" y1="1776.4" x2="1844.2" y2="1776.4" stroke="#b5b5b5" stroke-width="1.2"/>
<line x1="1513.3" y1="2043" x2="1844.2" y2="2043" stroke="#b5b5b5" stroke-width="1.2"/>
<line x1="1513.3" y1="1776.4" x2="1513.3" y2="2043" stroke="#9cc6e6" stroke-width="1.2"/>
<line x1="1844.2" y1="1776.4" x2="1844.2" y2="2043" stroke="#f3b096" stroke-width="1.2"/>
<line x1="1513.3" y1="2043" x2="1513.3" y2="2039" stroke="#9a9a9a" stroke-width="1.2"/>
<line x1="1513.3" y1="1776.4" x2="1513.3" y2="1780.4" stroke="#9a9a9a" stroke-width="1.2"/>
<text x="1508.46" y="2068.32" font-family="'Liberation Sans', Arial, sans-serif" font-size="18.6" fill="#262626" textLength="9.67" lengthAdjust="spacingAndGlyphs">0</text>
<line x1="1623.6" y1="2043" x2="1623.6" y2="2039" stroke="#9a9a9a" stroke-width="1.2"/>
<line x1="1623.6" y1="1776.4" x2="1623.6" y2="1780.4" stroke="#9a9a9a" stroke-width="1.2"/>
<text x="1611.54" y="2068.32" font-family="'Liberation Sans', Arial, sans-serif" font-size="18.6" fill="#262626" textLength="24.18" lengthAdjust="spacingAndGlyphs">0.5</text>
<line x1="1733.9" y1="2043" x2="1733.9" y2="2039" stroke="#9a9a9a" stroke-width="1.2"/>
<line x1="1733.9" y1="1776.4" x2="1733.9" y2="1780.4" stroke="#9a9a9a" stroke-width="1.2"/>
<text x="1728.83" y="2068.32" font-family="'Liberation Sans', Arial, sans-serif" font-size="18.6" fill="#262626" textLength="9.67" lengthAdjust="spacingAndGlyphs">1</text>
<line x1="1844.2" y1="2043" x2="1844.2" y2="2039" stroke="#9a9a9a" stroke-width="1.2"/>
<line x1="1844.2" y1="1776.4" x2="1844.2" y2="1780.4" stroke="#9a9a9a" stroke-width="1.2"/>
<text x="1831.81" y="2068.32" font-family="'Liberation Sans', Arial, sans-serif" font-size="18.6" fill="#262626" textLength="24.18" lengthAdjust="spacingAndGlyphs">1.5</text>
<line x1="1513.3" y1="2043" x2="1517.3" y2="2043" stroke="#9cc6e6" stroke-width="1.2"/>
<text x="1498.11" y="2050.39" font-family="'Liberation Sans', Arial, sans-serif" font-size="18.6" fill="#2b87c8" textLength="9.67" lengthAdjust="spacingAndGlyphs">0</text>
<line x1="1513.3" y1="1998.57" x2="1517.3" y2="1998.57" stroke="#9cc6e6" stroke-width="1.2"/>
<text x="1498.28" y="2005.96" font-family="'Liberation Sans', Arial, sans-serif" font-size="18.6" fill="#2b87c8" textLength="9.67" lengthAdjust="spacingAndGlyphs">1</text>
<line x1="1513.3" y1="1954.13" x2="1517.3" y2="1954.13" stroke="#9cc6e6" stroke-width="1.2"/>
<text x="1498.3" y="1961.52" font-family="'Liberation Sans', Arial, sans-serif" font-size="18.6" fill="#2b87c8" textLength="9.67" lengthAdjust="spacingAndGlyphs">2</text>
<line x1="1513.3" y1="1909.7" x2="1517.3" y2="1909.7" stroke="#9cc6e6" stroke-width="1.2"/>
<text x="1498.19" y="1917.09" font-family="'Liberation Sans', Arial, sans-serif" font-size="18.6" fill="#2b87c8" textLength="9.67" lengthAdjust="spacingAndGlyphs">3</text>
<line x1="1513.3" y1="1865.27" x2="1517.3" y2="1865.27" stroke="#9cc6e6" stroke-width="1.2"/>
<text x="1497.94" y="1872.66" font-family="'Liberation Sans', Arial, sans-serif" font-size="18.6" fill="#2b87c8" textLength="9.67" lengthAdjust="spacingAndGlyphs">4</text>
<line x1="1513.3" y1="1820.83" x2="1517.3" y2="1820.83" stroke="#9cc6e6" stroke-width="1.2"/>
<text x="1498.16" y="1828.22" font-family="'Liberation Sans', Arial, sans-serif" font-size="18.6" fill="#2b87c8" textLength="9.67" lengthAdjust="spacingAndGlyphs">5</text>
<line x1="1513.3" y1="1776.4" x2="1517.3" y2="1776.4" stroke="#9cc6e6" stroke-width="1.2"/>
<text x="1498.19" y="1783.79" font-family="'Liberation Sans', Arial, sans-serif" font-size="18.6" fill="#2b87c8" textLength="9.67" lengthAdjust="spacingAndGlyphs">6</text>
<line x1="1844.2" y1="2043" x2="1840.2" y2="2043" stroke="#f3b096" stroke-width="1.2"/>
<text x="1850.05" y="2050.39" font-family="'Liberation Sans', Arial, sans-serif" font-size="18.6" fill="#D9703F" textLength="9.67" lengthAdjust="spacingAndGlyphs">0</text>
<line x1="1844.2" y1="1998.57" x2="1840.2" y2="1998.57" stroke="#f3b096" stroke-width="1.2"/>
<text x="1850.05" y="2005.96" font-family="'Liberation Sans', Arial, sans-serif" font-size="18.6" fill="#D9703F" textLength="29.02" lengthAdjust="spacingAndGlyphs">500</text>
<line x1="1844.2" y1="1954.13" x2="1840.2" y2="1954.13" stroke="#f3b096" stroke-width="1.2"/>
<text x="1850.05" y="1961.52" font-family="'Liberation Sans', Arial, sans-serif" font-size="18.6" fill="#D9703F" textLength="38.69" lengthAdjust="spacingAndGlyphs">1000</text>
<line x1="1844.2" y1="1909.7" x2="1840.2" y2="1909.7" stroke="#f3b096" stroke-width="1.2"/>
<text x="1850.05" y="1917.09" font-family="'Liberation Sans', Arial, sans-serif" font-size="18.6" fill="#D9703F" textLength="38.69" lengthAdjust="spacingAndGlyphs">1500</text>
<line x1="1844.2" y1="1865.27" x2="1840.2" y2="1865.27" stroke="#f3b096" stroke-width="1.2"/>
<text x="1850.05" y="1872.66" font-family="'Liberation Sans', Arial, sans-serif" font-size="18.6" fill="#D9703F" textLength="38.69" lengthAdjust="spacingAndGlyphs">2000</text>
<line x1="1844.2" y1="1820.83" x2="1840.2" y2="1820.83" stroke="#f3b096" stroke-width="1.2"/>
<text x="1850.05" y="1828.22" font-family="'Liberation Sans', Arial, sans-serif" font-size="18.6" fill="#D9703F" textLength="38.69" lengthAdjust="spacingAndGlyphs">2500</text>
<line x1="1844.2" y1="1776.4" x2="1840.2" y2="1776.4" stroke="#f3b096" stroke-width="1.2"/>
<text x="1850.05" y="1783.79" font-family="'Liberation Sans', Arial, sans-serif" font-size="18.6" fill="#D9703F" textLength="38.69" lengthAdjust="spacingAndGlyphs">3000</text>
<text x="1607.57" y="1770.73" font-family="'Liberation Sans', Arial, sans-serif" font-size="20.46" fill="#111" textLength="142.47" lengthAdjust="spacingAndGlyphs" font-weight="bold">Selected Range</text>
<text x="1612.65" y="2095.04" font-family="'Liberation Sans', Arial, sans-serif" font-size="20.46" fill="#262626" textLength="131.82" lengthAdjust="spacingAndGlyphs">Frequency (Hz)</text>
<text transform="translate(1489.59 1992.73) rotate(-90)" x="0" y="0" font-family="'Liberation Sans', Arial, sans-serif" font-size="20.46" fill="#2b87c8" textLength="165.87" lengthAdjust="spacingAndGlyphs">Frequency Density</text>
<text transform="translate(1913.29 1992.73) rotate(-90)" x="0" y="0" font-family="'Liberation Sans', Arial, sans-serif" font-size="20.46" fill="#D9703F" textLength="165.87" lengthAdjust="spacingAndGlyphs">Frequency Density</text>
<rect x="1702.8" y="1784.2" width="133.4" height="44.3" fill="#fff" stroke="#8a8a8a" stroke-width="1.4"/>
<line x1="1706.27" y1="1796.47" x2="1738.02" y2="1796.47" stroke="#ff7070" stroke-width="1.3"/>
<line x1="1706.27" y1="1816.98" x2="1738.02" y2="1816.98" stroke="#7070ff" stroke-width="1.3"/>
<text x="1741.16" y="1802.23" font-family="'Liberation Sans', Arial, sans-serif" font-size="16.74" fill="#262626" textLength="90.77" lengthAdjust="spacingAndGlyphs">Spectra data</text>
<text x="1740.57" y="1822.74" font-family="'Liberation Sans', Arial, sans-serif" font-size="16.74" fill="#262626" textLength="85.43" lengthAdjust="spacingAndGlyphs">Breath Data</text>
<clipPath id="sp6"><rect x="1516.6" y="2144.8" width="320" height="275"/></clipPath>
<g clip-path="url(#sp6)" opacity="0.8">
<polyline points="1516.59,2419.07 1516.59,2419.15 1519.42,2361.89 1519.88,2314.06 1522.18,2189.25 1524.8,2281.21 1526.45,2340.33 1528.56,2313.69 1530.71,2327.19 1533.01,2399.45 1534.66,2327.19 1537.94,2369.89 1541.22,2369.89 1544.03,2381.17 1544.51,2392.88 1546.34,2390.73 1547.79,2363.32 1549.26,2348.97 1552.06,2353.47 1554.98,2375.36 1555.02,2379.74 1557.65,2366.61 1560.89,2369.66 1561.59,2383.03 1563.73,2401.42 1564.21,2399.45 1565.98,2372.21 1567.5,2366.61 1568.8,2372.3 1570.13,2323.91 1571.94,2380.69 1572.43,2402.73 1574.25,2388.11 1575.71,2360.04 1579.25,2393.49 1579.98,2392.88 1582.44,2229.89 1583.26,2187.61 1585.12,2356.77 1585.56,2386.31 1587.56,2297.15 1587.86,2314.06 1590.37,2396.66 1590.49,2396.16 1592.65,2354.72 1593.77,2346.9 1595.14,2358.59 1596.4,2295.99 1597.94,2314.58 1599.68,2379.74 1602.97,2356.75 1605.62,2379.22 1606.25,2373.17 1607.92,2380.53 1610.19,2396.16 1613.42,2402.48 1613.48,2406.02 1615.99,2404.55 1618.41,2402.73 1621.64,2411.2 1623.33,2409.3 1624.78,2409.28 1627.13,2412.87 1629.9,2412.59 1633.18,2412.06 1635.82,2408.58 1636.47,2410.94 1638.97,2413.4 1641.29,2406.98 1643.04,2409.3 1644.51,2411.19 1647.39,2405.72 1649.61,2406.02 1653.22,2402.08 1656.17,2402.73 1658.57,2411.75 1659.46,2415.87 1661.45,2416.23 1664.55,2409.97 1666.03,2409.3 1670.17,2405.04 1672.51,2409.17 1672.6,2406.02 1675.37,2407.25 1678.15,2411.2 1679.16,2409.3 1680.68,2408.76 1683.97,2413.08 1685.73,2412.59 1686.82,2411.88 1689.55,2415.73 1692.3,2415.87 1695.22,2414.77 1697.5,2412.03 1698.87,2412.59 1700.84,2414.05 1703.61,2412.45 1705.44,2414.23 1709.28,2413.58 1712,2414.95 1715.07,2413.83 1715.29,2414.23 1717.88,2416.28 1721.06,2414.89 1723.46,2416.05 1725.76,2415.15 1728.43,2415.87 1732.23,2414.94 1735.33,2415.96 1738.55,2413.86 1741.57,2414.23 1744.57,2414.43 1747.44,2416.7 1749.74,2414 1752.38,2416.95 1754.7,2415.87 1757.32,2417.58 1760.22,2415.05 1763.4,2417.12 1765.71,2416.25 1767.84,2416.53 1768.88,2417.06 1771.13,2415.06 1774.29,2416.08 1777.09,2414.54 1779.99,2416.24 1780.98,2414.23 1782.54,2414.01 1784.96,2415.2 1788.29,2414.85 1791.61,2417.72 1793.96,2415.62 1794.11,2416.53 1796.23,2416.67 1799.01,2415.63 1801.44,2417.27 1803.97,2416.53" fill="none" stroke="#ff4848" stroke-width="1.2" stroke-linejoin="round"/>
<polyline points="1516.59,2419.09 1516.59,2419.15 1519.49,2417.11 1521.52,2414.23 1524.7,2416.68 1528.09,2415.87 1530.7,2413.29 1533.84,2409.12 1534.66,2409.3 1536.43,2408.65 1539.64,2403.82 1541.22,2406.02 1542.29,2404.99 1545.24,2395.22 1546.15,2396.16 1548.82,2393.79 1551.08,2389.6 1554.27,2387.44 1557.51,2373.12 1557.65,2379.74 1560.92,2380.78 1563.83,2352.47 1564.21,2360.04 1566.5,2384.9 1569.14,2406.02 1572.43,2366.61 1576,2385.83 1577.35,2396.16 1578.97,2400.83 1581.64,2386.23 1582.28,2386.31 1584.58,2346.9 1587.2,2281.21 1589.5,2156.41 1592.13,2314.06 1596.05,2291.49 1596.4,2208.96 1599.4,2324.45 1599.68,2353.47 1601.98,2192.54 1605.27,2297.64 1606.91,2294.35 1609.06,2327.16 1610.19,2340.33 1612.19,2313.85 1613.48,2327.19 1615.12,2365.41 1616.76,2343.62 1618.37,2361.02 1620.05,2379.74 1621.6,2380.94 1623.33,2360.04 1625.14,2362.98 1627.61,2383.84 1628.26,2386.31 1630.79,2379.37 1633.18,2373.17 1636.74,2384.72 1638.11,2389.6 1639.42,2395.94 1642.48,2373.98 1643.04,2379.74 1645.73,2385.44 1648.34,2384.88 1649.61,2392.88 1650.97,2388.52 1654.27,2370.03 1654.53,2376.46 1656.88,2369.87 1659.46,2360.04 1663.42,2374.95 1664.39,2373.17 1666.82,2368.62 1669.31,2383.03 1670.37,2396.82 1673.24,2378.21 1675.88,2376.46 1679.75,2386.27 1682.28,2400.15 1682.45,2399.45 1685.51,2381.37 1687.38,2379.74 1691.39,2391.01 1693.94,2399.45 1698.15,2384.07 1698.87,2386.31 1700.82,2401.11 1703.8,2402.73 1706.69,2401.76 1709.34,2389.48 1710.37,2389.6 1712.83,2401.71 1715.52,2400.17 1716.93,2406.02 1718.99,2403.71 1721.39,2397.59 1723.5,2396.16 1724.63,2403.46 1728.05,2402.23 1730.07,2406.02 1731.56,2409.81 1734.88,2393.58 1736.64,2396.16 1738.24,2399.17 1741.3,2396.17 1743.21,2402.73 1744.21,2405.62 1746.92,2404.46 1749.78,2406.02 1752.86,2401.1 1756.35,2399.45 1759.55,2398.2 1762.15,2404.9 1762.91,2402.73 1765.63,2403.36 1768.59,2410.45 1769.48,2409.3 1771.59,2406.97 1774.68,2410.33 1776.05,2406.02 1778.19,2405.4 1781.22,2412.45 1782.62,2410.94 1783.73,2408.06 1786.8,2406.27 1789.19,2402.73 1793.16,2408 1795.76,2409.3 1799.31,2408.73 1802.33,2406.02 1806.01,2412.96 1808.89,2412.59 1811.52,2412.86 1814.74,2405.4 1815.46,2406.02 1817.62,2412.76 1820.42,2410.01 1822.03,2412.59 1823.88,2413.63 1826.67,2409.8 1828.6,2410.94 1831.85,2405.76 1835.32,2405.3 1836.81,2399.45" fill="none" stroke="#4848ff" stroke-width="1.2" stroke-linejoin="round"/>
</g>
<line x1="1516.6" y1="2146.8" x2="1836.6" y2="2146.8" stroke="#b5b5b5" stroke-width="1.2"/>
<line x1="1516.6" y1="2419.8" x2="1836.6" y2="2419.8" stroke="#b5b5b5" stroke-width="1.2"/>
<line x1="1516.6" y1="2146.8" x2="1516.6" y2="2419.8" stroke="#9cc6e6" stroke-width="1.2"/>
<line x1="1836.6" y1="2146.8" x2="1836.6" y2="2419.8" stroke="#f3b096" stroke-width="1.2"/>
<line x1="1516.6" y1="2419.8" x2="1516.6" y2="2415.8" stroke="#9a9a9a" stroke-width="1.2"/>
<line x1="1516.6" y1="2146.8" x2="1516.6" y2="2150.8" stroke="#9a9a9a" stroke-width="1.2"/>
<text x="1511.86" y="2445.12" font-family="'Liberation Sans', Arial, sans-serif" font-size="18.6" fill="#262626" textLength="9.49" lengthAdjust="spacingAndGlyphs">0</text>
<line x1="1623.27" y1="2419.8" x2="1623.27" y2="2415.8" stroke="#9a9a9a" stroke-width="1.2"/>
<line x1="1623.27" y1="2146.8" x2="1623.27" y2="2150.8" stroke="#9a9a9a" stroke-width="1.2"/>
<text x="1611.44" y="2445.12" font-family="'Liberation Sans', Arial, sans-serif" font-size="18.6" fill="#262626" textLength="23.71" lengthAdjust="spacingAndGlyphs">0.5</text>
<line x1="1729.93" y1="2419.8" x2="1729.93" y2="2415.8" stroke="#9a9a9a" stroke-width="1.2"/>
<line x1="1729.93" y1="2146.8" x2="1729.93" y2="2150.8" stroke="#9a9a9a" stroke-width="1.2"/>
<text x="1724.96" y="2445.12" font-family="'Liberation Sans', Arial, sans-serif" font-size="18.6" fill="#262626" textLength="9.49" lengthAdjust="spacingAndGlyphs">1</text>
<line x1="1836.6" y1="2419.8" x2="1836.6" y2="2415.8" stroke="#9a9a9a" stroke-width="1.2"/>
<line x1="1836.6" y1="2146.8" x2="1836.6" y2="2150.8" stroke="#9a9a9a" stroke-width="1.2"/>
<text x="1824.45" y="2445.12" font-family="'Liberation Sans', Arial, sans-serif" font-size="18.6" fill="#262626" textLength="23.71" lengthAdjust="spacingAndGlyphs">1.5</text>
<line x1="1516.6" y1="2419.8" x2="1520.6" y2="2419.8" stroke="#9cc6e6" stroke-width="1.2"/>
<text x="1501.7" y="2427.19" font-family="'Liberation Sans', Arial, sans-serif" font-size="18.6" fill="#2b87c8" textLength="9.49" lengthAdjust="spacingAndGlyphs">0</text>
<line x1="1516.6" y1="2351.55" x2="1520.6" y2="2351.55" stroke="#9cc6e6" stroke-width="1.2"/>
<text x="1501.89" y="2358.94" font-family="'Liberation Sans', Arial, sans-serif" font-size="18.6" fill="#2b87c8" textLength="9.49" lengthAdjust="spacingAndGlyphs">2</text>
<line x1="1516.6" y1="2283.3" x2="1520.6" y2="2283.3" stroke="#9cc6e6" stroke-width="1.2"/>
<text x="1501.53" y="2290.69" font-family="'Liberation Sans', Arial, sans-serif" font-size="18.6" fill="#2b87c8" textLength="9.49" lengthAdjust="spacingAndGlyphs">4</text>
<line x1="1516.6" y1="2215.05" x2="1520.6" y2="2215.05" stroke="#9cc6e6" stroke-width="1.2"/>
<text x="1501.78" y="2222.44" font-family="'Liberation Sans', Arial, sans-serif" font-size="18.6" fill="#2b87c8" textLength="9.49" lengthAdjust="spacingAndGlyphs">6</text>
<line x1="1516.6" y1="2146.8" x2="1520.6" y2="2146.8" stroke="#9cc6e6" stroke-width="1.2"/>
<text x="1501.78" y="2154.19" font-family="'Liberation Sans', Arial, sans-serif" font-size="18.6" fill="#2b87c8" textLength="9.49" lengthAdjust="spacingAndGlyphs">8</text>
<line x1="1836.6" y1="2419.8" x2="1832.6" y2="2419.8" stroke="#f3b096" stroke-width="1.2"/>
<text x="1842.34" y="2427.19" font-family="'Liberation Sans', Arial, sans-serif" font-size="18.6" fill="#D9703F" textLength="9.49" lengthAdjust="spacingAndGlyphs">0</text>
<line x1="1836.6" y1="2365.2" x2="1832.6" y2="2365.2" stroke="#f3b096" stroke-width="1.2"/>
<text x="1842.34" y="2372.59" font-family="'Liberation Sans', Arial, sans-serif" font-size="18.6" fill="#D9703F" textLength="28.46" lengthAdjust="spacingAndGlyphs">200</text>
<line x1="1836.6" y1="2310.6" x2="1832.6" y2="2310.6" stroke="#f3b096" stroke-width="1.2"/>
<text x="1842.34" y="2317.99" font-family="'Liberation Sans', Arial, sans-serif" font-size="18.6" fill="#D9703F" textLength="28.46" lengthAdjust="spacingAndGlyphs">400</text>
<line x1="1836.6" y1="2256" x2="1832.6" y2="2256" stroke="#f3b096" stroke-width="1.2"/>
<text x="1842.34" y="2263.39" font-family="'Liberation Sans', Arial, sans-serif" font-size="18.6" fill="#D9703F" textLength="28.46" lengthAdjust="spacingAndGlyphs">600</text>
<line x1="1836.6" y1="2201.4" x2="1832.6" y2="2201.4" stroke="#f3b096" stroke-width="1.2"/>
<text x="1842.34" y="2208.79" font-family="'Liberation Sans', Arial, sans-serif" font-size="18.6" fill="#D9703F" textLength="28.46" lengthAdjust="spacingAndGlyphs">800</text>
<line x1="1836.6" y1="2146.8" x2="1832.6" y2="2146.8" stroke="#f3b096" stroke-width="1.2"/>
<text x="1842.34" y="2154.19" font-family="'Liberation Sans', Arial, sans-serif" font-size="18.6" fill="#D9703F" textLength="37.94" lengthAdjust="spacingAndGlyphs">1000</text>
<text x="1606.79" y="2141.13" font-family="'Liberation Sans', Arial, sans-serif" font-size="20.46" fill="#111" textLength="139.72" lengthAdjust="spacingAndGlyphs" font-weight="bold">Selected Range</text>
<text x="1611.77" y="2472.14" font-family="'Liberation Sans', Arial, sans-serif" font-size="20.46" fill="#262626" textLength="129.28" lengthAdjust="spacingAndGlyphs">Frequency (Hz)</text>
<text transform="translate(1492.89 2368.25) rotate(-90)" x="0" y="0" font-family="'Liberation Sans', Arial, sans-serif" font-size="20.46" fill="#2b87c8" textLength="167.59" lengthAdjust="spacingAndGlyphs">Frequency Density</text>
<text transform="translate(1903.39 2368.25) rotate(-90)" x="0" y="0" font-family="'Liberation Sans', Arial, sans-serif" font-size="20.46" fill="#D9703F" textLength="167.59" lengthAdjust="spacingAndGlyphs">Frequency Density</text>
<rect x="1699.5" y="2156.4" width="129.1" height="44.3" fill="#fff" stroke="#8a8a8a" stroke-width="1.4"/>
<line x1="1702.86" y1="2168.67" x2="1733.58" y2="2168.67" stroke="#ff7070" stroke-width="1.3"/>
<line x1="1702.86" y1="2189.18" x2="1733.58" y2="2189.18" stroke="#7070ff" stroke-width="1.3"/>
<text x="1736.62" y="2174.43" font-family="'Liberation Sans', Arial, sans-serif" font-size="16.74" fill="#262626" textLength="87.85" lengthAdjust="spacingAndGlyphs">Spectra data</text>
<text x="1736.06" y="2194.94" font-family="'Liberation Sans', Arial, sans-serif" font-size="16.74" fill="#262626" textLength="82.67" lengthAdjust="spacingAndGlyphs">Breath Data</text>
</svg></body></html>
